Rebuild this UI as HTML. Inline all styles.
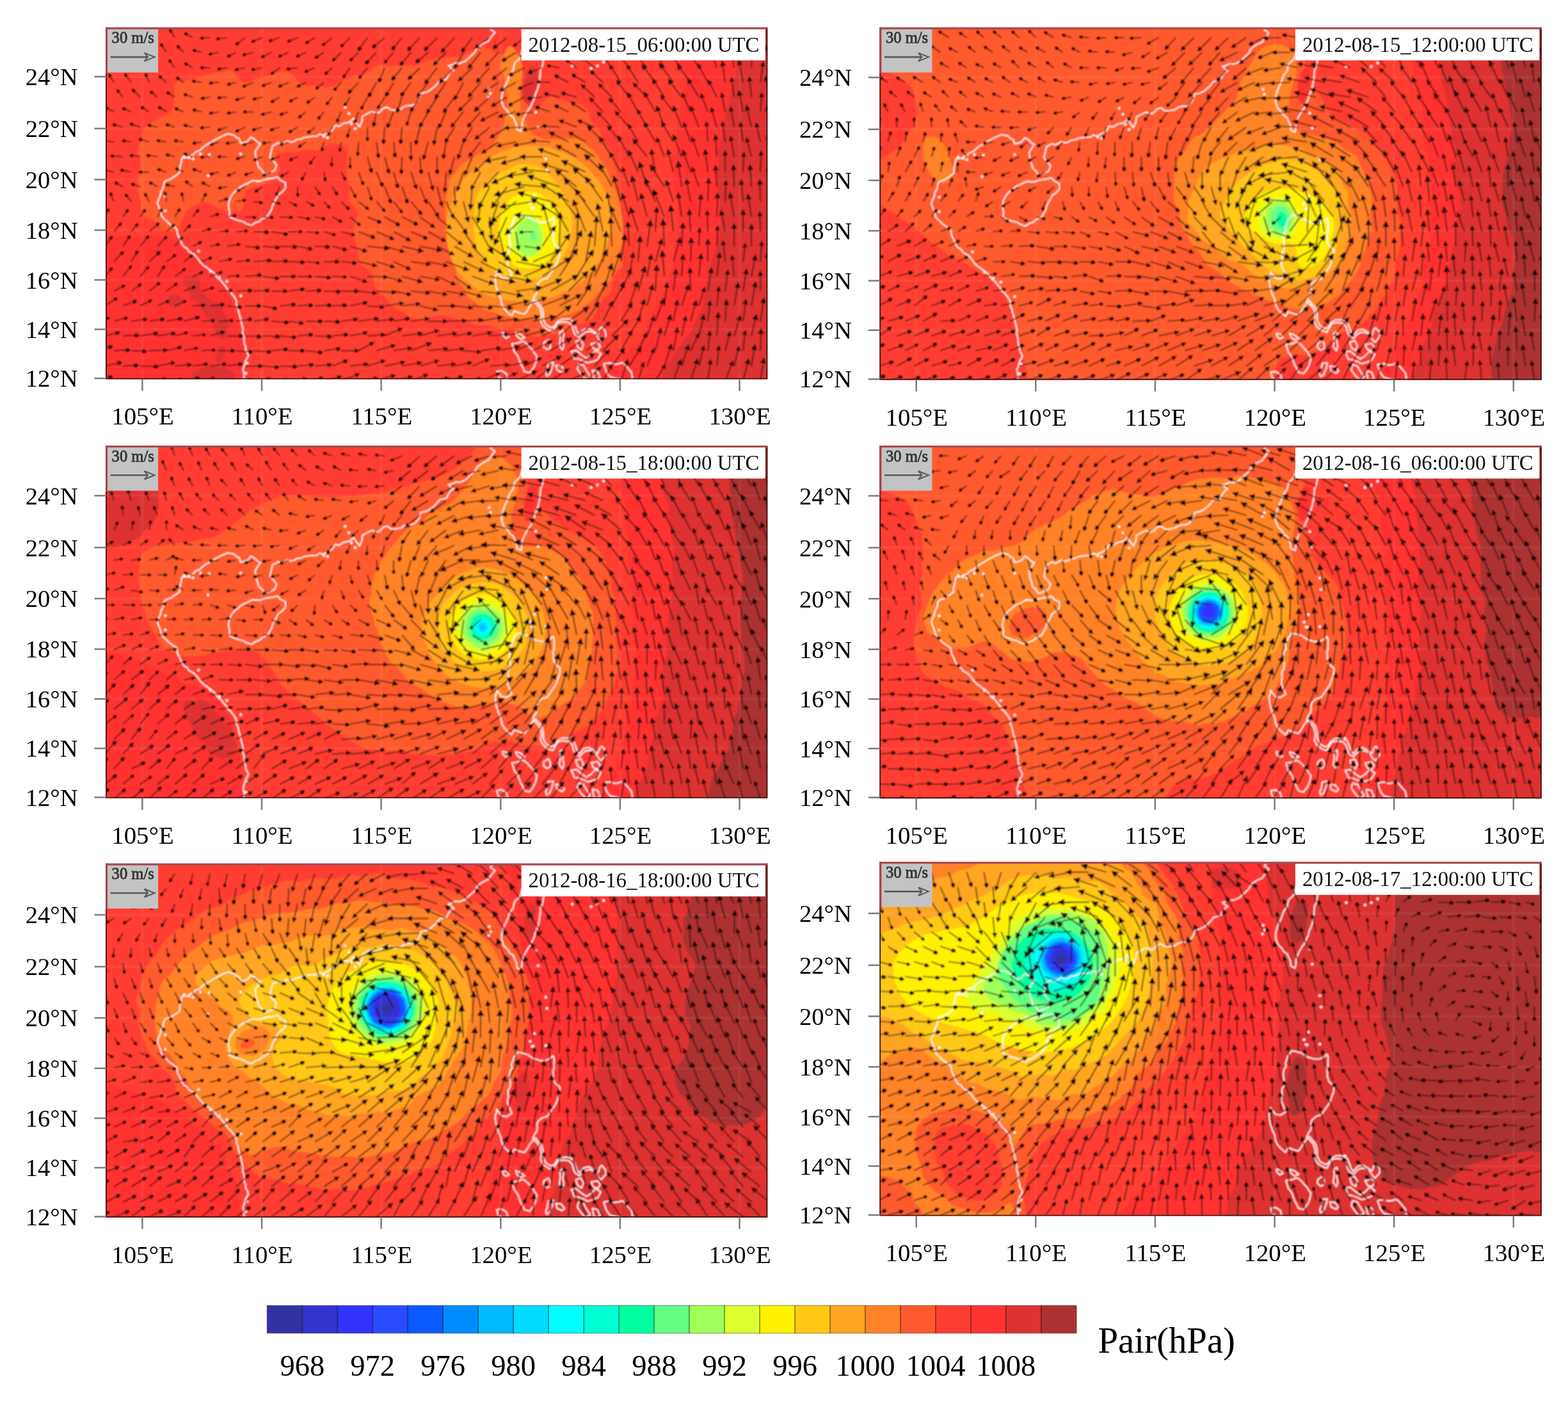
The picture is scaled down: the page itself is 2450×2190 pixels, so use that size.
<!DOCTYPE html>
<html lang="en"><head><meta charset="utf-8"><title>Pair and wind</title>
<style>html,body{margin:0;padding:0;background:#fff}body{width:2450px;height:2190px;overflow:hidden}svg{display:block;font-family:'Liberation Serif', 'DejaVu Serif', serif}</style>
</head><body>
<svg xmlns="http://www.w3.org/2000/svg" width="2450" height="2190" viewBox="0 0 2450 2190">
<rect width="2450" height="2190" fill="#fff"/>
<defs><marker id="a0" viewBox="0 0 5.70 5.99" refX="2.85" refY="2.99" markerWidth="5.70" markerHeight="5.99" markerUnits="userSpaceOnUse" orient="auto" overflow="visible"><path d="M0 0.48Q4.28 0.00 5.70 2.99Q4.28 5.99 0 5.51Q-0.68 2.99 0 0.48z" fill="#0c0200" stroke="none"/></marker><marker id="a1" viewBox="0 0 6.88 7.22" refX="3.44" refY="3.61" markerWidth="6.88" markerHeight="7.22" markerUnits="userSpaceOnUse" orient="auto" overflow="visible"><path d="M0 0.58Q5.16 0.00 6.88 3.61Q5.16 7.22 0 6.64Q-0.82 3.61 0 0.58z" fill="#0c0200" stroke="none"/></marker><marker id="a2" viewBox="0 0 8.05 8.05" refX="4.03" refY="4.03" markerWidth="8.05" markerHeight="8.05" markerUnits="userSpaceOnUse" orient="auto" overflow="visible"><path d="M0 0L8.05 4.03L0 8.05z" fill="#0c0200" stroke="none"/></marker><marker id="a3" viewBox="0 0 9.23 9.23" refX="4.61" refY="4.61" markerWidth="9.23" markerHeight="9.23" markerUnits="userSpaceOnUse" orient="auto" overflow="visible"><path d="M0 0L9.23 4.61L0 9.23z" fill="#0c0200" stroke="none"/></marker><marker id="a4" viewBox="0 0 10.40 10.40" refX="5.20" refY="5.20" markerWidth="10.40" markerHeight="10.40" markerUnits="userSpaceOnUse" orient="auto" overflow="visible"><path d="M0 0L10.40 5.20L0 10.40z" fill="#0c0200" stroke="none"/></marker></defs>
<defs><filter id="bl" x="-2%" y="-2%" width="104%" height="104%"><feGaussianBlur stdDeviation="1.0"/></filter></defs>
<g transform="translate(165.1,42.8)">
<clipPath id="cp0"><rect x="0" y="0" width="1034.2" height="549.6"/></clipPath>
<g clip-path="url(#cp0)"><g filter="url(#bl)">
<rect x="-2" y="-2" width="1038.2" height="553.6" fill="#ff3e32"/><path d="M-26 331l3-1 3 0 4-1 3 0 3-1 3-1 3 0 3 0 4 0 3 0 3-1 4 0 3 0 4 0 3 0 4 0 3 1 4 1 3 1 4 0 3 0 4-1 4 0 3-1 4-1 3 0 3 0 4 0 3 0 4 0 3 1 3 0 4 0 3 1 3 0 3 1 3 1 4 0 3 1 3 1 3 1 3 2 3 2 3 2 3 2 2 2 3 3 3 2 3 2 2 2 3 2 3 2 2 2 3 2 3 2 3 2 2 2 3 2 3 2 2 3 2 3 2 3 2 2 2 3 2 3 2 2 2 3 2 2 2 3 2 3 2 2 3 3 2 3 1 3 2 3 1 3 1 3 1 3 0 4 1 3 0 3 1 4 2 3 1 2 2 3 1 4 1 3 1 3 0 3 1 4 0 3 1 3 1 3 1 4 1 3 1 3 1 4 1 3 0 4 1 3 0 4 1 3 0 4 0 3 0 4 1 4 0 3 0 4 1 3 1 4 1 3 1 4 1 3 0 3 1 4 1 3 0 3 0 4 -1 3 0 3 -1 3 -1 3 -1 3 -1 3 -2 3 -1 3 -2 2 -2 2 -2 2 -3 2 -2 2 -2 2 -2 3 -2 2 -2 2 -2 1 -3 2 -3 2 -2 2 -3 1 -3 2 -2 2 -3 1 -4 1 -3 1 -4 0 -3 1 -3 0 -4 1 -3 1 -4 2 -3 2 -4 1 -3 1 -4 1 -4 0 -4 1 -4 0 -4 0 -4 0 -4 0 -4 0 -4 0 -4 0 -5 0 -4 0 -4 0 -4 0 -5 0 -4-1 -4 0 -4-2 -4-1 -5-1 -4-2 -4-1 -4-1 -4-2 -4-1 -4-2 -4-2 -4-1 -4-2 -4-2 -4-2 -4-2 -3-2 -4-2 -3-3 -3-3 -3-3 -3-3 -3-3 -3-3 -3-3 -3-3 -3-2 -3-3 -3-3 -3-3 -3-3 -3-3 -2-4 -3-3 -2-4 -1-4 -2-4 -1-4 -1-4 -2-4 -2-4 -2-3 -2-4 -3-3 -2-4 -1-4 -1-4 -1-4 -1-4 -1-4 -1-4 -2-4 -1-4 -1-5 -1-4 -1-4 -1-4 0-4 0-4 0-4 0-4 0-4 1-4 0-4 1-4 0-4 0-4 1-4 0-4 0-4 0-4 0-4 0-3 0-4 1-4 1-3 1-4 2-3 1-3 2-4 2-3 2-3 2-2 2-3 2-3 2-2 3-2 2-2 2-2 3-2 2-2 2-2 2-2 3-2 2-2 3-1 3-1 2-2zM903 -25l-2 2 -1 2 -1 3 -1 2 0 3 0 3 0 3 0 3 0 3 -1 3 0 3 -1 4 0 3 0 3 0 4 0 3 1 4 1 3 0 4 0 3 0 4 0 3 0 4 0 3 1 4 0 3 2 4 1 3 1 4 1 3 1 4 1 3 0 4 0 3 0 3 0 4 -1 3 -1 3 -1 3 0 4 -1 3 -1 3 0 3 -1 3 -1 3 -1 3 -1 3 -1 4 0 3 0 3 0 3 0 3 -1 3 0 3 -1 4 -1 3 0 3 -1 3 1 3 0 4 0 3 1 3 0 3 0 4 -1 3 0 3 0 3 -1 3 0 4 -1 3 -1 3 0 3 -1 4 0 3 -1 3 0 3 0 4 0 3 0 3 -1 3 0 4 -1 3 0 3 1 3 0 4 1 3 1 3 1 3 1 3 0 4 1 3 1 3 0 3 1 3 0 4 0 3 0 3 0 3 0 4 0 3 1 3 0 3 0 4 -1 3 0 3 -1 3 -1 3 -2 4 -1 3 0 3 0 3 -1 3 0 4 0 3 0 3 0 3 0 4 0 3 0 3 0 3 0 4 0 3 -1 3 0 3 -2 3 -1 4 -1 2 -2 3 -1 3 -2 3 -1 3 -1 3 -1 3 -1 4 0 3 -1 3 -1 3 -1 3 -2 3 -1 3 -2 2 -2 3 -2 3 -1 3 -1 3 -1 3 -1 3 -2 3 -2 3 -1 2 -2 3 -2 3 -2 3 -1 3 -1 3 -1 3 -1 3 -1 4 -1 3 -1 3 -2 3 -1 3 -2 2 -3 3 -2 2 -3 2 -2 2 -3 2 -3 2 -2 2 -3 2 -3 1 -2 2 -3 2 -3 1 -3 2 -2 2 -2 2 -3 3 -2 2 -2 2 -3 3 -2 2 -3 2 -2 2 -3 3 -1 3 -2 3 -1 3 -1 3 -2 3 -1 3 -1 3 -2 3 -1 3 -1 3 -2 2 -1 3 -1 3 -2 2 -1 3 0 3 -1 2 0 3 0 2 0 3 0 2 0 2 1 3 0 2 0 3 2 2 1 2 2 1 2 2 2 1 2 1 2 1 2 1 2 1 3 1 2 1 2 1 3 1 2 1 2 1 3 2 2 1 3 0 3 1 3 1 3 0 3 1 3 2 3 1 3 2 3 1 3 1 4 0 4 1 3 0 4 0 4-1 4 0 4 0 3-1 4 0 4-1 4-1 5-1 4-1 4 0 4 0 4 0 5 0 4 0 5 0 4 0 5 0 4-1 5-1 4-1 5-1 4-2 5-1 4-1 5-1 4-1 5 0 5-1 5-1 4-1 5-2 4-1 5-2 5-2 4-1 5-1 5-1 4-2 5-1 5-2 4-2 4-3 4-3 4-3 4-2 4-3 4-3 4-2 4-3 4-2 5-2 4-1 4-2 5-2 4-2 4-2 4-2 4-2 4-3 4-2 4-2 4-2 4-3 3-2 3-3 4-3 3-3 3-3 4-3 3-2 4-3 3-3 3-3 3-3 2-4 3-3 2-4 3-3 3-3 3-3 2-3 3-3 3-3 3-3 3-3 3-3 3-3 3-3 3-3 2-4 3-3 2-3 2-4 3-3 3-3 2-3 3-3 2-4 2-3 1-4 2-4 1-4 1-4 1-4 2-4 1-4 1-3 1-4 1-4 1-4 2-4 1-3 2-4 1-3 1-4 2-4 0-4 2-4 1-3 1-4 2-3 2-4 2-4 2-3 1-4 1-4 0-4 1-4 0-3 1-4 0-4 0-4 0-4 0-4 -1-4 0-4 0-4 0-4 0-3 1-4 1-4 0-4 1-4 1-4 0-3 1-4 0-4 -1-4 0-4 -1-4 -1-4 0-3 0-4 0-4 0-4 0-4 0-4 0-3 -1-4 -1-4 -1-4 -1-3 -1-4 0-4 0-4 -1-4 0-4 -1-3 -2-4 -1-3 -2-4 -3-3 -2-3 -2-4 -2-3 -2-3 -1-4 -2-3 -1-4 -1-3 -1-4 -1-4 -1-3 -2-4 -1-3 -1-4 -2-3 -1-4 -1-4 -2-3 -2-4 -2-3 -2-3 -2-3 -3-3 -2-3 -2-3 -2-3 -2-4 -2-3 -2-3 -3-3 -3-2 -3-3 -3-2 -3-3 -2-2 -3-3 -3-3 -2-3 -3-3 -2-3 -3-3 -2-3 -3-3 -2-3 -3-3 -3-2 -3-3 -3-2 -3-3 -3-2 -3-3 -3-3 -2-3 -4-2 -3-3 -4-2 -3-1 -4-2 -4-1 -4-1 -4-2 -3-1 -4-2 -4-1 -4-1 -4-2 -4-1 -4-2 -3-2 -4-2 -4-1 -4-2 -4-1 -4-1 -4-1 -4-2 -4-2 -3-2 -4-2 -4-2 -4-1 -4-1 -4-1 -4-1 -4 0 -4-1 -3 0 -4 0 -4 0 -4 0 -4 1 -3 0 -4 1 -4 0 -3 0 -3 0 -4-1 -3 0 -3 0 -4 0 -3-1 -3 1 -3 0 -3 1 -2 1 -3 1 -2 2 -2 2 -3 1 -2 1 -2 1 -3 1 -2 1 -2 2 -2 2 -1 2 -2 3z" fill="#ff3232"/><path d="M982 -27l-1 2 -1 3 -1 3 -1 2 0 3 0 3 0 3 0 3 0 3 0 4 0 3 1 3 1 4 1 3 1 4 1 4 1 3 0 4 1 4 0 3 0 4 -1 4 0 3 1 4 0 4 1 3 0 4 0 3 0 3 -1 4 -1 3 -1 3 -1 3 -1 3 0 3 -1 4 -1 3 -1 3 -1 3 0 3 -1 3 -1 3 0 3 -1 3 -1 3 -1 3 -1 3 -1 3 -1 4 -1 3 0 3 -1 3 0 3 -1 4 -1 3 -1 3 0 3 -1 3 0 4 0 3 0 3 -1 3 0 4 -1 3 -1 3 -1 3 -1 3 -1 3 0 4 0 3 1 3 0 4 0 3 0 3 -1 3 0 3 -1 4 0 3 -1 3 0 3 0 3 0 4 0 3 0 3 1 3 0 4 1 3 1 3 1 3 0 3 1 4 -1 3 0 3 0 3 0 4 0 3 1 3 0 3 1 4 0 3 0 3 1 4 -1 3 0 3 0 3 -1 4 -1 3 0 3 -1 3 -1 3 0 3 -1 4 -1 3 0 3 -1 3 -2 3 -1 3 -1 3 -1 3 -1 3 -1 3 -1 3 0 4 -1 3 -1 3 -1 3 0 3 -1 3 -1 4 -1 3 0 3 -1 3 0 3 -1 4 0 3 -1 3 -1 3 0 3 -1 3 -1 4 -1 3 0 3 0 3 -1 4 -1 3 0 3 -2 3 -1 3 -2 3 -2 2 -2 3 -1 3 -1 3 -2 3 -1 3 -1 4 -1 2 -2 3 -2 3 -2 2 -2 3 -2 2 -3 3 -1 2 -2 3 -2 2 -2 3 -2 3 -2 2 -1 3 -2 3 -2 3 -2 2 -2 3 -2 3 -2 3 -2 3 -1 3 -1 3 -2 3 -1 4 -1 3 -1 3 -1 3 -1 4 -1 3 0 3 0 3 0 4 0 3 0 3 0 3 0 3 0 2 1 3 1 3 1 2 2 2 2 2 2 1 2 2 2 1 2 2 2 1 2 2 3 1 2 2 2 1 3 1 3 1 2 1 3 1 3 0 4 0 3 0 3-1 3 0 4 0 3 0 4 0 3 1 4 0 4 0 3 0 4 0 4-1 4 0 4-1 4-1 4 0 4-1 4 0 4-1 5 0 4-1 4 0 5-1 4-1 4-1 5-1 4-1 4-2 5-1 4-1 5-2 4-1 4-1 5-2 4-2 4-2 4-2 4-2 4-2 4-3 4-2 4-2 4-2 4-2 3-3 4-2 4-3 3-2 4-3 3-3 3-2 4-3 3-3 4-2 3-3 3-3 3-4 3-3 2-3 3-3 3-3 3-3 4-3 3-2 3-3 3-3 3-3 2-4 2-3 2-4 3-3 2-4 3-3 3-3 3-3 2-3 3-3 2-4 3-3 2-4 2-3 2-4 2-3 2-4 2-3 2-4 2-3 2-4 3-3 2-4 2-3 2-4 2-4 2-3 1-4 2-4 2-4 1-3 2-4 2-4 1-4 1-4 1-4 1-4 1-4 2-4 1-4 2-3 1-4 1-4 1-4 0-4 0-5 0-4 1-4 0-4 0-4 1-4 0-4 1-4 1-4 0-4 1-4 0-4 0-4 1-4 -1-4 0-4 0-4 -1-4 -1-4 0-4 -1-4 1-4 0-4 0-4 0-4 0-4 0-4 0-4 -1-4 -1-4 0-4 -1-4 0-4 -1-4 0-3 0-4 0-4 0-4 -1-4 0-4 -1-4 -1-4 0-4 -1-4 -1-3 -1-4 -1-4 0-4 -1-4 -1-4 -2-3 -1-4 -2-3 -1-4 -2-3 -2-4 -1-3 -2-4 -1-3 -2-4 -2-3 -2-4 -2-3 -2-3 -2-3 -2-4 -2-3 -2-3 -2-3 -2-3 -3-3 -2-3 -3-3 -2-3 -3-2 -3-3 -3-3 -2-3 -2-3 -2-3 -2-3 -3-3 -2-2 -3-3 -3-2 -3-2 -4-2 -2-3 -3-2 -3-3 -3-3 -2-2 -3-3 -3-2 -3-2 -3-3 -4-2 -3-2 -3-2 -3-2 -4-1 -3-2 -4-2 -3-2 -3-3 -4-2 -3-2 -3-2 -4-1 -4-2 -4-2 -3-1 -4-2 -4-1 -4-2 -4-1 -4-1 -4-1 -4-1 -4 0 -4-1 -4-1 -4-1 -3-1 -4-1 -4 0 -3 0 -4 0 -3 1 -3 1 -3 1 -3 2 -3 1 -2 1 -2 1 -3 1 -2 1 -2 2zM123 391l3-2 4-1 4 0 4 1 4 0 3 2 2 3 1 4 0 4 0 4 1 4 1 3 3 3 3 2 3 3 2 2 3 3 3 1 4 1 4 1 4 2 2 3 1 4 1 3 2 4 1 3 2 3 2 3 1 3 1 3 0 4 0 4 -1 4 -1 4 -1 3 0 3 -1 3 -3 2 -4 0 -4-2 -3-3 -3-4 -1-4 -1-3 -1-4 -1-3 -1-3 -3-3 -2-3 -3-2 -3-2 -1-4 -2-3 -2-3 -2-3 -2-3 -1-3 -2-3 -3-2 -3-1 -4-2 -1-4 -1-4 -1-5 -2-3 -2-3 -3-3 -2-4 0-3zM121 427l-1 3 -1 2 -2 2 -2 2 -2 1 -3 1 -2 0 -3-1 -3 0 -2-2 -2-2 -1-2 -1-2 0-3 1-3 1-2 2-1 2-2 3-1 3 0 2 0 3 1 2 1 2 1 2 2 1 3zM186 513l-1 3 -2 2 -1 2 -2 2 -2 2 -3 0 -2-2 -1-2 -1-3 0-2 1-3 0-2 0-3 2-2 1-2 2-3 2-1 3-1 2 0 2 3 1 2 0 3 0 2 -1 3zM201 544l0 3 -1 2 -2 2 -2 2 -2 1 -2 1 -3 1 -2 0 -3 1 -2 1 -2 1 -3 0 -3 0 -2 1 -3 0 -2 0 -3 0 -3-1 -2 0 -3 0 -2 0 -3-1 -3-1 -2 0 -2-1 -3-2 -2-1 -2-2 -1-3 -1-2 -1-3 1-2 1-3 2-1 2-2 2-1 3 0 2-1 3-1 2-1 3 0 2-1 3 0 2-1 3 0 2 0 3 0 3 0 2 0 3 1 3 0 2 0 3 1 2 1 3 1 2 1 2 1 2 2 2 2 1 3zM674 92l-1 3 -2 2 -1 2 0 3 0 2 0 3 0 3 -1 2 -1 3 -2 2 -2 1 -3 1 -2 1 -2-1 -2-2 -1-2 -1-3 0-3 0-2 0-3 -1-2 0-3 0-2 1-3 0-2 0-3 0-3 1-2 1-3 1-2 0-3 0-2 1-3 2-2 1-2 1-2 2-2 2-2 3 0 2 1 0 3 1 2 2 2 1 2 0 3 0 3 0 2 0 3 0 2 1 3 0 3z" fill="#de3232"/><path d="M370 184l4 2 2 3 1 3 0 4 0 4 0 4 0 3 0 4 0 5 0 4 0 4 0 4 1 4 0 4 1 4 1 4 1 3 0 4 0 4 0 3 -1 4 0 3 0 4 1 3 2 3 3 3 3 3 2 3 2 3 1 4 -1 4 -1 4 -1 3 -2 4 -1 3 0 3 -1 4 1 4 0 3 1 4 1 4 0 3 1 4 1 3 1 3 1 3 0 3 1 4 0 4 1 4 1 3 1 4 3 3 3 2 3 2 4 3 2 2 3 3 1 3 1 4 1 4 0 4 1 3 2 4 2 2 2 3 3 2 3 3 2 2 2 3 2 3 3 3 2 3 2 3 3 2 2 2 3 3 4 1 3 2 3 2 3 2 4 1 3 2 3 2 3 1 3 2 3 1 4 0 3 0 4 0 3-1 4-1 3-1 4-1 3-1 4-1 4 0 3 0 4 0 4 1 3 1 3 1 4 1 3 1 4 1 3 0 4 1 3 1 4 1 3 2 4 1 3 1 3 1 4 1 4 0 3 0 4 0 4 0 3 0 4 1 3 1 3 2 4 1 3 1 4 0 3 0 4 0 4-1 4 0 3 1 4 1 3 2 3 2 3 2 4 1 3 1 4 1 3 1 4 1 3 0 4 0 4 0 3-1 4-1 3-1 4 0 3-1 4 0 4 0 3 0 4 0 4-1 3-2 3-2 2-3 3-3 3-2 3-2 3-1 4 0 4-1 4 0 4-1 3-2 3-2 3-3 2-3 2-3 2-3 2-4 1-3 2-3 2-3 2-3 2-3 2-2 3-3 3-2 2-3 2-3 2-3 0-4 1-4 0-4 0-4 2-3 1-3 3-3 2-2 3-3 3-3 1-3 1-4 1-3 -1-4 0-4 0-3 -1-4 1-4 0-3 0-4 0-4 0-3 0-4 -1-4 0-3 -1-4 -1-3 -1-4 0-3 0-4 -1-3 1-4 0-4 0-3 0-4 0-3 0-4 0-3 -1-4 0-3 -1-4 0-3 -1-4 0-4 -1-3 0-4 0-3 0-4 0-3 0-4 0-4 -1-3 -1-4 -1-3 -1-4 -1-3 0-3 -1-4 -1-4 -1-3 -1-3 -2-4 -3-2 -2-3 -3-3 -2-3 -1-3 -2-3 0-4 -1-4 -1-3 -2-3 -2-3 -3-2 -3-3 -3-3 -2-3 -1-3 -1-4 -1-3 -1-3 -2-4 -2-3 -3-2 -2-2 -4-2 -3-2 -3-1 -4-1 -4-1 -3 0 -4-1 -4 0 -3-1 -3-1 -4-1 -3-1 -4-2 -4 0 -3 0 -4 2 -3 3 -2 3 -2 2 -3 3 -3 3 -3 2 -4 1 -4 0 -1-2 -1-1 -2-2 -3-3 -2-2 -3-4 -3-3 -3-3 -2-3 -2-3 -2-4 -1-3 -1-4 1-3 1-4 1-3 2-3 2-3 1-4 0-3 0-4 -1-4 0-5 0-4 0-2 1-2 0-1 -1-3 -3-2 -3-1 -4 0 -5 0 -4 1 -5 0 -4 1 -4-1 -4-1 -4-1 -3-2 -3-3 -3-2 -3-1 -3-1 -4 0 -3 1 -3 2 -3 2 -3 2 -3 1 -4 2 -3 2 -4 1 -4 1 -3 1 -4 0 -3 1 -4 0 -3 1 -4 0 -4 0 -3 1 -4 0 -3 1 -4 0 -3 1 -3 0 -4 1 -3 1 -4 1 -3 1 -4 1 -3 2 -3 1 -3 1 -4 1 -3 0 -4 0 -3 0 -4-1 -3 0 -4 0 -4 0 -3 1 -4 0 -4 1 -3 0 -4-1 -3 0 -4-1 -4 0 -3 1 -3 1 -3 2 -3 3 -3 2 -3 2 -3 2 -3 1 -4 1 -4 1 -3 0 -4 1 -4 2 -3 1 -3 2 -4 1 -3 2 -4 1 -3 2 -3 2 -3 2 -4 1 -3 1 -4 1 -3 0 -4-1 -3-1 -4-1 -3 0 -3 0 -4 0 -4 1 -5 0 -4-1 -3-2 -3-2 -3-3 -3-4 -3-3 -3-3 -3-2 -3-2 -4 0 -4-1 -4 0 -4 1 -3 1 -3 1 -3 1 -3 1 -3 1 -3 1 -4 1 -4 1 -3 1 -4 1 -4 1 -2 1 -3 2 -3 1 -4 1 -4 0 -3-1 -4-3 -2-2 -3-4 -2-3 -3-3 -3-2 -4-1 -3 0 -4 1 -3 1 -3 1 -4 0 -3 1 -4 1 -3 0 -4 1 -4 1 -4 1 -3 1 -4 2 -4 1 -3 1 -4 1 -5 1 -4 0 -3 1 -4 0 -3 0 -3 1 -3 1 -2 2 -1 3 -1 3 0 4 0 4 0 4 0 4 0 4 1 4 -1 4 -1 4 -1 3 -2 3 -3 2 -2 2 -3 2 -3 2 -4 1 -3 2 -3 2 -4 2 -3 1 -4 2 -3 2 -3 2 -3 3 -2 3 -1 4 -1 4 -1 3 -1 4 -1 3 -1 3 -2 3 -1 4 -1 3 0 4 0 3 2 4 1 4 1 3 1 4 0 3 -1 4 -1 4 -1 3 0 4 -1 4 -1 3 0 4 0 3 0 4 0 4 0 3 1 4 1 3 1 4 1 3 1 4 0 3 1 4 0 3 1 4 1 4 2 3 3 2 4 2 3 2 4 1 3 2 2 2 2 3 3 3 2 3 4 3 3 2 4 0 5 0 4-2 3-2 3-3 3-3 2-3 2-3 1-3 2-3 1-3 1-4 2-3 3-3 2-1 3-1 2-2 2-1 3-2 4-2 3-1 5-1 4 0 5 2 4 2 4 2 4 3 5 2 4 2 4 2 5 0 4 0 4 0 3 0 3 0 3-1 3-2 2-2 1-3 1-4 0-4 0-4 1-4 0-3 2-3 2-3 2-2 3-2 4-1 3-1 4-1 3-1 4-1 4-1 4-2 3-1 4-2 3-2 3-3 3-3 2-3 1-3 1-3 0-3 -1-3 -2-4 -1-4 -1-3 -1-3 1-2 1-2 3-2 4-1 4-1 5 0 4 0 4 0 3 0 4 0 3-1 4-1 3-1 3-1 4 0 3 0 4 0 3 1 4 0 4-1 4-2 4-2 3-2 4-2 4-1 4-1 3 1 4 1 3 2z" fill="#ff5a2d"/><path d="M532 305l0-4 -1-4 0-3 0-4 0-3 0-4 0-4 0-3 0-4 0-4 1-3 1-4 1-3 0-4 1-3 1-4 0-4 1-4 2-3 2-3 3-3 2-3 2-3 3-3 2-3 2-3 3-2 3-2 3-2 4-2 3-1 3-2 3-2 3-3 3-2 3-1 3-2 4-1 3-1 4-2 3-2 2-3 2-3 2-4 2-3 2-3 2-3 2-3 2-4 1-3 1-4 1-3 1-4 1-3 1-4 1-4 1-3 0-4 0-4 0-4 1-3 0-4 0-3 -1-4 0-3 -1-4 0-3 -1-3 0-3 -1-4 0-3 0-3 -1-4 -1-3 -2-4 -1-4 -2-4 0-4 1-5 1-4 2-5 2-4 2-4 1-3 2-3 3-1 3 0 3 2 3 3 2 4 2 4 2 3 2 4 1 3 1 4 1 3 0 4 0 4 0 3 0 4 -1 3 0 4 0 3 0 4 -1 3 0 4 -1 4 0 3 0 4 0 3 0 4 0 4 0 3 0 4 0 4 1 4 1 3 1 4 2 3 2 3 1 4 2 3 2 3 2 4 2 3 2 3 4 2 3 2 3 1 4 2 3 1 3 1 4 0 3 0 4 0 3 0 4-1 3 0 4 0 4 0 4 0 3 0 4 0 4 0 4 0 4 1 3 1 4 2 3 2 3 3 2 2 3 2 3 3 3 2 3 3 2 3 3 3 1 3 2 3 2 3 2 3 3 3 2 3 2 3 1 3 1 4 1 4 0 3 1 3 2 4 2 3 1 3 2 3 2 3 1 3 1 4 1 3 1 4 1 3 1 4 1 3 1 3 0 4 1 4 0 3 1 4 0 3 1 4 0 3 0 4 0 4 0 3 0 4 0 3 0 4 0 4 -1 3 -1 4 -1 3 -1 4 -1 3 0 4 0 4 0 3 0 4 -1 4 -1 3 -2 3 -2 3 -3 3 -2 3 -2 4 -1 3 -2 3 -1 3 -2 3 -3 3 -2 3 -3 2 -2 3 -3 3 -2 3 -2 2 -3 3 -2 2 -3 3 -3 2 -3 2 -3 2 -2 2 -3 3 -3 2 -3 2 -3 1 -4 2 -3 1 -3 2 -4 1 -3 1 -3 1 -4 1 -3 0 -4 1 -4 0 -3 0 -4 1 -3 1 -4 1 -3 0 -4 0 -3 0 -4-1 -3 0 -4-1 -4 1 -3 0 -4 0 -3 0 -4 0 -4 0 -3-1 -4-1 -3 0 -4-1 -3 0 -4-1 -4-1 -3-1 -3-1 -4-2 -3-1 -4-1 -4 0 -3-2 -4-1 -3-2 -3-2 -2-3 -3-2 -3-3 -3-2 -3-2 -3-2 -2-3 -2-3 -2-4 -1-3 -2-3 -2-3 -3-3 -2-3 -1-3 -2-3 -1-4 0-4 -1-3 0-4 -2-3 -1-3 -2-4 -1-3 -2-3 -1-3 0-4 -1-3 -1-4 0-3 -1-4 -1-3 -1-4 0-3 0-4 -1-3 0-4 0-4 0-3 -1-4z" fill="#ff8228"/><path d="M788 308l0 3 0 4 0 3 -1 4 -1 4 -1 3 0 4 -1 3 -1 4 -1 3 -2 3 -1 4 -1 3 -2 3 -2 4 -2 3 -1 3 -2 3 -2 3 -3 3 -2 3 -2 3 -3 2 -2 3 -3 2 -2 3 -3 3 -2 2 -3 3 -3 2 -3 2 -3 2 -3 2 -3 2 -3 2 -3 1 -4 1 -3 2 -3 1 -4 2 -3 1 -3 1 -4 2 -3 1 -4 1 -3 0 -4 1 -3 0 -4 1 -3 0 -4 1 -4 0 -3 1 -4 0 -3 0 -4 0 -3 0 -4 0 -4-1 -3 0 -4 0 -3-1 -4 0 -3-1 -4-1 -3-1 -4-1 -3 0 -4-1 -3-1 -4-1 -3-2 -3-1 -4-2 -3-2 -3-2 -3-2 -3-2 -3-2 -3-2 -2-3 -3-2 -3-3 -2-2 -3-3 -2-3 -3-2 -2-3 -2-3 -2-4 -1-3 -2-3 -1-4 -2-3 -1-3 -1-4 -1-3 -1-4 -1-3 -1-4 0-3 -1-4 0-3 0-4 -1-4 0-3 0-4 0-3 0-4 1-4 0-3 1-4 0-3 1-4 1-3 1-4 1-3 1-3 1-4 1-3 2-4 1-3 2-3 2-3 2-3 2-3 2-3 1-3 2-3 2-3 2-3 3-3 2-3 3-2 2-3 3-2 3-3 2-2 3-2 3-3 3-2 3-2 3-2 3-2 3-2 3-1 3-2 4-2 3-1 3-2 4-1 3-1 3-1 4-2 3-1 4-1 3-1 4-1 3 0 4-1 4 0 3 0 4 0 4 0 3 0 4 0 3 1 4 0 4 0 3 1 4 0 3 1 4 1 3 1 4 1 3 2 3 1 3 1 4 2 3 1 3 2 3 1 4 2 3 2 3 2 2 2 3 2 3 2 3 3 3 2 2 2 3 3 2 3 3 2 2 3 2 3 3 2 2 3 2 3 2 3 2 3 2 3 1 4 2 3 1 3 2 4 1 3 1 4 1 3 0 4 1 3 1 4 0 4 1 3 0 4 1 3 -1 4z" fill="#ffa523"/><path d="M729 306l0 3 0 4 -1 3 0 4 -1 4 0 3 -1 4 -1 3 -1 4 -1 3 -2 3 -1 4 -2 3 -2 3 -1 3 -2 3 -2 3 -2 3 -2 3 -3 3 -2 2 -3 3 -3 2 -2 3 -3 2 -3 2 -3 2 -3 2 -4 1 -3 2 -4 0 -4 1 -3 0 -4 0 -4 1 -3 0 -4 0 -4 0 -3-1 -4 0 -4-1 -3-1 -3-1 -4-2 -3-2 -3-1 -3-2 -3-1 -4-2 -3-2 -3-2 -3-2 -2-2 -3-3 -2-2 -2-3 -2-4 -2-3 -1-3 -2-3 -1-4 -2-3 -1-3 -1-4 -1-3 -1-4 0-4 0-3 -1-4 0-4 0-3 0-4 0-3 0-4 0-4 0-3 0-4 0-3 0-4 1-3 0-4 1-4 1-3 1-4 1-3 2-4 1-3 2-3 3-3 2-3 3-2 2-3 3-2 3-3 3-2 2-2 3-2 4-2 3-1 3-2 3-2 4-1 3-2 3-1 3-2 4-1 3-2 4-1 3 0 4 0 4 0 3 0 4 1 3 1 4 0 4 1 3 2 3 1 3 2 3 2 3 3 2 3 3 2 2 3 2 3 3 3 2 2 2 3 2 3 2 3 2 3 2 3 2 3 2 3 2 3 1 4 2 3 1 3 1 4 1 3 1 4 1 3 0 4 1 3 0 4z" fill="#ffc814"/><path d="M708 317l0 4 -1 3 0 4 0 3 0 4 -1 4 -1 3 -1 3 -2 4 -2 3 -2 3 -2 3 -2 3 -3 2 -2 3 -3 3 -3 2 -3 2 -4 1 -3 1 -4 1 -3 1 -4 0 -4 0 -3-1 -4 0 -4-1 -3-1 -4-2 -3-2 -3-3 -2-3 -2-2 -2-3 -3-3 -2-3 -1-3 -2-3 -1-4 -2-3 -1-3 -2-4 0-3 0-4 0-3 0-4 0-4 0-3 1-4 0-3 1-4 0-4 1-3 1-4 2-3 2-3 2-3 2-3 1-4 2-3 3-3 3-2 3-2 4-1 3-2 3-1 4-1 3-1 4-1 3 0 4 0 4 0 3 1 4 1 3 2 3 2 3 3 3 2 2 3 2 2 2 3 3 3 2 3 2 3 2 3 1 4 1 3 1 4 1 4 0 3 1 4 0 3z" fill="#fff200"/><path d="M685 326l0 3 0 3 0 2 -1 3 0 2 -1 3 -1 2 -1 2 -2 2 -2 2 -1 3 -2 1 -2 2 -2 2 -2 1 -2 1 -2 1 -3 1 -2 0 -3 0 -2-1 -3 0 -2-1 -2-1 -2-2 -2-1 -2-2 -3-2 -1-2 -2-2 -1-2 -1-3 -1-2 -1-3 -1-2 0-3 0-3 0-2 0-3 0-3 0-2 0-3 1-2 1-3 1-2 1-3 1-2 2-2 1-2 2-2 2-1 2-2 2-2 2-1 2-1 3-1 2 0 3-1 2 0 3 1 2 1 2 1 3 1 2 2 2 2 2 2 1 2 2 2 2 2 1 2 1 3 1 2 0 3 1 2 0 3 0 3z" fill="#dcff2d"/><path d="M683 328l-1 3 -1 3 0 2 0 3 -1 2 -2 2 0 3 -1 3 -2 2 -2 2 -2 1 -2 2 -3 0 -3 1 -2 0 -3 0 -2-1 -2-2 -2-1 -2-1 -2-2 -2-2 -2-2 -1-2 -1-3 0-2 -1-3 0-3 1-2 -1-3 -1-2 0-3 1-2 1-3 0-3 1-2 1-3 2-1 2-2 2-2 2-2 2-1 2-2 2-1 3 0 3 1 2 0 3 1 2 2 2 2 2 1 1 3 1 2 1 2 1 3 1 2 0 3 2 2 1 3z" fill="#a0ff5a"/><path d="M672 325l1 3 -1 2 -2 2 -2 1 -2-1 -2-2 -1-2 1-3 0-2 0-3 2-2 2-1 2 1 1 2 1 3z" fill="#64ff82"/>
<path d="M57.3 0V549.6M243.9 0V549.6M430.5 0V549.6M617.2 0V549.6M803.8 0V549.6M990.4 0V549.6M0 471.7H1034.2M0 394.5H1034.2M0 316.6H1034.2M0 237.7H1034.2M0 157.9H1034.2M0 76.9H1034.2" stroke="#fff" stroke-opacity="0.09" stroke-width="2" fill="none"/>
<path d="M215.9 551.9L216.4 542.6L214.5 533.2L216.7 528.4L218.5 521.1L223.1 512.8L222.1 509.5L218.6 503.1L218.9 498.9L216.7 493.7L216 482.6L213.9 477.2L214.8 472.9L213.8 467L211.9 460.4L210.8 454.2L209.4 450.1L207.9 444.6L206.5 438L204.1 432.8L204.6 427.5L201 421.1L194.6 412.8L191.4 411L187.6 404.6L183.6 400.1L179.8 395L174.6 391.1L171.5 386.3L167.6 382.1L162.2 378.2L156.3 374L152.5 371.4L147.6 366.3L143.3 360L138.3 354.7L130.1 350L126.7 344.8L122.9 343.5L118.4 337L115.9 330.2L112.6 324.2L111 314.8L105.1 310.6L98.4 306L94.2 301.4L90.3 298.3L86.9 293.1L85.7 286.6L83 280.7L80.8 274.3L82.9 267.9L85.6 262.6L86.3 257L89.9 250.8L90.9 242.8L94.5 239.2L101.1 237L105.2 234.1L109.8 231.5L115.8 226.7L115.7 220.9L117.9 211.5L119 204.3L128 203.2L131.3 200.7L136.8 198.8L140.5 194.5L146.9 192.3L152.5 186.8L158.7 182.8L163.7 180L169.6 176.3L174.2 173.9L180.6 170.5L187.6 167.5L191.1 166.4L200.2 168.1L204.5 172.1L208.9 174.1L211 180.9L215.5 179.8L221.1 178.2L227.2 171.2L231.5 173.8L240.5 181.6L241.9 181.1L238.8 186L233.6 193.9L234.8 203.7L237.2 211.6L239.3 218.9L244.9 223.9L248.2 229.6L256.7 226.8L264.3 223.2L267.1 214.9L261.8 208.4L256.8 203L258.7 193.3L260.9 184.9L264.7 183.1L269.4 180.1L273.7 182.5L278.3 180.7L283.7 177.2L289.3 179.2L295.5 177.5L298.3 175.2L304.9 174.4L310.5 171.9L320.5 170.6L330.3 170L333.7 166.9L340.2 168.3L347.9 164.4L354.6 160.1L359 152.8L363.2 154.5L367.1 153L371.6 149.7L377.6 148.8L382.9 146.8L387.1 142L391.9 148.9L396.5 155.5L400.5 146.7L401.2 138.9L407 135.7L413.4 132.2L416.9 131.3L421.5 133.2L427 133.1L434.3 125.8L440.3 124.7L445.2 128.5L450.7 129.4L456.5 128L460.9 127.6L466.3 123.8L473.3 121.7L477.7 122.3L483.4 120.1L489.3 112.9L491.2 108L492.1 103.2L500.8 101.4L507.3 98L514.7 91.8L519 86.9L521.7 83.1L532.3 81L535.6 74.6L540 68.4L544.2 66.6L539.9 63.6L535.4 59.8L540.6 58.7L546.9 55.4L552.7 56.2L556.3 55L561.8 52.9L568 47.1L576.2 39.6L580.9 31.5L589.2 25.6L597.7 21.7L602.3 15L608.4 7.6L601.3 2.9L606.1 -4.8M648.3 46.3L644.2 51.3L639.4 55.3L637.6 61.5L636.8 66.6L633.1 71.3L630.9 74.6L628.7 81.3L627 85.9L624.8 89.9L622.4 95.4L620.4 101.4L619 107.7L618.7 115.2L620.5 120.6L622.1 125L628.6 131.6L631.4 136.6L636.7 139.9L639.3 146L641.5 150.2L642.3 155L642.5 159.4L649.1 162.4L650.6 154.3L650.9 148.4L652.8 142.8L655 137.7L658.4 132.1L660.8 127.6L664.2 123.9L666.8 117.1L669.9 111L670.9 105.2L673.5 100.1L676.1 92.1L677.5 85.2L678.6 78.7L679.2 71.1L679.4 66L682.1 61.1L683.6 53.2L684.6 47.2L684.5 43.1L682.9 35.9L679.5 30.4L675.1 26.4L670.1 22L663.2 25.2L658.4 28.7L654.8 33.7L650.9 36.3L649.3 41.4ZM211 248.7L217.2 245.4L220.9 244.1L225.6 241.1L230.6 239.3L236.5 240.2L241.5 240.2L249.9 237.2L256.2 236.2L261.7 235.5L268.7 233.7L273 239L280.8 242.6L281 251.1L276.3 256.6L269.4 261.6L266.5 267.5L261.2 277.2L259.6 283.4L257.5 287.3L253.1 294.5L243.3 299.9L239.2 303.5L234.2 304.7L228.1 309.2L219.3 306.4L216.6 304.2L211.8 302.5L207.1 301.6L201.8 299.7L192.9 295.8L193.7 288.1L192.5 282.3L191.9 278L193.4 269.1L197.6 261.1L202.4 255.9L207.1 252.6ZM637.7 299.7L641.1 295.4L643.8 291.4L652.1 293L659.8 295.4L668.3 301.5L673.5 302.7L678.2 304.4L687 304.4L695.2 300.6L699.1 296.7L700.8 301.7L700.6 312.4L700.6 316.2L698.8 322.1L699.7 327.2L699.1 330.8L701.5 337.7L702.7 340.4L709.9 346.2L709.2 356.1L707.1 361.3L705.5 366.5L703.9 370.9L701.3 375.5L695.5 383.6L690.3 391.4L681.9 394L675.4 399.8L674 404.4L674.4 409.5L673.8 414.4L670.1 420.1L667.3 426.1L672.9 431.8L678 437.8L679.7 444L680.9 449.1L679.5 458.9L683.2 466.4L692.3 472.9L698.8 475L701.8 469.1L706.7 461.4L714.9 459.9L723.7 461L729.1 466.6L731.1 474.8L733.6 480.1L740.5 484.5L744.1 480.3L749.2 476.1L757 474.7L765.5 478.7L770.3 486.6L774.3 490.5L781.5 482.1L780.9 474.9L775.2 468.1L772.2 471L770.7 475.7L769.6 479.3L762.2 474.5L755.1 470.3L747.2 471.9L740.3 479.9L736.6 475.8L734.1 467.5L730.8 459.7L723.3 455.3L712.8 455.7L704.8 460.6L701.3 467.3L695.6 469L687.7 464.3L683.8 455.8L683.9 446.9L681.5 437.5L679.5 434.7L675.5 430.6L671.9 425.3L667.8 428.8L663.1 434.8L660.2 439.9L654.6 448.1L646.5 446.1L638.5 442.8L634.3 450.3L628 445.1L622.4 439.4L618.8 432.3L617.2 422.8L613.6 415.9L612.3 411L610.7 406.8L609.2 399.3L608.5 389.9L610.9 385.3L610.9 380.2L612.9 383.6L618.7 390.8L626.5 392L634.6 387L632.5 381.3L627.9 370.9L628 366.2L629.2 361.1L628.7 356.1L629 350.2L631.5 347.2L632.5 341.2L630.9 331L630.9 326.5L632.1 320L635.3 316.4L633.9 310.7L636.2 305.6ZM634.7 494.2L639.9 493.5L646.2 492.4L649.5 490.2L653.7 490.7L659.4 495.4L663.4 500.3L667.9 504.6L670.9 510.4L673.8 513.6L673 519.3L671.4 525.3L669.5 529.9L666.8 534L662.3 539.7L654.4 537.5L652 532L648.5 525.7L646.5 520.6L644.7 514.9L641.5 509.8L638.4 506.3L636.7 500.1ZM684.8 492.3L691.5 487.9L694.7 493.2L695 500.6L688.9 503L683.8 498.2ZM709.4 476.5L714.4 473.8L716 480.1L715.3 483.6L714 488.1L715.5 493.9L715.7 498.4L713.7 503.7L708.6 496.9L710.4 486.4ZM727.1 506L735.2 504.5L742.9 511L751.1 516.8L758.5 512L765.9 504.3L773.8 509.7L769 518.5L761.3 521.8L753.2 524.2L747.1 521L743.1 519.7L738.2 517.5L732.3 517.2L730 510.9ZM734.9 490.3L742.3 487.9L746.7 495.9L743.6 503.7L737.7 499.6L735.9 495.2ZM758.5 494.2L764.3 493.2L768.4 492.3L773 498.1L769.4 503.9L762.4 502.1ZM778.1 525.7L782.9 524.5L787.9 524L793 525.7L797.1 526.3L802.5 525L807.5 523.5L811.9 527.4L815.1 531.2L821.3 538.5L822.7 544.3L823.3 549.8L817.5 550.9L811.7 552.3L804 549.4L798.7 548.5L788.8 546.2L785.1 542.4L782.2 537.7L780.1 531.6ZM611.1 537.4L619.1 536.4L626.5 541.3L628.1 549.6L620.4 550.9L613.1 545.3ZM691.7 523.7L699.7 522.8L698.9 526L698.2 530.4L695.6 536.7L693.7 541.6L689.1 544.6L687.7 539.5L690 534.6L690.7 528.6ZM703.5 527.6L711.4 528.3L717.1 535.4L713.6 539L705.4 535.5ZM738.8 525.7L746.8 527.8L749.3 532.8L752.2 537.6L757.1 545L750.8 550.1L745.8 545.1L742.8 542L736.9 533.5ZM760.5 535.5L768.8 537.3L772.5 546.7L767.7 550.9L763 547.9L761.4 541.4ZM620 476.5L625.8 477.6L630.4 483.2L625.3 485.4L621 481.5ZM640.6 476.5L648.4 479.4L655 484.5L648.2 487L642.6 482.4Z" fill="none" stroke="#fff" stroke-width="1.8" stroke-linejoin="round"/><path d="M599.2 95.4h0.1M601.2 103.3h0.1M598.2 109.2h0.1M671.9 132.8h0.1M675.8 156.3h0.1M687.6 205.5h0.1M689.6 223.1h0.1M669.9 262.4h0.1M668.0 282.1h0.1M728.9 60.1h0.1M758.4 64.0h0.1M768.2 60.1h0.1M778.0 54.2h0.1M663.2 274.2h0.1M666.2 282.0h0.1M687.8 281.1h0.1M727.1 455.9h0.1M122.6 201.5h0.1M130.5 203.5h0.1M136.4 205.5h0.1M148.1 197.6h0.1M161.9 198.6h0.1M211.0 197.6h0.1M159.9 232.0h0.1M340.7 170.1h0.1M346.6 172.1h0.1M374.1 124.9h0.1M380.0 134.7h0.1M383.9 150.4h0.1M389.8 158.3h0.1M93.1 264.1h0.1M93.1 286.7h0.1M145.2 349.5h0.1M163.9 381.0h0.1M177.6 390.8h0.1M189.4 396.7h0.1M211.0 419.3h0.1M220.8 524.4h0.1M218.9 540.1h0.1" fill="none" stroke="#fff" stroke-width="4" stroke-linecap="round"/>
<g stroke="#1a0500" stroke-opacity="0.88" stroke-width="1.65" fill="none"><g marker-end="url(#a0)"><path d="M-1 16l-6 -14"/><path d="M27 16l-7 -13"/><path d="M54 16l-10 -12"/><path d="M81 16l-8 -14"/><path d="M108 16l-7 -11"/><path d="M136 16l-11 -6"/><path d="M163 16l-13 1"/><path d="M190 16l-15 2"/><path d="M218 16l-13 10"/><path d="M245 16l-15 6"/><path d="M272 16l-15 5"/><path d="M300 16l-14 6"/><path d="M327 16l-13 8"/><path d="M354 16l-14 11"/><path d="M382 16l-13 13"/><path d="M654 16l-15 12"/><path d="M682 16l-16 4"/><path d="M709 16l-13 2"/><path d="M736 16l-16 -9"/><path d="M-14 39l-8 -11"/><path d="M13 39l-8 -10"/><path d="M40 39l-6 -11"/><path d="M68 39l-8 -14"/><path d="M95 39l-8 -12"/><path d="M122 39l-9 -9"/><path d="M150 39l-12 -3"/><path d="M177 39l-14 3"/><path d="M204 39l-12 6"/><path d="M231 39l-15 4"/><path d="M259 39l-14 7"/><path d="M286 39l-14 6"/><path d="M313 39l-13 6"/><path d="M341 39l-12 8"/><path d="M368 39l-12 12"/><path d="M395 39l-12 12"/><path d="M450 39l-13 15"/><path d="M668 39l-18 6"/><path d="M695 39l-17 0"/><path d="M723 39l-16 -7"/><path d="M-1 63l-9 -11"/><path d="M27 63l-8 -13"/><path d="M54 63l-8 -13"/><path d="M81 63l-5 -13"/><path d="M108 63l-8 -11"/><path d="M136 63l-11 -6"/><path d="M163 63l-13 0"/><path d="M190 63l-13 2"/><path d="M218 63l-14 3"/><path d="M245 63l-15 3"/><path d="M272 63l-12 9"/><path d="M300 63l-15 2"/><path d="M327 63l-14 6"/><path d="M354 63l-10 9"/><path d="M382 63l-10 14"/><path d="M409 63l-12 15"/><path d="M709 63l-17 -3"/><path d="M736 63l-15 -11"/><path d="M-14 86l-10 -11"/><path d="M13 86l-7 -11"/><path d="M40 86l-9 -12"/><path d="M68 86l-5 -12"/><path d="M95 86l-10 -9"/><path d="M122 86l-10 -7"/><path d="M150 86l-13 -2"/><path d="M177 86l-13 1"/><path d="M204 86l-12 3"/><path d="M231 86l-15 6"/><path d="M259 86l-13 5"/><path d="M286 86l-14 6"/><path d="M313 86l-12 6"/><path d="M341 86l-11 9"/><path d="M368 86l-10 11"/><path d="M695 86l-19 -1"/><path d="M-1 109l-9 -11"/><path d="M27 109l-8 -10"/><path d="M54 109l-11 -11"/><path d="M81 109l-10 -8"/><path d="M108 109l-11 -7"/><path d="M136 109l-12 -4"/><path d="M163 109l-12 2"/><path d="M190 109l-13 1"/><path d="M218 109l-13 4"/><path d="M245 109l-13 3"/><path d="M272 109l-12 7"/><path d="M300 109l-11 6"/><path d="M327 109l-11 8"/><path d="M354 109l-8 10"/><path d="M382 109l-8 12"/><path d="M409 109l-9 17"/><path d="M436 109l-10 16"/><path d="M-14 132l-10 -8"/><path d="M13 132l-12 -6"/><path d="M40 132l-12 -5"/><path d="M68 132l-11 -7"/><path d="M95 132l-11 -7"/><path d="M122 132l-12 -5"/><path d="M150 132l-12 -3"/><path d="M177 132l-13 2"/><path d="M204 132l-12 2"/><path d="M231 132l-14 0"/><path d="M259 132l-14 4"/><path d="M286 132l-12 4"/><path d="M313 132l-10 8"/><path d="M341 132l-8 10"/><path d="M368 132l-6 14"/><path d="M395 132l-5 15"/><path d="M477 132l-6 19"/><path d="M-1 156l-12 -5"/><path d="M27 156l-14 -4"/><path d="M54 156l-14 -5"/><path d="M81 156l-13 -3"/><path d="M108 156l-12 -4"/><path d="M136 156l-12 -3"/><path d="M163 156l-13 1"/><path d="M190 156l-13 4"/><path d="M218 156l-13 6"/><path d="M245 156l-14 4"/><path d="M272 156l-13 4"/><path d="M300 156l-12 7"/><path d="M327 156l-10 8"/><path d="M354 156l-6 11"/><path d="M382 156l-4 14"/><path d="M409 156l0 19"/><path d="M-14 179l-12 -7"/><path d="M13 179l-15 -2"/><path d="M40 179l-12 -2"/><path d="M68 179l-14 -4"/><path d="M95 179l-13 -2"/><path d="M122 179l-13 -2"/><path d="M150 179l-12 2"/><path d="M177 179l-12 4"/><path d="M204 179l-14 2"/><path d="M231 179l-15 4"/><path d="M259 179l-12 2"/><path d="M286 179l-12 4"/><path d="M313 179l-10 7"/><path d="M341 179l-3 12"/><path d="M368 179l-2 13"/><path d="M395 179l-1 19"/><path d="M-1 202l-12 -4"/><path d="M27 202l-17 -1"/><path d="M54 202l-14 -2"/><path d="M81 202l-15 -2"/><path d="M108 202l-12 -3"/><path d="M136 202l-12 -4"/><path d="M163 202l-13 1"/><path d="M190 202l-13 0"/><path d="M218 202l-12 3"/><path d="M245 202l-12 5"/><path d="M272 202l-12 4"/><path d="M300 202l-11 5"/><path d="M327 202l-7 10"/><path d="M354 202l-1 13"/><path d="M382 202l0 16"/><path d="M-14 226l-12 -4"/><path d="M13 226l-14 -3"/><path d="M40 226l-15 -3"/><path d="M68 226l-14 0"/><path d="M95 226l-12 -4"/><path d="M122 226l-11 -5"/><path d="M150 226l-12 -4"/><path d="M177 226l-12 3"/><path d="M204 226l-12 5"/><path d="M231 226l-12 4"/><path d="M259 226l-12 5"/><path d="M286 226l-11 6"/><path d="M313 226l-6 11"/><path d="M341 226l2 12"/><path d="M368 226l6 11"/><path d="M395 226l7 18"/><path d="M-1 249l-12 -5"/><path d="M27 249l-11 -6"/><path d="M54 249l-12 -4"/><path d="M81 249l-11 -6"/><path d="M108 249l-12 -3"/><path d="M136 249l-10 -8"/><path d="M163 249l-11 -6"/><path d="M190 249l-12 2"/><path d="M218 249l-11 6"/><path d="M245 249l-10 7"/><path d="M272 249l-5 12"/><path d="M300 249l0 13"/><path d="M327 249l7 11"/><path d="M354 249l7 11"/><path d="M382 249l8 15"/><path d="M409 249l6 19"/><path d="M-14 272l-4 -12"/><path d="M13 272l-5 -12"/><path d="M40 272l-8 -10"/><path d="M68 272l-6 -11"/><path d="M95 272l-2 -13"/><path d="M122 272l-3 -12"/><path d="M150 272l6 -11"/><path d="M177 272l12 -4"/><path d="M204 272l13 -2"/><path d="M231 272l12 2"/><path d="M259 272l12 3"/><path d="M286 272l11 6"/><path d="M313 272l11 6"/><path d="M341 272l8 9"/><path d="M368 272l11 11"/><path d="M395 272l14 11"/><path d="M423 272l12 14"/><path d="M450 272l12 16"/><path d="M-1 296l5 -11"/><path d="M27 296l7 -10"/><path d="M54 296l7 -10"/><path d="M81 296l6 -11"/><path d="M108 296l7 -11"/><path d="M136 296l8 -10"/><path d="M163 296l12 -4"/><path d="M190 296l12 -2"/><path d="M218 296l15 1"/><path d="M245 296l15 1"/><path d="M272 296l18 1"/><path d="M300 296l17 3"/><path d="M327 296l14 3"/><path d="M354 296l13 7"/><path d="M382 296l14 12"/><path d="M-14 319l9 -9"/><path d="M13 319l10 -12"/><path d="M40 319l9 -11"/><path d="M68 319l14 -12"/><path d="M95 319l11 -10"/><path d="M122 319l9 -9"/><path d="M150 319l12 -4"/><path d="M177 319l13 -1"/><path d="M204 319l16 -1"/><path d="M286 319l19 0"/><path d="M313 319l18 2"/><path d="M341 319l16 5"/><path d="M368 319l19 5"/><path d="M668 319l-19 1"/><path d="M-1 342l10 -14"/><path d="M27 342l10 -15"/><path d="M54 342l12 -15"/><path d="M81 342l13 -14"/><path d="M108 342l11 -13"/><path d="M136 342l12 -6"/><path d="M163 342l13 -3"/><path d="M190 342l18 -3"/><path d="M-14 366l12 -12"/><path d="M13 366l13 -14"/><path d="M40 366l9 -15"/><path d="M95 366l13 -10"/><path d="M122 366l12 -9"/><path d="M150 366l14 -6"/><path d="M177 366l18 -4"/><path d="M204 366l19 -2"/><path d="M313 366l19 2"/><path d="M-1 389l10 -12"/><path d="M27 389l12 -15"/><path d="M54 389l12 -14"/><path d="M81 389l10 -15"/><path d="M108 389l15 -11"/><path d="M136 389l14 -6"/><path d="M163 389l17 -6"/><path d="M190 389l17 -1"/><path d="M300 389l20 0"/><path d="M354 389l20 1"/><path d="M-14 412l13 -11"/><path d="M13 412l15 -8"/><path d="M40 412l14 -10"/><path d="M68 412l15 -12"/><path d="M95 412l15 -11"/><path d="M122 412l16 -6"/><path d="M150 412l17 -5"/><path d="M177 412l19 -1"/><path d="M-1 435l17 -11"/><path d="M54 435l16 -8"/><path d="M81 435l16 -7"/><path d="M108 435l16 -7"/><path d="M136 435l17 -1"/><path d="M-14 459l18 -5"/><path d="M13 459l19 -5"/><path d="M150 459l18 -1"/><path d="M177 459l20 -1"/><path d="M108 482l18 -5"/><path d="M136 482l18 -2"/><path d="M122 505l20 -4"/><path d="M150 505l19 -1"/><path d="M150 552l18 -4"/></g><g marker-end="url(#a1)"><path d="M409 16l-13 18"/><path d="M436 16l-17 14"/><path d="M463 16l-14 17"/><path d="M491 16l-17 18"/><path d="M518 16l-18 18"/><path d="M573 16l-15 20"/><path d="M627 16l-19 15"/><path d="M764 16l-17 -14"/><path d="M423 39l-15 16"/><path d="M477 39l-15 18"/><path d="M504 39l-17 14"/><path d="M641 39l-19 12"/><path d="M750 39l-20 -12"/><path d="M777 39l-15 -17"/><path d="M436 63l-8 20"/><path d="M463 63l-14 17"/><path d="M491 63l-16 16"/><path d="M654 63l-21 11"/><path d="M682 63l-19 7"/><path d="M764 63l-19 -15"/><path d="M395 86l-14 15"/><path d="M423 86l-11 20"/><path d="M450 86l-11 19"/><path d="M477 86l-14 19"/><path d="M668 86l-21 9"/><path d="M723 86l-19 -10"/><path d="M750 86l-19 -11"/><path d="M777 86l-17 -16"/><path d="M463 109l-7 21"/><path d="M491 109l-13 20"/><path d="M654 109l-22 12"/><path d="M682 109l-20 2"/><path d="M709 109l-21 -5"/><path d="M736 109l-21 -6"/><path d="M423 132l-4 20"/><path d="M450 132l-9 22"/><path d="M504 132l-12 21"/><path d="M668 132l-24 4"/><path d="M695 132l-21 -7"/><path d="M723 132l-19 -9"/><path d="M805 132l-16 -19"/><path d="M436 156l-2 23"/><path d="M463 156l-2 23"/><path d="M491 156l-6 24"/><path d="M545 156l-13 21"/><path d="M573 156l-13 21"/><path d="M709 156l-24 -2"/><path d="M423 179l3 22"/><path d="M450 179l2 21"/><path d="M532 179l-4 23"/><path d="M409 202l6 22"/><path d="M436 202l6 23"/><path d="M463 202l-1 24"/><path d="M491 202l2 24"/><path d="M518 202l0 24"/><path d="M423 226l9 20"/><path d="M450 226l6 22"/><path d="M436 249l9 23"/><path d="M463 249l8 23"/><path d="M477 272l15 18"/><path d="M409 296l19 8"/><path d="M436 296l21 12"/><path d="M463 296l22 11"/><path d="M231 319l21 1"/><path d="M259 319l23 4"/><path d="M395 319l23 9"/><path d="M477 319l23 10"/><path d="M218 342l20 2"/><path d="M245 342l24 2"/><path d="M272 342l24 1"/><path d="M300 342l20 4"/><path d="M327 342l20 1"/><path d="M354 342l20 5"/><path d="M382 342l23 7"/><path d="M654 342l23 3"/><path d="M68 366l15 -14"/><path d="M231 366l25 -2"/><path d="M259 366l23 -1"/><path d="M286 366l22 1"/><path d="M341 366l21 0"/><path d="M368 366l21 2"/><path d="M218 389l23 -2"/><path d="M245 389l23 3"/><path d="M272 389l22 0"/><path d="M327 389l22 2"/><path d="M204 412l22 -1"/><path d="M231 412l22 -1"/><path d="M259 412l22 0"/><path d="M286 412l22 -3"/><path d="M313 412l21 -1"/><path d="M341 412l23 1"/><path d="M368 412l24 0"/><path d="M450 412l24 5"/><path d="M27 435l19 -7"/><path d="M163 435l20 -2"/><path d="M190 435l20 2"/><path d="M218 435l22 0"/><path d="M245 435l20 4"/><path d="M272 435l22 -2"/><path d="M300 435l21 -1"/><path d="M327 435l23 -1"/><path d="M354 435l20 -1"/><path d="M382 435l24 -5"/><path d="M409 435l23 2"/><path d="M518 435l25 0"/><path d="M40 459l22 -3"/><path d="M68 459l21 -3"/><path d="M95 459l22 -4"/><path d="M122 459l22 -6"/><path d="M204 459l22 -3"/><path d="M231 459l21 -3"/><path d="M259 459l24 2"/><path d="M286 459l20 3"/><path d="M313 459l23 0"/><path d="M341 459l22 1"/><path d="M368 459l23 -3"/><path d="M450 459l22 -4"/><path d="M-1 482l20 -5"/><path d="M27 482l22 -1"/><path d="M54 482l25 -4"/><path d="M81 482l25 -4"/><path d="M163 482l20 -6"/><path d="M190 482l22 0"/><path d="M218 482l22 1"/><path d="M245 482l24 1"/><path d="M272 482l23 2"/><path d="M300 482l21 -2"/><path d="M327 482l23 1"/><path d="M354 482l22 -2"/><path d="M382 482l24 -5"/><path d="M545 482l24 -4"/><path d="M-14 505l22 -6"/><path d="M13 505l22 -1"/><path d="M40 505l21 1"/><path d="M95 505l21 -5"/><path d="M177 505l22 0"/><path d="M204 505l23 2"/><path d="M231 505l25 2"/><path d="M259 505l23 -2"/><path d="M286 505l22 0"/><path d="M313 505l23 3"/><path d="M341 505l23 -3"/><path d="M532 505l25 -3"/><path d="M-1 529l23 -5"/><path d="M27 529l21 -1"/><path d="M54 529l25 1"/><path d="M81 529l24 -5"/><path d="M108 529l23 -2"/><path d="M136 529l21 -3"/><path d="M163 529l23 -3"/><path d="M190 529l21 -3"/><path d="M218 529l24 0"/><path d="M245 529l23 2"/><path d="M272 529l24 1"/><path d="M300 529l22 -2"/><path d="M327 529l23 -2"/><path d="M354 529l21 -8"/><path d="M382 529l25 -3"/><path d="M545 529l24 -5"/><path d="M-14 552l22 -6"/><path d="M13 552l24 1"/><path d="M40 552l24 0"/><path d="M95 552l23 -2"/><path d="M122 552l22 -4"/><path d="M177 552l20 0"/><path d="M204 552l23 -1"/><path d="M259 552l23 -1"/><path d="M313 552l24 -4"/><path d="M532 552l23 -6"/></g><g marker-end="url(#a2)"><path d="M545 16l-19 21"/><path d="M600 16l-21 15"/><path d="M791 16l-16 -21"/><path d="M818 16l-17 -23"/><path d="M846 16l-17 -22"/><path d="M900 16l-15 -26"/><path d="M927 16l-10 -28"/><path d="M955 16l-9 -28"/><path d="M1009 16l-7 -28"/><path d="M532 39l-18 18"/><path d="M559 39l-13 23"/><path d="M586 39l-18 23"/><path d="M614 39l-19 20"/><path d="M805 39l-20 -19"/><path d="M832 39l-18 -21"/><path d="M941 39l-9 -27"/><path d="M968 39l-5 -28"/><path d="M1023 39l0 -30"/><path d="M518 63l-18 23"/><path d="M573 63l-20 19"/><path d="M600 63l-19 21"/><path d="M627 63l-21 17"/><path d="M791 63l-17 -21"/><path d="M955 63l-9 -25"/><path d="M982 63l-5 -27"/><path d="M504 86l-16 21"/><path d="M532 86l-16 23"/><path d="M559 86l-13 25"/><path d="M586 86l-18 21"/><path d="M614 86l-22 14"/><path d="M641 86l-23 12"/><path d="M805 86l-16 -25"/><path d="M832 86l-16 -25"/><path d="M941 86l-14 -26"/><path d="M1023 86l4 -29"/><path d="M518 109l-15 23"/><path d="M545 109l-16 22"/><path d="M573 109l-20 20"/><path d="M627 109l-22 13"/><path d="M764 109l-19 -18"/><path d="M791 109l-19 -19"/><path d="M818 109l-18 -24"/><path d="M846 109l-20 -20"/><path d="M955 109l-12 -24"/><path d="M982 109l-4 -28"/><path d="M1009 109l-3 -29"/><path d="M532 132l-11 23"/><path d="M559 132l-18 22"/><path d="M586 132l-19 22"/><path d="M614 132l-26 13"/><path d="M641 132l-25 7"/><path d="M750 132l-21 -14"/><path d="M777 132l-19 -20"/><path d="M887 132l-18 -24"/><path d="M914 132l-12 -27"/><path d="M941 132l-10 -26"/><path d="M968 132l-5 -27"/><path d="M1023 132l2 -27"/><path d="M518 156l-5 25"/><path d="M600 156l-21 17"/><path d="M627 156l-24 15"/><path d="M654 156l-28 1"/><path d="M682 156l-28 4"/><path d="M736 156l-25 -10"/><path d="M764 156l-24 -10"/><path d="M791 156l-21 -22"/><path d="M818 156l-20 -23"/><path d="M846 156l-14 -25"/><path d="M955 156l-8 -28"/><path d="M982 156l-5 -29"/><path d="M477 179l0 26"/><path d="M504 179l-7 25"/><path d="M559 179l-8 24"/><path d="M586 179l-17 21"/><path d="M614 179l-24 16"/><path d="M641 179l-27 6"/><path d="M668 179l-28 5"/><path d="M695 179l-27 -2"/><path d="M750 179l-24 -14"/><path d="M805 179l-19 -23"/><path d="M832 179l-14 -25"/><path d="M914 179l-10 -28"/><path d="M941 179l-2 -29"/><path d="M968 179l-4 -29"/><path d="M996 179l-4 -28"/><path d="M1023 179l-6 -27"/><path d="M545 202l-7 25"/><path d="M573 202l-11 26"/><path d="M873 202l-11 -27"/><path d="M927 202l-10 -28"/><path d="M982 202l-5 -29"/><path d="M1009 202l-7 -27"/><path d="M477 226l8 24"/><path d="M504 226l7 26"/><path d="M532 226l-2 29"/><path d="M559 226l-9 27"/><path d="M586 226l-14 25"/><path d="M968 226l0 -30"/><path d="M996 226l1 -28"/><path d="M1023 226l1 -30"/><path d="M491 249l10 24"/><path d="M518 249l7 28"/><path d="M545 249l1 26"/><path d="M818 249l-10 -28"/><path d="M927 249l-10 -28"/><path d="M1037 249l-2 -29"/><path d="M504 272l15 22"/><path d="M532 272l11 24"/><path d="M968 272l1 -30"/><path d="M491 296l21 15"/><path d="M518 296l20 17"/><path d="M423 319l25 11"/><path d="M450 319l24 13"/><path d="M504 319l25 14"/><path d="M532 319l23 19"/><path d="M559 319l18 24"/><path d="M641 319l4 26"/><path d="M941 319l-1 -30"/><path d="M1023 319l-1 -28"/><path d="M436 342l28 8"/><path d="M518 342l24 12"/><path d="M573 342l21 22"/><path d="M927 342l1 -26"/><path d="M955 342l1 -29"/><path d="M395 366l26 6"/><path d="M423 366l26 8"/><path d="M450 366l24 11"/><path d="M477 366l28 4"/><path d="M504 366l28 6"/><path d="M968 366l-3 -30"/><path d="M996 366l3 -26"/><path d="M1023 366l2 -29"/><path d="M382 389l24 8"/><path d="M409 389l29 1"/><path d="M436 389l25 7"/><path d="M491 389l28 5"/><path d="M518 389l26 12"/><path d="M545 389l24 18"/><path d="M982 389l-3 -30"/><path d="M395 412l26 3"/><path d="M423 412l28 2"/><path d="M477 412l27 3"/><path d="M504 412l27 5"/><path d="M532 412l26 5"/><path d="M559 412l26 8"/><path d="M586 412l29 4"/><path d="M968 412l4 -30"/><path d="M1023 412l0 -28"/><path d="M436 435l27 -4"/><path d="M463 435l26 -3"/><path d="M491 435l25 6"/><path d="M545 435l26 3"/><path d="M573 435l29 3"/><path d="M927 435l8 -26"/><path d="M955 435l3 -27"/><path d="M1037 435l4 -28"/><path d="M395 459l29 -4"/><path d="M423 459l25 -3"/><path d="M477 459l26 -4"/><path d="M504 459l27 0"/><path d="M532 459l29 -1"/><path d="M559 459l28 -2"/><path d="M614 459l28 -3"/><path d="M941 459l3 -29"/><path d="M409 482l25 -2"/><path d="M436 482l25 -11"/><path d="M463 482l29 -4"/><path d="M491 482l27 -8"/><path d="M518 482l28 -4"/><path d="M573 482l28 -5"/><path d="M600 482l27 -3"/><path d="M764 482l22 -20"/><path d="M846 482l10 -28"/><path d="M900 482l6 -28"/><path d="M1037 482l2 -30"/><path d="M68 505l26 -1"/><path d="M368 505l25 0"/><path d="M395 505l22 -12"/><path d="M423 505l27 -8"/><path d="M450 505l26 -4"/><path d="M504 505l28 -3"/><path d="M559 505l25 2"/><path d="M586 505l29 -4"/><path d="M641 505l24 -11"/><path d="M832 505l12 -25"/><path d="M914 505l12 -25"/><path d="M941 505l3 -28"/><path d="M968 505l7 -27"/><path d="M996 505l3 -29"/><path d="M409 529l25 -8"/><path d="M436 529l29 -6"/><path d="M463 529l28 -5"/><path d="M491 529l27 -8"/><path d="M518 529l26 -3"/><path d="M573 529l24 -10"/><path d="M600 529l28 -2"/><path d="M654 529l25 -12"/><path d="M846 529l10 -25"/><path d="M927 529l7 -29"/><path d="M955 529l3 -29"/><path d="M982 529l7 -28"/><path d="M68 552l25 -3"/><path d="M231 552l25 -3"/><path d="M286 552l26 -3"/><path d="M341 552l25 -6"/><path d="M368 552l26 -10"/><path d="M395 552l28 -4"/><path d="M423 552l27 -8"/><path d="M450 552l27 -6"/><path d="M477 552l24 -9"/><path d="M504 552l30 -4"/><path d="M559 552l26 -3"/><path d="M586 552l28 -11"/><path d="M614 552l26 -11"/><path d="M723 552l24 -11"/><path d="M750 552l22 -20"/><path d="M777 552l13 -23"/><path d="M832 552l8 -26"/><path d="M859 552l14 -23"/><path d="M941 552l4 -30"/><path d="M968 552l11 -28"/></g><g marker-end="url(#a3)"><path d="M873 16l-17 -28"/><path d="M982 16l-7 -29"/><path d="M1037 16l-9 -31"/><path d="M859 39l-16 -27"/><path d="M887 39l-15 -30"/><path d="M914 39l-20 -24"/><path d="M996 39l-1 -31"/><path d="M545 63l-22 22"/><path d="M818 63l-20 -26"/><path d="M846 63l-21 -24"/><path d="M873 63l-15 -27"/><path d="M900 63l-23 -26"/><path d="M927 63l-18 -27"/><path d="M1009 63l1 -31"/><path d="M1037 63l-4 -32"/><path d="M859 86l-19 -25"/><path d="M887 86l-20 -27"/><path d="M914 86l-19 -25"/><path d="M968 86l-4 -30"/><path d="M996 86l-6 -32"/><path d="M600 109l-22 20"/><path d="M873 109l-17 -26"/><path d="M900 109l-19 -25"/><path d="M927 109l-16 -26"/><path d="M1037 109l-5 -30"/><path d="M832 132l-15 -27"/><path d="M859 132l-16 -28"/><path d="M996 132l-6 -30"/><path d="M873 156l-11 -30"/><path d="M900 156l-12 -30"/><path d="M927 156l-12 -30"/><path d="M1009 156l-7 -31"/><path d="M1037 156l-3 -30"/><path d="M723 179l-27 -14"/><path d="M777 179l-22 -23"/><path d="M859 179l-16 -28"/><path d="M887 179l-17 -29"/><path d="M600 202l-22 22"/><path d="M627 202l-30 7"/><path d="M654 202l-33 10"/><path d="M682 202l-31 0"/><path d="M709 202l-30 -11"/><path d="M736 202l-29 -16"/><path d="M764 202l-28 -18"/><path d="M791 202l-18 -28"/><path d="M818 202l-16 -30"/><path d="M846 202l-20 -25"/><path d="M900 202l-12 -31"/><path d="M955 202l-2 -31"/><path d="M1037 202l-2 -32"/><path d="M614 226l-21 22"/><path d="M805 226l-16 -28"/><path d="M832 226l-14 -31"/><path d="M859 226l-6 -32"/><path d="M887 226l-8 -32"/><path d="M914 226l-11 -31"/><path d="M941 226l-4 -32"/><path d="M573 249l-3 32"/><path d="M955 249l-2 -30"/><path d="M982 249l-1 -31"/><path d="M1009 249l-2 -31"/><path d="M559 272l7 29"/><path d="M586 272l-4 30"/><path d="M887 272l-10 -30"/><path d="M914 272l-6 -32"/><path d="M941 272l1 -33"/><path d="M996 272l-3 -31"/><path d="M1023 272l-1 -31"/><path d="M545 296l18 24"/><path d="M573 296l16 27"/><path d="M600 296l3 33"/><path d="M791 296l-7 -34"/><path d="M818 296l-10 -33"/><path d="M846 296l-9 -33"/><path d="M900 296l-5 -34"/><path d="M927 296l3 -32"/><path d="M955 296l1 -34"/><path d="M982 296l-6 -34"/><path d="M1009 296l-5 -32"/><path d="M1037 296l1 -31"/><path d="M859 319l2 -35"/><path d="M914 319l-2 -31"/><path d="M968 319l-6 -30"/><path d="M996 319l0 -31"/><path d="M409 342l31 3"/><path d="M463 342l30 7"/><path d="M491 342l31 6"/><path d="M545 342l26 15"/><path d="M682 342l19 -29"/><path d="M818 342l-2 -35"/><path d="M900 342l2 -33"/><path d="M982 342l0 -32"/><path d="M1009 342l0 -31"/><path d="M1037 342l0 -32"/><path d="M532 366l32 12"/><path d="M559 366l29 14"/><path d="M586 366l31 16"/><path d="M859 366l9 -32"/><path d="M887 366l10 -34"/><path d="M914 366l1 -34"/><path d="M941 366l0 -32"/><path d="M463 389l29 8"/><path d="M573 389l31 11"/><path d="M818 389l6 -34"/><path d="M846 389l6 -31"/><path d="M900 389l2 -31"/><path d="M927 389l3 -32"/><path d="M955 389l4 -34"/><path d="M1009 389l6 -30"/><path d="M1037 389l-3 -34"/><path d="M805 412l15 -32"/><path d="M887 412l4 -31"/><path d="M914 412l-1 -33"/><path d="M941 412l5 -33"/><path d="M996 412l5 -31"/><path d="M600 435l33 3"/><path d="M627 435l31 -7"/><path d="M654 435l32 -12"/><path d="M709 435l31 -16"/><path d="M846 435l8 -30"/><path d="M873 435l4 -33"/><path d="M900 435l10 -30"/><path d="M982 435l6 -33"/><path d="M1009 435l6 -34"/><path d="M586 459l31 -6"/><path d="M641 459l34 -7"/><path d="M668 459l31 -7"/><path d="M750 459l19 -27"/><path d="M777 459l14 -28"/><path d="M805 459l16 -26"/><path d="M832 459l9 -31"/><path d="M859 459l12 -32"/><path d="M887 459l6 -30"/><path d="M914 459l8 -29"/><path d="M968 459l2 -30"/><path d="M996 459l4 -31"/><path d="M1023 459l5 -33"/><path d="M627 482l32 -9"/><path d="M654 482l30 -8"/><path d="M682 482l30 -14"/><path d="M709 482l25 -22"/><path d="M736 482l27 -19"/><path d="M791 482l23 -23"/><path d="M818 482l16 -28"/><path d="M873 482l9 -30"/><path d="M927 482l7 -30"/><path d="M955 482l2 -33"/><path d="M982 482l9 -29"/><path d="M1009 482l7 -30"/><path d="M477 505l29 -11"/><path d="M614 505l30 -6"/><path d="M668 505l27 -14"/><path d="M723 505l25 -21"/><path d="M750 505l27 -19"/><path d="M777 505l22 -22"/><path d="M805 505l16 -29"/><path d="M859 505l8 -32"/><path d="M887 505l6 -33"/><path d="M1023 505l1 -31"/><path d="M627 529l31 -6"/><path d="M682 529l27 -14"/><path d="M709 529l26 -18"/><path d="M736 529l25 -18"/><path d="M764 529l21 -23"/><path d="M791 529l18 -25"/><path d="M818 529l17 -27"/><path d="M873 529l10 -31"/><path d="M900 529l10 -30"/><path d="M1009 529l5 -30"/><path d="M1037 529l1 -30"/><path d="M641 552l30 -14"/><path d="M668 552l25 -18"/><path d="M695 552l26 -17"/><path d="M805 552l10 -30"/><path d="M887 552l11 -30"/><path d="M914 552l10 -31"/><path d="M996 552l8 -31"/><path d="M1023 552l5 -32"/></g><g marker-end="url(#a4)"><path d="M641 226l-34 16"/><path d="M668 226l-37 6"/><path d="M695 226l-42 -4"/><path d="M723 226l-38 -12"/><path d="M750 226l-34 -16"/><path d="M777 226l-26 -25"/><path d="M600 249l-16 31"/><path d="M627 249l-22 30"/><path d="M654 249l-43 12"/><path d="M682 249l-39 -4"/><path d="M709 249l-46 -16"/><path d="M736 249l-30 -24"/><path d="M764 249l-31 -27"/><path d="M791 249l-18 -33"/><path d="M846 249l-11 -35"/><path d="M873 249l-20 -31"/><path d="M900 249l-5 -36"/><path d="M614 272l-13 37"/><path d="M641 272l-36 30"/><path d="M668 272l-48 8"/><path d="M695 272l-47 -13"/><path d="M723 272l-40 -26"/><path d="M750 272l-31 -33"/><path d="M777 272l-25 -35"/><path d="M805 272l-10 -36"/><path d="M832 272l-9 -36"/><path d="M859 272l-15 -33"/><path d="M627 296l-18 40"/><path d="M654 296l-27 25"/><path d="M682 296l-39 -3"/><path d="M709 296l-41 -27"/><path d="M736 296l-27 -35"/><path d="M764 296l-28 -40"/><path d="M873 296l-16 -39"/><path d="M586 319l17 31"/><path d="M614 319l9 37"/><path d="M695 319l-11 -39"/><path d="M723 319l-24 -43"/><path d="M750 319l-18 -46"/><path d="M777 319l-8 -40"/><path d="M805 319l-15 -36"/><path d="M832 319l-11 -34"/><path d="M887 319l-4 -37"/><path d="M600 342l30 20"/><path d="M627 342l29 21"/><path d="M709 342l1 -49"/><path d="M736 342l2 -49"/><path d="M764 342l3 -43"/><path d="M791 342l-2 -41"/><path d="M846 342l5 -37"/><path d="M873 342l-2 -38"/><path d="M614 366l31 18"/><path d="M641 366l44 8"/><path d="M668 366l40 -17"/><path d="M695 366l28 -40"/><path d="M723 366l19 -45"/><path d="M750 366l8 -44"/><path d="M777 366l5 -44"/><path d="M805 366l6 -39"/><path d="M832 366l3 -36"/><path d="M600 389l36 8"/><path d="M627 389l35 7"/><path d="M654 389l41 -18"/><path d="M682 389l41 -27"/><path d="M709 389l26 -40"/><path d="M736 389l24 -38"/><path d="M764 389l18 -38"/><path d="M791 389l12 -34"/><path d="M873 389l-3 -36"/><path d="M614 412l34 7"/><path d="M641 412l37 -5"/><path d="M668 412l41 -17"/><path d="M695 412l40 -23"/><path d="M723 412l28 -28"/><path d="M750 412l13 -37"/><path d="M777 412l13 -39"/><path d="M832 412l10 -35"/><path d="M859 412l2 -37"/><path d="M682 435l39 -15"/><path d="M736 435l20 -30"/><path d="M764 435l17 -36"/><path d="M791 435l18 -34"/><path d="M818 435l12 -35"/><path d="M695 459l29 -22"/><path d="M723 459l29 -20"/><path d="M695 505l30 -18"/></g></g>
</g>
<rect x="0" y="0" width="82" height="70.5" fill="#c3c3c3"/>
<path d="M7.5 46.3H74" stroke="#5a5a5a" stroke-width="2.6" fill="none"/>
<path d="M60.5 39.8L76.5 46.3L60.5 52.8L66 46.3Z" stroke="#5a5a5a" stroke-width="2" fill="#c3c3c3" stroke-linejoin="miter"/>
<text x="9.5" y="24.6" font-size="24.6" fill="#333" stroke="#333" stroke-width="0.8">30 m/s</text>
<rect x="649.5" y="0" width="381.2" height="51.5" fill="#fff"/>
<text x="660.5" y="37.8" font-size="32.9" fill="#111">2012-08-15_06:00:00 UTC</text>
</g>
<path d="M0.8 0V548.7H1033.3V0" stroke="#3a1414" stroke-width="1.7" fill="none"/>
<path d="M0 1.5H1034.2" stroke="#a8484f" stroke-width="3" fill="none"/>
<path d="M1.5 0V72" stroke="#a8484f" stroke-width="3" fill="none"/>
<text x="57.9" y="620.6" font-size="38.8" text-anchor="middle">105°E</text>
<text x="244.5" y="620.6" font-size="38.8" text-anchor="middle">110°E</text>
<text x="431.1" y="620.6" font-size="38.8" text-anchor="middle">115°E</text>
<text x="617.8" y="620.6" font-size="38.8" text-anchor="middle">120°E</text>
<text x="804.4" y="620.6" font-size="38.8" text-anchor="middle">125°E</text>
<text x="991" y="620.6" font-size="38.8" text-anchor="middle">130°E</text>
<text x="-43.6" y="561.5" font-size="38.6" text-anchor="end">12°N</text>
<text x="-43.6" y="485" font-size="38.6" text-anchor="end">14°N</text>
<text x="-43.6" y="407.8" font-size="38.6" text-anchor="end">16°N</text>
<text x="-43.6" y="329.9" font-size="38.6" text-anchor="end">18°N</text>
<text x="-43.6" y="251" font-size="38.6" text-anchor="end">20°N</text>
<text x="-43.6" y="171.2" font-size="38.6" text-anchor="end">22°N</text>
<text x="-43.6" y="90.2" font-size="38.6" text-anchor="end">24°N</text>
<path d="M57.3 549.1v18.5M243.9 549.1v18.5M430.5 549.1v18.5M617.2 549.1v18.5M803.8 549.1v18.5M990.4 549.1v18.5M1 548.2h-18.6M1 471.7h-18.6M1 394.5h-18.6M1 316.6h-18.6M1 237.7h-18.6M1 157.9h-18.6M1 76.9h-18.6" stroke="#7d7d7d" stroke-width="2.5" fill="none"/>
</g>
<g transform="translate(1374.4,42.8)">
<clipPath id="cp1"><rect x="0" y="0" width="1034.4" height="550.8"/></clipPath>
<g clip-path="url(#cp1)"><g filter="url(#bl)">
<rect x="-2" y="-2" width="1038.4" height="554.8" fill="#ff5a2d"/><path d="M-26 264l2 1 3 2 3 1 2 2 3 1 3 1 3 2 3 1 3 2 3 1 3 2 3 2 3 2 3 2 3 1 3 2 3 2 3 2 2 2 3 2 2 2 3 2 3 1 2 2 3 2 3 1 3 2 2 2 3 3 2 2 2 2 3 2 2 2 3 2 3 2 3 2 2 2 2 2 3 3 2 2 3 2 2 2 3 1 3 2 3 2 2 2 3 2 2 2 3 2 2 2 3 2 3 1 3 1 3 1 3 2 3 1 3 2 3 2 2 1 3 2 3 2 3 1 3 1 3 2 3 2 3 2 3 2 2 2 3 2 3 1 3 2 3 2 2 1 3 2 2 3 3 2 2 2 2 3 2 2 2 3 2 2 1 3 2 3 1 2 2 3 1 4 1 3 1 3 1 3 1 3 2 3 1 3 2 3 1 3 1 3 1 3 1 4 1 3 1 3 1 3 1 3 1 3 1 3 1 4 0 3 1 3 0 3 1 3 0 4 1 3 1 3 1 3 1 4 0 3 1 3 1 4 0 3 1 3 1 4 0 3 1 4 0 3 0 4 1 3 0 3 0 3 0 4 0 3 0 3 0 3 -1 3 0 3 -1 2 0 3 -1 3 0 2 -1 3 -1 2 -1 3 -2 2 -1 2 -2 3 -1 2 -2 2 -1 2 -2 2 -3 2 -2 2 -2 1 -3 2 -2 2 -3 1 -2 2 -3 2 -3 2 -3 1 -3 1 -3 1 -4 1 -3 1 -3 1 -4 2 -3 1 -4 1 -3 1 -4 1 -4 0 -4 0 -4 1 -4 0 -4 1 -4 1 -4 0 -4 0 -4 0 -4-1 -5-1 -4-1 -4 0 -4-1 -5 0 -4-1 -4 0 -4-1 -5-2 -4-1 -4-2 -4-1 -4-2 -5-1 -4-1 -4-2 -4-2 -4-2 -4-2 -4-2 -4-2 -4-2 -4-2 -4-2 -4-2 -4-3 -3-2 -4-3 -3-2 -4-3 -3-3 -4-3 -3-3 -4-3 -3-3 -3-3 -3-4 -3-3 -2-4 -3-3 -3-4 -3-3 -3-4 -3-3 -3-4 -2-4 -3-3 -3-4 -2-4 -2-4 -3-4 -2-5 -3-4 -2-4 -2-4 -2-4 -2-5 -1-5 -1-4 -2-5 -1-4 -2-5 -1-4 -1-5 -1-5 -1-4 -1-5 -1-5 -1-4 0-5 -1-5 0-4 0-5 0-4 0-5 0-5 0-4 0-5 0-4 0-4 0-5 1-4 0-4 1-5 0-4 1-4 0-4 0-4 1-4 0-4 0-4 1-4 1-3 1-4 1-4 0-3 1-4 1-3 1-3 1-3 2-3 1-3 1-3 1-3 1-3 1-3 2-3 1-2 2-3 2-2 2-2 1-2 2-2 2-2 1-2 2-2 2-1 2-2 3-1 2-1 2-1 3 0 2-1 3-1 2-1 3 0 3 0 3 0 3 2zM-25 70l3-2 2-1 3-1 3 0 4 0 3 0 3 0 4 1 3 1 4 1 4 1 3 1 4 2 3 1 3 2 3 2 4 2 3 2 3 2 3 2 3 3 3 2 2 2 3 3 1 3 2 4 1 3 0 3 1 3 1 4 0 3 1 3 1 3 0 4 1 3 -1 4 0 3 -1 4 -2 3 -2 3 -2 4 -1 3 -2 3 -2 3 -2 3 -1 3 -2 3 -2 3 -2 3 -2 2 -2 3 -3 2 -2 3 -2 2 -3 2 -2 2 -3 2 -3 2 -3 2 -3 2 -3 1 -3 2 -3 2 -3 1 -3 2 -3 1 -4 1 -3 2 -3 1 -4 1 -3 0 -4-1 -3-1 -3-2 -2-2 -3-2 -2-3 -3-3 -2-3 -1-3 -2-3 -1-4 -2-4 -1-4 -1-4 -1-4 -1-4 0-5 0-4 0-5 0-4 0-5 0-4 1-5 0-4 1-5 1-4 0-5 1-4 0-5 0-4 1-4 2-4 1-4 2-3 3-3 2-3 3-3 2-2 2-2 3-3 2-1 2-2zM662 41l0 3 1 4 1 3 0 3 1 3 0 4 1 3 1 3 1 3 1 3 2 3 1 3 2 3 1 3 1 3 1 3 2 2 2 3 2 3 2 2 1 3 2 3 2 3 1 2 2 3 1 3 2 3 2 3 1 3 2 3 2 3 2 2 3 3 3 2 2 1 3 2 3 2 3 1 3 2 3 2 3 1 3 2 3 2 3 1 2 2 3 1 3 1 3 2 3 1 3 2 3 2 2 2 3 2 2 3 2 2 2 3 2 2 2 3 2 2 2 2 3 3 2 2 1 3 2 3 1 3 2 3 1 3 2 3 2 3 2 2 2 3 1 3 1 4 1 3 1 3 1 3 2 3 1 3 1 3 1 4 0 3 0 3 0 4 0 3 0 3 0 4 0 3 0 3 0 4 0 3 0 3 0 3 1 3 1 4 1 3 1 3 2 3 0 3 1 3 -1 4 0 3 -1 3 -1 4 0 3 0 3 0 3 0 4 0 3 0 3 -1 3 0 4 -1 3 -1 3 -1 3 -1 3 -1 3 -1 3 0 4 -1 3 0 3 0 4 0 3 -1 3 -1 3 -1 3 -1 3 -1 4 -2 3 -1 3 -1 3 -2 3 -1 2 -2 3 -2 3 -3 2 -1 3 -2 3 -2 3 -1 3 -2 2 -2 3 -2 3 -2 2 -2 3 -3 2 -2 3 -2 2 -2 3 -2 2 -3 2 -2 2 -3 2 -3 2 -3 1 -3 1 -3 2 -3 1 -3 1 -3 1 -4 1 -2 1 -3 2 -3 2 -3 2 -2 2 -3 2 -3 2 -2 1 -3 2 -3 2 -3 2 -2 2 -3 2 -3 2 -2 2 -3 2 -2 2 -3 1 -3 2 -3 1 -4 1 -3 0 -4 0 -3 0 -4-1 -3 0 -3 1 -4 0 -3 1 -3 1 -3 1 -3 1 -3 0 -2 2 -2 1 -2 3 -1 2 -1 3 -1 3 -1 3 -1 3 -1 3 -1 3 0 4 -1 3 1 4 0 4 0 3 0 4 -1 4 0 4 -1 4 -1 3 0 4 0 4 1 3 0 4 0 4 1 3 0 4 1 3 2 3 2 3 2 2 3 3 2 2 2 3 2 2 1 3 1 3 1 3 2 3 1 2 2 3 2 2 3 2 2 2 2 2 3 2 2 2 2 2 2 2 3 2 2 2 2 2 3 2 3 1 3 1 3 1 3 0 3 1 3 1 3 1 3 1 3 1 3 1 4 1 3 1 3 1 3 1 3 1 3 1 4 1 3 1 3 1 4 0 3 0 4 0 4 0 3 1 4 0 3 0 4 1 4 0 4 0 3-1 4 0 4 0 4 0 4 0 4 0 4 1 4 0 4 0 4 1 4 0 4 0 4 0 4 0 4-1 4 0 4-2 5-1 4-1 4-1 4-1 4-1 4-1 4-2 4-1 5-1 4-2 4-1 4-2 4-1 4-2 4-2 4-1 4-2 5-1 4-1 4-1 5-1 4-1 4-1 4-2 4-3 4-2 4-2 4-2 5-1 4-2 4-1 4-2 4-3 4-2 4-3 3-2 4-2 4-2 4-2 4-2 4-3 4-2 4-3 3-2 4-2 4-2 5-2 4-1 4-2 4-2 4-2 4-2 4-2 4-2 4-2 4-2 3-3 4-3 3-3 3-3 2-4 3-4 3-3 3-3 3-2 4-3 3-2 4-2 3-3 3-3 3-3 3-3 2-3 3-3 3-4 3-3 2-3 3-2 3-3 3-3 3-3 3-3 2-3 2-4 2-3 2-4 2-4 2-3 2-3 2-4 2-3 3-3 2-3 2-4 2-3 2-3 2-4 2-3 3-3 2-3 2-3 2-4 2-3 1-4 1-3 2-4 2-3 1-4 2-3 2-3 1-4 1-4 1-3 2-4 1-3 2-4 1-3 2-3 2-4 2-3 1-3 2-4 2-3 2-4 1-3 1-4 1-3 1-4 0-4 0-4 1-3 0-4 1-4 0-3 1-4 1-4 0-3 0-4 0-4 0-3 0-4 0-4 0-3 0-4 0-4 1-3 0-4 1-4 1-3 0-4 0-3 0-4 0-4 -1-3 0-4 -1-4 0-3 0-4 0-3 0-4 -1-4 0-3 -1-4 -1-3 -1-4 -1-3 0-4 0-3 -1-4 -1-3 -1-4 -1-3 -1-4 0-3 -1-4 0-4 0-4 0-3 0-4 0-4 -1-3 -1-4 0-3 -1-4 -1-4 -1-3 -2-3 -2-4 -2-3 -3-2 -2-3 -2-4 -1-3 -2-3 -1-4 -1-4 -1-3 -1-3 -2-4 -2-3 -2-3 -2-3 -2-3 -2-3 -2-3 -2-4 -2-3 -1-3 -2-4 -2-3 -2-3 -3-3 -2-2 -3-3 -3-2 -3-3 -3-3 -2-2 -3-3 -2-3 -3-3 -2-3 -3-3 -3-2 -2-3 -3-3 -2-3 -2-3 -3-3 -3-3 -3-3 -3-2 -3-2 -3-3 -3-2 -3-3 -3-2 -3-3 -3-2 -4-3 -3-2 -4-2 -3-2 -3-3 -3-2 -4-3 -3-3 -3-2 -3-3 -3-3 -4-2 -3-3 -3-3 -4-2 -3-2 -4-2 -4-2 -4-1 -4-2 -4-1 -4-2 -4-2 -4-1 -4-2 -4-2 -4-1 -4-1 -5-2 -4-1 -4-1 -4-1 -4-1 -4-1 -4-2 -4-2 -4-1 -4-2 -4-2 -4-2 -4-1 -4-1 -4 0 -5-1 -4-1 -4-1 -4-1 -4-1 -4-1 -4-1 -4 0 -5-1 -4 0 -4 0 -4-1 -4 0 -4-1 -4-1 -4 0 -4 0 -4-1 -4 0 -4 0 -4-1 -4-1 -3-1 -4-1 -4-1 -4-1 -4-1 -4 0 -3-1 -4 0 -4-1 -4 0 -3 1 -4 0 -4 2 -3 1 -3 2 -4 1 -3 1 -4 0 -3 0 -4 0 -3 0 -4 0 -3 1 -3 1 -3 1 -3 1 -3 1 -3 1 -3 1 -3 1 -3 1 -3 1 -3 0 -3 1 -3 2 -3 1 -2 2 -2 2 -2 2 -2 3 -2 2 -3 1 -2 2 -2 2 -2 1 -2 2 -2 2 -2 2 -2 2 -2 2 -2 2 -2 2 -2 2 -2 2 -1 2 -2 3 -1 2 -1 3 -1 3 -1 2 -1 3 -1 2 -1 3 -1 3 0 3 -1 3 0 3 -1 3 0 3 -1 3 -1 3 -1 3 -1 3 -1 4 0 3 -1 3 -1 4 0 3 0 4 0 3 1 3 1 4 1 3 1 3 1 4z" fill="#ff3e32"/><path d="M831 -25l0 3 -1 2 0 3 -1 2 0 3 -1 3 0 2 -1 3 -1 3 -1 3 -1 3 -1 3 -1 4 0 3 1 3 1 3 1 4 1 3 1 3 1 4 0 3 1 4 1 3 1 3 1 4 1 3 0 4 1 4 0 3 0 4 1 3 1 4 1 4 1 3 1 3 1 4 1 3 0 4 1 3 0 4 1 3 2 3 1 3 1 4 1 3 0 3 0 4 -1 3 0 4 0 3 0 3 0 3 1 4 0 3 1 3 0 3 -1 3 0 4 0 3 0 3 1 3 1 3 1 3 2 3 0 3 1 3 1 4 0 3 0 3 1 3 0 3 1 3 0 4 1 3 -1 3 0 3 0 4 0 3 0 3 1 3 1 4 2 3 2 3 1 3 0 3 0 4 0 3 -1 3 0 4 -1 3 0 3 0 4 -1 3 0 3 0 3 -1 4 0 3 0 3 0 3 0 4 0 3 1 3 0 4 -1 3 0 3 0 3 0 4 1 3 0 3 0 4 0 3 -1 3 -1 3 -1 3 -1 3 -1 4 -1 3 -1 3 -1 3 -1 3 -1 3 -1 3 -1 3 0 4 0 3 0 3 0 4 0 3 0 4 0 3 0 3 -1 3 -1 4 -1 3 -1 3 -1 3 -2 3 -2 3 -2 3 -2 2 -2 3 -1 3 -1 3 -1 3 0 4 -1 3 0 3 -1 3 -1 3 -2 3 -1 3 -1 3 -1 3 -1 3 -2 3 -1 3 -2 3 -2 2 -2 3 -1 3 -2 3 -1 3 -1 3 -1 3 -2 3 -1 3 -2 3 -2 3 -1 3 -1 3 -1 4 -1 3 -1 3 -1 4 -2 3 -2 2 -3 3 -2 3 -1 3 -2 3 -1 4 0 3 -1 3 -1 3 -1 3 -2 3 -1 3 0 3 0 3 0 3 1 2 1 3 1 2 1 3 1 2 1 2 1 2 1 3 1 1 2 2 1 2 2 2 1 2 1 2 1 2 2 2 2 2 2 1 3 1 3 0 3 0 3 0 3 0 2 1 2 2 3 1 2 2 3 2 3 1 3 1 3 1 3 1 3 1 4 1 3 0 4 1 3 0 4 0 4 0 3-1 4 0 4 0 4 0 4 0 4-1 4 0 4-1 4-1 4-1 4 0 4 0 4 0 5 0 4 0 5 0 4 0 4-1 5 0 4-1 5 0 4-1 5-1 4-2 4-2 4-2 4-2 5-3 4-2 4-1 4-2 5-1 4-2 5-2 4-1 4-1 5-1 5-1 4-1 5-1 5-1 4-2 4-2 4-3 3-3 4-2 4-3 4-2 4-2 4-3 3-2 4-3 3-2 4-3 4-2 4-2 3-2 4-2 4-3 3-2 3-3 4-3 3-3 3-3 3-3 3-2 4-3 3-3 2-3 3-3 2-3 3-4 3-3 3-2 3-3 4-2 3-2 3-3 3-3 3-3 2-3 3-4 2-3 3-3 3-3 3-3 2-3 3-3 2-4 1-3 2-4 1-4 1-4 2-3 2-4 2-3 2-4 1-3 2-4 1-4 2-3 2-4 2-3 2-3 2-4 2-3 1-4 0-4 0-4 0-4 0-5 1-3 1-4 1-4 2-3 2-4 1-3 2-4 1-4 1-3 1-4 2-4 1-4 1-3 1-4 0-4 1-4 0-4 0-4 0-3 0-4 1-4 0-4 0-4 0-4 -1-4 0-4 -1-3 0-4 1-4 0-4 1-4 1-4 0-4 1-3 0-4 0-4 0-4 0-4 0-4 0-4 -1-4 -1-3 -2-4 -2-4 -1-3 -2-4 -1-4 -1-3 -1-4 -1-4 -1-3 -1-4 0-4 -1-4 0-4 0-4 0-4 0-4 -1-3 -2-4 -2-3 -2-4 -2-3 -2-3 -1-4 -2-3 -2-4 -1-3 -2-4 -2-3 -2-3 -2-4 -1-3 -2-4 -1-4 -2-3 -2-3 -2-4 -2-3 -3-3 -2-3 -2-3 -2-3 -2-4 -2-3 -3-3 -2-3 -3-2 -3-3 -3-3 -2-3 -2-3 -2-4 -2-3 -2-4 -2-3 -3-3 -2-3 -3-3 -3-2 -3-3 -2-3 -3-4 -2-3 -3-2 -4-3 -3-2 -4-2 -3-2 -4-1 -4-3 -3-2 -3-2 -4-2 -3-2 -4-2 -3-2 -4-2 -3-3 -4-2 -3-3 -3-2 -4-3 -4-1 -4-2 -4 0 -4-1 -5 0 -4-1 -4-1 -4-2 -4-2 -3-2 -4-2 -4-2 -4-2 -4-2 -3-1 -4-2 -4-2 -4-1 -4-2 -4-1 -4 0 -4-1 -5 0 -4-1 -4-1 -4 0 -4-1 -4 0 -4 0 -4 0 -3 0 -4 0 -4 0 -4 0 -4-1 -3-1 -4-1 -4-1 -3 0 -4-1 -3 0 -4 0 -3 0 -4 0 -3 0 -3 1 -4 1 -3 2 -2 1 -3 2 -3 2 -3 1 -2 2 -3 1 -2 1 -3 1 -2 1 -3 1 -2 1 -3 1 -3 0 -3 1 -2 1 -3 2 -1 2 -2 2 -1 3 -1 2 0 3 -1 2 -2 2z" fill="#ff3232"/><path d="M889 -24l-1 2 -1 3 -2 1 -2 2 -2 2 -1 2 -2 3 -1 2 0 3 -1 3 0 2 -1 3 -1 3 -1 3 -1 3 0 3 -1 3 0 3 0 3 1 4 0 3 1 3 1 4 1 3 0 3 1 4 1 3 0 4 0 3 0 4 0 4 0 3 0 4 0 4 0 4 1 3 1 4 1 4 2 3 1 4 1 3 1 4 0 4 1 3 0 4 1 4 0 4 1 3 1 4 0 3 1 4 1 4 1 3 0 4 1 3 0 4 0 3 0 4 0 3 1 3 1 4 1 3 1 3 1 3 1 3 0 4 0 3 -1 3 -1 4 0 3 0 3 0 3 1 3 1 3 1 4 0 3 0 3 -1 3 -1 3 0 3 0 4 1 3 2 3 2 3 1 3 1 3 1 3 0 4 0 3 0 3 0 3 1 4 0 3 0 3 0 4 0 3 -1 3 -1 3 -1 4 -1 3 -1 3 0 3 -1 4 0 3 0 3 1 4 0 3 -1 3 0 3 -1 4 -1 3 -1 3 -1 3 -1 3 -1 3 -1 3 0 4 0 3 0 3 0 4 -1 3 -1 3 -1 3 -1 3 0 3 -1 4 0 3 0 4 0 3 -1 3 -1 3 -2 3 -2 3 -1 3 -2 3 -1 3 -2 3 -1 3 -1 3 -1 3 -1 3 -2 3 -1 2 -2 3 -1 3 -1 3 -1 3 -1 4 0 3 0 3 -1 3 0 3 -1 4 0 3 -1 3 -1 3 -1 3 -2 3 -1 3 -2 3 -2 3 -1 3 -2 3 -1 3 -1 3 0 4 -1 3 -1 3 -1 4 -1 3 -1 4 -2 3 -1 3 -2 3 -2 3 -1 3 -1 4 -1 3 -1 3 -1 3 -1 3 -1 3 -1 3 -1 3 -1 3 -1 3 -1 3 0 2 1 3 1 2 1 3 1 2 1 2 1 2 0 2 0 3 1 2 0 2 1 3 2 1 2 2 3 1 2 1 2 1 2 2 2 1 2 3 3 1 2 1 3 1 3 0 4-1 3-1 3 0 3 0 4 0 3 0 3 1 4 0 3 0 4 0 3 0 4 0 4 0 3 1 4 1 4 1 4 0 5 1 4 0 4 0 4-1 4-1 5-1 4-1 4-1 4 0 5-1 4-1 5 0 5 0 4 0 5-1 4-1 5-2 4-2 4-2 4-2 5-2 4-1 4-2 5-1 4-2 4-2 4-3 4-3 4-2 4-3 4-2 4-1 5-2 4-1 4-2 5-1 4-3 3-2 4-2 4-2 4-3 4-2 4-2 3-2 4-2 4-2 3-3 3-3 3-3 3-3 3-3 3-3 3-3 3-4 3-3 3-3 3-2 3-3 3-3 4-2 3-3 3-2 3-3 3-3 2-4 2-3 2-4 3-3 2-4 2-3 2-4 2-3 3-3 2-3 3-4 2-3 2-3 2-4 2-3 2-4 1-4 2-3 2-4 2-3 2-3 2-4 2-3 2-4 1-4 1-4 1-4 1-4 0-4 2-4 1-3 2-4 2-3 2-4 2-4 1-3 1-4 0-4 0-4 1-4 1-4 1-4 2-4 2-4 1-3 0-4 0-4 -1-5 -1-4 -1-4 -1-4 0-4 0-4 1-4 0-4 0-3 0-4 0-4 0-4 0-4 1-4 1-4 1-4 1-4 0-4 1-4 0-4 -1-4 0-4 -1-4 -1-4 0-3 -1-4 -1-4 0-4 0-4 1-4 0-4 -1-4 0-4 -1-4 -2-4 -2-3 -1-4 -2-4 -1-3 -1-4 -1-4 -1-4 -2-3 -2-4 -2-3 -2-3 -2-4 -2-3 -1-4 -1-4 -1-4 -1-3 -1-4 -1-4 -2-3 -2-4 -1-3 -2-3 -2-4 -1-4 -1-3 -2-4 -2-3 -2-4 -2-3 -3-3 -2-3 -3-3 -2-2 -3-3 -3-3 -2-3 -3-3 -2-3 -2-3 -2-3 -2-3 -2-4 -2-3 -3-3 -2-3 -3-3 -3-2 -3-2 -3-3 -3-2 -3-2 -3-2 -3-3 -3-3 -3-2 -3-3 -3-2 -3-3 -3-2 -3-2 -3-2 -4-2 -3-2 -3-2 -4-2 -3-3 -3-2 -3-2 -4-2 -3-2 -4-1 -4-1 -4-1 -4-1 -4-1 -3-2 -4-2 -3-2 -4-3 -3-2 -4-1 -4-1 -4-1 -4 0 -4 0 -4-1 -3-2 -4-1 -4-2 -4-1 -3-1 -4 0 -4 1 -4 1 -4 1 -4 1 -4 0 -3 0 -4 0 -3 0 -4 0 -3 0 -4 0 -3 1 -3 0 -3 0 -4-1 -3 0 -3-1 -4 0 -3 0 -3 0 -3 1 -3 1 -2 1 -3 2 -2 1 -3 2 -2 1 -3 1 -2 1 -3 1 -3 1 -2 1 -3 2 -1 2z" fill="#de3232"/><path d="M990 -25l-2 1 -2 2 -2 1 -1 2 -2 2 -1 2 -1 2 -1 3 -1 2 -1 2 -1 2 -2 3 -1 2 -1 3 -1 3 0 3 -1 3 0 3 0 3 1 4 0 3 0 3 0 4 1 3 0 4 -1 3 0 4 0 4 1 4 0 3 1 4 0 4 1 4 1 4 1 4 0 3 1 4 1 4 1 4 1 4 1 4 0 4 1 4 1 4 1 3 0 4 1 4 1 4 0 4 1 4 1 3 0 4 1 4 0 4 0 3 0 4 -1 3 -1 4 0 3 -1 4 -1 3 0 4 0 3 0 3 0 4 0 3 0 3 -1 3 -1 4 -1 3 -1 3 -1 3 -1 3 -1 3 -1 3 0 3 -1 3 -1 3 0 3 -1 3 0 4 0 3 0 3 0 3 0 3 0 3 0 4 0 3 -1 3 0 3 0 4 1 3 0 3 1 3 1 4 1 3 1 3 1 3 1 3 0 4 0 3 1 3 1 4 1 3 1 3 2 3 2 3 1 3 1 3 1 3 1 4 0 3 0 3 0 3 0 4 1 3 0 3 1 3 0 3 0 4 -1 3 0 3 -1 3 0 3 -1 3 0 3 0 3 0 4 -1 3 0 3 0 3 0 3 -1 3 0 3 0 4 -1 3 0 3 -1 3 -1 3 -2 4 -1 3 -1 3 -1 3 -2 3 -1 4 -1 3 0 4 -1 3 -1 4 -1 4 -1 3 -1 4 -1 4 -2 3 -1 4 -2 3 -1 4 -1 4 -1 4 -1 3 -1 4 -1 4 0 4 -1 3 -1 4 0 4 -1 3 0 4 0 4 0 3 0 3 0 4 0 3 0 3 0 3 1 3 0 3 1 2 1 3 1 2 1 2 1 2 1 2 2 2 1 2 1 2 1 2 2 2 2 1 2 2 2 1 3 0 3 1 3 0 3 0 3 1 3 0 3 1 3 0 3 1 4 1 3 0 4 0 4 0 4 0 4 0 3 0 4-1 4-1 4-1 4-1 4-1 4-1 4-1 3-1 4-1 4-1 4-1 4-2 4-1 3-2 4-2 3-2 4-2 3-2 3-3 3-2 4-2 3-2 3-2 4-2 2-3 3-2 3-4 2-3 2-3 3-3 2-3 3-3 3-2 3-2 3-3 3-3 2-2 3-3 2-3 2-3 3-3 3-3 3-3 2-3 3-3 2-3 3-3 2-3 2-4 2-3 2-3 2-4 2-3 1-4 2-4 2-3 1-4 2-4 2-3 2-4 2-3 2-4 2-4 2-3 2-4 1-4 2-4 1-4 1-4 1-4 1-4 1-4 1-4 2-4 1-4 2-4 1-4 1-4 1-4 1-4 1-4 1-5 0-4 1-4 0-4 1-4 0-5 0-4 1-4 0-5 0-4 0-4 0-4 0-5 0-4 0-4 0-4 0-5 0-4 0-4 -1-5 0-4 -1-4 0-4 0-5 0-4 1-4 0-4 0-5 0-4 0-4 -1-4 -1-4 -1-5 0-4 -1-4 -1-4 -1-4 0-4 0-4 -1-5 0-4 0-4 -1-4 0-4 -1-4 0-5 -1-4 -1-4 -1-4 -1-4 -2-3 -1-4 -1-4 -2-4 -1-4 -1-4 -1-4 -1-4 -1-3 -2-4 -1-4 -2-4 -2-3 -2-3 -2-4 -2-3 -3-3 -1-4 -2-3 -2-4 -2-3 -2-3 -2-3 -3-3 -3-3 -3-2 -3-3 -3-2 -2-3 -2-3 -2-3 -2-3 -3-3 -2-3 -3-2 -2-3 -3-3 -2-2 -2-3 -3-3 -2-3 -3-2 -2-3 -3-2 -3-3 -3-2 -3-2 -3-2 -3-2 -3-1 -3-2 -3-2 -4-1 -3-2 -3-1 -3-2 -3-2 -4-1 -3-2 -3-2 -3-2 -4-1 -3-2 -4-1 -4-1 -3 0 -4-1 -4 0 -3-1 -4 0 -4-1 -3-1 -4-1 -3 0 -4-1 -3 0 -4 0 -3 0 -4 1 -3 0 -3 1 -3 1 -3 1 -2 1 -3 1 -2 1z" fill="#ac3232"/><path d="M673 92l-2 2 0 3 1 3 -1 2 -2 3 -1 2 -1 2 -1 3 -1 2 -1 3 -2 1 -3 1 -3-1 0-3 -1-3 -1-2 0-2 -1-3 0-3 1-2 0-3 -1-3 0-2 1-3 0-2 1-3 1-2 0-3 0-3 1-2 1-3 1-2 2-2 2-2 2-2 2-1 2 2 2 2 0 3 0 2 0 3 0 2 0 3 2 2 1 3 0 3 0 2z" fill="#ff3232"/><path d="M460 243l0-4 0-4 0-3 1-4 0-3 1-4 1-3 0-4 1-3 1-4 2-3 1-2 3-3 2-2 2-3 3-2 2-3 1-3 2-3 2-4 2-3 3-3 3-2 3-1 4-2 3-2 4-2 3-2 2-2 3-3 2-3 2-3 3-3 3-2 2-2 3-3 3-2 2-3 2-2 2-3 3-3 2-2 2-3 3-2 3-2 2-3 2-3 2-3 1-3 1-4 0-4 1-3 1-4 1-3 1-3 2-4 2-3 1-3 2-3 2-4 1-3 2-3 2-3 2-3 2-3 1-3 2-3 2-3 2-3 2-3 3-2 2-3 3-2 3-2 4-1 3-1 4-1 3 0 4 0 3 0 3 0 4 1 3 1 3 2 3 2 3 2 3 3 2 4 1 3 2 4 1 3 0 4 0 3 1 4 0 3 -1 4 0 4 -1 3 -1 4 -1 3 -2 4 -1 4 -1 3 -1 4 -1 4 -1 4 0 4 -1 4 0 4 -1 4 0 4 -1 4 0 4 -1 3 1 4 1 3 1 4 2 2 2 3 2 2 3 2 2 1 3 2 3 2 3 2 3 1 4 1 4 1 4 1 3 0 4 1 4 1 4 1 4 1 3 1 4 1 4 1 3 2 3 1 4 2 2 2 3 2 3 3 2 2 3 2 3 1 4 2 3 1 3 2 3 2 3 3 1 3 1 4 1 3 2 4 1 3 2 3 1 3 2 4 2 3 2 3 1 4 1 3 1 4 0 4 1 3 1 4 1 4 0 3 1 4 0 3 0 4 -1 4 -1 3 0 4 0 4 0 3 0 4 1 3 1 4 0 3 0 4 0 3 -1 4 -1 3 -1 4 -2 3 -1 4 -1 3 -1 3 -1 4 -1 3 -2 4 -1 3 -1 3 -1 4 -1 3 -1 4 -1 3 -1 4 -2 3 -1 3 -2 3 -2 3 -2 3 -2 3 -2 2 -2 3 -3 3 -2 3 -2 2 -2 3 -2 3 -3 3 -2 3 -3 2 -3 2 -3 2 -3 2 -3 2 -3 2 -4 2 -3 2 -3 1 -4 2 -3 1 -4 1 -3 1 -4 0 -4 1 -3 0 -4 0 -3 0 -4 0 -3 0 -4 0 -4-1 -3-1 -4-1 -3-1 -3-2 -4-2 -3-1 -3-2 -4-1 -3-1 -4 0 -4-1 -3-1 -4-1 -3-2 -3-1 -3-2 -4-1 -3-2 -3-1 -3-2 -3-1 -4-2 -3-1 -3-2 -3-2 -3-1 -3-2 -3-2 -3-2 -3-2 -3-2 -3-2 -2-3 -3-3 -2-2 -3-2 -3-2 -3-2 -3-2 -4-2 -3-2 -3-2 -2-3 -2-3 -1-3 -2-3 -2-4 -2-2 -2-3 -3-3 -2-2 -3-3 -2-3 -2-3 -2-3 -2-3 -1-4 -2-3 -2-3 -2-3 -2-3 -1-3 -1-4 -1-4 0-3 -1-4 0-3 -1-4 -2-3 -1-3 -2-4 -1-3 -2-3 0-4 -1-3 0-4 1-4 0-3 0-4 0-4zM108 200l1 2 1 3 0 2 1 3 1 2 0 3 1 2 0 3 0 2 0 3 0 3 -1 2 0 3 -2 2 -1 2 -2 3 -2 2 -2 1 -2 1 -3 0 -2-1 -3-1 -2-1 -2-1 -2-2 -1-2 -2-2 -2-2 -2-2 -1-2 -2-2 -1-2 -1-3 -1-2 -1-2 -1-3 -1-2 -1-3 -1-2 -1-2 0-3 -1-3 1-2 0-3 0-3 0-2 0-3 0-2 1-3 0-2 1-2 1-3 1-2 2-1 3-1 2 0 3 0 2 1 3 0 3 1 2 2 2 2 2 2 1 2 2 2 2 2 1 2 1 2 1 3 1 2 1 2 1 3z" fill="#ff8228"/><path d="M481 298l1-3 0-4 0-3 0-4 0-3 1-4 0-4 1-3 1-4 2-3 1-3 2-4 1-3 2-3 1-3 2-4 1-3 2-3 1-4 2-3 2-3 2-3 2-3 3-3 3-2 3-2 3-2 4-2 3-1 3-2 4-1 3-2 4-1 3-2 3-1 4-1 3-2 3-1 4-2 3 0 4-1 3 0 4 0 4 0 3 0 4-1 3-1 3-2 4-2 3-1 4-2 3-1 4 0 4 0 3 0 4 0 3 1 4 0 4 1 3 0 4 1 3 0 4 0 4 1 3 0 4 1 3 2 3 1 3 3 3 2 3 2 4 1 3 2 4 1 3 1 4 1 3 1 3 2 3 2 3 3 3 2 3 2 3 3 2 2 3 3 2 3 1 4 1 4 1 3 1 4 1 3 2 3 2 3 2 3 2 3 2 4 0 4 0 3 -1 4 0 4 0 3 1 4 1 3 1 4 1 4 1 3 0 4 0 3 -1 4 -1 4 -1 3 0 4 0 3 -1 4 -1 3 -1 4 -1 3 -1 4 -2 3 0 4 -1 3 0 4 -1 4 -1 3 -2 4 -2 3 -3 2 -3 3 -3 2 -2 2 -3 3 -2 2 -2 3 -3 3 -3 2 -3 2 -3 2 -3 1 -3 2 -4 1 -3 1 -3 1 -4 1 -3 1 -4 1 -3 1 -4 2 -3 1 -4 0 -4 1 -3 0 -4 0 -4 0 -4-1 -3-1 -4-2 -3-1 -4-1 -3-2 -3-2 -3-1 -4-2 -3-1 -3-2 -4-1 -3-2 -3-2 -3-2 -3-2 -3-2 -2-3 -3-3 -2-2 -3-2 -4-2 -3-1 -4-1 -3-1 -4-1 -3-2 -3-2 -3-2 -3-2 -3-2 -2-3 -3-2 -3-3 -3-2 -3-2 -3-2 -3-2 -3-2 -3-2 -3-2 -3-2 -2-3 -2-3 -2-3 -2-3 -2-3 -3-3 -2-2 -3-3 -2-3 -2-3z" fill="#ffa523"/><path d="M533 299l-1-4 0-4 1-4 1-3 1-4 2-3 2-3 2-4 2-3 1-3 2-3 2-3 1-3 2-3 3-3 2-3 2-2 3-3 2-2 3-3 3-2 2-2 3-2 3-2 3-2 3-2 3-2 3-2 3-2 3-1 3-2 4-1 3 0 4-1 3-1 4-2 3-1 4-1 3-1 4-1 4 0 3 0 4 1 4 1 3 0 4 1 4 1 3 1 4 1 3 1 4 2 3 2 3 2 3 2 3 2 3 2 3 3 2 2 2 3 3 3 2 3 3 3 2 2 3 2 3 3 2 3 2 2 2 4 2 3 1 3 1 4 1 3 1 4 1 3 0 4 0 4 0 3 0 4 -1 4 0 3 -1 4 0 3 0 4 0 3 0 4 -1 3 0 4 -1 3 0 4 -1 3 -1 4 0 4 -1 3 -1 4 -1 3 -2 3 -2 3 -2 3 -2 3 -3 3 -2 3 -2 3 -2 3 -2 2 -3 3 -3 2 -3 2 -3 2 -4 2 -3 1 -4 1 -3 2 -4 0 -4 1 -3 0 -4-1 -4-1 -3-1 -4-1 -3-1 -4-2 -3-1 -3-1 -4-2 -3-1 -4-1 -3-2 -3-1 -4-2 -3-2 -3-2 -2-2 -3-3 -3-2 -2-3 -3-3 -2-2 -3-3 -3-2 -3-2 -2-2 -3-3 -2-2 -3-3 -2-3 -2-2 -3-3 -2-3 -2-3 -2-3 -3-2 -2-3 -2-3 -2-3 -2-3 -3-3 -2-3 -1-3z" fill="#ffc814"/><path d="M570 299l1-4 1-4 2-3 2-3 1-4 2-3 2-3 2-3 3-3 2-3 3-2 3-2 3-2 3-1 3-2 3-1 3-1 4-1 3-1 4-1 3 0 4 0 3 0 3 0 4 0 3 0 4 1 3 1 4 0 3 1 4 1 3 1 4 1 3 2 3 1 3 2 4 1 3 2 3 2 3 2 4 2 3 2 2 2 3 3 2 4 2 3 2 3 1 4 2 3 1 4 0 4 1 3 0 4 -1 4 0 4 -1 3 -1 4 -1 4 -1 3 -1 4 -1 3 -1 3 -1 4 -2 3 -2 3 -1 2 -2 3 -2 3 -2 2 -3 3 -2 2 -3 2 -4 2 -3 2 -3 1 -4 1 -3 0 -3 0 -3-2 -2-2 -2-3 -2-4 -1-4 0-3 0-4 0-4 -1-3 -1-3 -2-3 -3-2 -3-2 -4-1 -3 0 -3 1 -4 1 -4 0 -3 0 -4 0 -3-1 -4-2 -3-1 -3-2 -4-2 -3-2 -3-1 -3-3 -3-2 -3-2 -3-2 -2-3 -3-2 -3-4 -2-3 -1-4z" fill="#fff200"/><path d="M655 298l0 3 0 3 -1 2 -1 3 -1 2 -1 3 -1 2 -2 2 -1 2 -2 2 -2 2 -2 2 -2 1 -2 1 -2 1 -3 1 -2 1 -3 1 -2 0 -3 0 -3-1 -2-1 -2 0 -3-1 -2 0 -3-1 -2-2 -2-1 -2-2 -2-2 -2-2 -1-2 -1-2 -1-3 -1-2 -1-3 0-3 0-2 0-3 -1-2 0-3 0-2 1-3 2-2 1-2 0-3 1-2 2-2 2-2 2-2 1-2 2-2 2-2 2-1 3-1 3 0 2-1 3 0 2 0 3 1 2 0 3 0 3 0 2 1 3 1 2 2 2 2 2 1 2 1 1 3 1 2 1 3 1 2 2 2 1 2 1 2 1 3 0 3z" fill="#dcff2d"/><path d="M647 298l0 3 0 3 -1 2 -1 3 -1 2 -1 2 -1 3 -1 2 -2 2 -2 1 -3 2 -2 1 -2 1 -3 0 -3 0 -2 0 -3 0 -2-1 -2-2 -2-1 -2-2 -2-2 -1-2 -2-2 -2-2 -2-2 0-3 0-2 0-3 1-3 0-2 1-3 0-2 0-3 0-3 2-2 1-2 2-2 2-1 2-2 2-1 2-1 3-1 2-2 3-1 3 0 2 1 2 2 3 1 2 1 2 3 1 2 2 1 2 2 1 3 0 2 0 3 1 2 1 3z" fill="#a0ff5a"/><path d="M642 299l1 3 -1 2 -1 3 -1 2 -1 3 -1 2 -2 2 -2 2 -2 1 -3 1 -3 0 -2-1 -3 0 -2-2 -2-1 -2-2 -1-2 -1-3 -1-2 -1-3 0-2 0-3 0-2 0-3 1-2 1-3 1-2 2-2 1-2 2-2 3-1 2-1 3 0 2 0 3 1 2 1 2 2 2 2 1 2 1 2 1 3 1 2 0 3z" fill="#64ff82"/><path d="M637 300l0 3 -1 2 -1 3 -1 2 -3 2 -2 0 -3 0 -2-1 -1-2 -2-3 0-2 -1-3 0-2 1-3 0-2 1-2 2-2 3-2 2 0 3 1 2 2 1 2 1 2 0 3z" fill="#00ffa0"/>
<path d="M57.3 0V550.8M243.9 0V550.8M430.5 0V550.8M617.2 0V550.8M803.8 0V550.8M990.4 0V550.8M0 472.9H1034.4M0 395.7H1034.4M0 317.8H1034.4M0 238.9H1034.4M0 159.1H1034.4M0 78.1H1034.4" stroke="#fff" stroke-opacity="0.09" stroke-width="2" fill="none"/>
<path d="M215.9 553.1L216.4 543.8L214.5 534.4L216.7 529.6L218.5 522.3L223.1 514L222.1 510.7L218.6 504.3L218.9 500.1L216.7 494.9L216 483.8L213.9 478.4L214.8 474.1L213.8 468.2L211.9 461.6L210.8 455.4L209.4 451.3L207.9 445.8L206.5 439.2L204.1 434L204.6 428.7L201 422.3L194.6 414L191.4 412.2L187.6 405.8L183.6 401.3L179.8 396.2L174.6 392.3L171.5 387.5L167.6 383.3L162.2 379.4L156.3 375.2L152.5 372.6L147.6 367.5L143.3 361.2L138.3 355.9L130.1 351.2L126.7 346L122.9 344.7L118.4 338.2L115.9 331.4L112.6 325.4L111 316L105.1 311.8L98.4 307.2L94.2 302.6L90.3 299.5L86.9 294.3L85.7 287.8L83 281.9L80.8 275.5L82.9 269.1L85.6 263.8L86.3 258.2L89.9 252L90.9 244L94.5 240.4L101.1 238.2L105.2 235.3L109.8 232.7L115.8 227.9L115.7 222.1L117.9 212.7L119 205.5L128 204.4L131.3 201.9L136.8 200L140.5 195.7L146.9 193.5L152.5 188L158.7 184L163.7 181.2L169.6 177.5L174.2 175.1L180.6 171.7L187.6 168.7L191.1 167.6L200.2 169.3L204.5 173.3L208.9 175.3L211 182.1L215.5 181L221.1 179.4L227.2 172.4L231.5 175L240.5 182.8L241.9 182.3L238.8 187.2L233.6 195.1L234.8 204.9L237.2 212.8L239.3 220.1L244.9 225.1L248.2 230.8L256.7 228L264.3 224.4L267.1 216.1L261.8 209.6L256.8 204.2L258.7 194.5L260.9 186.1L264.7 184.3L269.4 181.3L273.7 183.7L278.3 181.9L283.7 178.4L289.3 180.4L295.5 178.7L298.3 176.4L304.9 175.6L310.5 173.1L320.5 171.8L330.3 171.2L333.7 168.1L340.2 169.5L347.9 165.6L354.6 161.3L359 154L363.2 155.7L367.1 154.2L371.6 150.9L377.6 150L382.9 148L387.1 143.2L391.9 150.1L396.5 156.7L400.5 147.9L401.2 140.1L407 136.9L413.4 133.4L416.9 132.5L421.5 134.4L427 134.3L434.3 127L440.3 125.9L445.2 129.7L450.7 130.6L456.5 129.2L460.9 128.8L466.3 125L473.3 122.9L477.7 123.5L483.4 121.3L489.3 114.1L491.2 109.2L492.1 104.4L500.8 102.6L507.3 99.2L514.7 93L519 88.1L521.7 84.3L532.3 82.2L535.6 75.8L540 69.6L544.2 67.8L539.9 64.8L535.4 61L540.6 59.9L546.9 56.6L552.7 57.4L556.3 56.2L561.8 54.1L568 48.3L576.2 40.8L580.9 32.7L589.2 26.8L597.7 22.9L602.3 16.2L608.4 8.8L601.3 4.1L606.1 -3.6M648.3 47.5L644.2 52.5L639.4 56.5L637.6 62.7L636.8 67.8L633.1 72.5L630.9 75.8L628.7 82.5L627 87.1L624.8 91.1L622.4 96.6L620.4 102.6L619 108.9L618.7 116.4L620.5 121.8L622.1 126.2L628.6 132.8L631.4 137.8L636.7 141.1L639.3 147.2L641.5 151.4L642.3 156.2L642.5 160.6L649.1 163.6L650.6 155.5L650.9 149.6L652.8 144L655 138.9L658.4 133.3L660.8 128.8L664.2 125.1L666.8 118.3L669.9 112.2L670.9 106.4L673.5 101.3L676.1 93.3L677.5 86.4L678.6 79.9L679.2 72.3L679.4 67.2L682.1 62.3L683.6 54.4L684.6 48.4L684.5 44.3L682.9 37.1L679.5 31.6L675.1 27.6L670.1 23.2L663.2 26.4L658.4 29.9L654.8 34.9L650.9 37.5L649.3 42.6ZM211 249.9L217.2 246.6L220.9 245.3L225.6 242.3L230.6 240.5L236.5 241.4L241.5 241.4L249.9 238.4L256.2 237.4L261.7 236.7L268.7 234.9L273 240.2L280.8 243.8L281 252.3L276.3 257.8L269.4 262.8L266.5 268.7L261.2 278.4L259.6 284.6L257.5 288.5L253.1 295.7L243.3 301.1L239.2 304.7L234.2 305.9L228.1 310.4L219.3 307.6L216.6 305.4L211.8 303.7L207.1 302.8L201.8 300.9L192.9 297L193.7 289.3L192.5 283.5L191.9 279.2L193.4 270.3L197.6 262.3L202.4 257.1L207.1 253.8ZM637.7 300.9L641.1 296.6L643.8 292.6L652.1 294.2L659.8 296.6L668.3 302.7L673.5 303.9L678.2 305.6L687 305.6L695.2 301.8L699.1 297.9L700.8 302.9L700.6 313.6L700.6 317.4L698.8 323.3L699.7 328.4L699.1 332L701.5 338.9L702.7 341.6L709.9 347.4L709.2 357.3L707.1 362.5L705.5 367.7L703.9 372.1L701.3 376.7L695.5 384.8L690.3 392.6L681.9 395.2L675.4 401L674 405.6L674.4 410.7L673.8 415.6L670.1 421.3L667.3 427.3L672.9 433L678 439L679.7 445.2L680.9 450.3L679.5 460.1L683.2 467.6L692.3 474.1L698.8 476.2L701.8 470.3L706.7 462.6L714.9 461.1L723.7 462.2L729.1 467.8L731.1 476L733.6 481.3L740.5 485.7L744.1 481.5L749.2 477.3L757 475.9L765.5 479.9L770.3 487.8L774.3 491.7L781.5 483.3L780.9 476.1L775.2 469.3L772.2 472.2L770.7 476.9L769.6 480.5L762.2 475.7L755.1 471.5L747.2 473.1L740.3 481.1L736.6 477L734.1 468.7L730.8 460.9L723.3 456.5L712.8 456.9L704.8 461.8L701.3 468.5L695.6 470.2L687.7 465.5L683.8 457L683.9 448.1L681.5 438.7L679.5 435.9L675.5 431.8L671.9 426.5L667.8 430L663.1 436L660.2 441.1L654.6 449.3L646.5 447.3L638.5 444L634.3 451.5L628 446.3L622.4 440.6L618.8 433.5L617.2 424L613.6 417.1L612.3 412.2L610.7 408L609.2 400.5L608.5 391.1L610.9 386.5L610.9 381.4L612.9 384.8L618.7 392L626.5 393.2L634.6 388.2L632.5 382.5L627.9 372.1L628 367.4L629.2 362.3L628.7 357.3L629 351.4L631.5 348.4L632.5 342.4L630.9 332.2L630.9 327.7L632.1 321.2L635.3 317.6L633.9 311.9L636.2 306.8ZM634.7 495.4L639.9 494.7L646.2 493.6L649.5 491.4L653.7 491.9L659.4 496.6L663.4 501.5L667.9 505.8L670.9 511.6L673.8 514.8L673 520.5L671.4 526.5L669.5 531.1L666.8 535.2L662.3 540.9L654.4 538.7L652 533.2L648.5 526.9L646.5 521.8L644.7 516.1L641.5 511L638.4 507.5L636.7 501.3ZM684.8 493.5L691.5 489.1L694.7 494.4L695 501.8L688.9 504.2L683.8 499.4ZM709.4 477.7L714.4 475L716 481.3L715.3 484.8L714 489.3L715.5 495.1L715.7 499.6L713.7 504.9L708.6 498.1L710.4 487.6ZM727.1 507.2L735.2 505.7L742.9 512.2L751.1 518L758.5 513.2L765.9 505.5L773.8 510.9L769 519.7L761.3 523L753.2 525.4L747.1 522.2L743.1 520.9L738.2 518.7L732.3 518.4L730 512.1ZM734.9 491.5L742.3 489.1L746.7 497.1L743.6 504.9L737.7 500.8L735.9 496.4ZM758.5 495.4L764.3 494.4L768.4 493.5L773 499.3L769.4 505.1L762.4 503.3ZM778.1 526.9L782.9 525.7L787.9 525.2L793 526.9L797.1 527.5L802.5 526.2L807.5 524.7L811.9 528.6L815.1 532.4L821.3 539.7L822.7 545.5L823.3 551L817.5 552.1L811.7 553.5L804 550.6L798.7 549.7L788.8 547.4L785.1 543.6L782.2 538.9L780.1 532.8ZM611.1 538.6L619.1 537.6L626.5 542.5L628.1 550.8L620.4 552.1L613.1 546.5ZM691.7 524.9L699.7 524L698.9 527.2L698.2 531.6L695.6 537.9L693.7 542.8L689.1 545.8L687.7 540.7L690 535.8L690.7 529.8ZM703.5 528.8L711.4 529.5L717.1 536.6L713.6 540.2L705.4 536.7ZM738.8 526.9L746.8 529L749.3 534L752.2 538.8L757.1 546.2L750.8 551.3L745.8 546.3L742.8 543.2L736.9 534.7ZM760.5 536.7L768.8 538.5L772.5 547.9L767.7 552.1L763 549.1L761.4 542.6ZM620 477.7L625.8 478.8L630.4 484.4L625.3 486.6L621 482.7ZM640.6 477.7L648.4 480.6L655 485.7L648.2 488.2L642.6 483.6Z" fill="none" stroke="#fff" stroke-width="1.8" stroke-linejoin="round"/><path d="M599.2 96.6h0.1M601.2 104.5h0.1M598.2 110.4h0.1M671.9 134.0h0.1M675.8 157.5h0.1M687.6 206.7h0.1M689.6 224.3h0.1M669.9 263.6h0.1M668.0 283.3h0.1M728.9 61.3h0.1M758.4 65.2h0.1M768.2 61.3h0.1M778.0 55.4h0.1M663.2 275.4h0.1M666.2 283.2h0.1M687.8 282.3h0.1M727.1 457.1h0.1M122.6 202.7h0.1M130.5 204.7h0.1M136.4 206.7h0.1M148.1 198.8h0.1M161.9 199.8h0.1M211.0 198.8h0.1M159.9 233.2h0.1M340.7 171.3h0.1M346.6 173.3h0.1M374.1 126.1h0.1M380.0 135.9h0.1M383.9 151.6h0.1M389.8 159.5h0.1M93.1 265.3h0.1M93.1 287.9h0.1M145.2 350.7h0.1M163.9 382.2h0.1M177.6 392.0h0.1M189.4 397.9h0.1M211.0 420.5h0.1M220.8 525.6h0.1M218.9 541.3h0.1" fill="none" stroke="#fff" stroke-width="4" stroke-linecap="round"/>
<g stroke="#1a0500" stroke-opacity="0.88" stroke-width="1.65" fill="none"><g marker-end="url(#a0)"><path d="M-1 16l-13 -8"/><path d="M27 16l-13 -6"/><path d="M54 16l-14 -8"/><path d="M81 16l-12 -8"/><path d="M108 16l-14 -9"/><path d="M136 16l-10 -7"/><path d="M163 16l-10 -9"/><path d="M190 16l-11 -9"/><path d="M218 16l-10 -9"/><path d="M245 16l-11 -10"/><path d="M272 16l-13 -8"/><path d="M300 16l-13 -4"/><path d="M327 16l-13 -1"/><path d="M354 16l-13 1"/><path d="M382 16l-13 0"/><path d="M409 16l-16 1"/><path d="M436 16l-16 9"/><path d="M-14 39l-12 -9"/><path d="M13 39l-16 -7"/><path d="M40 39l-12 -8"/><path d="M68 39l-17 -8"/><path d="M95 39l-13 -9"/><path d="M122 39l-12 -6"/><path d="M150 39l-10 -8"/><path d="M177 39l-12 -8"/><path d="M204 39l-11 -9"/><path d="M231 39l-11 -7"/><path d="M259 39l-13 -7"/><path d="M286 39l-10 -7"/><path d="M313 39l-11 -6"/><path d="M341 39l-13 -2"/><path d="M368 39l-13 -1"/><path d="M395 39l-14 4"/><path d="M423 39l-12 7"/><path d="M450 39l-16 9"/><path d="M-1 63l-12 -9"/><path d="M27 63l-13 -7"/><path d="M54 63l-15 -6"/><path d="M81 63l-14 -7"/><path d="M108 63l-12 -7"/><path d="M136 63l-11 -7"/><path d="M163 63l-11 -5"/><path d="M190 63l-11 -6"/><path d="M218 63l-10 -10"/><path d="M245 63l-12 -7"/><path d="M272 63l-10 -8"/><path d="M300 63l-11 -6"/><path d="M327 63l-13 0"/><path d="M354 63l-13 0"/><path d="M382 63l-12 4"/><path d="M409 63l-14 1"/><path d="M436 63l-16 6"/><path d="M-14 86l-9 -10"/><path d="M13 86l-11 -7"/><path d="M40 86l-12 -7"/><path d="M68 86l-14 -8"/><path d="M95 86l-11 -8"/><path d="M122 86l-12 -5"/><path d="M150 86l-11 -7"/><path d="M177 86l-11 -6"/><path d="M204 86l-11 -8"/><path d="M231 86l-11 -6"/><path d="M259 86l-10 -7"/><path d="M286 86l-12 -4"/><path d="M313 86l-13 -1"/><path d="M341 86l-12 3"/><path d="M368 86l-12 2"/><path d="M395 86l-13 3"/><path d="M423 86l-13 3"/><path d="M450 86l-13 10"/><path d="M-1 109l-9 -9"/><path d="M27 109l-10 -8"/><path d="M54 109l-10 -8"/><path d="M81 109l-11 -7"/><path d="M108 109l-9 -9"/><path d="M136 109l-10 -8"/><path d="M163 109l-11 -6"/><path d="M190 109l-12 -5"/><path d="M218 109l-11 -6"/><path d="M245 109l-12 -5"/><path d="M272 109l-12 -3"/><path d="M300 109l-13 2"/><path d="M327 109l-12 5"/><path d="M354 109l-11 7"/><path d="M382 109l-11 6"/><path d="M409 109l-11 9"/><path d="M436 109l-12 9"/><path d="M463 109l-13 13"/><path d="M-14 132l-2 -12"/><path d="M13 132l-5 -11"/><path d="M40 132l-6 -11"/><path d="M68 132l-4 -12"/><path d="M95 132l-8 -10"/><path d="M122 132l-10 -8"/><path d="M150 132l-12 -4"/><path d="M177 132l-12 -5"/><path d="M204 132l-13 -1"/><path d="M231 132l-13 0"/><path d="M259 132l-13 1"/><path d="M286 132l-12 2"/><path d="M313 132l-10 8"/><path d="M341 132l-8 10"/><path d="M368 132l-6 11"/><path d="M395 132l-6 12"/><path d="M423 132l-8 12"/><path d="M450 132l-11 15"/><path d="M477 132l-10 17"/><path d="M-1 156l1 -13"/><path d="M27 156l0 -13"/><path d="M54 156l0 -13"/><path d="M81 156l0 -13"/><path d="M108 156l-2 -12"/><path d="M136 156l-9 -9"/><path d="M163 156l-12 -2"/><path d="M190 156l-13 0"/><path d="M218 156l-13 1"/><path d="M245 156l-12 4"/><path d="M272 156l-9 9"/><path d="M300 156l-7 11"/><path d="M327 156l-5 13"/><path d="M354 156l-4 16"/><path d="M382 156l-6 16"/><path d="M409 156l-5 18"/><path d="M436 156l-4 17"/><path d="M-14 179l4 -12"/><path d="M13 179l4 -14"/><path d="M40 179l2 -14"/><path d="M68 179l3 -13"/><path d="M95 179l2 -12"/><path d="M122 179l-4 -12"/><path d="M150 179l-13 0"/><path d="M177 179l-13 2"/><path d="M204 179l-12 4"/><path d="M231 179l-10 8"/><path d="M259 179l-11 6"/><path d="M286 179l-8 10"/><path d="M313 179l-2 13"/><path d="M341 179l-1 18"/><path d="M368 179l-1 20"/><path d="M-1 202l2 -14"/><path d="M27 202l5 -14"/><path d="M54 202l7 -14"/><path d="M81 202l4 -13"/><path d="M108 202l1 -13"/><path d="M136 202l-7 -10"/><path d="M163 202l-12 2"/><path d="M190 202l-11 6"/><path d="M218 202l-13 6"/><path d="M245 202l-11 6"/><path d="M272 202l-10 7"/><path d="M300 202l-5 11"/><path d="M327 202l-1 14"/><path d="M354 202l-2 16"/><path d="M-14 226l5 -17"/><path d="M13 226l2 -14"/><path d="M40 226l9 -16"/><path d="M68 226l4 -13"/><path d="M95 226l3 -14"/><path d="M122 226l0 -13"/><path d="M150 226l-13 0"/><path d="M177 226l-12 4"/><path d="M204 226l-12 5"/><path d="M231 226l-13 6"/><path d="M259 226l-11 6"/><path d="M286 226l-7 10"/><path d="M313 226l-3 12"/><path d="M341 226l-2 14"/><path d="M368 226l1 19"/><path d="M395 226l2 20"/><path d="M-1 249l5 -17"/><path d="M27 249l4 -15"/><path d="M54 249l6 -14"/><path d="M81 249l4 -12"/><path d="M108 249l5 -11"/><path d="M136 249l-2 -13"/><path d="M163 249l-12 4"/><path d="M190 249l-11 7"/><path d="M218 249l-11 6"/><path d="M245 249l-11 6"/><path d="M272 249l-9 9"/><path d="M300 249l1 13"/><path d="M327 249l0 13"/><path d="M354 249l2 15"/><path d="M382 249l5 17"/><path d="M-14 272l6 -11"/><path d="M13 272l8 -13"/><path d="M40 272l7 -13"/><path d="M68 272l7 -11"/><path d="M95 272l8 -10"/><path d="M122 272l8 -10"/><path d="M150 272l4 -12"/><path d="M177 272l-10 7"/><path d="M204 272l-11 7"/><path d="M231 272l-9 9"/><path d="M259 272l-4 12"/><path d="M286 272l3 12"/><path d="M313 272l6 11"/><path d="M341 272l6 11"/><path d="M368 272l5 13"/><path d="M395 272l10 12"/><path d="M423 272l12 15"/><path d="M-1 296l9 -11"/><path d="M27 296l8 -10"/><path d="M54 296l9 -9"/><path d="M81 296l7 -10"/><path d="M108 296l9 -9"/><path d="M136 296l10 -7"/><path d="M163 296l13 -1"/><path d="M190 296l10 7"/><path d="M218 296l11 6"/><path d="M245 296l12 3"/><path d="M272 296l12 3"/><path d="M300 296l10 7"/><path d="M327 296l11 6"/><path d="M354 296l12 9"/><path d="M382 296l16 11"/><path d="M627 296l-12 10"/><path d="M-14 319l14 -9"/><path d="M13 319l14 -10"/><path d="M40 319l12 -12"/><path d="M68 319l12 -10"/><path d="M95 319l14 -5"/><path d="M122 319l11 -7"/><path d="M150 319l12 -4"/><path d="M177 319l13 -1"/><path d="M204 319l14 -2"/><path d="M231 319l17 2"/><path d="M259 319l19 2"/><path d="M286 319l17 2"/><path d="M313 319l14 7"/><path d="M341 319l15 4"/><path d="M368 319l18 10"/><path d="M-1 342l16 -10"/><path d="M54 342l17 -10"/><path d="M81 342l17 -7"/><path d="M108 342l15 -8"/><path d="M136 342l13 -3"/><path d="M163 342l13 0"/><path d="M190 342l16 -1"/><path d="M272 342l19 0"/><path d="M300 342l20 3"/><path d="M327 342l19 4"/><path d="M-14 366l18 -8"/><path d="M122 366l14 -7"/><path d="M150 366l15 -5"/><path d="M177 366l17 0"/><path d="M-1 389l18 -7"/><path d="M108 389l18 -8"/><path d="M136 389l16 -4"/><path d="M163 389l18 -4"/><path d="M190 389l19 -3"/><path d="M272 389l19 2"/><path d="M13 412l16 -8"/><path d="M40 412l18 -7"/><path d="M95 412l18 -5"/><path d="M122 412l16 -8"/><path d="M150 412l18 -5"/><path d="M177 412l18 -3"/><path d="M341 412l19 3"/><path d="M108 435l17 -9"/><path d="M163 435l18 -3"/><path d="M190 435l19 -5"/><path d="M218 435l19 -5"/><path d="M272 435l17 -6"/><path d="M327 435l20 -3"/><path d="M-14 459l19 -5"/><path d="M122 459l18 -8"/><path d="M150 459l18 -7"/><path d="M136 482l18 -8"/><path d="M40 505l18 -9"/><path d="M122 505l18 -6"/><path d="M108 529l18 -5"/></g><g marker-end="url(#a1)"><path d="M463 16l-15 16"/><path d="M600 16l-20 10"/><path d="M627 16l-24 1"/><path d="M654 16l-22 -4"/><path d="M682 16l-23 -7"/><path d="M736 16l-22 -12"/><path d="M791 16l-19 -16"/><path d="M532 39l-16 18"/><path d="M614 39l-20 8"/><path d="M641 39l-24 0"/><path d="M668 39l-24 -4"/><path d="M463 63l-18 15"/><path d="M545 63l-16 19"/><path d="M627 63l-24 4"/><path d="M477 86l-14 19"/><path d="M532 132l-16 19"/><path d="M463 156l-9 18"/><path d="M491 156l-11 20"/><path d="M518 156l-11 20"/><path d="M395 179l-1 21"/><path d="M423 179l-3 21"/><path d="M450 179l-3 24"/><path d="M477 179l-7 19"/><path d="M504 179l-7 24"/><path d="M532 179l-15 19"/><path d="M382 202l0 20"/><path d="M409 202l0 20"/><path d="M436 202l0 20"/><path d="M463 202l0 21"/><path d="M491 202l-2 23"/><path d="M518 202l-6 23"/><path d="M423 226l7 20"/><path d="M450 226l3 20"/><path d="M477 226l6 22"/><path d="M504 226l0 24"/><path d="M409 249l4 20"/><path d="M436 249l9 18"/><path d="M463 249l14 18"/><path d="M450 272l16 14"/><path d="M477 272l16 19"/><path d="M409 296l18 13"/><path d="M436 296l21 12"/><path d="M463 296l18 16"/><path d="M395 319l23 6"/><path d="M450 319l20 11"/><path d="M27 342l19 -8"/><path d="M218 342l21 -1"/><path d="M245 342l25 4"/><path d="M354 342l20 6"/><path d="M382 342l21 10"/><path d="M13 366l18 -10"/><path d="M40 366l21 -8"/><path d="M68 366l18 -9"/><path d="M95 366l19 -8"/><path d="M204 366l20 3"/><path d="M231 366l25 2"/><path d="M259 366l23 1"/><path d="M286 366l21 2"/><path d="M313 366l21 1"/><path d="M341 366l21 4"/><path d="M368 366l23 0"/><path d="M27 389l22 -6"/><path d="M54 389l22 -8"/><path d="M81 389l21 -6"/><path d="M218 389l22 -1"/><path d="M245 389l23 2"/><path d="M300 389l22 -2"/><path d="M327 389l20 7"/><path d="M354 389l21 -1"/><path d="M382 389l24 1"/><path d="M-14 412l20 -7"/><path d="M68 412l20 -9"/><path d="M204 412l20 -5"/><path d="M231 412l22 -4"/><path d="M259 412l21 -2"/><path d="M286 412l20 -3"/><path d="M313 412l20 4"/><path d="M368 412l24 -1"/><path d="M395 412l23 4"/><path d="M504 412l25 -1"/><path d="M532 412l25 4"/><path d="M-1 435l18 -10"/><path d="M27 435l19 -8"/><path d="M54 435l18 -14"/><path d="M81 435l19 -7"/><path d="M136 435l20 -9"/><path d="M245 435l20 -10"/><path d="M300 435l23 -4"/><path d="M354 435l21 1"/><path d="M436 435l24 -3"/><path d="M13 459l21 -6"/><path d="M40 459l20 -8"/><path d="M68 459l19 -11"/><path d="M95 459l20 -1"/><path d="M177 459l19 -7"/><path d="M204 459l20 -10"/><path d="M231 459l21 -5"/><path d="M259 459l20 -9"/><path d="M286 459l21 -8"/><path d="M313 459l22 -4"/><path d="M341 459l22 -4"/><path d="M368 459l20 -4"/><path d="M423 459l21 -8"/><path d="M450 459l24 -2"/><path d="M-1 482l17 -12"/><path d="M27 482l20 -7"/><path d="M54 482l21 -9"/><path d="M81 482l20 -7"/><path d="M108 482l23 -7"/><path d="M163 482l23 -7"/><path d="M190 482l19 -7"/><path d="M218 482l22 -8"/><path d="M245 482l19 -12"/><path d="M272 482l22 -7"/><path d="M300 482l23 -5"/><path d="M327 482l20 -1"/><path d="M382 482l20 -10"/><path d="M409 482l23 -9"/><path d="M-14 505l19 -9"/><path d="M13 505l21 -8"/><path d="M68 505l19 -10"/><path d="M95 505l21 -7"/><path d="M150 505l23 -5"/><path d="M177 505l21 -9"/><path d="M204 505l19 -8"/><path d="M231 505l22 -10"/><path d="M259 505l18 -9"/><path d="M286 505l22 -8"/><path d="M313 505l21 -11"/><path d="M341 505l18 -9"/><path d="M-1 529l20 -6"/><path d="M27 529l20 -11"/><path d="M54 529l20 -10"/><path d="M81 529l22 -7"/><path d="M136 529l20 -11"/><path d="M163 529l20 -9"/><path d="M190 529l19 -10"/><path d="M218 529l24 -6"/><path d="M272 529l21 -6"/><path d="M300 529l23 -8"/><path d="M327 529l22 -10"/><path d="M354 529l20 -6"/><path d="M382 529l23 -10"/><path d="M-14 552l20 -7"/><path d="M13 552l20 -6"/><path d="M40 552l21 -5"/><path d="M68 552l19 -7"/><path d="M95 552l20 -5"/><path d="M122 552l20 -5"/><path d="M150 552l20 -6"/><path d="M177 552l19 -9"/><path d="M231 552l21 -8"/><path d="M259 552l22 -8"/><path d="M286 552l21 -6"/><path d="M313 552l21 -8"/><path d="M368 552l21 -11"/><path d="M395 552l23 -10"/><path d="M450 552l23 -9"/></g><g marker-end="url(#a2)"><path d="M491 16l-18 18"/><path d="M518 16l-19 19"/><path d="M545 16l-19 18"/><path d="M573 16l-21 14"/><path d="M709 16l-26 -8"/><path d="M764 16l-21 -15"/><path d="M818 16l-13 -21"/><path d="M846 16l-14 -22"/><path d="M927 16l-7 -29"/><path d="M955 16l-11 -26"/><path d="M982 16l1 -30"/><path d="M1037 16l-9 -28"/><path d="M477 39l-19 19"/><path d="M504 39l-19 18"/><path d="M559 39l-25 12"/><path d="M586 39l-22 16"/><path d="M695 39l-28 -8"/><path d="M723 39l-27 -7"/><path d="M750 39l-25 -13"/><path d="M777 39l-23 -17"/><path d="M805 39l-16 -23"/><path d="M832 39l-15 -24"/><path d="M859 39l-15 -24"/><path d="M914 39l-18 -23"/><path d="M491 63l-19 23"/><path d="M518 63l-20 22"/><path d="M573 63l-19 17"/><path d="M600 63l-25 10"/><path d="M654 63l-26 -6"/><path d="M682 63l-26 -6"/><path d="M736 63l-25 -11"/><path d="M764 63l-21 -18"/><path d="M791 63l-18 -23"/><path d="M818 63l-13 -26"/><path d="M846 63l-14 -26"/><path d="M873 63l-13 -26"/><path d="M982 63l-6 -28"/><path d="M1009 63l-6 -27"/><path d="M1037 63l-3 -30"/><path d="M504 86l-20 21"/><path d="M559 86l-24 14"/><path d="M586 86l-24 11"/><path d="M614 86l-25 4"/><path d="M641 86l-28 1"/><path d="M668 86l-29 -6"/><path d="M695 86l-28 -7"/><path d="M723 86l-30 -5"/><path d="M750 86l-28 -10"/><path d="M805 86l-22 -20"/><path d="M832 86l-17 -24"/><path d="M887 86l-11 -27"/><path d="M914 86l-16 -25"/><path d="M941 86l-15 -25"/><path d="M1023 86l-4 -28"/><path d="M491 109l-14 21"/><path d="M518 109l-17 20"/><path d="M545 109l-19 20"/><path d="M573 109l-23 13"/><path d="M600 109l-28 6"/><path d="M627 109l-28 2"/><path d="M791 109l-19 -22"/><path d="M818 109l-18 -23"/><path d="M873 109l-16 -24"/><path d="M955 109l-16 -23"/><path d="M982 109l-12 -26"/><path d="M1009 109l-8 -27"/><path d="M1037 109l-7 -29"/><path d="M504 132l-16 23"/><path d="M559 132l-21 16"/><path d="M586 132l-27 13"/><path d="M614 132l-26 3"/><path d="M805 132l-18 -21"/><path d="M832 132l-14 -25"/><path d="M859 132l-17 -24"/><path d="M968 132l-10 -26"/><path d="M545 156l-17 21"/><path d="M600 156l-24 9"/><path d="M627 156l-27 10"/><path d="M818 156l-19 -22"/><path d="M846 156l-15 -24"/><path d="M873 156l-16 -23"/><path d="M982 156l-12 -27"/><path d="M1009 156l-5 -28"/><path d="M559 179l-20 20"/><path d="M586 179l-24 18"/><path d="M777 179l-19 -21"/><path d="M887 179l-9 -28"/><path d="M914 179l-8 -26"/><path d="M941 179l-12 -27"/><path d="M968 179l-6 -28"/><path d="M996 179l-4 -28"/><path d="M545 202l-11 26"/><path d="M573 202l-15 25"/><path d="M846 202l-12 -25"/><path d="M927 202l-13 -25"/><path d="M955 202l-10 -28"/><path d="M982 202l-4 -27"/><path d="M532 226l0 28"/><path d="M859 226l-12 -25"/><path d="M887 226l-6 -26"/><path d="M968 226l-9 -26"/><path d="M996 226l-6 -29"/><path d="M1023 226l-4 -29"/><path d="M491 249l15 22"/><path d="M518 249l7 25"/><path d="M545 249l0 30"/><path d="M927 249l-6 -29"/><path d="M955 249l-3 -30"/><path d="M1037 249l-8 -29"/><path d="M504 272l13 23"/><path d="M941 272l-7 -28"/><path d="M968 272l-8 -28"/><path d="M491 296l18 19"/><path d="M518 296l21 21"/><path d="M600 296l9 28"/><path d="M927 296l-3 -30"/><path d="M955 296l-4 -27"/><path d="M1009 296l-6 -29"/><path d="M423 319l25 10"/><path d="M477 319l22 13"/><path d="M504 319l18 23"/><path d="M532 319l22 18"/><path d="M614 319l26 9"/><path d="M914 319l-10 -27"/><path d="M941 319l-6 -29"/><path d="M968 319l-6 -29"/><path d="M996 319l-2 -29"/><path d="M1023 319l-10 -25"/><path d="M409 342l25 6"/><path d="M436 342l24 9"/><path d="M463 342l25 9"/><path d="M491 342l25 9"/><path d="M927 342l-1 -29"/><path d="M982 342l-5 -29"/><path d="M1009 342l-7 -29"/><path d="M1037 342l-4 -29"/><path d="M395 366l26 6"/><path d="M450 366l25 11"/><path d="M477 366l26 9"/><path d="M532 366l25 16"/><path d="M859 366l-3 -28"/><path d="M887 366l-3 -29"/><path d="M914 366l2 -29"/><path d="M941 366l-5 -28"/><path d="M968 366l-7 -27"/><path d="M996 366l-2 -29"/><path d="M409 389l26 5"/><path d="M436 389l27 8"/><path d="M463 389l27 10"/><path d="M491 389l29 3"/><path d="M518 389l28 4"/><path d="M545 389l29 6"/><path d="M955 389l-3 -30"/><path d="M982 389l-6 -27"/><path d="M1037 389l-4 -29"/><path d="M423 412l25 1"/><path d="M477 412l27 -1"/><path d="M805 412l4 -28"/><path d="M941 412l-3 -28"/><path d="M996 412l-5 -27"/><path d="M382 435l26 -4"/><path d="M409 435l28 4"/><path d="M463 435l26 -9"/><path d="M491 435l27 -2"/><path d="M518 435l28 -1"/><path d="M545 435l27 -4"/><path d="M573 435l25 -12"/><path d="M764 435l5 -25"/><path d="M873 435l9 -27"/><path d="M900 435l2 -27"/><path d="M1037 435l0 -27"/><path d="M395 459l26 -1"/><path d="M477 459l26 -5"/><path d="M504 459l25 -4"/><path d="M532 459l26 -7"/><path d="M586 459l28 -11"/><path d="M614 459l21 -18"/><path d="M723 459l11 -26"/><path d="M777 459l7 -28"/><path d="M805 459l6 -28"/><path d="M887 459l0 -29"/><path d="M914 459l-3 -27"/><path d="M941 459l1 -28"/><path d="M968 459l2 -30"/><path d="M354 482l25 -5"/><path d="M436 482l29 -6"/><path d="M463 482l26 -10"/><path d="M491 482l25 -8"/><path d="M518 482l26 -8"/><path d="M545 482l25 -15"/><path d="M600 482l22 -18"/><path d="M682 482l19 -24"/><path d="M736 482l12 -23"/><path d="M818 482l0 -30"/><path d="M927 482l2 -29"/><path d="M1009 482l-5 -30"/><path d="M368 505l25 -6"/><path d="M395 505l25 -9"/><path d="M423 505l26 -11"/><path d="M450 505l26 -11"/><path d="M477 505l26 -8"/><path d="M504 505l26 -9"/><path d="M532 505l25 -12"/><path d="M559 505l23 -16"/><path d="M614 505l26 -15"/><path d="M750 505l17 -25"/><path d="M805 505l4 -29"/><path d="M832 505l6 -28"/><path d="M941 505l-5 -27"/><path d="M968 505l1 -29"/><path d="M1023 505l-5 -27"/><path d="M245 529l25 -9"/><path d="M409 529l25 -13"/><path d="M436 529l25 -14"/><path d="M463 529l24 -15"/><path d="M491 529l27 -9"/><path d="M518 529l24 -13"/><path d="M545 529l21 -14"/><path d="M573 529l22 -17"/><path d="M600 529l24 -16"/><path d="M627 529l23 -15"/><path d="M709 529l18 -24"/><path d="M736 529l14 -25"/><path d="M764 529l9 -27"/><path d="M791 529l7 -26"/><path d="M818 529l2 -30"/><path d="M900 529l-4 -30"/><path d="M955 529l-2 -29"/><path d="M982 529l0 -28"/><path d="M204 552l23 -11"/><path d="M341 552l24 -9"/><path d="M423 552l24 -10"/><path d="M477 552l24 -17"/><path d="M504 552l26 -7"/><path d="M559 552l22 -19"/><path d="M586 552l21 -20"/><path d="M614 552l19 -18"/><path d="M668 552l21 -17"/><path d="M695 552l18 -20"/><path d="M723 552l13 -26"/><path d="M750 552l15 -23"/><path d="M777 552l7 -25"/><path d="M805 552l4 -28"/><path d="M832 552l3 -27"/><path d="M914 552l4 -28"/><path d="M941 552l-3 -29"/><path d="M968 552l-2 -26"/><path d="M996 552l-2 -27"/><path d="M1023 552l-4 -28"/></g><g marker-end="url(#a3)"><path d="M873 16l-17 -26"/><path d="M900 16l-15 -27"/><path d="M1009 16l-11 -33"/><path d="M887 39l-15 -28"/><path d="M941 39l-15 -29"/><path d="M968 39l-14 -27"/><path d="M996 39l-4 -33"/><path d="M1023 39l-7 -30"/><path d="M709 63l-32 -5"/><path d="M900 63l-12 -28"/><path d="M927 63l-12 -29"/><path d="M955 63l-7 -30"/><path d="M532 86l-19 24"/><path d="M777 86l-22 -21"/><path d="M859 86l-13 -30"/><path d="M968 86l-14 -31"/><path d="M996 86l-8 -30"/><path d="M654 109l-33 2"/><path d="M682 109l-31 -7"/><path d="M709 109l-33 -12"/><path d="M736 109l-31 -5"/><path d="M764 109l-31 -10"/><path d="M846 109l-12 -28"/><path d="M900 109l-9 -29"/><path d="M927 109l-13 -28"/><path d="M641 132l-33 4"/><path d="M695 132l-30 -11"/><path d="M723 132l-32 -8"/><path d="M750 132l-30 -14"/><path d="M777 132l-28 -20"/><path d="M887 132l-19 -26"/><path d="M914 132l-14 -30"/><path d="M941 132l-16 -28"/><path d="M996 132l-13 -28"/><path d="M1023 132l-9 -29"/><path d="M573 156l-26 18"/><path d="M654 156l-34 -2"/><path d="M682 156l-33 -9"/><path d="M709 156l-31 -16"/><path d="M736 156l-30 -16"/><path d="M764 156l-30 -18"/><path d="M791 156l-21 -23"/><path d="M900 156l-15 -28"/><path d="M927 156l-11 -28"/><path d="M955 156l-7 -31"/><path d="M1037 156l-3 -31"/><path d="M614 179l-32 13"/><path d="M641 179l-32 5"/><path d="M723 179l-32 -10"/><path d="M805 179l-19 -25"/><path d="M832 179l-17 -25"/><path d="M859 179l-15 -27"/><path d="M1023 179l-6 -31"/><path d="M600 202l-28 20"/><path d="M682 202l-33 -13"/><path d="M764 202l-22 -23"/><path d="M791 202l-22 -24"/><path d="M818 202l-17 -26"/><path d="M873 202l-11 -29"/><path d="M900 202l-10 -31"/><path d="M1009 202l-10 -29"/><path d="M1037 202l-11 -28"/><path d="M559 226l-11 32"/><path d="M777 226l-19 -27"/><path d="M805 226l-16 -30"/><path d="M832 226l-15 -30"/><path d="M914 226l-9 -32"/><path d="M941 226l-11 -32"/><path d="M573 249l-15 30"/><path d="M791 249l-19 -29"/><path d="M818 249l-12 -32"/><path d="M846 249l-3 -31"/><path d="M873 249l-11 -29"/><path d="M900 249l-4 -32"/><path d="M982 249l0 -32"/><path d="M1009 249l-9 -30"/><path d="M532 272l8 31"/><path d="M559 272l9 32"/><path d="M614 272l-25 21"/><path d="M805 272l-4 -35"/><path d="M832 272l-7 -33"/><path d="M887 272l-6 -30"/><path d="M914 272l-8 -29"/><path d="M996 272l-9 -31"/><path d="M1023 272l-5 -31"/><path d="M545 296l12 32"/><path d="M764 296l-9 -31"/><path d="M791 296l-4 -31"/><path d="M818 296l-9 -31"/><path d="M846 296l-2 -32"/><path d="M873 296l-6 -32"/><path d="M900 296l-7 -32"/><path d="M982 296l-7 -31"/><path d="M1037 296l-10 -30"/><path d="M641 319l19 -27"/><path d="M805 319l-1 -33"/><path d="M832 319l-7 -34"/><path d="M859 319l-3 -31"/><path d="M518 342l29 13"/><path d="M545 342l26 19"/><path d="M818 342l-3 -32"/><path d="M873 342l-2 -31"/><path d="M900 342l0 -35"/><path d="M955 342l-1 -31"/><path d="M423 366l30 9"/><path d="M504 366l30 6"/><path d="M586 366l35 2"/><path d="M777 366l3 -34"/><path d="M805 366l-1 -34"/><path d="M832 366l5 -34"/><path d="M1023 366l-8 -30"/><path d="M573 389l34 3"/><path d="M627 389l32 -9"/><path d="M736 389l14 -32"/><path d="M791 389l4 -33"/><path d="M818 389l3 -30"/><path d="M846 389l3 -34"/><path d="M873 389l4 -33"/><path d="M900 389l-4 -31"/><path d="M927 389l-1 -30"/><path d="M1009 389l-2 -32"/><path d="M450 412l31 6"/><path d="M559 412l30 -1"/><path d="M641 412l31 -15"/><path d="M723 412l10 -31"/><path d="M750 412l13 -29"/><path d="M777 412l9 -33"/><path d="M832 412l8 -31"/><path d="M859 412l4 -34"/><path d="M914 412l-2 -32"/><path d="M968 412l4 -31"/><path d="M1023 412l1 -30"/><path d="M600 435l31 -8"/><path d="M627 435l27 -23"/><path d="M654 435l25 -23"/><path d="M682 435l24 -24"/><path d="M709 435l23 -26"/><path d="M736 435l19 -27"/><path d="M791 435l1 -31"/><path d="M818 435l5 -30"/><path d="M846 435l8 -32"/><path d="M927 435l1 -31"/><path d="M955 435l1 -30"/><path d="M982 435l-6 -31"/><path d="M1009 435l-5 -32"/><path d="M559 459l31 -11"/><path d="M641 459l27 -20"/><path d="M668 459l24 -24"/><path d="M695 459l23 -21"/><path d="M750 459l15 -28"/><path d="M832 459l5 -32"/><path d="M859 459l10 -32"/><path d="M996 459l-5 -34"/><path d="M1023 459l2 -32"/><path d="M573 482l26 -15"/><path d="M627 482l23 -22"/><path d="M654 482l23 -23"/><path d="M709 482l22 -26"/><path d="M764 482l9 -31"/><path d="M791 482l4 -31"/><path d="M846 482l3 -31"/><path d="M873 482l4 -30"/><path d="M900 482l-2 -33"/><path d="M955 482l4 -30"/><path d="M982 482l3 -34"/><path d="M1037 482l-2 -32"/><path d="M586 505l25 -18"/><path d="M641 505l24 -22"/><path d="M668 505l24 -20"/><path d="M695 505l23 -23"/><path d="M723 505l16 -27"/><path d="M777 505l8 -30"/><path d="M859 505l-1 -31"/><path d="M887 505l-1 -33"/><path d="M914 505l-5 -30"/><path d="M996 505l-2 -34"/><path d="M654 529l25 -18"/><path d="M682 529l20 -25"/><path d="M846 529l-1 -30"/><path d="M873 529l2 -30"/><path d="M927 529l1 -32"/><path d="M1009 529l-4 -30"/><path d="M1037 529l0 -32"/><path d="M532 552l29 -13"/><path d="M641 552l18 -25"/><path d="M859 552l3 -30"/><path d="M887 552l-2 -33"/></g><g marker-end="url(#a4)"><path d="M668 132l-36 -5"/><path d="M668 179l-36 -6"/><path d="M695 179l-34 -12"/><path d="M750 179l-33 -18"/><path d="M627 202l-37 12"/><path d="M654 202l-40 4"/><path d="M709 202l-33 -20"/><path d="M736 202l-30 -19"/><path d="M586 226l-20 31"/><path d="M614 226l-38 18"/><path d="M641 226l-45 5"/><path d="M668 226l-36 -12"/><path d="M695 226l-38 -19"/><path d="M723 226l-32 -20"/><path d="M750 226l-28 -23"/><path d="M600 249l-27 34"/><path d="M627 249l-44 22"/><path d="M654 249l-48 -11"/><path d="M682 249l-42 -24"/><path d="M709 249l-30 -36"/><path d="M736 249l-28 -27"/><path d="M764 249l-21 -31"/><path d="M586 272l-11 36"/><path d="M641 272l-37 -3"/><path d="M668 272l-37 -32"/><path d="M695 272l-29 -35"/><path d="M723 272l-24 -42"/><path d="M750 272l-17 -35"/><path d="M777 272l-15 -39"/><path d="M859 272l-3 -36"/><path d="M573 296l10 42"/><path d="M654 296l-18 -32"/><path d="M682 296l-19 -45"/><path d="M709 296l-29 -38"/><path d="M736 296l-21 -37"/><path d="M559 319l22 29"/><path d="M586 319l29 31"/><path d="M668 319l3 -49"/><path d="M695 319l-9 -48"/><path d="M723 319l-6 -43"/><path d="M750 319l-8 -42"/><path d="M777 319l-5 -39"/><path d="M887 319l-5 -35"/><path d="M573 342l31 18"/><path d="M600 342l38 17"/><path d="M627 342l49 -3"/><path d="M654 342l29 -39"/><path d="M682 342l6 -47"/><path d="M709 342l16 -44"/><path d="M736 342l-4 -41"/><path d="M764 342l0 -38"/><path d="M791 342l0 -35"/><path d="M846 342l4 -36"/><path d="M559 366l35 5"/><path d="M614 366l36 -4"/><path d="M641 366l42 -22"/><path d="M668 366l26 -39"/><path d="M695 366l18 -36"/><path d="M723 366l15 -34"/><path d="M750 366l8 -41"/><path d="M600 389l36 -1"/><path d="M654 389l26 -27"/><path d="M682 389l25 -32"/><path d="M709 389l16 -34"/><path d="M764 389l11 -34"/><path d="M586 412l36 -5"/><path d="M614 412l31 -19"/><path d="M668 412l26 -27"/><path d="M695 412l21 -32"/><path d="M887 412l-1 -35"/></g></g>
</g>
<rect x="0" y="0" width="82" height="70.5" fill="#c3c3c3"/>
<path d="M7.5 46.3H74" stroke="#5a5a5a" stroke-width="2.6" fill="none"/>
<path d="M60.5 39.8L76.5 46.3L60.5 52.8L66 46.3Z" stroke="#5a5a5a" stroke-width="2" fill="#c3c3c3" stroke-linejoin="miter"/>
<text x="9.5" y="24.6" font-size="24.6" fill="#333" stroke="#333" stroke-width="0.8">30 m/s</text>
<rect x="649.5" y="0" width="381.4" height="51.5" fill="#fff"/>
<text x="660.5" y="37.8" font-size="32.9" fill="#111">2012-08-15_12:00:00 UTC</text>
</g>
<path d="M0.8 0V549.9H1033.5V0" stroke="#3a1414" stroke-width="1.7" fill="none"/>
<path d="M0 1.5H1034.4" stroke="#a8484f" stroke-width="3" fill="none"/>
<path d="M1.5 0V72" stroke="#a8484f" stroke-width="3" fill="none"/>
<text x="57.9" y="621.8" font-size="38.8" text-anchor="middle">105°E</text>
<text x="244.5" y="621.8" font-size="38.8" text-anchor="middle">110°E</text>
<text x="431.1" y="621.8" font-size="38.8" text-anchor="middle">115°E</text>
<text x="617.8" y="621.8" font-size="38.8" text-anchor="middle">120°E</text>
<text x="804.4" y="621.8" font-size="38.8" text-anchor="middle">125°E</text>
<text x="991" y="621.8" font-size="38.8" text-anchor="middle">130°E</text>
<text x="-43.6" y="562.7" font-size="38.6" text-anchor="end">12°N</text>
<text x="-43.6" y="486.2" font-size="38.6" text-anchor="end">14°N</text>
<text x="-43.6" y="409" font-size="38.6" text-anchor="end">16°N</text>
<text x="-43.6" y="331.1" font-size="38.6" text-anchor="end">18°N</text>
<text x="-43.6" y="252.2" font-size="38.6" text-anchor="end">20°N</text>
<text x="-43.6" y="172.4" font-size="38.6" text-anchor="end">22°N</text>
<text x="-43.6" y="91.4" font-size="38.6" text-anchor="end">24°N</text>
<path d="M57.3 550.3v18.5M243.9 550.3v18.5M430.5 550.3v18.5M617.2 550.3v18.5M803.8 550.3v18.5M990.4 550.3v18.5M1 549.4h-18.6M1 472.9h-18.6M1 395.7h-18.6M1 317.8h-18.6M1 238.9h-18.6M1 159.1h-18.6M1 78.1h-18.6" stroke="#7d7d7d" stroke-width="2.5" fill="none"/>
</g>
<g transform="translate(165.1,696)">
<clipPath id="cp2"><rect x="0" y="0" width="1034.2" height="550.9"/></clipPath>
<g clip-path="url(#cp2)"><g filter="url(#bl)">
<rect x="-2" y="-2" width="1038.2" height="554.9" fill="#ff3e32"/><path d="M-25 327l2-1 3-1 3-1 3-1 4 0 3 0 3 0 3 1 4 0 3 0 4 0 3 0 4 0 3 1 4 2 3 2 3 2 3 2 3 1 4 0 4 0 3 0 4 0 3 2 3 2 3 2 3 2 3 1 3 1 3 1 4 0 3 1 3 2 3 2 2 2 3 2 3 2 3 1 4 0 3 0 3 1 3 1 3 2 2 3 3 3 3 2 2 2 4 1 3 0 4 1 3 0 4 1 3 1 3 2 3 1 3 1 4 1 3 1 3 1 3 2 3 2 2 3 2 3 2 3 2 2 2 3 3 2 2 3 2 2 2 3 1 3 2 3 1 3 2 3 2 3 2 3 1 3 1 4 -1 4 0 3 -1 4 0 3 0 4 1 3 2 3 2 3 2 3 2 3 1 3 1 3 1 3 0 4 1 3 1 3 0 3 -1 4 0 3 -1 4 0 3 0 4 1 3 2 3 1 4 1 3 1 3 0 4 -1 4 0 3 0 4 0 3 1 4 1 3 1 3 1 3 0 4 0 3 -1 3 0 3 -1 3 0 3 1 3 0 3 -1 3 -1 3 -2 2 -2 2 -3 2 -2 2 -1 3 -2 2 -1 3 -2 2 -2 2 -3 2 -2 2 -3 1 -3 2 -2 2 -3 2 -3 3 -2 1 -4 2 -3 0 -4 0 -4 0 -4 0 -3 0 -4 2 -3 2 -4 2 -3 1 -4 0 -4 0 -4-1 -4-1 -4 0 -4 0 -5 1 -4 1 -4 0 -4 0 -4-1 -4-2 -4-2 -5-1 -4 0 -4 0 -5 0 -4 0 -4-1 -4-2 -4-2 -4-3 -4-3 -3-2 -5-1 -4-1 -4 0 -5-1 -4-1 -4-2 -4-2 -4-2 -4-1 -4-2 -4-2 -5-1 -3-3 -4-3 -3-3 -2-4 -3-3 -3-3 -3-4 -3-2 -3-4 -3-3 -3-3 -2-4 -3-4 -2-3 -3-4 -3-3 -3-3 -2-4 -1-5 -1-4 0-5 0-5 -1-4 -1-4 -1-4 -3-4 -2-4 -3-3 -2-4 -2-4 -2-4 -1-4 -1-5 -1-4 -1-4 0-5 0-4 0-4 1-4 1-5 0-4 -1-4 0-4 -1-4 -1-4 0-4 1-4 1-4 2-4 1-3 1-4 1-4 0-4 0-3 0-4 1-3 1-4 2-3 1-3 2-3 1-3 0-4 1-3 1-3 2-3 2-3 3-2 2-1 3-2 2-2 2-2 1-3 2-2 2-2 3-2 2-1 3-1 3-1 2-2 3-1z" fill="#ff3232"/><path d="M-25 48l2-3 3-3 2-3 4-2 3-2 3-2 4-2 3-1 4-1 4-2 4 0 4-1 4 0 4 0 4 1 4 1 4 1 4 1 3 1 4 1 3 2 4 2 2 3 3 2 2 3 3 2 2 3 3 2 2 2 3 2 2 3 2 2 1 4 1 3 1 3 1 3 1 4 0 3 1 3 0 4 0 3 0 4 0 3 -1 4 -1 3 -1 3 -1 3 -1 3 -2 4 -1 2 -2 3 -3 3 -3 2 -2 2 -3 2 -2 3 -2 3 -2 3 -3 3 -3 2 -3 2 -4 1 -3 1 -4 1 -3 2 -4 2 -3 2 -4 1 -3 1 -4 1 -4 0 -3 0 -4 1 -4 0 -3 0 -4 0 -3-1 -4-1 -3-1 -3-2 -2-2 -3-2 -2-2 -3-3 -2-2 -2-3 -2-2 -2-3 -2-3 -1-4 -1-3 -1-4 0-4 -1-4 0-3 -1-4 0-4 1-4 0-4 1-3 1-4 0-4 0-4 1-4 1-4 1-3 3-3 2-3 2-3 2-3 2-3 2-3zM122 401l3-3 3 0 4 0 4 1 4 0 4-1 4-2 4 0 4 2 3 2 2 3 3 2 2 3 2 3 2 4 2 2 3 3 2 2 2 3 1 3 2 3 3 2 4 2 4 1 3 3 1 3 1 5 0 4 1 4 2 4 2 4 2 4 1 3 1 4 -1 4 -2 3 -3 2 -2 1 -3 1 -3 2 -3 1 -4 1 -3 1 -4 0 -3-2 -3-2 -4-1 -3-1 -4-2 -3-3 -1-4 0-4 0-4 -2-3 -4-2 -3-1 -3-2 -3-3 -1-3 -2-3 -1-3 -2-4 -2-3 -2-4 -3-3 -2-3 -3-4 -2-4 0-4 0-4 0-3 0-3 -1-3z" fill="#de3232"/><path d="M800 -26l-1 3 0 3 -1 2 -1 3 -1 3 -1 2 -2 3 -1 3 -1 3 0 3 0 4 1 3 2 3 1 3 1 3 0 4 1 3 0 3 0 4 1 3 0 4 1 3 1 3 1 4 1 3 0 4 0 3 1 4 0 4 1 3 2 4 1 3 2 3 1 4 1 3 0 4 1 3 0 4 1 3 0 4 0 3 0 4 0 3 -1 4 0 3 -1 3 0 4 1 3 1 3 1 3 2 3 1 4 1 3 0 3 0 3 -1 4 0 3 -1 3 0 3 0 3 0 4 0 3 1 3 0 3 0 3 0 4 1 3 1 3 1 3 1 3 1 3 1 3 0 4 0 3 0 3 0 3 0 4 0 3 1 3 0 3 0 4 0 3 -1 3 -1 4 -1 3 0 3 0 3 1 4 1 3 1 3 1 3 1 4 0 3 -1 3 0 4 -1 3 -1 3 -1 4 0 3 0 3 0 3 1 4 1 3 1 3 2 4 1 3 1 3 1 4 0 3 -1 3 -1 3 -1 4 -1 3 -1 3 0 4 0 3 0 3 0 3 0 4 0 3 0 3 -1 4 0 3 -1 3 0 3 -1 3 0 4 0 3 0 3 0 3 0 4 0 3 -1 3 -2 3 -2 3 -1 3 -2 3 -1 3 -1 3 0 3 1 3 0 4 0 3 0 3 -1 3 -1 3 -1 3 -1 4 -1 3 -1 3 0 3 -1 4 -1 3 -1 3 -2 3 -1 3 -1 3 -1 4 -1 3 -1 4 0 3 -1 4 0 4 -1 3 -2 3 -1 4 -1 3 -1 3 -1 3 -2 4 -2 3 -1 3 -2 3 -2 3 -2 3 0 3 -1 3 1 4 1 3 0 3 1 3 0 3 -1 3 0 2 -1 3 0 3 0 3 0 2 1 3 0 2 1 3 1 2 1 3 2 2 1 2 2 1 3 2 2 1 2 1 2 1 2 2 2 1 2 2 2 2 2 1 2 1 3 1 2 1 3 1 2 2 3 1 2 2 3 2 3 2 3 1 3 0 3 0 4 0 3-1 4 0 3 0 4 1 3 1 4 1 3 2 4 1 4 0 4 1 3-1 4 0 4-1 4-2 4-1 4-2 4-1 4-2 4 0 4-1 4 0 4 1 5 0 4 0 4 0 4 0 5-1 4-2 4-1 4-1 5-1 4-1 4-1 5-1 4-1 4-1 5-2 4-1 4-2 4-2 4-2 4-1 5-2 4-1 5-1 4 0 5-1 4-1 4-2 4-2 4-3 3-3 4-3 4-2 3-3 4-2 4-2 4-2 4-2 3-2 3-3 4-3 3-2 4-3 3-2 4-2 4-2 3-3 3-3 3-3 2-3 3-3 3-3 3-3 3-3 3-3 3-2 3-3 3-3 3-2 3-3 3-2 4-2 3-3 4-2 2-3 3-3 2-4 1-4 2-4 1-3 2-4 3-3 2-3 3-3 3-3 2-3 3-3 2-3 2-4 2-3 2-3 2-4 2-3 1-4 2-4 1-4 0-3 1-4 1-4 1-4 2-4 1-3 2-4 1-3 2-4 1-3 1-4 1-4 1-3 2-4 2-3 2-4 2-3 1-4 1-4 1-4 0-4 -1-4 0-4 0-4 1-3 1-4 1-4 2-3 2-4 1-4 1-4 0-4 0-4 0-3 -1-4 -1-4 -1-4 -2-4 0-4 -1-4 0-4 0-3 1-4 1-4 1-4 0-4 0-4 0-4 0-3 -1-4 -1-4 0-4 -1-4 0-3 0-4 -1-4 0-4 -1-4 -1-4 -1-3 -1-4 -1-4 -2-3 0-4 -1-4 0-4 0-4 0-4 0-4 -1-4 -1-3 -2-4 -2-3 -3-3 -2-4 -2-3 -1-4 -2-3 -1-4 -2-4 -1-3 -2-3 -2-4 -2-3 -2-3 -2-4 -1-3 -2-4 -2-3 -2-4 -2-3 -3-3 -2-3 -3-2 -3-3 -2-4 -2-3 -2-3 -2-3 -3-3 -2-4 -2-3 -2-3 -1-4 -2-4 -2-3 -2-4 -3-3 -3-2 -3-3 -4-2 -3-2 -4-2 -3-3 -3-2 -2-4 -3-3 -2-3 -3-3 -3-3 -3-2 -3-3 -4-2 -3-3 -3-2 -4-2 -3-2 -4-2 -4-1 -4-2 -4-1 -4-2 -4-2 -3-2 -4-2 -3-2 -4-2 -4-2 -4-2 -4-1 -4-2 -3-2 -4-2 -4-3 -3-2 -4-3 -4-2 -4-1 -4-1 -5 0 -4 0 -5-1 -4-1 -4-1 -4-2 -3-2 -4-2 -4-2 -4-2 -4-1 -4 0 -4-1 -5 1 -4 0 -4 1 -4 0 -4 1 -4 0 -4 0 -4 0 -4-1 -4-1 -3-2 -4-1 -4 0 -3-1 -4 0 -4 1 -3 0 -4 1 -3 0 -4 0 -3 0 -4 1 -3 0 -3 0 -3 1 -4 1 -3 1 -2 1 -3 1 -3 1 -3 1 -3 0 -3 1 -3 0 -3 0 -3 1 -3 1 -2 2 -2 2 -2 3 -1 2 -2 2 -1 2 -2 2 -2 2 -2 2 -2 2 -1 2 -1 2 -1 3 -1 2 -1 2z" fill="#ff3232"/><path d="M876 -23l-2 2 -1 2 -2 1 -2 3 -2 2 0 3 -1 2 -1 3 -1 3 -2 3 -1 3 -1 3 -1 4 1 3 1 3 1 4 2 3 0 3 0 4 0 3 0 4 0 3 0 4 2 3 1 4 2 3 1 4 1 3 0 4 0 4 0 3 1 4 1 3 2 4 2 3 1 3 1 4 1 3 0 4 0 3 0 4 0 3 0 4 0 3 1 3 1 4 0 3 1 3 1 3 0 3 0 4 0 3 1 3 0 3 1 3 1 3 1 3 1 4 0 3 -1 3 -1 3 -2 3 -1 4 -1 3 0 3 1 3 0 3 1 4 0 3 0 3 0 3 0 4 1 3 0 3 1 3 0 4 0 3 0 3 -1 4 -1 3 0 3 -1 3 0 4 0 3 0 3 0 3 -1 4 -1 3 -2 3 -1 3 0 3 -1 4 0 3 1 3 0 3 -1 4 0 3 -1 3 0 3 -1 4 -1 3 0 3 0 3 0 4 0 3 1 3 0 3 0 4 0 3 -1 3 -1 3 -1 3 -1 4 -1 3 0 3 0 3 0 4 1 3 0 3 -1 3 0 4 -1 3 -1 3 0 3 1 4 1 3 1 4 1 3 -1 3 -1 3 -2 4 -1 3 -1 3 -1 3 -1 3 -1 3 -1 3 -1 3 -2 3 -2 3 -1 3 0 4 0 3 1 3 0 3 0 4 0 3 -1 3 -2 3 -1 3 -1 3 0 3 0 3 0 4 0 3 -1 3 -1 3 -1 3 -1 3 -2 3 0 4 -1 3 0 4 0 3 -1 4 -1 3 -2 3 -1 3 -3 3 -2 3 -2 3 -1 3 -2 4 -1 3 -1 3 -1 3 -1 4 -1 3 -1 3 -1 3 -2 3 0 3 0 3 0 3 0 3 0 2 0 3 -1 2 -1 3 -1 3 -1 2 0 3 1 2 1 3 1 2 2 1 2 2 2 2 2 1 1 2 3 1 2 1 2 0 3 1 2 1 2 1 3 1 2 2 2 1 3 1 3 1 3 0 3 0 3 1 3 1 3 1 3 2 4 1 3 1 4 0 3 0 4 0 4-1 4 0 3 0 4 0 4 0 4 0 5 0 4 0 4-1 4 0 4-2 4-1 4-1 5-1 4-1 4-1 5 0 4 0 5 0 5-1 4-1 4-2 5-2 4-2 4-2 5-1 4-1 5-1 4-1 4-2 4-3 4-3 4-3 4-2 4-2 4-2 5-1 5 0 4-2 5-1 4-2 4-2 4-2 4-1 5-1 4-1 4-2 4-2 4-3 3-3 3-4 3-3 3-3 4-2 4-2 3-2 4-3 3-3 3-3 2-3 3-4 3-3 3-3 3-2 3-3 3-3 3-3 2-3 3-4 2-3 2-4 2-3 3-3 3-3 3-3 3-3 3-2 2-3 3-4 2-3 2-3 2-4 2-3 2-4 2-3 3-3 2-4 2-3 1-4 1-4 2-4 1-3 1-4 2-4 3-3 2-3 3-3 3-3 2-4 1-3 1-4 1-4 0-4 1-4 1-4 1-4 1-4 0-4 0-4 0-4 1-4 0-4 1-3 2-4 1-4 1-4 0-3 0-4 1-4 0-4 1-4 1-4 1-4 1-3 1-4 1-4 0-4 0-4 -1-4 0-4 0-4 0-4 0-4 1-4 0-4 0-3 0-4 -1-4 0-4 -1-4 -1-4 -1-4 -1-3 -1-4 0-4 0-4 1-4 0-4 0-4 -1-4 -2-4 -2-3 -1-4 -1-4 -1-3 -1-4 0-4 -1-4 -2-3 -2-4 -3-3 -2-3 -2-4 -1-3 -1-4 0-4 -1-4 0-4 -2-4 -1-3 -1-4 -1-4 -1-4 -1-4 0-4 -2-4 -2-3 -3-3 -3-3 -2-3 -3-3 -2-3 -2-4 -1-3 -2-4 -2-3 -3-3 -3-3 -3-2 -3-3 -2-3 -2-3 -2-3 -2-4 -3-3 -3-2 -3-3 -3-2 -4-2 -3-3 -2-2 -3-3 -2-3 -2-4 -3-3 -2-3 -3-3 -3-2 -3-3 -4-2 -3-2 -3-2 -3-3 -3-2 -3-3 -4-2 -3-2 -4-2 -4-2 -4-1 -3-2 -4-2 -3-2 -3-3 -3-4 -3-3 -3-2 -4-2 -4-2 -4-1 -4-1 -4-1 -4-1 -4-1 -4-1 -5-1 -4 0 -4-1 -4 0 -4-1 -4-1 -4-2 -4-1 -4-1 -3-1 -4-1 -4 0 -4 0 -4-1 -4-1 -4-1 -3-2 -4-1 -4-1 -3 0 -4 0 -4 1 -3 0 -4 0 -3 0 -4 0 -3 0 -4 0 -3 0 -3 1 -3 0 -3 1 -3 2 -3 1 -3 2 -2 1 -3 1 -2 1 -3 1 -3 0 -3 1 -3 1 -2 1 -2 2 -1 3 -1 2 -2 2 -2 2 -1 2 -2 2z" fill="#de3232"/><path d="M990 -26l-2 1 -3 2 -2 1 -1 2 -2 2 -1 2 -2 2 -1 2 -2 2 -1 3 -1 2 -1 3 -1 3 0 2 0 3 0 4 0 3 0 3 0 3 0 3 0 3 0 4 1 3 1 3 1 4 0 3 1 4 0 3 0 4 0 4 0 4 1 4 0 3 0 4 1 4 0 4 0 4 0 4 0 4 0 4 0 4 1 4 1 4 1 4 1 4 1 4 1 4 0 4 1 3 1 4 0 4 1 4 0 3 1 4 0 4 1 3 1 4 0 3 1 4 0 3 1 3 0 4 0 3 1 3 1 4 1 3 1 3 1 3 0 3 1 4 0 3 0 3 -1 3 0 3 0 3 0 3 -1 4 0 3 0 3 -1 3 0 3 0 3 0 3 0 3 0 3 0 4 0 3 -1 3 -1 3 0 3 0 3 0 4 0 3 0 3 1 3 0 3 1 4 0 3 0 3 0 3 0 4 1 3 0 3 1 3 0 4 1 3 0 3 1 4 0 3 0 3 1 3 0 4 0 3 0 3 0 4 0 3 0 3 -1 4 -1 3 0 3 -1 3 -1 4 -1 3 0 3 -1 3 0 4 0 3 0 3 -1 4 -1 3 -1 3 0 3 -1 3 0 4 -1 3 0 3 -1 3 -2 3 -1 3 -1 3 -1 3 0 4 0 3 -1 3 0 3 -1 4 0 3 -1 3 -1 3 -1 3 -1 3 -1 3 0 3 -1 3 -1 3 -1 3 -1 3 -2 3 -2 3 -1 2 -2 3 -1 3 -2 3 -1 3 -2 3 -2 3 -2 3 -2 3 -2 3 -1 4 -1 3 -1 4 -1 4 -1 3 -1 4 0 3 -1 4 0 3 -1 4 0 3 -1 3 0 3 0 3 0 3 1 3 1 3 1 2 1 3 1 2 2 2 1 2 2 1 3 1 2 1 3 1 2 0 3 0 3 1 2 0 3 1 3 1 3 0 3 1 3 0 4 1 3 0 4 0 4 0 4 0 4 0 3-1 4-1 4 0 5-1 4 0 4-1 4 0 5-1 4-1 4-1 4-1 4-2 4-2 4-2 4-2 4-2 4-2 4-1 4-2 4-2 3-2 4-3 3-2 4-3 3-3 3-2 3-3 4-2 3-3 3-3 3-2 3-3 3-3 3-2 3-3 4-2 3-3 3-2 4-3 3-2 3-3 3-3 3-3 2-3 2-3 3-3 3-4 2-3 3-3 2-3 3-3 2-4 2-3 2-4 2-3 3-3 2-4 3-3 2-4 1-3 2-4 1-4 1-4 2-4 1-4 2-4 1-4 2-3 1-4 1-4 1-4 1-5 1-4 1-3 2-4 1-4 2-4 1-4 2-4 1-4 1-4 2-4 1-3 2-4 1-4 2-4 1-4 1-4 1-5 1-4 0-4 0-4 0-4 1-5 0-4 0-4 1-4 0-4 0-5 1-4 0-4 0-4 0-5 0-4 0-4 -1-4 0-4 0-5 0-4 0-4 -1-4 -1-4 -1-4 -1-4 -2-4 -1-4 0-4 -1-5 0-4 0-4 0-4 -1-4 0-4 0-4 -1-4 0-4 -1-4 -1-4 0-4 -1-4 -1-4 -1-4 -1-4 -1-4 0-4 -1-4 0-4 -1-4 -2-4 -1-4 -2-3 -2-4 -2-3 -1-4 -2-4 -1-3 -2-4 -2-3 -1-4 -2-3 -3-3 -2-4 -2-3 -3-3 -2-3 -2-3 -2-3 -2-3 -2-3 -3-3 -2-3 -2-3 -2-3 -3-3 -1-3 -2-3 -2-4 -2-3 -2-3 -2-3 -3-3 -3-2 -2-2 -3-3 -3-2 -2-3 -3-2 -3-3 -2-2 -3-2 -3-2 -3-2 -3-3 -3-2 -3-2 -3-2 -3-3 -3-1 -3-1 -4-2 -3-1 -4-1 -3-1 -3-1 -4-2 -3-1 -4-1 -3-1 -4 0 -4-1 -3 0 -4-1 -3-1 -4-1 -3-1 -4-1 -3-1 -4-1 -3 0 -4-1 -3-1 -4-1 -3-1 -3 0 -4-1 -3 0 -3 0 -3 1 -3 1 -3 1 -3 1 -3 1 -2 2z" fill="#ac3232"/><path d="M62 165l2-1 3-2 3-1 2-1 3-2 4-1 3 0 4-1 3 0 4-1 4 0 4-1 4-1 4 0 4-1 4 0 4-1 4 0 4 0 3 0 4-1 4-1 4-1 3-1 4-1 4 0 3-1 4-1 3 0 4-1 3-1 3-2 4-2 3-2 2-2 3-2 3-2 3-2 3-2 2-2 3-2 3-3 2-2 3-2 3-3 2-2 3-2 3-2 3-2 3-2 3-2 3-2 4-2 3-2 3-2 3-2 3-1 4-1 3-2 3-1 4-1 3-1 3-1 4-2 3 0 4-1 4 0 3-1 4 0 4 0 3 0 4 0 3 0 4 0 4 0 3 0 4 1 4 0 3 1 4 0 3 0 4 1 3 0 4 0 4 0 3 0 4 0 3 0 4-1 4 0 3-1 4 0 3 0 4 0 3 0 4 0 3 0 4 0 4-1 3 0 4-1 3 0 3-1 4-1 3 0 4 0 3 0 4-1 3 0 4-1 3-1 4-1 3-2 3-1 4-1 3-1 4 0 3-1 4 0 3-1 4-1 3-2 3-1 4-1 3-1 4-1 4-1 3 0 4-1 3-1 4-1 3-1 4-1 3-2 4-1 3-2 4-1 3-1 3-2 4-2 3-2 3-2 2-2 3-2 3-2 3-2 3-3 3-2 2-2 2-3 3-3 1-3 2-3 2-3 3-3 2-3 2-2 3-3 2-3 2-2 2-3 2-3 3-3 2-3 3-2 3-2 4-3 3-2 4-1 4-2 4-1 5-1 4-1 4 0 4-1 4 1 4 0 4 1 4 2 3 1 3 2 2 2 2 2 2 3 1 2 1 3 0 3 0 3 0 4 0 3 0 4 -1 3 0 4 -1 4 -1 4 -1 4 -2 4 -1 4 -1 4 -1 4 0 4 -1 4 0 4 -1 4 0 4 0 4 0 4 1 4 0 3 1 4 2 4 1 3 2 3 2 4 2 3 2 3 3 2 2 3 3 3 3 2 2 2 3 3 3 2 2 3 3 2 3 3 2 2 3 2 4 1 3 2 3 2 3 2 3 2 3 2 3 2 3 2 3 2 4 1 3 2 3 2 4 1 3 2 3 1 3 2 3 3 3 2 2 3 3 2 2 3 3 2 2 3 2 3 2 3 2 3 1 3 2 4 0 4 1 3 1 4 1 3 2 3 1 4 1 3 1 4 0 4 1 3 0 4 1 4 1 3 1 4 1 3 0 4 1 3 0 4 0 3 0 4 0 4 0 3 1 4 0 3 1 4 0 3 0 4 0 3 -1 4 0 3 0 4 0 4 0 3 0 4 1 3 0 4 1 3 0 4 1 4 0 3 0 4 0 3 0 4 0 4 0 3 0 4 0 4 -1 3 -1 4 -1 3 -1 4 -1 3 -1 4 -1 3 -1 4 -1 3 -2 4 -1 3 -2 3 -2 3 -1 4 -2 3 -1 3 -2 4 -2 3 -1 3 -2 3 -3 3 -2 3 -3 2 -2 3 -3 2 -2 3 -3 2 -3 2 -3 2 -3 2 -3 2 -3 1 -3 1 -4 2 -3 1 -3 2 -3 2 -4 1 -3 2 -3 1 -3 2 -4 1 -3 2 -3 1 -3 2 -4 1 -3 1 -4 1 -3 1 -4 0 -3 0 -4 0 -3 0 -4 1 -4-1 -3 0 -4 0 -4-1 -3-1 -4-1 -3-1 -4-2 -3-1 -4 0 -3-1 -4 0 -3 1 -3 0 -3 0 -4 1 -3 0 -3 0 -3 1 -3 1 -4 2 -3 1 -3 2 -3 2 -4 2 -3 1 -4 1 -3 1 -4 1 -4 1 -3 1 -4 1 -3 1 -3 0 -4 1 -3 0 -4 0 -4 0 -3 0 -4 0 -3 1 -4 0 -3 0 -4 0 -4 0 -3-1 -4 0 -3-1 -4 0 -3 0 -4-1 -3 0 -4 0 -4 0 -3-1 -4-1 -3 0 -4-1 -3-1 -4 0 -3 0 -4 0 -4 0 -3 0 -4 0 -3 0 -4 0 -4-1 -3 0 -4-1 -3 0 -4-1 -4 0 -3-1 -4-1 -3-2 -3-1 -4-2 -3-2 -3-2 -3-1 -3-2 -3-2 -3-2 -3-2 -3-2 -3-3 -3-2 -3-2 -3-2 -3-2 -3-2 -3-2 -3-2 -2-2 -3-3 -3-2 -2-3 -3-2 -3-2 -3-2 -3-2 -2-3 -3-2 -3-2 -3-3 -2-2 -3-3 -3-2 -3-2 -2-2 -3-2 -3-3 -2-2 -3-2 -3-2 -2-3 -3-2 -2-2 -3-3 -2-3 -2-3 -2-3 -2-3 -1-3 -2-3 -2-4 -2-3 -2-3 -2-3 -2-3 -2-3 -2-3 -2-2 -2-3 -2-3 -3-2 -3-2 -3-1 -3-1 -4-1 -3-1 -4 0 -3-1 -4 0 -3-1 -4 0 -3 0 -4 0 -3 1 -3 1 -4 1 -3 1 -4 1 -3 0 -4 1 -4 0 -3 1 -4 0 -3 1 -4 1 -3 1 -4 1 -3 0 -4 0 -3 1 -4 0 -3 0 -4 0 -3 0 -4 0 -4 0 -3-1 -4-1 -3-2 -3-1 -3-2 -4-2 -3-1 -3-2 -2-2 -3-2 -2-2 -2-3 -2-3 -2-3 -1-2 -1-3 -2-3 -2-3 -1-3 -2-3 -2-4 -1-3 -2-4 -1-3 -1-4 -2-4 -1-4 -1-4 -1-4 -2-4 -1-4 -1-4 0-4 -1-4 0-5 -1-4 0-4 -1-4 0-4 0-4 0-4 0-4 0-4 0-3 1-4 0-3 0-3 1-3 1-3 1-3 1-3 2-2z" fill="#ff5a2d"/><path d="M673 92l0 3 -2 2 -2 2 1 3 0 3 0 2 -1 3 -2 2 -2 1 -2 3 -1 2 -3 0 -2 0 -3-2 1-3 1-3 -2-3 -2-2 0-3 1-2 1-3 0-3 -1-2 0-3 2-2 0-3 0-3 1-2 2-2 0-3 0-3 1-2 2-2 2-2 2-2 2-1 3 1 1 3 1 2 1 3 1 2 0 3 -1 3 -1 2 1 3 0 3 0 2z" fill="#ff3232"/><path d="M412 248l0-4 1-3 0-4 1-3 1-4 0-4 1-3 0-4 0-3 1-4 1-4 1-3 1-4 2-3 2-3 1-3 2-4 2-3 1-3 2-3 2-3 2-3 2-3 2-3 2-3 2-3 3-3 2-2 2-3 3-2 2-3 2-3 2-3 3-3 2-2 3-3 2-2 3-2 4-2 3-2 3-1 3-2 4-1 3-2 2-3 3-2 3-3 2-2 3-2 3-2 3-2 3-2 4-1 3-2 3-2 3-2 3-1 4-2 3-2 3-2 3-3 2-2 3-3 2-2 3-3 2-3 2-2 3-3 2-3 2-2 2-3 2-3 2-4 1-3 2-4 2-3 2-3 2-3 2-3 3-3 3-3 3-2 3-3 3-2 3-1 4-1 4-1 4 1 4 1 4 1 3 2 3 3 3 2 3 3 2 2 2 3 2 3 2 3 1 3 1 3 1 3 1 4 0 4 0 4 1 4 -1 4 0 5 -1 4 -1 4 -1 5 -2 4 -2 4 -1 4 -1 5 -1 4 0 4 0 5 0 4 -1 4 0 3 0 4 0 4 0 3 1 3 2 3 2 3 2 2 2 1 3 2 2 1 3 1 3 1 3 1 4 0 3 0 4 0 4 0 4-1 4 0 4 1 4 1 4 1 3 1 4 2 3 2 3 1 3 2 3 2 3 2 3 3 2 2 3 3 2 2 2 3 2 3 2 3 2 3 2 3 2 3 2 3 2 3 2 3 2 3 2 3 2 3 1 4 1 3 1 4 1 3 1 4 0 3 1 4 2 3 1 3 2 4 1 3 2 4 0 3 1 4 0 3 0 4 0 4 0 3 0 4 0 4 0 3 -1 4 0 3 0 4 -1 3 0 4 0 3 0 4 0 3 -1 4 0 3 -1 4 -1 3 -1 4 0 3 0 4 -1 4 0 3 -1 4 -1 4 -1 3 -2 3 -2 3 -1 3 -2 3 -2 3 -2 3 -2 3 -3 3 -2 3 -3 2 -3 3 -3 2 -3 2 -3 2 -3 2 -3 2 -4 3 -3 2 -3 2 -3 3 -2 2 -3 2 -4 2 -3 1 -3 1 -3 1 -4 1 -3 0 -4-1 -3-1 -3-2 -4-2 -3-2 -2-3 -3-3 -4-2 -3-1 -4-2 -3-1 -4-1 -4-1 -3-1 -4-1 -3-1 -4 0 -4 0 -3 0 -4 1 -3 1 -4 1 -3 1 -4 1 -4 0 -3 0 -4 1 -3 0 -4 1 -3 1 -4 1 -3 1 -4 0 -4 0 -3-1 -4-1 -4-1 -3-1 -3-1 -4-1 -3-2 -4-1 -3-2 -3-1 -3-2 -4-2 -3-2 -3-2 -3-2 -3-2 -3-2 -3-2 -3-2 -3-2 -3-1 -3-2 -3-2 -3-2 -3-2 -3-2 -3-3 -2-3 -2-2 -2-3 -2-3 -3-3 -2-2 -3-3 -3-2 -3-2 -2-3 -3-3 -2-3 -2-3 -1-3 -2-4 -1-3 -1-4 -2-3 -1-3 -1-4 -1-3 -1-3 -2-4 -1-3 -1-3 -1-4 -2-3 -1-3 -1-4 0-3 -1-3 -1-4 -1-3 -1-4 -1-3 -1-4z" fill="#ff8228"/><path d="M688 285l0 4 -1 4 0 3 -1 4 0 3 -1 4 -1 3 -1 4 -1 3 -2 3 -1 3 -2 3 -2 4 -2 3 -1 3 -2 3 -2 3 -2 3 -3 3 -3 2 -3 2 -3 2 -3 3 -2 2 -3 2 -3 2 -4 2 -3 1 -3 2 -4 1 -3 1 -3 2 -4 1 -3 2 -4 1 -3 0 -4 1 -3 0 -4 0 -4 1 -3 0 -4 0 -4 0 -3 0 -4-1 -3-1 -4-1 -3-1 -4-1 -3-1 -4-1 -3-1 -3-2 -3-2 -4-1 -3-2 -3-2 -3-2 -3-2 -2-3 -3-3 -2-2 -2-3 -2-3 -2-3 -3-3 -2-3 -2-3 -2-3 -2-3 -1-3 -2-3 -1-4 -1-3 -2-3 -1-4 -2-3 -1-4 0-3 -1-4 0-4 0-3 0-4 0-4 0-3 1-4 1-4 1-3 2-3 2-4 1-3 2-3 2-3 2-3 3-3 2-2 2-3 2-3 2-3 2-3 3-3 2-2 3-3 3-2 3-2 3-2 2-2 3-3 3-2 3-2 3-2 4-1 3-2 3-1 4-1 3-1 4-2 3-1 4-1 3-1 4 0 4 0 3 1 4 0 4 1 3 0 4 1 3 1 3 1 4 1 3 2 3 1 4 2 3 1 3 2 3 2 3 2 3 2 3 2 2 3 3 2 3 2 3 2 3 3 2 2 3 3 2 3 2 3 2 3 2 3 2 3 2 3 2 3 1 4 2 3 1 3 1 4 0 4 1 3 1 4 1 3 1 4z" fill="#ffa523"/><path d="M660 283l0 4 -1 3 0 4 0 4 -1 3 0 4 -1 3 -2 4 -1 3 -2 3 -2 3 -3 3 -2 3 -3 2 -2 3 -3 2 -2 3 -3 2 -3 2 -3 2 -3 2 -3 2 -3 1 -4 1 -3 1 -4 1 -3 0 -4 0 -4 1 -3 0 -4 0 -4 0 -3-1 -4 0 -4-1 -3-1 -4-1 -3-1 -3-2 -4-1 -3-2 -3-2 -3-2 -3-2 -3-2 -3-3 -2-2 -3-3 -2-3 -2-3 -2-3 -1-3 -2-3 -1-4 -1-3 -1-4 0-4 -1-3 0-4 0-4 0-3 0-4 0-3 1-4 0-4 1-3 1-4 1-3 1-4 2-3 1-3 3-3 2-3 3-2 2-3 3-2 2-3 3-2 3-2 3-3 3-2 3-1 3-2 4-1 3-1 4-1 3-1 4 0 3-1 4 0 4 0 3 0 4 0 3 0 4 0 4 1 3 1 3 1 4 2 3 2 2 3 3 2 3 2 3 2 3 2 3 3 3 2 2 3 2 3 2 3 3 3 1 3 2 3 2 3 2 4 1 3 1 4 1 3 0 4 0 4z" fill="#ffc814"/><path d="M641 283l0 4 0 4 0 3 -1 4 -1 3 -2 4 -2 3 -3 3 -2 2 -2 3 -2 3 -3 2 -2 2 -3 3 -3 2 -3 2 -3 2 -4 1 -4 0 -3 1 -4 0 -3 0 -4 0 -4 0 -3-1 -4-1 -3-1 -4-1 -3-1 -4-1 -3-3 -2-2 -3-3 -2-2 -3-3 -2-3 -2-3 -1-3 -2-4 -1-3 -1-3 -1-4 -1-3 0-4 0-4 0-3 0-4 1-4 1-3 2-3 2-4 2-3 2-3 2-3 2-2 2-3 3-2 3-2 3-2 3-2 3-2 3-1 4-1 3 0 4-1 4 0 3-1 4 0 4 0 3 1 4 2 3 1 4 1 3 2 3 1 3 3 3 2 2 3 3 2 2 3 2 3 2 3 1 3 2 4 1 3 1 3 1 4 0 4z" fill="#fff200"/><path d="M631 283l1 3 -1 3 0 2 -2 3 -1 2 -1 3 -1 2 -2 2 -1 2 -2 2 -1 2 -1 2 -2 2 -2 2 -2 2 -2 1 -2 1 -2 1 -3 1 -2 1 -3 1 -2 0 -3 1 -2 0 -3 0 -3 0 -2 0 -3 0 -2-1 -3-1 -2-1 -2-2 -3-1 -2-1 -2-1 -3-1 -2-2 -1-2 -1-3 -1-2 -2-2 -1-2 -2-2 -1-3 -1-2 -1-3 0-2 0-3 0-2 0-3 0-3 0-2 1-3 1-2 1-3 1-2 1-2 1-2 1-2 2-3 1-2 2-2 1-2 2-2 3-1 2-1 2-1 3-1 2-1 3-1 2-1 3-1 2 0 3 0 3 1 2 1 3 0 2 0 3 0 2 1 3 1 2 1 2 2 2 1 2 2 2 2 1 2 2 1 2 2 2 2 2 2 1 2 1 3 0 2 0 3 1 3 1 2 1 3z" fill="#dcff2d"/><path d="M622 283l-1 3 0 2 0 3 -1 2 -1 3 -1 2 -1 2 -1 3 -1 2 -2 2 -3 1 -2 1 -2 2 -2 1 -3 1 -2 1 -2 1 -3 1 -2 1 -3 0 -3 0 -2-1 -3-1 -2-1 -3-1 -2-2 -1-2 -2-1 -3-1 -2-1 -2-2 -2-2 -1-3 -1-2 -1-2 -1-3 -1-2 0-3 0-2 0-3 1-2 0-3 1-2 1-3 0-2 1-3 1-2 1-3 2-2 2-2 2-1 3-1 3 0 2-1 2-2 2-2 3 0 2 0 3 0 3-1 2 0 3 1 2 2 2 1 2 1 3 1 2 1 2 1 2 2 2 2 2 2 1 2 2 2 1 2 1 3 1 2 0 3 0 3z" fill="#a0ff5a"/><path d="M617 283l-1 3 -1 2 -1 3 0 2 -1 3 -2 2 -1 2 -2 2 -2 2 -2 1 -2 1 -2 1 -3 2 -2 0 -3-1 -2 0 -3 1 -3 1 -3 0 -2-1 -2-2 -2-2 -2-1 -2-2 -2-2 -2-2 -1-2 -1-3 0-2 -1-3 -1-2 0-3 1-2 1-3 0-2 0-3 1-2 2-2 2-2 1-2 2-2 1-3 3-1 2-1 3 0 2-1 3 0 3 1 2 0 3 0 2 0 3 1 2 1 2 1 2 2 1 2 2 2 2 2 2 2 1 2 1 3 1 2 1 3z" fill="#64ff82"/><path d="M610 283l0 3 -1 2 -1 3 -1 2 -1 2 -2 2 -2 2 -2 1 -2 2 -3 1 -2 0 -3 1 -2-1 -3 0 -2-1 -3-1 -2-1 -2-2 -2-1 -1-2 -1-3 -1-2 -1-3 -1-2 0-3 1-2 0-3 1-2 2-3 1-2 2-2 2-1 2-2 3-1 2-1 3 0 2 0 3 0 2 1 2 1 3 1 2 1 2 2 1 2 2 2 1 3 0 2 1 3z" fill="#00ffa0"/><path d="M605 283l0 3 0 2 -1 3 -2 2 -1 2 -3 1 -2 2 -2 1 -3 0 -2 0 -3 0 -2-1 -3-1 -2-1 -2-2 -1-2 -1-3 -1-2 0-2 0-3 0-3 1-2 1-2 2-2 1-2 3-2 2-1 2 0 3-1 3 0 2 1 3 1 2 1 2 2 1 2 2 2 1 2 0 3z" fill="#00ffd2"/><path d="M601 283l0 3 -1 2 -1 2 -2 3 -2 1 -3 1 -2 0 -3 0 -3-1 -2-1 -2-2 -1-3 -1-2 0-3 0-2 1-3 1-2 2-2 2-1 3-1 2-1 3 1 3 0 2 2 2 2 1 2 1 3z" fill="#00ffff"/><path d="M597 283l0 3 -2 2 -1 2 -3 1 -3 0 -2-1 -2-2 -1-2 -2-3 1-2 2-3 2-1 2-1 3 0 2 1 2 1 2 3z" fill="#00dcff"/><path d="M593 283l0 2 -2 2 -1 1 -3-1 -1-2 0-2 0-2 1-1 2-1 2 1 2 1z" fill="#00b9ff"/>
<path d="M57.3 0V550.9M243.9 0V550.9M430.5 0V550.9M617.2 0V550.9M803.8 0V550.9M990.4 0V550.9M0 473H1034.2M0 395.8H1034.2M0 317.9H1034.2M0 239H1034.2M0 159.2H1034.2M0 78.2H1034.2" stroke="#fff" stroke-opacity="0.09" stroke-width="2" fill="none"/>
<path d="M215.9 553.2L216.4 543.9L214.5 534.5L216.7 529.7L218.5 522.4L223.1 514.1L222.1 510.8L218.6 504.4L218.9 500.2L216.7 495L216 483.9L213.9 478.5L214.8 474.2L213.8 468.3L211.9 461.7L210.8 455.5L209.4 451.4L207.9 445.9L206.5 439.3L204.1 434.1L204.6 428.8L201 422.4L194.6 414.1L191.4 412.3L187.6 405.9L183.6 401.4L179.8 396.3L174.6 392.4L171.5 387.6L167.6 383.4L162.2 379.5L156.3 375.3L152.5 372.7L147.6 367.6L143.3 361.3L138.3 356L130.1 351.3L126.7 346.1L122.9 344.8L118.4 338.3L115.9 331.5L112.6 325.5L111 316.1L105.1 311.9L98.4 307.3L94.2 302.7L90.3 299.6L86.9 294.4L85.7 287.9L83 282L80.8 275.6L82.9 269.2L85.6 263.9L86.3 258.3L89.9 252.1L90.9 244.1L94.5 240.5L101.1 238.3L105.2 235.4L109.8 232.8L115.8 228L115.7 222.2L117.9 212.8L119 205.6L128 204.5L131.3 202L136.8 200.1L140.5 195.8L146.9 193.6L152.5 188.1L158.7 184.1L163.7 181.3L169.6 177.6L174.2 175.2L180.6 171.8L187.6 168.8L191.1 167.7L200.2 169.4L204.5 173.4L208.9 175.4L211 182.2L215.5 181.1L221.1 179.5L227.2 172.5L231.5 175.1L240.5 182.9L241.9 182.4L238.8 187.3L233.6 195.2L234.8 205L237.2 212.9L239.3 220.2L244.9 225.2L248.2 230.9L256.7 228.1L264.3 224.5L267.1 216.2L261.8 209.7L256.8 204.3L258.7 194.6L260.9 186.2L264.7 184.4L269.4 181.4L273.7 183.8L278.3 182L283.7 178.5L289.3 180.5L295.5 178.8L298.3 176.5L304.9 175.7L310.5 173.2L320.5 171.9L330.3 171.3L333.7 168.2L340.2 169.6L347.9 165.7L354.6 161.4L359 154.1L363.2 155.8L367.1 154.3L371.6 151L377.6 150.1L382.9 148.1L387.1 143.3L391.9 150.2L396.5 156.8L400.5 148L401.2 140.2L407 137L413.4 133.5L416.9 132.6L421.5 134.5L427 134.4L434.3 127.1L440.3 126L445.2 129.8L450.7 130.7L456.5 129.3L460.9 128.9L466.3 125.1L473.3 123L477.7 123.6L483.4 121.4L489.3 114.2L491.2 109.3L492.1 104.5L500.8 102.7L507.3 99.3L514.7 93.1L519 88.2L521.7 84.4L532.3 82.3L535.6 75.9L540 69.7L544.2 67.9L539.9 64.9L535.4 61.1L540.6 60L546.9 56.7L552.7 57.5L556.3 56.3L561.8 54.2L568 48.4L576.2 40.9L580.9 32.8L589.2 26.9L597.7 23L602.3 16.3L608.4 8.9L601.3 4.2L606.1 -3.5M648.3 47.6L644.2 52.6L639.4 56.6L637.6 62.8L636.8 67.9L633.1 72.6L630.9 75.9L628.7 82.6L627 87.2L624.8 91.2L622.4 96.7L620.4 102.7L619 109L618.7 116.5L620.5 121.9L622.1 126.3L628.6 132.9L631.4 137.9L636.7 141.2L639.3 147.3L641.5 151.5L642.3 156.3L642.5 160.7L649.1 163.7L650.6 155.6L650.9 149.7L652.8 144.1L655 139L658.4 133.4L660.8 128.9L664.2 125.2L666.8 118.4L669.9 112.3L670.9 106.5L673.5 101.4L676.1 93.4L677.5 86.5L678.6 80L679.2 72.4L679.4 67.3L682.1 62.4L683.6 54.5L684.6 48.5L684.5 44.4L682.9 37.2L679.5 31.7L675.1 27.7L670.1 23.3L663.2 26.5L658.4 30L654.8 35L650.9 37.6L649.3 42.7ZM211 250L217.2 246.7L220.9 245.4L225.6 242.4L230.6 240.6L236.5 241.5L241.5 241.5L249.9 238.5L256.2 237.5L261.7 236.8L268.7 235L273 240.3L280.8 243.9L281 252.4L276.3 257.9L269.4 262.9L266.5 268.8L261.2 278.5L259.6 284.7L257.5 288.6L253.1 295.8L243.3 301.2L239.2 304.8L234.2 306L228.1 310.5L219.3 307.7L216.6 305.5L211.8 303.8L207.1 302.9L201.8 301L192.9 297.1L193.7 289.4L192.5 283.6L191.9 279.3L193.4 270.4L197.6 262.4L202.4 257.2L207.1 253.9ZM637.7 301L641.1 296.7L643.8 292.7L652.1 294.3L659.8 296.7L668.3 302.8L673.5 304L678.2 305.7L687 305.7L695.2 301.9L699.1 298L700.8 303L700.6 313.7L700.6 317.5L698.8 323.4L699.7 328.5L699.1 332.1L701.5 339L702.7 341.7L709.9 347.5L709.2 357.4L707.1 362.6L705.5 367.8L703.9 372.2L701.3 376.8L695.5 384.9L690.3 392.7L681.9 395.3L675.4 401.1L674 405.7L674.4 410.8L673.8 415.7L670.1 421.4L667.3 427.4L672.9 433.1L678 439.1L679.7 445.3L680.9 450.4L679.5 460.2L683.2 467.7L692.3 474.2L698.8 476.3L701.8 470.4L706.7 462.7L714.9 461.2L723.7 462.3L729.1 467.9L731.1 476.1L733.6 481.4L740.5 485.8L744.1 481.6L749.2 477.4L757 476L765.5 480L770.3 487.9L774.3 491.8L781.5 483.4L780.9 476.2L775.2 469.4L772.2 472.3L770.7 477L769.6 480.6L762.2 475.8L755.1 471.6L747.2 473.2L740.3 481.2L736.6 477.1L734.1 468.8L730.8 461L723.3 456.6L712.8 457L704.8 461.9L701.3 468.6L695.6 470.3L687.7 465.6L683.8 457.1L683.9 448.2L681.5 438.8L679.5 436L675.5 431.9L671.9 426.6L667.8 430.1L663.1 436.1L660.2 441.2L654.6 449.4L646.5 447.4L638.5 444.1L634.3 451.6L628 446.4L622.4 440.7L618.8 433.6L617.2 424.1L613.6 417.2L612.3 412.3L610.7 408.1L609.2 400.6L608.5 391.2L610.9 386.6L610.9 381.5L612.9 384.9L618.7 392.1L626.5 393.3L634.6 388.3L632.5 382.6L627.9 372.2L628 367.5L629.2 362.4L628.7 357.4L629 351.5L631.5 348.5L632.5 342.5L630.9 332.3L630.9 327.8L632.1 321.3L635.3 317.7L633.9 312L636.2 306.9ZM634.7 495.5L639.9 494.8L646.2 493.7L649.5 491.5L653.7 492L659.4 496.7L663.4 501.6L667.9 505.9L670.9 511.7L673.8 514.9L673 520.6L671.4 526.6L669.5 531.2L666.8 535.3L662.3 541L654.4 538.8L652 533.3L648.5 527L646.5 521.9L644.7 516.2L641.5 511.1L638.4 507.6L636.7 501.4ZM684.8 493.6L691.5 489.2L694.7 494.5L695 501.9L688.9 504.3L683.8 499.5ZM709.4 477.8L714.4 475.1L716 481.4L715.3 484.9L714 489.4L715.5 495.2L715.7 499.7L713.7 505L708.6 498.2L710.4 487.7ZM727.1 507.3L735.2 505.8L742.9 512.3L751.1 518.1L758.5 513.3L765.9 505.6L773.8 511L769 519.8L761.3 523.1L753.2 525.5L747.1 522.3L743.1 521L738.2 518.8L732.3 518.5L730 512.2ZM734.9 491.6L742.3 489.2L746.7 497.2L743.6 505L737.7 500.9L735.9 496.5ZM758.5 495.5L764.3 494.5L768.4 493.6L773 499.4L769.4 505.2L762.4 503.4ZM778.1 527L782.9 525.8L787.9 525.3L793 527L797.1 527.6L802.5 526.3L807.5 524.8L811.9 528.7L815.1 532.5L821.3 539.8L822.7 545.6L823.3 551.1L817.5 552.2L811.7 553.6L804 550.7L798.7 549.8L788.8 547.5L785.1 543.7L782.2 539L780.1 532.9ZM611.1 538.7L619.1 537.7L626.5 542.6L628.1 550.9L620.4 552.2L613.1 546.6ZM691.7 525L699.7 524.1L698.9 527.3L698.2 531.7L695.6 538L693.7 542.9L689.1 545.9L687.7 540.8L690 535.9L690.7 529.9ZM703.5 528.9L711.4 529.6L717.1 536.7L713.6 540.3L705.4 536.8ZM738.8 527L746.8 529.1L749.3 534.1L752.2 538.9L757.1 546.3L750.8 551.4L745.8 546.4L742.8 543.3L736.9 534.8ZM760.5 536.8L768.8 538.6L772.5 548L767.7 552.2L763 549.2L761.4 542.7ZM620 477.8L625.8 478.9L630.4 484.5L625.3 486.7L621 482.8ZM640.6 477.8L648.4 480.7L655 485.8L648.2 488.3L642.6 483.7Z" fill="none" stroke="#fff" stroke-width="1.8" stroke-linejoin="round"/><path d="M599.2 96.7h0.1M601.2 104.6h0.1M598.2 110.5h0.1M671.9 134.1h0.1M675.8 157.6h0.1M687.6 206.8h0.1M689.6 224.4h0.1M669.9 263.7h0.1M668.0 283.4h0.1M728.9 61.4h0.1M758.4 65.3h0.1M768.2 61.4h0.1M778.0 55.5h0.1M663.2 275.5h0.1M666.2 283.3h0.1M687.8 282.4h0.1M727.1 457.2h0.1M122.6 202.8h0.1M130.5 204.8h0.1M136.4 206.8h0.1M148.1 198.9h0.1M161.9 199.9h0.1M211.0 198.9h0.1M159.9 233.3h0.1M340.7 171.4h0.1M346.6 173.4h0.1M374.1 126.2h0.1M380.0 136.0h0.1M383.9 151.7h0.1M389.8 159.6h0.1M93.1 265.4h0.1M93.1 288.0h0.1M145.2 350.8h0.1M163.9 382.3h0.1M177.6 392.1h0.1M189.4 398.0h0.1M211.0 420.6h0.1M220.8 525.7h0.1M218.9 541.4h0.1" fill="none" stroke="#fff" stroke-width="4" stroke-linecap="round"/>
<g stroke="#1a0500" stroke-opacity="0.88" stroke-width="1.65" fill="none"><g marker-end="url(#a0)"><path d="M-1 16l-5 -13"/><path d="M27 16l-5 -14"/><path d="M54 16l-5 -15"/><path d="M81 16l-7 -14"/><path d="M108 16l-5 -14"/><path d="M136 16l-5 -13"/><path d="M163 16l-6 -11"/><path d="M190 16l-8 -10"/><path d="M218 16l-6 -12"/><path d="M245 16l-6 -11"/><path d="M272 16l-9 -11"/><path d="M300 16l-9 -9"/><path d="M327 16l-9 -8"/><path d="M354 16l-12 -4"/><path d="M382 16l-12 -3"/><path d="M409 16l-12 -3"/><path d="M436 16l-13 -1"/><path d="M463 16l-16 7"/><path d="M627 16l-20 2"/><path d="M-14 39l-6 -12"/><path d="M13 39l-4 -13"/><path d="M40 39l-6 -17"/><path d="M68 39l-4 -15"/><path d="M95 39l-6 -14"/><path d="M122 39l-6 -11"/><path d="M150 39l-5 -12"/><path d="M177 39l-7 -11"/><path d="M204 39l-7 -11"/><path d="M231 39l-10 -9"/><path d="M259 39l-8 -13"/><path d="M286 39l-8 -10"/><path d="M313 39l-10 -8"/><path d="M341 39l-11 -6"/><path d="M368 39l-11 -6"/><path d="M395 39l-13 -1"/><path d="M423 39l-12 -2"/><path d="M450 39l-13 3"/><path d="M-1 63l-4 -14"/><path d="M27 63l-7 -11"/><path d="M54 63l-3 -14"/><path d="M81 63l-4 -14"/><path d="M108 63l-5 -12"/><path d="M136 63l-6 -11"/><path d="M163 63l-5 -12"/><path d="M190 63l-9 -9"/><path d="M218 63l-7 -10"/><path d="M245 63l-6 -11"/><path d="M272 63l-7 -10"/><path d="M300 63l-8 -9"/><path d="M327 63l-11 -6"/><path d="M354 63l-12 -4"/><path d="M382 63l-13 -1"/><path d="M409 63l-13 1"/><path d="M436 63l-13 1"/><path d="M-14 86l-2 -12"/><path d="M13 86l-4 -12"/><path d="M40 86l-5 -15"/><path d="M68 86l-5 -12"/><path d="M95 86l-3 -12"/><path d="M122 86l-6 -11"/><path d="M150 86l-8 -10"/><path d="M177 86l-9 -9"/><path d="M204 86l-9 -9"/><path d="M231 86l-8 -10"/><path d="M259 86l-8 -10"/><path d="M286 86l-8 -10"/><path d="M313 86l-11 -7"/><path d="M341 86l-13 -2"/><path d="M368 86l-13 -2"/><path d="M395 86l-12 2"/><path d="M423 86l-12 4"/><path d="M450 86l-13 11"/><path d="M-1 109l0 -13"/><path d="M27 109l-1 -13"/><path d="M54 109l-3 -12"/><path d="M81 109l-5 -12"/><path d="M108 109l-4 -12"/><path d="M136 109l-9 -9"/><path d="M163 109l-9 -9"/><path d="M190 109l-9 -9"/><path d="M218 109l-9 -9"/><path d="M245 109l-10 -7"/><path d="M272 109l-10 -8"/><path d="M300 109l-12 -3"/><path d="M327 109l-12 2"/><path d="M354 109l-12 5"/><path d="M382 109l-11 6"/><path d="M409 109l-10 8"/><path d="M436 109l-7 13"/><path d="M463 109l-13 15"/><path d="M-14 132l7 -11"/><path d="M13 132l5 -11"/><path d="M40 132l3 -12"/><path d="M68 132l2 -13"/><path d="M95 132l0 -13"/><path d="M122 132l-11 -7"/><path d="M150 132l-12 -5"/><path d="M177 132l-12 -3"/><path d="M204 132l-12 -3"/><path d="M231 132l-11 -6"/><path d="M259 132l-12 -3"/><path d="M286 132l-13 1"/><path d="M313 132l-12 5"/><path d="M341 132l-10 7"/><path d="M368 132l-8 10"/><path d="M395 132l-9 9"/><path d="M423 132l-5 11"/><path d="M450 132l-11 14"/><path d="M-1 156l11 -5"/><path d="M27 156l11 -5"/><path d="M54 156l10 -7"/><path d="M81 156l9 -8"/><path d="M108 156l-8 -9"/><path d="M136 156l-12 -4"/><path d="M163 156l-13 -1"/><path d="M190 156l-13 0"/><path d="M218 156l-13 1"/><path d="M245 156l-13 1"/><path d="M272 156l-13 2"/><path d="M300 156l-12 5"/><path d="M327 156l-10 7"/><path d="M354 156l-7 11"/><path d="M382 156l-5 11"/><path d="M409 156l-1 13"/><path d="M436 156l-5 16"/><path d="M-14 179l12 -4"/><path d="M13 179l12 -2"/><path d="M40 179l13 -1"/><path d="M68 179l12 -3"/><path d="M95 179l11 -6"/><path d="M122 179l-12 -3"/><path d="M150 179l-13 0"/><path d="M177 179l-13 1"/><path d="M204 179l-12 2"/><path d="M231 179l-12 4"/><path d="M259 179l-12 2"/><path d="M286 179l-12 5"/><path d="M313 179l-11 6"/><path d="M341 179l-9 9"/><path d="M368 179l-2 13"/><path d="M395 179l0 13"/><path d="M423 179l2 14"/><path d="M450 179l0 19"/><path d="M-1 202l14 -3"/><path d="M27 202l14 -1"/><path d="M54 202l15 0"/><path d="M81 202l13 0"/><path d="M108 202l2 -12"/><path d="M136 202l-12 -3"/><path d="M163 202l-13 2"/><path d="M190 202l-12 -2"/><path d="M218 202l-12 3"/><path d="M245 202l-12 3"/><path d="M272 202l-12 3"/><path d="M300 202l-11 6"/><path d="M327 202l-9 8"/><path d="M354 202l-4 12"/><path d="M382 202l3 12"/><path d="M409 202l4 14"/><path d="M-14 226l17 -2"/><path d="M13 226l14 -5"/><path d="M40 226l16 3"/><path d="M68 226l14 1"/><path d="M95 226l13 -1"/><path d="M122 226l-11 -6"/><path d="M150 226l-13 0"/><path d="M177 226l-13 -1"/><path d="M204 226l-13 1"/><path d="M231 226l-12 4"/><path d="M259 226l-12 5"/><path d="M286 226l-11 6"/><path d="M313 226l-11 7"/><path d="M341 226l-3 12"/><path d="M368 226l4 12"/><path d="M395 226l7 11"/><path d="M423 226l8 13"/><path d="M-1 249l13 0"/><path d="M27 249l17 0"/><path d="M54 249l16 0"/><path d="M81 249l12 -2"/><path d="M108 249l12 -2"/><path d="M136 249l13 -1"/><path d="M163 249l12 4"/><path d="M190 249l12 4"/><path d="M218 249l12 3"/><path d="M245 249l4 12"/><path d="M272 249l-10 8"/><path d="M300 249l-9 9"/><path d="M327 249l-1 13"/><path d="M354 249l7 11"/><path d="M382 249l9 9"/><path d="M409 249l12 10"/><path d="M-14 272l15 -2"/><path d="M13 272l14 -3"/><path d="M40 272l15 -3"/><path d="M68 272l13 0"/><path d="M95 272l13 -1"/><path d="M122 272l13 -1"/><path d="M150 272l13 -1"/><path d="M177 272l15 -2"/><path d="M204 272l13 2"/><path d="M231 272l13 0"/><path d="M259 272l12 5"/><path d="M286 272l11 7"/><path d="M313 272l10 8"/><path d="M341 272l11 7"/><path d="M368 272l11 7"/><path d="M395 272l15 8"/><path d="M586 272l-15 13"/><path d="M-1 296l15 -3"/><path d="M27 296l14 -2"/><path d="M54 296l12 -4"/><path d="M81 296l13 -1"/><path d="M108 296l13 -2"/><path d="M136 296l15 0"/><path d="M163 296l17 1"/><path d="M190 296l14 1"/><path d="M218 296l17 1"/><path d="M245 296l15 1"/><path d="M272 296l15 1"/><path d="M300 296l12 3"/><path d="M327 296l12 3"/><path d="M354 296l14 4"/><path d="M382 296l19 1"/><path d="M-14 319l14 -9"/><path d="M13 319l16 -7"/><path d="M40 319l15 -7"/><path d="M68 319l13 -5"/><path d="M95 319l14 -1"/><path d="M122 319l16 -3"/><path d="M150 319l19 2"/><path d="M177 319l19 -2"/><path d="M313 319l18 3"/><path d="M341 319l19 1"/><path d="M-1 342l11 -12"/><path d="M27 342l12 -10"/><path d="M54 342l14 -10"/><path d="M81 342l14 -7"/><path d="M108 342l16 -4"/><path d="M136 342l18 0"/><path d="M163 342l18 0"/><path d="M190 342l20 1"/><path d="M-14 366l15 -11"/><path d="M13 366l15 -13"/><path d="M68 366l13 -12"/><path d="M95 366l14 -12"/><path d="M122 366l15 -3"/><path d="M150 366l16 -6"/><path d="M177 366l20 0"/><path d="M108 389l14 -11"/><path d="M136 389l17 -6"/><path d="M163 389l19 -1"/><path d="M122 412l15 -10"/><path d="M150 412l19 -4"/><path d="M177 412l19 -3"/><path d="M-1 435l16 -12"/><path d="M27 435l15 -13"/><path d="M54 435l12 -15"/><path d="M68 459l11 -13"/><path d="M95 459l15 -12"/><path d="M108 482l18 -9"/><path d="M95 505l12 -15"/><path d="M27 529l15 -13"/><path d="M54 529l16 -11"/><path d="M81 529l16 -12"/><path d="M95 552l15 -12"/></g><g marker-end="url(#a1)"><path d="M491 16l-17 16"/><path d="M518 16l-18 15"/><path d="M600 16l-21 7"/><path d="M477 39l-17 14"/><path d="M532 39l-21 13"/><path d="M641 39l-24 -4"/><path d="M463 63l-16 12"/><path d="M491 63l-17 18"/><path d="M627 63l-24 4"/><path d="M477 86l-15 19"/><path d="M477 132l-13 19"/><path d="M463 156l-4 22"/><path d="M491 156l-9 21"/><path d="M477 179l-6 23"/><path d="M436 202l4 20"/><path d="M463 202l2 22"/><path d="M450 226l9 20"/><path d="M436 249l13 17"/><path d="M463 249l15 18"/><path d="M423 272l20 9"/><path d="M450 272l18 13"/><path d="M409 296l22 6"/><path d="M436 296l22 8"/><path d="M204 319l20 -1"/><path d="M231 319l22 0"/><path d="M259 319l24 2"/><path d="M286 319l22 0"/><path d="M368 319l20 3"/><path d="M423 319l23 3"/><path d="M300 342l25 2"/><path d="M327 342l23 6"/><path d="M354 342l22 3"/><path d="M40 366l17 -13"/><path d="M204 366l22 0"/><path d="M313 366l23 3"/><path d="M-1 389l14 -15"/><path d="M27 389l15 -14"/><path d="M54 389l13 -17"/><path d="M81 389l16 -13"/><path d="M190 389l22 -5"/><path d="M272 389l24 0"/><path d="M300 389l24 4"/><path d="M436 389l25 1"/><path d="M-14 412l16 -14"/><path d="M13 412l19 -16"/><path d="M40 412l16 -14"/><path d="M68 412l15 -14"/><path d="M95 412l15 -13"/><path d="M204 412l22 -1"/><path d="M259 412l22 -6"/><path d="M286 412l25 -4"/><path d="M313 412l25 -3"/><path d="M81 435l16 -14"/><path d="M108 435l16 -12"/><path d="M136 435l18 -11"/><path d="M163 435l20 -8"/><path d="M190 435l23 -4"/><path d="M218 435l19 -8"/><path d="M245 435l24 -6"/><path d="M272 435l21 -3"/><path d="M327 435l24 -4"/><path d="M354 435l24 1"/><path d="M-14 459l13 -16"/><path d="M13 459l15 -15"/><path d="M40 459l13 -16"/><path d="M122 459l17 -11"/><path d="M150 459l20 -10"/><path d="M177 459l22 -8"/><path d="M204 459l21 -11"/><path d="M231 459l20 -11"/><path d="M259 459l19 -9"/><path d="M313 459l21 -9"/><path d="M-1 482l15 -18"/><path d="M27 482l14 -15"/><path d="M54 482l18 -12"/><path d="M81 482l17 -13"/><path d="M136 482l18 -11"/><path d="M163 482l18 -10"/><path d="M190 482l22 -6"/><path d="M218 482l20 -14"/><path d="M245 482l22 -10"/><path d="M272 482l23 -9"/><path d="M300 482l21 -9"/><path d="M409 482l24 -7"/><path d="M-14 505l15 -15"/><path d="M13 505l14 -16"/><path d="M40 505l19 -9"/><path d="M68 505l16 -13"/><path d="M122 505l17 -13"/><path d="M150 505l15 -15"/><path d="M177 505l19 -12"/><path d="M204 505l17 -14"/><path d="M259 505l21 -12"/><path d="M313 505l18 -13"/><path d="M341 505l19 -13"/><path d="M-1 529l16 -13"/><path d="M108 529l17 -14"/><path d="M136 529l16 -14"/><path d="M163 529l20 -8"/><path d="M190 529l21 -12"/><path d="M218 529l18 -14"/><path d="M245 529l20 -14"/><path d="M272 529l20 -10"/><path d="M300 529l19 -11"/><path d="M327 529l22 -10"/><path d="M354 529l20 -10"/><path d="M791 529l-2 -24"/><path d="M846 529l-6 -24"/><path d="M-14 552l17 -14"/><path d="M13 552l16 -14"/><path d="M40 552l17 -14"/><path d="M68 552l17 -17"/><path d="M122 552l17 -14"/><path d="M150 552l17 -14"/><path d="M177 552l18 -11"/><path d="M231 552l19 -11"/><path d="M259 552l20 -13"/><path d="M286 552l22 -11"/><path d="M341 552l22 -9"/><path d="M777 552l2 -23"/></g><g marker-end="url(#a2)"><path d="M545 16l-21 15"/><path d="M573 16l-23 11"/><path d="M654 16l-26 -6"/><path d="M682 16l-28 -4"/><path d="M709 16l-25 -7"/><path d="M736 16l-24 -12"/><path d="M764 16l-22 -17"/><path d="M791 16l-18 -20"/><path d="M818 16l-17 -20"/><path d="M873 16l-11 -26"/><path d="M900 16l-16 -25"/><path d="M927 16l-10 -24"/><path d="M955 16l-15 -25"/><path d="M504 39l-22 17"/><path d="M559 39l-21 13"/><path d="M586 39l-26 6"/><path d="M614 39l-25 6"/><path d="M668 39l-27 -7"/><path d="M695 39l-27 -10"/><path d="M750 39l-27 -13"/><path d="M777 39l-21 -16"/><path d="M805 39l-15 -24"/><path d="M832 39l-15 -24"/><path d="M859 39l-15 -24"/><path d="M887 39l-14 -27"/><path d="M941 39l-7 -26"/><path d="M996 39l-9 -24"/><path d="M518 63l-25 15"/><path d="M545 63l-22 12"/><path d="M573 63l-26 6"/><path d="M600 63l-26 8"/><path d="M736 63l-26 -12"/><path d="M764 63l-25 -11"/><path d="M791 63l-20 -21"/><path d="M818 63l-15 -22"/><path d="M846 63l-13 -26"/><path d="M873 63l-11 -25"/><path d="M900 63l-11 -25"/><path d="M927 63l-14 -25"/><path d="M955 63l-14 -24"/><path d="M982 63l-9 -26"/><path d="M504 86l-23 14"/><path d="M532 86l-23 17"/><path d="M559 86l-24 14"/><path d="M586 86l-29 4"/><path d="M614 86l-27 1"/><path d="M641 86l-30 -5"/><path d="M723 86l-29 -8"/><path d="M777 86l-26 -12"/><path d="M805 86l-20 -20"/><path d="M832 86l-16 -24"/><path d="M887 86l-18 -23"/><path d="M941 86l-13 -27"/><path d="M996 86l-14 -25"/><path d="M1023 86l-10 -27"/><path d="M491 109l-21 17"/><path d="M518 109l-25 13"/><path d="M545 109l-25 13"/><path d="M791 109l-25 -14"/><path d="M927 109l-10 -27"/><path d="M1037 109l-7 -28"/><path d="M504 132l-16 21"/><path d="M532 132l-23 17"/><path d="M559 132l-27 11"/><path d="M614 132l-28 6"/><path d="M832 132l-19 -21"/><path d="M914 132l-12 -24"/><path d="M941 132l-15 -26"/><path d="M996 132l-8 -28"/><path d="M518 156l-19 22"/><path d="M573 156l-27 14"/><path d="M791 156l-24 -18"/><path d="M818 156l-17 -21"/><path d="M873 156l-15 -25"/><path d="M900 156l-15 -23"/><path d="M927 156l-8 -24"/><path d="M504 179l-10 23"/><path d="M532 179l-17 23"/><path d="M777 179l-23 -18"/><path d="M859 179l-10 -28"/><path d="M887 179l-11 -26"/><path d="M914 179l-13 -27"/><path d="M968 179l-8 -25"/><path d="M996 179l-8 -27"/><path d="M491 202l-6 28"/><path d="M518 202l-12 27"/><path d="M736 202l-17 -24"/><path d="M764 202l-19 -24"/><path d="M818 202l-13 -27"/><path d="M900 202l-8 -27"/><path d="M1037 202l-7 -27"/><path d="M477 226l7 25"/><path d="M887 226l-11 -27"/><path d="M941 226l-8 -25"/><path d="M968 226l-11 -28"/><path d="M996 226l-13 -23"/><path d="M491 249l9 28"/><path d="M955 249l-15 -24"/><path d="M982 249l-5 -29"/><path d="M1009 249l-12 -27"/><path d="M1037 249l-13 -27"/><path d="M968 272l-8 -28"/><path d="M996 272l-6 -28"/><path d="M463 296l18 21"/><path d="M573 296l22 14"/><path d="M600 296l14 -23"/><path d="M846 296l-8 -26"/><path d="M900 296l-5 -28"/><path d="M927 296l-6 -26"/><path d="M955 296l-10 -26"/><path d="M982 296l-9 -29"/><path d="M1037 296l-10 -24"/><path d="M395 319l26 1"/><path d="M450 319l25 7"/><path d="M859 319l-4 -28"/><path d="M941 319l-2 -29"/><path d="M968 319l-7 -26"/><path d="M996 319l-11 -26"/><path d="M218 342l25 3"/><path d="M245 342l30 0"/><path d="M272 342l29 3"/><path d="M382 342l26 -1"/><path d="M409 342l29 0"/><path d="M436 342l28 1"/><path d="M463 342l27 8"/><path d="M791 342l-1 -29"/><path d="M900 342l-13 -27"/><path d="M927 342l-7 -27"/><path d="M982 342l-5 -28"/><path d="M1009 342l-9 -26"/><path d="M1037 342l-12 -25"/><path d="M231 366l25 2"/><path d="M259 366l29 1"/><path d="M286 366l29 -2"/><path d="M341 366l27 4"/><path d="M368 366l27 0"/><path d="M450 366l29 4"/><path d="M805 366l-5 -28"/><path d="M859 366l1 -29"/><path d="M887 366l-6 -28"/><path d="M941 366l-7 -28"/><path d="M996 366l-8 -24"/><path d="M218 389l25 0"/><path d="M245 389l28 3"/><path d="M327 389l27 -3"/><path d="M354 389l27 -1"/><path d="M382 389l29 5"/><path d="M409 389l28 2"/><path d="M463 389l30 3"/><path d="M927 389l-8 -27"/><path d="M1009 389l-5 -27"/><path d="M1037 389l-5 -28"/><path d="M231 412l25 -2"/><path d="M341 412l26 2"/><path d="M368 412l28 0"/><path d="M477 412l29 -6"/><path d="M504 412l29 -2"/><path d="M914 412l-7 -26"/><path d="M996 412l-3 -28"/><path d="M1023 412l-3 -27"/><path d="M300 435l25 -3"/><path d="M382 435l29 -5"/><path d="M436 435l29 -4"/><path d="M463 435l28 -1"/><path d="M736 435l11 -26"/><path d="M791 435l6 -28"/><path d="M818 435l-5 -29"/><path d="M873 435l0 -29"/><path d="M927 435l-5 -29"/><path d="M1009 435l-9 -27"/><path d="M286 459l23 -10"/><path d="M341 459l24 -12"/><path d="M368 459l28 -2"/><path d="M395 459l26 -5"/><path d="M423 459l26 -7"/><path d="M450 459l27 -9"/><path d="M477 459l29 -8"/><path d="M504 459l26 -12"/><path d="M559 459l26 -15"/><path d="M750 459l9 -28"/><path d="M777 459l3 -27"/><path d="M805 459l-1 -28"/><path d="M914 459l1 -28"/><path d="M941 459l-12 -27"/><path d="M968 459l-5 -28"/><path d="M1023 459l-8 -28"/><path d="M327 482l25 -6"/><path d="M354 482l26 -2"/><path d="M382 482l27 -3"/><path d="M436 482l27 -5"/><path d="M463 482l25 -9"/><path d="M491 482l28 -11"/><path d="M545 482l27 -11"/><path d="M573 482l22 -19"/><path d="M654 482l18 -24"/><path d="M846 482l-4 -28"/><path d="M873 482l-8 -29"/><path d="M955 482l-2 -29"/><path d="M982 482l-5 -27"/><path d="M1037 482l-5 -29"/><path d="M231 505l16 -21"/><path d="M286 505l25 -10"/><path d="M368 505l26 -7"/><path d="M395 505l23 -11"/><path d="M423 505l27 -9"/><path d="M450 505l23 -14"/><path d="M477 505l28 -11"/><path d="M504 505l24 -15"/><path d="M532 505l26 -10"/><path d="M559 505l26 -14"/><path d="M723 505l12 -25"/><path d="M750 505l10 -26"/><path d="M777 505l4 -27"/><path d="M805 505l4 -28"/><path d="M832 505l-4 -29"/><path d="M914 505l-4 -28"/><path d="M941 505l-6 -28"/><path d="M968 505l-3 -26"/><path d="M1023 505l-4 -27"/><path d="M382 529l24 -13"/><path d="M409 529l23 -13"/><path d="M436 529l24 -9"/><path d="M463 529l19 -17"/><path d="M518 529l26 -9"/><path d="M545 529l27 -11"/><path d="M573 529l21 -16"/><path d="M600 529l19 -21"/><path d="M627 529l21 -20"/><path d="M654 529l19 -22"/><path d="M709 529l14 -26"/><path d="M764 529l10 -27"/><path d="M818 529l-3 -27"/><path d="M873 529l-5 -30"/><path d="M900 529l-5 -29"/><path d="M927 529l-7 -29"/><path d="M1009 529l-8 -28"/><path d="M1037 529l-2 -29"/><path d="M204 552l23 -10"/><path d="M313 552l21 -14"/><path d="M368 552l24 -8"/><path d="M395 552l24 -13"/><path d="M423 552l24 -16"/><path d="M450 552l22 -16"/><path d="M477 552l22 -13"/><path d="M504 552l24 -16"/><path d="M532 552l26 -14"/><path d="M559 552l24 -11"/><path d="M586 552l20 -21"/><path d="M723 552l20 -21"/><path d="M750 552l11 -25"/><path d="M805 552l6 -29"/><path d="M832 552l-3 -27"/><path d="M859 552l-5 -28"/><path d="M887 552l-3 -27"/><path d="M941 552l-7 -28"/><path d="M996 552l-7 -26"/><path d="M1023 552l-8 -25"/></g><g marker-end="url(#a3)"><path d="M846 16l-14 -28"/><path d="M982 16l-11 -28"/><path d="M1009 16l-15 -27"/><path d="M1037 16l-10 -29"/><path d="M723 39l-28 -13"/><path d="M914 39l-15 -27"/><path d="M968 39l-11 -29"/><path d="M1023 39l-9 -29"/><path d="M654 63l-31 -1"/><path d="M682 63l-31 -6"/><path d="M709 63l-31 -9"/><path d="M1009 63l-16 -28"/><path d="M1037 63l-15 -29"/><path d="M668 86l-31 -4"/><path d="M695 86l-33 -10"/><path d="M750 86l-32 -9"/><path d="M859 86l-13 -27"/><path d="M914 86l-17 -26"/><path d="M968 86l-15 -27"/><path d="M573 109l-29 9"/><path d="M600 109l-31 4"/><path d="M627 109l-30 1"/><path d="M654 109l-32 -2"/><path d="M709 109l-33 -9"/><path d="M736 109l-33 -12"/><path d="M764 109l-28 -15"/><path d="M818 109l-19 -25"/><path d="M846 109l-15 -29"/><path d="M873 109l-16 -26"/><path d="M900 109l-15 -28"/><path d="M955 109l-13 -28"/><path d="M982 109l-10 -29"/><path d="M1009 109l-14 -29"/><path d="M586 132l-31 6"/><path d="M695 132l-30 -16"/><path d="M723 132l-31 -12"/><path d="M777 132l-30 -12"/><path d="M859 132l-18 -25"/><path d="M887 132l-15 -26"/><path d="M968 132l-12 -30"/><path d="M1023 132l-15 -27"/><path d="M545 156l-30 13"/><path d="M600 156l-32 5"/><path d="M654 156l-32 -13"/><path d="M736 156l-28 -18"/><path d="M764 156l-25 -19"/><path d="M846 156l-16 -27"/><path d="M955 156l-13 -30"/><path d="M982 156l-10 -30"/><path d="M1009 156l-13 -32"/><path d="M1037 156l-12 -33"/><path d="M586 179l-33 0"/><path d="M805 179l-19 -25"/><path d="M832 179l-15 -27"/><path d="M941 179l-10 -30"/><path d="M1023 179l-8 -32"/><path d="M545 202l-23 25"/><path d="M709 202l-28 -19"/><path d="M791 202l-19 -25"/><path d="M846 202l-18 -24"/><path d="M873 202l-10 -29"/><path d="M927 202l-11 -30"/><path d="M955 202l-10 -29"/><path d="M982 202l-10 -31"/><path d="M1009 202l-14 -28"/><path d="M504 226l0 33"/><path d="M532 226l-16 31"/><path d="M777 226l-19 -29"/><path d="M805 226l-16 -28"/><path d="M832 226l-9 -30"/><path d="M859 226l-13 -28"/><path d="M914 226l-14 -29"/><path d="M1023 226l-8 -31"/><path d="M518 249l0 31"/><path d="M764 249l-17 -29"/><path d="M818 249l-15 -27"/><path d="M846 249l-12 -32"/><path d="M873 249l-10 -30"/><path d="M900 249l-17 -28"/><path d="M927 249l-5 -31"/><path d="M477 272l21 22"/><path d="M504 272l16 26"/><path d="M559 272l-4 34"/><path d="M723 272l-17 -29"/><path d="M750 272l-15 -30"/><path d="M805 272l-14 -31"/><path d="M832 272l-7 -33"/><path d="M859 272l-5 -30"/><path d="M887 272l-10 -30"/><path d="M914 272l-14 -27"/><path d="M941 272l-8 -31"/><path d="M1023 272l-10 -30"/><path d="M491 296l26 19"/><path d="M764 296l-10 -33"/><path d="M791 296l-7 -33"/><path d="M818 296l-12 -30"/><path d="M873 296l-9 -30"/><path d="M1009 296l-9 -29"/><path d="M477 319l27 14"/><path d="M504 319l27 18"/><path d="M750 319l1 -30"/><path d="M805 319l-7 -32"/><path d="M832 319l-6 -32"/><path d="M887 319l-10 -31"/><path d="M914 319l-8 -29"/><path d="M1023 319l-13 -29"/><path d="M491 342l32 9"/><path d="M764 342l4 -34"/><path d="M846 342l0 -30"/><path d="M873 342l-8 -30"/><path d="M955 342l-4 -32"/><path d="M395 366l30 5"/><path d="M423 366l30 6"/><path d="M477 366l30 7"/><path d="M504 366l32 5"/><path d="M532 366l33 -1"/><path d="M777 366l-3 -34"/><path d="M832 366l-4 -31"/><path d="M914 366l-8 -30"/><path d="M968 366l-7 -30"/><path d="M1023 366l-4 -32"/><path d="M491 389l31 7"/><path d="M518 389l31 -3"/><path d="M545 389l34 0"/><path d="M682 389l20 -29"/><path d="M709 389l10 -33"/><path d="M764 389l2 -32"/><path d="M791 389l0 -33"/><path d="M818 389l-7 -34"/><path d="M846 389l-2 -33"/><path d="M873 389l-4 -30"/><path d="M900 389l-7 -31"/><path d="M955 389l-5 -31"/><path d="M982 389l-9 -29"/><path d="M395 412l29 -7"/><path d="M423 412l32 -1"/><path d="M450 412l31 1"/><path d="M532 412l32 -4"/><path d="M559 412l33 -9"/><path d="M614 412l26 -19"/><path d="M668 412l18 -29"/><path d="M695 412l19 -28"/><path d="M723 412l12 -32"/><path d="M750 412l14 -30"/><path d="M777 412l2 -30"/><path d="M805 412l1 -30"/><path d="M832 412l-2 -30"/><path d="M859 412l-7 -32"/><path d="M887 412l-9 -31"/><path d="M941 412l-4 -31"/><path d="M968 412l-2 -32"/><path d="M409 435l31 3"/><path d="M491 435l30 -8"/><path d="M518 435l31 -7"/><path d="M545 435l30 -6"/><path d="M573 435l26 -15"/><path d="M600 435l26 -19"/><path d="M654 435l19 -26"/><path d="M682 435l20 -27"/><path d="M709 435l16 -31"/><path d="M764 435l6 -32"/><path d="M846 435l-3 -33"/><path d="M900 435l-9 -29"/><path d="M955 435l-9 -32"/><path d="M982 435l-9 -32"/><path d="M1037 435l-4 -31"/><path d="M532 459l28 -13"/><path d="M586 459l25 -18"/><path d="M614 459l28 -21"/><path d="M641 459l24 -22"/><path d="M695 459l18 -29"/><path d="M723 459l16 -31"/><path d="M832 459l2 -31"/><path d="M859 459l-5 -30"/><path d="M887 459l-6 -30"/><path d="M996 459l-3 -30"/><path d="M518 482l30 -8"/><path d="M600 482l24 -21"/><path d="M627 482l23 -23"/><path d="M682 482l20 -22"/><path d="M709 482l22 -25"/><path d="M736 482l16 -28"/><path d="M764 482l5 -31"/><path d="M791 482l5 -31"/><path d="M818 482l-2 -30"/><path d="M900 482l-10 -29"/><path d="M927 482l-6 -31"/><path d="M1009 482l-10 -29"/><path d="M586 505l24 -21"/><path d="M614 505l19 -24"/><path d="M641 505l18 -30"/><path d="M668 505l20 -26"/><path d="M695 505l20 -26"/><path d="M859 505l-6 -33"/><path d="M887 505l-11 -28"/><path d="M996 505l-6 -33"/><path d="M491 529l26 -16"/><path d="M682 529l22 -28"/><path d="M736 529l14 -29"/><path d="M955 529l-6 -30"/><path d="M982 529l-13 -28"/><path d="M614 552l21 -22"/><path d="M641 552l21 -24"/><path d="M668 552l22 -22"/><path d="M695 552l19 -24"/><path d="M914 552l-5 -30"/><path d="M968 552l-9 -29"/></g><g marker-end="url(#a4)"><path d="M682 109l-35 -7"/><path d="M641 132l-37 -7"/><path d="M668 132l-36 -7"/><path d="M750 132l-29 -20"/><path d="M805 132l-27 -23"/><path d="M627 156l-37 -1"/><path d="M682 156l-40 -5"/><path d="M709 156l-34 -15"/><path d="M559 179l-33 15"/><path d="M614 179l-41 4"/><path d="M641 179l-36 -11"/><path d="M668 179l-36 -16"/><path d="M695 179l-36 -10"/><path d="M723 179l-31 -23"/><path d="M750 179l-27 -24"/><path d="M573 202l-38 20"/><path d="M600 202l-46 6"/><path d="M627 202l-41 -5"/><path d="M654 202l-39 -20"/><path d="M682 202l-38 -18"/><path d="M559 226l-26 36"/><path d="M586 226l-39 19"/><path d="M614 226l-49 -5"/><path d="M641 226l-44 -20"/><path d="M668 226l-31 -26"/><path d="M695 226l-27 -25"/><path d="M723 226l-29 -20"/><path d="M750 226l-23 -29"/><path d="M545 249l-4 41"/><path d="M573 249l-27 32"/><path d="M600 249l-42 4"/><path d="M627 249l-41 -27"/><path d="M654 249l-29 -39"/><path d="M682 249l-25 -32"/><path d="M709 249l-18 -33"/><path d="M736 249l-23 -27"/><path d="M791 249l-10 -36"/><path d="M532 272l7 40"/><path d="M614 272l-30 -32"/><path d="M641 272l-27 -40"/><path d="M668 272l-18 -45"/><path d="M695 272l-14 -41"/><path d="M777 272l-13 -33"/><path d="M518 296l19 30"/><path d="M545 296l25 32"/><path d="M627 296l-5 -49"/><path d="M654 296l-9 -45"/><path d="M682 296l-9 -42"/><path d="M709 296l-15 -40"/><path d="M736 296l-7 -36"/><path d="M532 319l37 22"/><path d="M559 319l44 12"/><path d="M586 319l44 -10"/><path d="M614 319l27 -41"/><path d="M641 319l18 -45"/><path d="M668 319l0 -44"/><path d="M695 319l-4 -38"/><path d="M723 319l-3 -37"/><path d="M777 319l-5 -38"/><path d="M518 342l34 9"/><path d="M545 342l35 8"/><path d="M573 342l45 -6"/><path d="M600 342l36 -24"/><path d="M627 342l22 -39"/><path d="M654 342l12 -47"/><path d="M682 342l9 -39"/><path d="M709 342l12 -38"/><path d="M736 342l6 -37"/><path d="M818 342l-6 -36"/><path d="M559 366l38 -1"/><path d="M586 366l37 -13"/><path d="M614 366l30 -32"/><path d="M641 366l26 -30"/><path d="M668 366l16 -36"/><path d="M695 366l12 -37"/><path d="M723 366l6 -37"/><path d="M750 366l7 -35"/><path d="M573 389l33 -12"/><path d="M600 389l33 -25"/><path d="M627 389l28 -31"/><path d="M654 389l19 -33"/><path d="M736 389l-1 -36"/><path d="M586 412l33 -15"/><path d="M641 412l29 -26"/><path d="M627 435l30 -22"/><path d="M668 459l19 -30"/></g></g>
</g>
<rect x="0" y="0" width="82" height="70.5" fill="#c3c3c3"/>
<path d="M7.5 46.3H74" stroke="#5a5a5a" stroke-width="2.6" fill="none"/>
<path d="M60.5 39.8L76.5 46.3L60.5 52.8L66 46.3Z" stroke="#5a5a5a" stroke-width="2" fill="#c3c3c3" stroke-linejoin="miter"/>
<text x="9.5" y="24.6" font-size="24.6" fill="#333" stroke="#333" stroke-width="0.8">30 m/s</text>
<rect x="649.5" y="0" width="381.2" height="51.5" fill="#fff"/>
<text x="660.5" y="37.8" font-size="32.9" fill="#111">2012-08-15_18:00:00 UTC</text>
</g>
<path d="M0.8 0V550H1033.3V0" stroke="#3a1414" stroke-width="1.7" fill="none"/>
<path d="M0 1.5H1034.2" stroke="#a8484f" stroke-width="3" fill="none"/>
<path d="M1.5 0V72" stroke="#a8484f" stroke-width="3" fill="none"/>
<text x="57.9" y="621.9" font-size="38.8" text-anchor="middle">105°E</text>
<text x="244.5" y="621.9" font-size="38.8" text-anchor="middle">110°E</text>
<text x="431.1" y="621.9" font-size="38.8" text-anchor="middle">115°E</text>
<text x="617.8" y="621.9" font-size="38.8" text-anchor="middle">120°E</text>
<text x="804.4" y="621.9" font-size="38.8" text-anchor="middle">125°E</text>
<text x="991" y="621.9" font-size="38.8" text-anchor="middle">130°E</text>
<text x="-43.6" y="562.8" font-size="38.6" text-anchor="end">12°N</text>
<text x="-43.6" y="486.3" font-size="38.6" text-anchor="end">14°N</text>
<text x="-43.6" y="409.1" font-size="38.6" text-anchor="end">16°N</text>
<text x="-43.6" y="331.2" font-size="38.6" text-anchor="end">18°N</text>
<text x="-43.6" y="252.3" font-size="38.6" text-anchor="end">20°N</text>
<text x="-43.6" y="172.5" font-size="38.6" text-anchor="end">22°N</text>
<text x="-43.6" y="91.5" font-size="38.6" text-anchor="end">24°N</text>
<path d="M57.3 550.4v18.5M243.9 550.4v18.5M430.5 550.4v18.5M617.2 550.4v18.5M803.8 550.4v18.5M990.4 550.4v18.5M1 549.5h-18.6M1 473h-18.6M1 395.8h-18.6M1 317.9h-18.6M1 239h-18.6M1 159.2h-18.6M1 78.2h-18.6" stroke="#7d7d7d" stroke-width="2.5" fill="none"/>
</g>
<g transform="translate(1374.4,696)">
<clipPath id="cp3"><rect x="0" y="0" width="1034.4" height="551.2"/></clipPath>
<g clip-path="url(#cp3)"><g filter="url(#bl)">
<rect x="-2" y="-2" width="1038.4" height="555.2" fill="#ff5a2d"/><path d="M-26 72l3 0 4 0 3-1 3 0 4-1 3 0 4 0 3 1 3 0 3 1 4 1 3 1 3 1 3 1 3 1 3 1 3 1 3 2 3 1 3 2 3 2 2 2 2 3 2 3 2 3 1 3 2 3 1 3 2 3 1 3 2 3 1 4 1 3 1 3 1 3 1 3 1 4 1 3 0 3 1 3 0 4 0 3 1 3 0 3 1 4 0 3 0 3 0 3 0 4 -1 3 0 3 -1 3 0 4 0 3 1 3 0 4 0 3 -1 3 0 3 -1 3 -1 4 -1 3 0 3 -1 3 1 3 1 4 1 3 0 4 1 3 0 3 0 4 0 3 -1 3 -1 3 -2 3 -1 3 -1 4 -1 3 0 3 -1 3 -1 4 0 3 -1 4 -1 3 -1 4 0 3 0 4 0 3 0 4 0 3 0 4 1 3 1 4 0 3 1 3 1 4 1 3 1 3 1 3 1 3 1 4 1 3 2 2 1 3 3 3 2 2 3 2 2 2 3 1 3 2 2 2 3 2 3 1 3 2 3 1 3 2 3 1 3 1 3 1 4 1 3 1 3 1 3 1 4 2 3 1 3 2 2 2 3 2 3 2 3 1 3 2 3 1 3 1 3 2 3 1 2 2 3 2 2 2 2 3 2 2 3 3 2 2 2 2 2 3 3 2 2 2 3 2 2 3 2 3 2 2 1 3 2 4 1 3 1 3 1 3 1 3 2 3 1 3 1 3 1 3 2 3 1 3 1 3 2 3 1 3 1 3 1 3 1 3 1 4 1 3 1 3 1 3 2 3 1 3 1 3 1 4 1 3 0 4 1 3 0 3 1 4 1 3 2 3 1 3 1 4 0 3 1 3 0 4 -1 3 0 3 0 3 0 3 0 3 1 3 1 3 0 3 1 3 0 3 -1 3 -1 3 -2 2 -2 2 -2 2 -2 2 -3 2 -2 1 -2 2 -3 1 -2 2 -3 1 -2 1 -3 1 -3 1 -3 1 -2 1 -3 1 -3 1 -3 1 -3 1 -3 1 -3 1 -3 0 -3 1 -4 1 -3 0 -4 1 -3 0 -4 0 -3 0 -4 0 -4 0 -4 0 -3 0 -4 1 -4 0 -4 0 -4 0 -4 1 -4-1 -5 0 -4 0 -4-1 -4-1 -4 0 -5-1 -4-1 -4 0 -5-1 -4-1 -4 0 -5-1 -4-2 -4-1 -4-2 -4-2 -4-2 -4-2 -4-2 -4-2 -5-2 -4-2 -4-1 -4-2 -4-2 -4-2 -4-3 -4-2 -3-3 -4-2 -4-3 -4-2 -3-2 -4-3 -4-2 -4-2 -4-2 -4-2 -4-3 -3-3 -3-3 -3-3 -3-3 -3-4 -3-3 -3-3 -2-3 -3-4 -3-3 -3-3 -3-4 -2-3 -3-3 -3-4 -2-3 -3-4 -2-3 -2-4 -3-4 -2-4 -2-3 -3-4 -2-3 -2-4 -2-4 -2-4 -2-4 -2-4 -1-4 -2-4 -2-4 -2-3 -2-4 -2-4 -2-4 -1-4 -2-4 -1-4 -1-5 -1-4 -1-4 -1-4 -3-4 -2-4 -2-3 -3-4 -2-4 -2-4 -1-5 -1-4 0-4 0-5 0-4 0-4 0-5 0-4 0-4 -1-5 0-4 0-4 1-5 0-4 0-4 1-4 0-4 0-5 0-4 -1-4 0-4 0-4 0-4 0-4 0-5 1-4 0-4 0-4 1-4 0-4 1-4 1-4 0-4 1-4 0-3 0-4 1-4 0-4 0-4 1-4 1-4 0-4 1-3 1-4 1-4 1-4 1-3 1-4 1-3 1-4 1-4 1-3 1-4 2-3 2-3 2-3 2-3 2-3 2-3 2-3 2-3 2-3 2-3 1-3 2-3 2-2 2-3 3-2 2-3 3-2 2-2 2-3 2-2 2-3 2-3 2-2 2-3 2-2 3-3 2-2 3-2 3-1 3-2 3-1 2-1 3-2 3-1 3-1 3-2 3-1 3-1 3-1 3-1 3-1 3-1 3-1 4-1 3 0zM660 -26l0 3 1 3 0 3 1 3 -1 3 0 3 -1 4 -1 3 0 3 0 3 1 3 0 4 1 3 0 3 -1 4 -1 3 0 4 0 3 0 3 1 4 1 3 1 3 1 4 1 3 0 3 0 3 0 4 -1 3 0 3 1 4 0 3 0 3 1 3 1 4 0 3 0 3 0 3 0 3 0 3 -1 4 0 3 -1 3 0 3 0 4 0 3 1 3 0 3 0 3 0 4 0 3 0 4 0 3 1 3 1 3 2 3 1 3 2 3 1 3 1 4 0 3 1 3 2 3 1 3 2 3 2 2 3 3 2 2 2 3 2 2 2 2 3 3 2 2 2 3 3 2 2 2 2 3 2 2 2 3 2 3 2 2 1 3 1 3 1 3 1 3 1 3 1 4 1 3 1 3 0 3 1 3 1 3 0 3 1 3 0 4 1 3 1 3 1 3 1 4 0 3 0 3 0 4 -1 3 0 4 0 3 0 3 0 4 0 3 0 3 -1 4 -1 3 -2 3 -1 3 -1 3 -1 4 -1 3 0 3 -1 3 0 3 -1 3 0 3 -1 3 0 4 -1 3 0 3 -1 3 -1 3 -1 3 0 3 -1 3 0 4 -1 3 -1 3 -2 3 -2 3 -3 2 -2 2 -3 3 -2 2 -1 3 -2 3 -2 2 -3 3 -2 2 -3 1 -3 2 -3 2 -2 2 -3 2 -1 3 -2 3 -2 2 -2 3 -3 2 -3 2 -3 1 -3 1 -3 2 -2 2 -3 1 -3 2 -2 2 -3 2 -3 2 -3 1 -3 2 -3 1 -3 1 -3 1 -3 1 -3 1 -3 1 -3 1 -3 2 -3 1 -3 2 -3 1 -3 1 -3 1 -3 1 -3 2 -3 1 -2 2 -3 3 -2 2 -3 2 -2 2 -3 1 -3 2 -3 1 -3 1 -3 2 -3 2 -2 2 -3 2 -2 2 -3 2 -3 2 -2 1 -3 2 -3 2 -3 2 -3 1 -2 1 -4 2 -3 1 -3 1 -3 1 -3 1 -3 1 -4 0 -3 1 -4 0 -3 0 -3 0 -4 1 -3 0 -3 1 -3 1 -3 1 -3 1 -3 2 -2 1 -3 2 -2 3 -2 2 -2 3 -1 2 -2 3 -2 2 -2 3 -2 3 -1 3 -2 3 -1 3 -1 3 -1 3 -2 3 -2 3 -2 3 -1 2 -2 3 -1 3 -1 3 -1 3 -1 3 0 3 0 3 0 3 0 3 0 3 0 3 1 2 0 3 1 3 1 2 1 3 1 2 1 2 2 2 1 3 1 2 1 2 0 3 0 2 1 2 0 3 2 2 1 2 2 2 1 2 1 2 1 2 1 3 1 2 1 3 2 1 2 2 3 1 2 1 3 1 2 1 2 2 2 2 1 2 3 2 2 1 2 1 3 1 2 1 3 1 3 1 3 1 2 1 3 1 2 2 3 1 2 2 3 2 3 2 3 1 2 1 4 1 3 1 3 1 3 1 3 2 3 1 3 2 3 1 4 0 3 1 4 0 4 0 3 0 4 1 3 1 4 1 3 1 4 0 4 1 4 0 3 0 4 0 4-1 4 0 4 0 4 0 4 0 4 0 4 0 4-1 4 0 4 0 4 0 4 0 5 0 4-1 4 0 4 1 5 0 4 0 4 0 4 0 5 0 4 0 5-1 4 0 4 0 5-1 4 0 5-1 4-1 4-1 5-1 4-2 5-1 4 0 5-1 4 0 5-1 4 0 5-1 4-1 5-1 5-1 4 0 5 0 5 0 5 0 5 0 4-1 5-1 5-1 4-1 5-1 4-2 5-1 5-1 4-2 5-1 4-2 5-2 4-1 5-2 4-3 4-2 5-2 4-3 4-2 5-1 4-1 5-1 5-1 5-1 4-2 4-2 5-2 4-2 5-2 4-1 5-1 5-1 4-1 5-2 4-2 4-3 4-3 4-3 4-2 4-2 4-2 4-2 5-2 4-2 4-2 4-3 4-2 3-3 4-3 4-2 4-3 3-3 4-2 4-2 5-2 4-2 4-1 4-3 4-2 3-2 4-3 3-3 4-2 4-2 4-2 4-2 4-3 3-2 3-3 3-4 3-3 3-3 3-3 4-2 3-3 3-2 4-3 3-3 3-3 2-3 3-4 2-3 3-3 2-4 3-3 2-3 3-4 2-3 3-3 2-3 2-4 3-3 2-3 2-3 2-4 3-3 2-3 3-3 3-3 2-3 3-3 2-3 2-4 2-3 2-3 2-4 2-3 2-3 1-4 2-3 1-4 1-4 1-4 2-3 1-4 2-3 2-3 1-4 2-3 1-4 2-3 1-4 1-3 2-4 2-3 2-3 3-3 2-3 1-4 2-3 1-4 1-4 1-3 1-4 0-3 1-4 1-4 0-3 1-4 0-4 0-4 1-3 0-4 -1-4 0-3 -1-4 0-4 0-3 1-4 1-4 1-3 1-4 0-3 0-4 0-4 0-3 0-4 0-3 1-4 1-4 1-3 0-4 0-4 -1-3 -1-4 -2-3 -1-4 0-3 -1-4 0-3 0-4 0-4 -1-3 0-4 -1-3 -1-4 -2-3 -1-3 -1-4 -1-3 -1-4 0-3 -1-4 0-3 0-4 -1-4 -1-3 -1-4 -1-3 -1-3 -1-4 -1-4 0-3 -1-4 -1-3 -1-4 -2-3 -2-3 -2-3 -2-3 -2-4 -1-3 -1-4 -1-3 -2-4 -1-3 -2-3 -2-3 -3-3 -2-3 -2-3 -3-3 -2-3 -2-3 -3-3 -2-2 -2-3 -3-3 -2-3 -3-3 -2-3 -3-3 -2-2 -3-3 -2-3 -2-3 -2-3 -2-4 -3-3 -2-3 -3-3 -3-2 -2-3 -3-3 -3-2 -3-3 -3-3 -3-2 -3-2 -4-2 -3-2 -4-2 -3-3 -3-2 -3-3 -3-2 -3-3 -4-2 -3-2 -4-3 -3-2 -3-3 -3-2 -3-3 -3-4 -3-3 -4-2 -3-3 -4-2 -4-2 -3-2 -4-2 -4-2 -4-2 -4-1 -4-2 -4-2 -4-1 -4-2 -5-1 -4-1 -4-1 -5-1 -4-1 -4-1 -4-1 -4-1 -4-2 -4-3 -4-2 -4-1 -4-2 -4-1 -5-1 -4-1 -4-1 -4-2 -4-2 -4-2 -4-2 -4-1 -4-1 -5 0 -4 0 -4 0 -5 0 -4-1 -4-1 -4-1 -4-1 -4-1 -4 0 -4-1 -4 0 -5 0 -4 0 -4 0 -4 0 -4 0 -4-1 -4 0 -3-1 -4-1 -4-1 -4-1 -4 0 -4 0 -3 0 -4 0 -4 0 -4-1 -3 0 -4-1 -4 0 -3 1 -4 0 -3 1 -4 1 -3 1 -4 1 -3 0 -3 0 -4 0 -3 0 -3 1 -3 1 -3 1 -3 2 -3 1 -3 1 -3 2 -3 1 -2 2 -3 1 -3 1 -2 2 -2 1 -3 2 -2 1 -3 2 -2 2 -2 1 -2 2 -2 1 -3 1 -2 2 -3 1 -2 2 -2 1 -1 2 -2 2 -2 2 -1 3 -2 2 -1 2 -1 2 -1 3 -1 2 -1 3 0 3 -1 2 0 3 -1 2 -1 3 -1 2 -1 3z" fill="#ff3e32"/><path d="M770 -25l-1 2 -1 3 0 3 -1 2 -1 3 -1 3 -1 3 -1 3 0 3 0 3 0 3 0 3 0 3 0 4 0 3 -1 3 0 4 0 3 1 3 1 4 1 3 1 4 1 3 1 3 0 4 0 4 1 3 1 3 2 4 2 3 1 3 2 4 1 3 1 4 1 3 1 3 1 4 0 3 1 4 0 3 0 4 0 3 0 4 0 3 0 3 0 4 0 3 0 3 0 4 -1 3 0 3 0 4 1 3 1 3 1 3 2 3 0 3 1 3 0 4 0 3 0 3 -1 3 0 4 0 3 0 3 0 3 0 3 0 4 0 3 1 3 0 3 0 3 1 4 -1 3 0 3 0 3 -1 4 1 3 0 3 1 3 1 3 1 4 1 3 0 3 0 3 0 4 0 3 1 3 1 3 0 4 1 3 0 3 0 3 -1 4 0 3 -1 3 0 4 0 3 0 3 0 4 0 3 0 3 0 3 0 4 1 3 0 3 1 4 0 3 0 3 0 3 0 4 0 3 1 3 0 4 0 3 0 3 -1 4 -1 3 -1 3 -1 3 -1 3 0 4 0 3 0 3 1 3 0 4 0 3 0 3 0 4 0 3 -1 3 0 3 -1 3 -1 3 -1 4 -1 3 -1 3 -1 3 0 3 -1 3 0 3 -1 3 -1 3 -1 3 -2 3 -1 3 0 4 0 3 0 3 0 3 -1 4 0 3 -1 3 -1 3 -1 3 0 4 0 3 0 3 0 4 0 3 0 4 0 3 -1 4 -1 3 0 3 -1 4 0 3 -1 4 -1 3 -2 3 -1 3 -2 3 -1 4 -1 3 -1 3 -1 3 -1 4 -1 3 -1 3 -1 3 0 3 0 3 1 3 1 3 1 3 1 3 0 2 0 3 0 3 1 2 0 3 1 2 1 3 1 2 1 2 1 3 1 2 2 2 1 2 2 1 2 2 2 2 2 2 1 2 2 2 3 2 2 1 3 1 3 0 3 1 3 1 2 1 3 1 3 1 3 1 3 0 3 0 3 1 4 0 3 0 3 1 3 1 4 1 3 1 4 1 3 0 4 0 3 1 4 0 4 0 4 0 4 0 4 0 3-1 4-1 4-1 4 0 4-1 4 0 4-1 4-1 5-1 4-1 4 0 4-1 4 0 5 0 4 0 5 0 4-1 4-1 5-2 4-1 4-2 4-2 4-1 4-2 5-1 4-2 4-1 5-1 4-2 4 0 5-1 4-1 5-2 4-1 4-2 4-2 4-2 5-1 4-2 5-1 4-1 4-2 4-3 3-2 4-3 4-3 3-2 4-2 4-2 4-2 4-3 3-3 3-3 3-3 3-3 3-3 3-3 3-3 3-3 3-3 3-3 3-3 3-2 3-3 3-2 4-2 3-3 4-2 3-3 3-3 3-2 3-3 3-2 3-3 3-3 3-3 2-3 2-4 2-3 2-4 1-4 3-3 2-3 3-3 2-3 3-3 2-3 2-3 2-4 3-3 2-3 2-4 2-3 1-3 2-4 2-4 2-3 2-3 2-4 2-3 2-3 1-4 1-4 1-4 1-3 0-4 1-4 2-4 1-3 1-4 1-4 1-3 0-4 1-4 0-4 1-4 2-3 1-4 1-3 2-4 1-4 0-3 1-4 1-4 1-4 1-3 0-4 0-4 0-4 0-4 0-4 -1-4 0-3 1-4 0-4 0-4 -1-3 0-4 0-4 0-4 0-4 1-3 1-4 1-4 0-4 0-4 -1-4 -1-3 -1-4 -1-4 -1-4 -1-3 0-4 -1-4 -1-3 -1-4 0-4 0-4 0-4 0-4 -1-3 0-4 -1-4 -2-3 -1-4 -1-4 0-4 -1-4 0-4 -1-3 -1-4 -2-3 -2-4 -2-3 -2-4 -1-3 -2-4 -1-3 -1-4 -2-3 -3-3 -2-3 -3-3 -3-3 -2-3 -2-4 -2-3 -2-3 -3-3 -2-3 -2-3 -2-3 -2-4 -2-3 -1-4 -2-3 -2-4 -2-3 -2-3 -2-4 -2-3 -2-4 -2-3 -2-3 -3-3 -3-3 -3-2 -4-2 -3-2 -3-3 -3-3 -3-3 -2-3 -3-3 -3-3 -3-2 -3-3 -2-3 -3-3 -3-2 -4-3 -3-2 -3-3 -4-2 -3-2 -3-3 -4-3 -3-2 -3-3 -3-2 -4-2 -4-2 -4-1 -4-2 -4-1 -4-2 -4-2 -4-2 -3-2 -4-1 -5-2 -4-1 -4-1 -4-1 -4-2 -3-2 -4-2 -4-2 -4-2 -4-2 -4-1 -4-1 -4-2 -4-1 -4-2 -4-1 -5-1 -4 0 -4 0 -4-1 -4 0 -5-1 -4-1 -4-1 -4 0 -4-1 -4 0 -4 0 -4-1 -4-1 -3-2 -4-1 -4-1 -4-1 -4 0 -4 0 -4 1 -3 1 -4 0 -4 0 -4 0 -3 1 -4 0 -3 0 -4 0 -3 0 -4 0 -3 0 -4-1 -3 1 -3 0 -4 1 -3 1 -3 0 -3 1 -3 0 -3 0 -4 1 -3 1 -2 1 -3 2 -2 2 -2 1 -3 2 -2 1 -3 1 -2 2 -3 2 -1 2 -2 2 -1 3 -1 2 -1 2 -2 3 -1 2 -1 2 -1 2 -1 2 -1 3 -1 2 -1 2 -2 2z" fill="#ff3232"/><path d="M831 -25l-1 2 -1 3 -1 3 -1 3 0 3 -1 3 0 3 0 3 0 3 0 3 0 4 0 3 1 4 0 3 1 3 0 4 1 3 0 4 0 3 0 4 0 4 0 3 0 4 1 3 1 3 0 4 1 3 1 3 1 4 0 3 1 3 1 3 1 4 0 3 1 3 0 3 0 4 0 3 -1 3 0 3 0 4 1 3 1 3 0 3 1 3 0 4 1 3 0 3 0 3 0 3 1 3 0 4 1 3 0 3 0 3 0 3 0 4 0 3 0 3 0 3 0 4 0 3 1 3 0 3 0 4 0 3 0 3 -1 3 0 4 -1 3 -1 3 0 4 -1 3 1 3 0 3 1 4 1 3 1 3 1 3 0 4 1 3 0 3 0 4 -1 3 0 3 0 3 0 4 0 3 0 3 0 3 0 4 -1 3 0 3 -1 3 0 4 0 3 0 3 0 3 0 4 0 3 0 3 0 3 0 4 0 3 1 3 0 4 0 3 1 3 0 3 0 4 0 3 0 3 1 4 0 3 0 3 -1 4 0 3 -1 3 -2 3 -1 3 -1 3 -1 4 -1 3 -1 3 0 3 0 4 0 3 -1 3 0 3 -1 4 -1 3 -1 3 -1 3 -1 3 -1 3 -1 4 0 3 -1 3 -1 3 -1 3 0 3 -1 4 -1 3 -1 3 0 3 -1 3 -1 3 -2 3 -1 3 -1 3 -1 3 -1 3 -1 3 -1 3 0 4 -1 3 -1 3 0 3 -1 3 0 4 -1 3 0 3 -1 3 -1 4 -1 3 -1 3 -2 3 -1 3 -1 4 0 3 0 4 0 3 -1 4 0 3 0 3 0 4 -1 3 0 3 0 3 0 4 1 3 0 3 1 3 0 3 0 2 0 3 1 3 0 3 1 2 1 3 1 2 1 2 2 2 1 3 1 2 1 2 1 3 2 2 1 3 2 2 2 2 2 2 2 2 3 1 3 1 3 0 3 1 3 0 3 1 3 1 3 1 3 1 3 1 3 0 3 1 3 1 3 0 4 1 3 0 4 1 3 1 4 0 3 1 4 0 4 0 3 0 4-1 4 0 4 0 4-1 4 0 4-1 4-1 4-1 4-1 4-2 4-1 4-1 4-1 4-2 4-1 4-1 4-2 4-1 4-1 4-1 4 0 5-1 4 0 5-1 4-1 4-1 4-2 4-2 4-2 4-1 5-2 4-2 4-1 4-2 4-1 4-2 4-1 4-2 4-2 4-2 4-3 4-2 4-2 3-2 4-2 3-3 4-2 4-3 3-2 4-2 4-2 3-2 4-3 3-2 3-3 3-3 3-3 3-3 3-3 3-3 3-3 2-3 3-3 2-3 3-3 3-3 2-3 3-3 3-3 3-2 3-3 3-3 2-4 2-3 2-4 2-3 2-3 3-4 2-3 2-3 2-3 2-4 2-3 2-4 2-3 2-4 2-3 2-3 2-3 2-4 2-3 2-4 1-3 2-4 2-3 1-4 2-3 2-4 2-3 2-3 2-4 3-3 2-4 1-3 1-4 1-4 1-4 0-4 0-3 1-4 0-4 1-4 1-4 1-4 1-3 1-4 1-4 0-4 1-3 0-4 1-4 1-4 1-4 1-3 0-4 1-4 0-4 1-4 0-4 0-4 0-3 0-4 0-4 0-4 -1-4 0-4 -1-4 -1-3 -1-4 0-4 -1-4 -1-4 -1-3 0-4 -1-4 -1-3 -1-4 0-4 0-4 0-4 1-4 0-4 0-3 -1-4 -1-4 -1-4 -1-3 -1-4 -1-4 -1-3 -1-4 -1-4 0-4 -1-3 -1-4 -1-4 -2-3 -1-4 -1-4 -2-3 -1-4 -2-3 -1-4 -2-3 -2-4 -2-3 -1-4 -2-3 -1-4 -2-4 -1-3 -2-4 -2-3 -2-3 -2-3 -3-3 -2-3 -3-3 -2-3 -3-3 -3-3 -2-3 -3-3 -3-3 -2-3 -2-3 -3-3 -2-4 -2-3 -3-3 -3-2 -3-3 -3-3 -3-2 -3-2 -3-3 -3-3 -3-3 -3-2 -3-3 -3-2 -4-2 -3-3 -3-2 -4-2 -3-3 -3-3 -3-2 -3-3 -4-2 -3-2 -4-2 -3-3 -4-2 -4-2 -3-2 -4-3 -3-2 -4-3 -3-3 -4-2 -3-3 -4-2 -4-1 -5-2 -4-1 -4 0 -5-1 -4-1 -4-1 -4-1 -5-2 -4-1 -4-2 -4-1 -4-1 -4-2 -4-1 -4-1 -4-1 -4-1 -4-1 -4-1 -4-1 -4-1 -4-1 -4 0 -4-1 -4 0 -4 0 -4-1 -4 0 -4 1 -3 0 -4 1 -4 0 -3 1 -4 1 -3 1 -4 0 -3 1 -3 1 -3 1 -3 1 -3 1 -3 0 -3 1 -3 0 -3 0 -3 0 -3 0 -3 1 -2 1 -3 1 -2 2 -2 2 -2 2 -2 1 -2 2 -2 1 -2 2 -2 2 -2 2 -1 2 -2 2 -1 2 -1 3 -1 2z" fill="#de3232"/><path d="M918 -25l-2 2 -2 2 -1 2 -1 3 0 3 -1 3 -1 3 0 3 -1 3 0 4 0 3 0 3 0 4 2 3 1 4 2 3 1 4 1 3 1 4 1 3 1 4 0 4 1 3 1 4 0 4 1 3 1 4 1 3 1 4 0 4 0 4 -1 3 0 4 0 3 1 4 1 3 1 4 1 3 0 3 1 4 0 3 0 3 0 4 0 3 1 3 0 3 1 3 1 4 1 3 1 3 1 3 1 3 1 3 1 3 0 4 1 3 0 3 1 3 0 3 0 4 0 3 0 3 -1 4 0 3 0 3 0 4 0 3 0 3 0 4 0 3 1 3 0 3 1 4 0 3 0 3 0 4 1 3 0 3 1 4 1 3 1 3 1 4 0 3 0 3 -1 4 0 3 0 3 1 4 1 3 1 3 1 3 0 4 1 3 -1 3 0 4 -1 3 -1 3 0 3 -1 4 0 3 0 3 0 3 0 4 0 3 0 3 1 4 0 3 0 3 1 3 0 4 1 3 1 3 2 4 1 3 1 3 1 4 0 3 1 4 0 3 0 4 1 3 1 4 1 3 0 4 1 3 1 3 0 4 0 3 1 3 1 4 1 3 2 2 2 3 3 2 2 2 3 2 3 1 3 2 3 2 4 1 3 0 4 0 4 0 3-1 4 0 4-1 3 0 4 0 3 1 3 0 4 0 3 0 3 0 4 0 3 0 3 0 3 0 4 0 3 0 3 0 4 1 3 0 3-1 3-1 3-1 3-2 3-1 3-1 3-2 3-1 3-1 3-1 3-2 2-1 3-3 2-2 2-2 3-3 2-3 2-2 2-3 2-2 2-3 2-3 2-2 2-3 2-2 3-3 2-3 2-2 3-3 2-2 3-3 2-3 2-3 2-3 2-3 1-4 2-3 1-4 2-3 1-4 2-3 1-4 1-4 1-3 1-4 1-4 0-4 1-4 1-4 1-4 2-4 1-3 1-4 1-4 1-4 0-5 0-4 0-4 0-4 1-4 1-4 1-4 2-4 1-4 1-5 1-4 1-4 0-4 0-5 1-4 0-4 0-5 0-4 0-4 0-5 -1-4 -1-4 -1-4 -1-5 -1-4 -1-4 -1-4 -1-4 -1-5 0-4 -1-4 -1-4 -1-4 -1-5 -1-4 -1-4 -1-4 -1-4 0-4 0-5 -1-4 -1-4 -1-4 -1-4 -2-4 -1-4 -2-4 -1-4 -1-4 -2-4 -1-4 -2-4 -3-3 -2-4 -3-3 -3-3 -3-3 -3-3 -3-3 -2-3 -2-3 -3-4 -2-3 -2-3 -3-3 -3-3 -3-3 -2-3 -3-3 -2-3 -3-3 -2-4 -3-3 -3-3 -3-3 -3-2 -4-2 -3-2 -4-2 -3-2 -4-3 -3-2 -4-2 -4-3 -3-1 -4-2 -5-1 -4-1 -4-1 -4-1 -4 0 -4-1 -4-1 -4 0 -4-1 -4-1 -4 0 -4-1 -4-1 -4 0 -4-1 -4-1 -3-1 -4 0 -4-1 -4 0 -3 0 -4 0 -3 0 -4 1 -3 1 -3 1 -3 1 -3 1 -3 1 -3 1 -3 1 -2 2 -2 2 -2 2 -2 2 -1 2 -2 2 -2 2 -2 2z" fill="#ac3232"/><path d="M672 92l-1 2 0 3 -1 2 1 3 0 3 -1 2 -2 3 -2 2 -1 2 -2 2 -1 2 -3 1 -2-2 -1-2 -1-2 -1-3 0-2 0-3 -1-2 0-3 0-3 0-2 0-3 0-3 0-2 1-3 2-2 1-3 0-2 1-3 1-2 1-3 1-2 1-2 2-2 2 0 3 1 2 1 2 3 0 3 0 2 0 3 0 3 0 2 0 3 -1 2 0 3z" fill="#ff3232"/><path d="M73 283l-2-2 -1-3 0-3 -1-4 0-3 1-4 1-4 1-4 2-3 1-4 2-4 1-4 2-4 1-3 2-4 2-3 2-3 3-3 2-3 2-3 2-3 2-2 3-3 2-3 2-2 3-2 3-2 3-2 2-2 3-3 2-3 2-2 3-3 3-2 3-2 3-2 3-1 4-2 3-1 3-2 4-1 3-2 3-1 4-2 3 0 4-1 4 0 3 0 4 0 3-1 4-1 3-1 4-1 3-1 3-1 4 0 3-1 3-1 4-1 3-2 3-2 3-2 3-3 2-2 3-3 3-2 2-3 3-2 3-2 3-2 3-2 4-2 3-1 3-2 4-1 3-1 3-2 4-1 3-2 3-1 3-2 3-2 3-2 3-2 3-3 3-2 3-2 2-2 4-2 3-2 3-1 3-2 3-2 3-1 3-2 3-3 3-2 3-2 3-2 4-1 3-2 4-1 3-1 4-1 3-1 4-1 4 0 4 0 3 0 4 1 3 2 4 1 3 1 4 1 3 1 4 0 4 0 3 1 4 0 3 1 4 1 3 1 4 0 4 0 4 0 3-1 4-1 3-2 4-1 3-2 3-1 4-2 3-1 3-2 3-1 4-1 3-2 3-1 4-1 3-2 3-1 3-2 4-1 3-1 4-1 4-1 3 0 4 0 3-1 4 0 4-1 3 0 4 0 3 0 4 0 4 1 3 0 4-1 3 0 3-1 4-1 4 0 3-1 4 1 3 0 4 1 3 0 4 1 3 0 4 0 4 0 4 0 4 0 3 1 4 2 3 1 4 2 3 1 4 1 3 2 4 2 3 2 2 2 3 3 2 3 1 3 2 3 1 4 2 3 1 3 1 3 2 4 1 3 1 4 1 4 1 4 0 3 0 4 0 4 -1 4 0 3 -1 4 -1 3 0 4 -1 3 -1 4 0 3 -1 4 0 4 0 3 0 4 1 3 0 4 1 3 1 4 0 4 1 3 0 4 0 3 1 4 0 4 0 3 1 4 1 3 2 4 1 3 1 4 0 3 1 4 0 3 0 4 0 4 1 3 0 4 1 4 0 3 -1 4 0 3 -2 4 -1 3 -1 4 -1 3 0 4 -1 4 0 3 0 4 -1 3 -1 4 -1 3 -2 4 -1 3 -1 3 -1 4 -1 3 0 4 -1 3 0 4 -1 3 0 4 -1 4 -1 3 -1 4 -1 3 -2 3 -1 4 -2 3 -2 3 -1 3 -2 4 -2 3 -1 3 -2 3 -3 3 -2 3 -3 2 -3 3 -2 2 -3 3 -3 2 -3 2 -2 2 -4 2 -3 2 -3 2 -3 1 -3 2 -3 2 -2 2 -3 3 -3 2 -3 2 -3 2 -4 1 -3 1 -4 1 -3 1 -3 1 -4 2 -3 2 -3 1 -4 1 -3 1 -4 1 -4 0 -3 0 -4 0 -4 0 -3 1 -4 0 -3 1 -4 0 -4-1 -3 0 -4-1 -3-1 -4-1 -4-1 -3 0 -4 0 -3-1 -4 0 -4 0 -3-1 -4 0 -3-1 -4-1 -3-2 -3-1 -4-2 -3-2 -3-2 -3-2 -3-2 -3-2 -3-2 -3-2 -3-2 -3-2 -3-2 -3-1 -4-2 -3-1 -3-2 -4-1 -3-2 -3-2 -3-2 -3-2 -3-2 -2-2 -3-2 -3-2 -3-1 -4-2 -3-2 -2-2 -3-3 -2-3 -3-2 -2-3 -3-3 -2-2 -3-3 -2-2 -3-3 -2-2 -2-3 -2-3 -2-3 -3-3 -3-2 -4-1 -3-2 -4-1 -3-1 -4-1 -3-1 -4-1 -3-1 -4-1 -4 1 -4 0 -3 2 -3 1 -4 2 -3 2 -3 1 -4 2 -3 1 -3 1 -4 1 -3 1 -4 1 -4 0 -3-1 -4 0 -4 0 -4-1 -3-1 -4-1 -4-1 -3-2 -3-2 -3-3 -3-2 -3-3 -3-2 -3-2 -3-3 -3-2 -3-2 -3-2 -4-1 -3-1 -4 0 -4 1 -4 1 -3 2 -3 2 -4 1 -3 1 -4 1 -3 1 -4 0 -3 0 -3 0 -4 0 -4 0 -3-1 -4-1 -3-2 -3-2 -3-3 -4-2 -3-2 -4-2 -3-2 -3-1 -4-3 -2-2 -3-3 -1-3z" fill="#ff8228"/><path d="M259 263l1 3 1 2 1 3 0 2 -1 3 -1 2 -2 2 -2 2 -1 2 -2 2 -1 2 -2 2 -2 2 -2 2 -3 0 -2 1 -3 0 -2 2 -2 2 -3 1 -2 0 -3 0 -3 0 -2 0 -3 0 -2-2 -3-1 -2-1 -3-1 -2-1 -1-3 -1-2 -1-3 -1-2 0-2 1-3 1-2 1-2 0-3 1-2 2-3 1-2 3-1 2-2 2-1 2-1 2-2 2-2 2-1 3-1 3 0 2 0 3-1 2-1 3 0 3 0 2 1 3 0 2 1 3 2 2 1 2 2 1 2z" fill="#ff5a2d"/><path d="M640 260l0 4 -1 3 0 4 -1 3 0 4 -1 4 -1 3 -1 4 -1 3 -1 4 -2 3 -2 3 -2 3 -2 3 -1 3 -2 3 -2 3 -2 3 -3 3 -2 3 -3 2 -2 3 -3 2 -2 3 -3 2 -3 3 -3 2 -3 2 -3 2 -3 1 -3 2 -3 2 -3 1 -4 2 -3 2 -3 1 -3 2 -4 1 -3 1 -3 2 -4 1 -3 1 -3 1 -4 2 -3 1 -4 1 -3 1 -4 0 -3 1 -4 1 -4 0 -3 0 -4 0 -4 1 -3 0 -4-1 -3 0 -4-1 -4 0 -3-1 -4-1 -3 0 -4-1 -3-1 -4-1 -3-2 -3-1 -4-2 -3-1 -3-2 -3-1 -4-1 -3-2 -4-1 -3-2 -3-2 -3-2 -2-3 -3-2 -3-2 -3-3 -2-2 -3-3 -2-3 -2-3 -2-3 -2-3 -2-3 -2-3 -3-2 -2-3 -2-3 -3-3 -2-3 -2-3 -1-3 -2-3 -2-3 -2-3 -1-3 -2-4 -1-3 -1-4 -1-3 0-4 -1-3 0-4 0-4 0-3 1-4 0-3 1-4 1-3 1-4 1-3 1-4 2-3 1-3 2-4 2-2 3-3 2-3 2-3 3-3 2-2 2-3 2-3 3-3 2-2 3-3 3-2 2-3 3-2 3-3 2-2 3-3 3-2 3-2 3-1 4-2 3-1 3-2 3-2 4-1 3-2 3-1 4-1 3-1 4-1 3-1 4-1 3-1 4 0 3-1 4 0 3-1 4 0 4 0 3 0 4 1 3 0 4 0 3 1 4 0 4 1 3 0 4 1 3 0 4 1 3 1 4 1 3 1 4 0 3 1 4 1 3 1 4 2 3 1 3 1 4 2 3 1 3 2 3 2 3 2 4 2 3 2 2 2 3 2 3 2 3 3 3 2 2 3 3 2 2 3 3 3 2 3 2 2 2 3 2 3 2 3 3 3 2 3 2 3 1 3 1 4 1 3 1 4 1 3 0 4 1 4 0 3 0 4 0 3z" fill="#ffa523"/><path d="M598 260l0 4 -1 3 0 4 -1 4 -1 3 -1 4 -1 3 -1 4 -1 3 -1 3 -2 4 -1 3 -2 3 -2 3 -2 3 -2 3 -3 3 -2 2 -3 3 -2 2 -3 2 -3 2 -3 2 -3 2 -3 2 -3 1 -3 2 -4 1 -3 1 -4 1 -3 1 -4 1 -3 1 -4 0 -3 1 -4 0 -4-1 -3 0 -4-1 -3 0 -4-1 -3-1 -4-1 -3-1 -4-1 -3-1 -4-2 -3-1 -3-2 -3-2 -3-2 -3-3 -3-2 -2-3 -3-3 -2-3 -2-2 -2-3 -2-3 -2-3 -2-3 -2-4 -1-3 -2-3 -1-3 -1-4 -1-3 -1-4 -1-3 0-4 -1-3 0-4 0-3 -1-4 0-4 1-3 0-4 0-3 1-4 1-3 2-4 1-3 2-3 2-3 2-3 3-3 2-3 2-2 3-3 2-3 2-2 3-3 2-3 3-2 3-2 3-3 3-2 3-1 3-2 4-1 3-1 4-1 3-1 4 0 4-1 3 0 4 0 3 0 4 0 4 0 3 1 4 1 3 0 4 1 3 2 4 1 3 1 3 1 4 1 3 2 3 1 4 2 3 1 3 2 3 2 3 2 3 2 3 2 3 3 2 3 2 2 2 4 2 3 2 3 1 3 1 4 1 3 1 4 1 3 0 4 1 4 0 3 0 4 -1 3z" fill="#ffc814"/><path d="M576 260l0 4 0 3 0 4 -1 3 -1 4 -1 3 -1 3 -2 3 -2 4 -2 3 -2 2 -2 3 -3 2 -3 3 -3 2 -3 2 -3 2 -3 1 -4 2 -3 1 -3 1 -4 1 -4 1 -3 0 -4 0 -4 1 -3 0 -4 0 -4-1 -3 0 -4-2 -3-1 -4-1 -3-2 -3-1 -4-2 -3-2 -3-2 -2-2 -3-3 -3-2 -2-3 -2-3 -2-3 -2-3 -2-3 -1-3 -1-4 -1-3 0-4 0-3 0-4 0-3 0-4 1-3 1-4 1-3 1-3 2-4 1-3 2-3 2-3 2-3 3-3 2-2 3-3 3-2 2-3 3-2 3-2 4-1 3-2 4-1 3-1 4-1 3 0 4-1 4 0 3 0 4 1 3 0 4 1 4 1 3 1 3 1 4 2 3 2 3 1 3 3 3 2 3 2 2 3 3 3 2 3 2 3 1 3 2 3 2 3 1 4 1 3 1 4 1 3 0 4z" fill="#fff200"/><path d="M561 260l0 4 -1 4 0 3 -2 4 -1 3 -1 4 -2 3 -2 3 -2 3 -3 2 -3 2 -3 2 -2 3 -3 2 -4 1 -3 1 -3 1 -4 1 -4 1 -3 0 -4-1 -3 0 -4-1 -3-1 -4-1 -3-1 -4-2 -3-2 -3-2 -3-3 -2-3 -2-3 -2-3 -2-3 -1-4 -2-3 -1-3 -1-4 0-4 0-3 1-4 0-3 1-4 0-3 1-4 1-3 2-3 3-3 2-3 3-2 3-3 2-2 3-2 3-2 4-2 3-2 4 0 3-1 4 0 3 0 4 0 4 0 3 0 4 1 3 2 3 2 3 2 3 2 3 2 3 2 3 2 3 3 1 3 2 4 1 3 1 4 1 3 1 4 1 3z" fill="#dcff2d"/><path d="M555 260l0 3 0 2 0 3 -1 2 0 3 0 2 -1 3 -2 2 -2 2 -2 2 -2 1 -2 2 -2 2 -1 2 -2 2 -2 2 -2 1 -2 2 -3 1 -2 0 -3 1 -2 1 -3 0 -2 0 -3 0 -3-1 -2-1 -3 0 -2 0 -3-1 -2 0 -3-1 -2-1 -2-2 -2-1 -2-2 -2-2 -2-1 -2-2 -1-2 -1-3 -1-2 -1-2 -1-3 -1-2 -1-3 0-2 -1-3 0-2 -1-3 0-3 1-2 0-3 1-2 1-3 1-2 1-3 2-2 1-2 2-2 2-2 1-2 2-2 1-2 2-1 3-2 2-1 3 0 2-1 3 0 2-1 2-1 3-1 2 0 3 0 3 0 2 1 3 0 2 1 3 1 2 1 2 1 2 2 2 1 3 2 2 1 2 2 1 2 2 2 2 2 2 2 1 2 1 3 0 2 0 3 0 3 1 2 0 3z" fill="#a0ff5a"/><path d="M551 260l0 3 -1 2 0 3 -1 2 -1 3 -1 2 -2 2 -1 3 -1 2 -2 2 -2 2 -2 1 -2 2 -2 1 -3 1 -2 2 -2 1 -2 1 -3 0 -2 0 -3 0 -3 0 -2 0 -3 0 -3 0 -2 0 -3-1 -2-2 -2-1 -3-2 -2-1 -2-2 -2-2 -1-2 -1-3 -1-2 -1-2 -1-3 -1-2 -1-2 -1-3 0-2 0-3 0-2 0-3 1-3 0-2 1-3 1-2 2-2 1-2 1-2 2-3 1-2 2-2 2-1 3-1 2-1 3-2 2-1 2-1 3 0 3-1 2 1 3 0 2 0 3 1 3 0 2 0 3 1 2 1 2 2 2 2 2 1 2 2 2 1 3 2 1 2 1 2 0 3 1 3 0 2 1 3 1 2 1 2z" fill="#64ff82"/><path d="M546 260l0 3 -1 2 0 3 -1 2 -1 3 -1 2 -1 3 -2 2 -1 2 -3 2 -2 1 -2 1 -2 2 -3 1 -2 1 -2 1 -3 1 -3 0 -2 0 -3 0 -2-1 -2 0 -3-1 -2-1 -2-1 -3-1 -2-2 -2-1 -1-2 -2-2 -2-2 -1-3 -1-2 -1-2 -1-3 -1-2 0-3 0-3 1-2 0-3 0-3 1-2 1-3 1-2 1-2 2-3 2-2 1-1 3-2 2-1 2-2 2-1 3-1 2-1 3 0 3 0 2-1 3 1 2 0 3 0 2 1 2 1 2 2 2 1 3 1 2 1 2 2 1 3 1 2 1 2 2 3 1 2 1 2 1 3 0 2z" fill="#00ffa0"/><path d="M543 260l0 3 0 2 -1 3 -1 2 -2 2 -1 3 -1 2 -1 3 -2 1 -2 1 -3 1 -2 1 -2 2 -2 1 -3 2 -2 0 -3 0 -3-1 -2-1 -3 0 -2-1 -2 0 -3-1 -2-2 -2-2 -2-1 -1-2 -2-2 -1-2 -1-3 -1-2 -1-2 -1-3 0-3 0-2 0-3 0-3 1-2 1-3 1-2 2-2 1-2 2-2 2-2 2-1 3-1 2-1 2-1 3-1 2 0 2 0 3 0 2 0 3 0 3 0 2 0 3 2 2 1 2 1 2 2 1 2 2 2 1 2 2 3 1 2 1 2 1 3 0 2z" fill="#00ffd2"/><path d="M540 260l0 3 -1 2 -1 3 -1 2 -1 2 -1 2 -2 2 -1 2 -2 2 -2 1 -3 1 -2 2 -2 1 -3 0 -2 0 -3 0 -3 0 -2 0 -3-1 -2-1 -2-2 -2-2 -2-1 -2-2 -2-2 -1-2 -1-3 -1-2 -1-3 0-2 0-3 0-3 1-2 1-3 1-2 2-2 1-3 1-2 2-1 2-1 3-1 2-1 2-2 2 0 3-1 2 0 3 0 3 0 2 1 3 1 2 1 2 1 3 2 1 2 2 2 2 2 1 2 1 3 0 3 0 3z" fill="#00ffff"/><path d="M537 260l0 3 0 2 -1 3 -1 2 -2 3 -1 2 -2 1 -2 2 -2 1 -2 2 -2 1 -3 1 -2 0 -3 0 -3-1 -2-1 -2 0 -3-1 -3 0 -2-2 -1-2 -2-2 -1-3 -1-2 -1-2 -1-3 0-3 -1-2 1-3 0-3 2-2 1-2 2-3 1-2 2-1 2-2 2-1 2-1 3-1 2-1 2 0 3 1 2 0 3 1 2 0 3 1 2 2 2 1 2 2 1 3 1 2 1 2 1 3 1 2z" fill="#00dcff"/><path d="M535 260l0 3 0 2 -2 3 -1 2 -1 2 -2 3 -2 1 -2 1 -2 2 -3 1 -2 0 -3 0 -3 0 -2 0 -3-1 -2-1 -2-1 -2-2 -2-2 -2-2 -1-2 -1-2 0-3 -1-3 0-2 0-3 1-2 1-3 1-2 2-2 2-2 2-2 2-1 2-1 3-1 2 0 3-1 3 1 2 1 3 1 2 1 2 1 2 2 2 2 1 2 1 2 1 3 0 3z" fill="#00b9ff"/><path d="M533 260l-1 3 0 2 -1 3 -2 2 -1 2 -2 2 -2 1 -2 2 -3 1 -2 0 -3 0 -2 0 -3-1 -2 0 -3-2 -1-1 -2-2 -2-2 -1-2 -1-3 0-2 0-3 0-3 0-2 1-3 1-2 2-2 2-1 2-2 2-2 3 0 2-1 3 0 2 0 3 1 2 0 3 2 1 2 2 1 2 2 1 3 1 2 0 3z" fill="#008cff"/><path d="M530 260l0 3 -1 2 -1 3 -1 2 -2 2 -2 1 -2 1 -2 1 -3 1 -3 0 -2-1 -3 0 -2-2 -2-2 -2-1 -2-2 0-3 -1-2 0-3 0-2 0-3 1-2 2-3 2-1 2-2 2-1 3-1 2-1 3 0 2 1 3 1 2 1 2 1 2 2 1 2 1 3 1 2z" fill="#0a5aff"/><path d="M528 260l0 3 -1 2 -2 3 -1 2 -2 1 -3 1 -2 1 -3 0 -2 0 -3-1 -2-1 -2-1 -2-2 -1-3 -1-2 0-3 0-3 1-2 1-2 2-2 2-2 2-1 3-1 2 0 3 0 2 1 3 1 2 1 2 2 1 3 1 2z" fill="#284bff"/><path d="M524 260l0 3 -1 2 -2 2 -2 2 -3 0 -2 1 -3-1 -2-1 -2-2 -1-2 -2-3 1-2 1-3 1-2 2-2 2-1 3-1 2 1 3 0 2 2 1 2 2 2z" fill="#3232fa"/>
<path d="M57.3 0V551.2M243.9 0V551.2M430.5 0V551.2M617.2 0V551.2M803.8 0V551.2M990.4 0V551.2M0 473.3H1034.4M0 396.1H1034.4M0 318.2H1034.4M0 239.3H1034.4M0 159.5H1034.4M0 78.5H1034.4" stroke="#fff" stroke-opacity="0.09" stroke-width="2" fill="none"/>
<path d="M215.9 553.5L216.4 544.2L214.5 534.8L216.7 530L218.5 522.7L223.1 514.4L222.1 511.1L218.6 504.7L218.9 500.5L216.7 495.3L216 484.2L213.9 478.8L214.8 474.5L213.8 468.6L211.9 462L210.8 455.8L209.4 451.7L207.9 446.2L206.5 439.6L204.1 434.4L204.6 429.1L201 422.7L194.6 414.4L191.4 412.6L187.6 406.2L183.6 401.7L179.8 396.6L174.6 392.7L171.5 387.9L167.6 383.7L162.2 379.8L156.3 375.6L152.5 373L147.6 367.9L143.3 361.6L138.3 356.3L130.1 351.6L126.7 346.4L122.9 345.1L118.4 338.6L115.9 331.8L112.6 325.8L111 316.4L105.1 312.2L98.4 307.6L94.2 303L90.3 299.9L86.9 294.7L85.7 288.2L83 282.3L80.8 275.9L82.9 269.5L85.6 264.2L86.3 258.6L89.9 252.4L90.9 244.4L94.5 240.8L101.1 238.6L105.2 235.7L109.8 233.1L115.8 228.3L115.7 222.5L117.9 213.1L119 205.9L128 204.8L131.3 202.3L136.8 200.4L140.5 196.1L146.9 193.9L152.5 188.4L158.7 184.4L163.7 181.6L169.6 177.9L174.2 175.5L180.6 172.1L187.6 169.1L191.1 168L200.2 169.7L204.5 173.7L208.9 175.7L211 182.5L215.5 181.4L221.1 179.8L227.2 172.8L231.5 175.4L240.5 183.2L241.9 182.7L238.8 187.6L233.6 195.5L234.8 205.3L237.2 213.2L239.3 220.5L244.9 225.5L248.2 231.2L256.7 228.4L264.3 224.8L267.1 216.5L261.8 210L256.8 204.6L258.7 194.9L260.9 186.5L264.7 184.7L269.4 181.7L273.7 184.1L278.3 182.3L283.7 178.8L289.3 180.8L295.5 179.1L298.3 176.8L304.9 176L310.5 173.5L320.5 172.2L330.3 171.6L333.7 168.5L340.2 169.9L347.9 166L354.6 161.7L359 154.4L363.2 156.1L367.1 154.6L371.6 151.3L377.6 150.4L382.9 148.4L387.1 143.6L391.9 150.5L396.5 157.1L400.5 148.3L401.2 140.5L407 137.3L413.4 133.8L416.9 132.9L421.5 134.8L427 134.7L434.3 127.4L440.3 126.3L445.2 130.1L450.7 131L456.5 129.6L460.9 129.2L466.3 125.4L473.3 123.3L477.7 123.9L483.4 121.7L489.3 114.5L491.2 109.6L492.1 104.8L500.8 103L507.3 99.6L514.7 93.4L519 88.5L521.7 84.7L532.3 82.6L535.6 76.2L540 70L544.2 68.2L539.9 65.2L535.4 61.4L540.6 60.3L546.9 57L552.7 57.8L556.3 56.6L561.8 54.5L568 48.7L576.2 41.2L580.9 33.1L589.2 27.2L597.7 23.3L602.3 16.6L608.4 9.2L601.3 4.5L606.1 -3.2M648.3 47.9L644.2 52.9L639.4 56.9L637.6 63.1L636.8 68.2L633.1 72.9L630.9 76.2L628.7 82.9L627 87.5L624.8 91.5L622.4 97L620.4 103L619 109.3L618.7 116.8L620.5 122.2L622.1 126.6L628.6 133.2L631.4 138.2L636.7 141.5L639.3 147.6L641.5 151.8L642.3 156.6L642.5 161L649.1 164L650.6 155.9L650.9 150L652.8 144.4L655 139.3L658.4 133.7L660.8 129.2L664.2 125.5L666.8 118.7L669.9 112.6L670.9 106.8L673.5 101.7L676.1 93.7L677.5 86.8L678.6 80.3L679.2 72.7L679.4 67.6L682.1 62.7L683.6 54.8L684.6 48.8L684.5 44.7L682.9 37.5L679.5 32L675.1 28L670.1 23.6L663.2 26.8L658.4 30.3L654.8 35.3L650.9 37.9L649.3 43.0ZM211 250.3L217.2 247L220.9 245.7L225.6 242.7L230.6 240.9L236.5 241.8L241.5 241.8L249.9 238.8L256.2 237.8L261.7 237.1L268.7 235.3L273 240.6L280.8 244.2L281 252.7L276.3 258.2L269.4 263.2L266.5 269.1L261.2 278.8L259.6 285L257.5 288.9L253.1 296.1L243.3 301.5L239.2 305.1L234.2 306.3L228.1 310.8L219.3 308L216.6 305.8L211.8 304.1L207.1 303.2L201.8 301.3L192.9 297.4L193.7 289.7L192.5 283.9L191.9 279.6L193.4 270.7L197.6 262.7L202.4 257.5L207.1 254.2ZM637.7 301.3L641.1 297L643.8 293L652.1 294.6L659.8 297L668.3 303.1L673.5 304.3L678.2 306L687 306L695.2 302.2L699.1 298.3L700.8 303.3L700.6 314L700.6 317.8L698.8 323.7L699.7 328.8L699.1 332.4L701.5 339.3L702.7 342L709.9 347.8L709.2 357.7L707.1 362.9L705.5 368.1L703.9 372.5L701.3 377.1L695.5 385.2L690.3 393L681.9 395.6L675.4 401.4L674 406L674.4 411.1L673.8 416L670.1 421.7L667.3 427.7L672.9 433.4L678 439.4L679.7 445.6L680.9 450.7L679.5 460.5L683.2 468L692.3 474.5L698.8 476.6L701.8 470.7L706.7 463L714.9 461.5L723.7 462.6L729.1 468.2L731.1 476.4L733.6 481.7L740.5 486.1L744.1 481.9L749.2 477.7L757 476.3L765.5 480.3L770.3 488.2L774.3 492.1L781.5 483.7L780.9 476.5L775.2 469.7L772.2 472.6L770.7 477.3L769.6 480.9L762.2 476.1L755.1 471.9L747.2 473.5L740.3 481.5L736.6 477.4L734.1 469.1L730.8 461.3L723.3 456.9L712.8 457.3L704.8 462.2L701.3 468.9L695.6 470.6L687.7 465.9L683.8 457.4L683.9 448.5L681.5 439.1L679.5 436.3L675.5 432.2L671.9 426.9L667.8 430.4L663.1 436.4L660.2 441.5L654.6 449.7L646.5 447.7L638.5 444.4L634.3 451.9L628 446.7L622.4 441L618.8 433.9L617.2 424.4L613.6 417.5L612.3 412.6L610.7 408.4L609.2 400.9L608.5 391.5L610.9 386.9L610.9 381.8L612.9 385.2L618.7 392.4L626.5 393.6L634.6 388.6L632.5 382.9L627.9 372.5L628 367.8L629.2 362.7L628.7 357.7L629 351.8L631.5 348.8L632.5 342.8L630.9 332.6L630.9 328.1L632.1 321.6L635.3 318L633.9 312.3L636.2 307.2ZM634.7 495.8L639.9 495.1L646.2 494L649.5 491.8L653.7 492.3L659.4 497L663.4 501.9L667.9 506.2L670.9 512L673.8 515.2L673 520.9L671.4 526.9L669.5 531.5L666.8 535.6L662.3 541.3L654.4 539.1L652 533.6L648.5 527.3L646.5 522.2L644.7 516.5L641.5 511.4L638.4 507.9L636.7 501.7ZM684.8 493.9L691.5 489.5L694.7 494.8L695 502.2L688.9 504.6L683.8 499.8ZM709.4 478.1L714.4 475.4L716 481.7L715.3 485.2L714 489.7L715.5 495.5L715.7 500L713.7 505.3L708.6 498.5L710.4 488.0ZM727.1 507.6L735.2 506.1L742.9 512.6L751.1 518.4L758.5 513.6L765.9 505.9L773.8 511.3L769 520.1L761.3 523.4L753.2 525.8L747.1 522.6L743.1 521.3L738.2 519.1L732.3 518.8L730 512.5ZM734.9 491.9L742.3 489.5L746.7 497.5L743.6 505.3L737.7 501.2L735.9 496.8ZM758.5 495.8L764.3 494.8L768.4 493.9L773 499.7L769.4 505.5L762.4 503.7ZM778.1 527.3L782.9 526.1L787.9 525.6L793 527.3L797.1 527.9L802.5 526.6L807.5 525.1L811.9 529L815.1 532.8L821.3 540.1L822.7 545.9L823.3 551.4L817.5 552.5L811.7 553.9L804 551L798.7 550.1L788.8 547.8L785.1 544L782.2 539.3L780.1 533.2ZM611.1 539L619.1 538L626.5 542.9L628.1 551.2L620.4 552.5L613.1 546.9ZM691.7 525.3L699.7 524.4L698.9 527.6L698.2 532L695.6 538.3L693.7 543.2L689.1 546.2L687.7 541.1L690 536.2L690.7 530.2ZM703.5 529.2L711.4 529.9L717.1 537L713.6 540.6L705.4 537.1ZM738.8 527.3L746.8 529.4L749.3 534.4L752.2 539.2L757.1 546.6L750.8 551.7L745.8 546.7L742.8 543.6L736.9 535.1ZM760.5 537.1L768.8 538.9L772.5 548.3L767.7 552.5L763 549.5L761.4 543.0ZM620 478.1L625.8 479.2L630.4 484.8L625.3 487L621 483.1ZM640.6 478.1L648.4 481L655 486.1L648.2 488.6L642.6 484.0Z" fill="none" stroke="#fff" stroke-width="1.8" stroke-linejoin="round"/><path d="M599.2 97.0h0.1M601.2 104.9h0.1M598.2 110.8h0.1M671.9 134.4h0.1M675.8 157.9h0.1M687.6 207.1h0.1M689.6 224.7h0.1M669.9 264.0h0.1M668.0 283.7h0.1M728.9 61.7h0.1M758.4 65.6h0.1M768.2 61.7h0.1M778.0 55.8h0.1M663.2 275.8h0.1M666.2 283.6h0.1M687.8 282.7h0.1M727.1 457.5h0.1M122.6 203.1h0.1M130.5 205.1h0.1M136.4 207.1h0.1M148.1 199.2h0.1M161.9 200.2h0.1M211.0 199.2h0.1M159.9 233.6h0.1M340.7 171.7h0.1M346.6 173.7h0.1M374.1 126.5h0.1M380.0 136.3h0.1M383.9 152.0h0.1M389.8 159.9h0.1M93.1 265.7h0.1M93.1 288.3h0.1M145.2 351.1h0.1M163.9 382.6h0.1M177.6 392.4h0.1M189.4 398.3h0.1M211.0 420.9h0.1M220.8 526.0h0.1M218.9 541.7h0.1" fill="none" stroke="#fff" stroke-width="4" stroke-linecap="round"/>
<g stroke="#1a0500" stroke-opacity="0.88" stroke-width="1.65" fill="none"><g marker-end="url(#a0)"><path d="M-1 16l-16 0"/><path d="M27 16l-14 -3"/><path d="M54 16l-18 2"/><path d="M81 16l-15 0"/><path d="M108 16l-13 0"/><path d="M136 16l-12 5"/><path d="M163 16l-11 8"/><path d="M190 16l-9 10"/><path d="M218 16l-9 13"/><path d="M245 16l-10 16"/><path d="M272 16l-9 16"/><path d="M300 16l-13 13"/><path d="M382 16l-18 9"/><path d="M-14 39l-15 0"/><path d="M13 39l-13 1"/><path d="M40 39l-14 1"/><path d="M68 39l-16 1"/><path d="M95 39l-14 2"/><path d="M122 39l-13 3"/><path d="M150 39l-10 8"/><path d="M177 39l-9 10"/><path d="M204 39l-15 10"/><path d="M231 39l-11 14"/><path d="M259 39l-12 12"/><path d="M286 39l-12 15"/><path d="M-1 63l-14 1"/><path d="M27 63l-16 -2"/><path d="M54 63l-15 1"/><path d="M81 63l-14 0"/><path d="M108 63l-12 3"/><path d="M136 63l-10 7"/><path d="M163 63l-8 11"/><path d="M190 63l-7 12"/><path d="M218 63l-8 14"/><path d="M245 63l-10 15"/><path d="M272 63l-8 17"/><path d="M300 63l-11 15"/><path d="M-14 86l-12 -3"/><path d="M13 86l-14 -1"/><path d="M40 86l-13 -2"/><path d="M68 86l-13 -1"/><path d="M95 86l-12 2"/><path d="M122 86l-10 8"/><path d="M150 86l-10 8"/><path d="M177 86l-10 11"/><path d="M204 86l-8 13"/><path d="M231 86l-8 15"/><path d="M259 86l-9 14"/><path d="M286 86l-7 14"/><path d="M313 86l-11 14"/><path d="M-1 109l-12 -5"/><path d="M27 109l-12 -3"/><path d="M54 109l-12 -3"/><path d="M81 109l-12 3"/><path d="M108 109l-12 4"/><path d="M136 109l-8 10"/><path d="M163 109l-5 12"/><path d="M190 109l-7 11"/><path d="M218 109l-8 13"/><path d="M245 109l-10 15"/><path d="M272 109l-7 17"/><path d="M300 109l-2 19"/><path d="M-14 132l-7 -11"/><path d="M13 132l-10 -8"/><path d="M40 132l-10 -8"/><path d="M68 132l-12 -4"/><path d="M95 132l-13 -1"/><path d="M122 132l-6 11"/><path d="M150 132l-2 12"/><path d="M177 132l-2 12"/><path d="M204 132l0 13"/><path d="M231 132l-4 14"/><path d="M259 132l-4 15"/><path d="M286 132l-3 15"/><path d="M313 132l-7 19"/><path d="M-1 156l-5 -12"/><path d="M27 156l-4 -12"/><path d="M54 156l-5 -11"/><path d="M81 156l-9 -9"/><path d="M108 156l-6 11"/><path d="M136 156l0 13"/><path d="M163 156l0 14"/><path d="M190 156l3 17"/><path d="M218 156l1 14"/><path d="M245 156l1 14"/><path d="M300 156l-1 19"/><path d="M327 156l3 18"/><path d="M354 156l-1 18"/><path d="M-14 179l-4 -12"/><path d="M13 179l-6 -13"/><path d="M40 179l-4 -14"/><path d="M68 179l-6 -11"/><path d="M95 179l-10 -8"/><path d="M122 179l2 12"/><path d="M150 179l3 17"/><path d="M177 179l7 18"/><path d="M204 179l5 16"/><path d="M231 179l6 16"/><path d="M259 179l3 18"/><path d="M286 179l2 17"/><path d="M-1 202l-4 -12"/><path d="M27 202l-4 -13"/><path d="M54 202l-4 -12"/><path d="M81 202l-5 -12"/><path d="M108 202l2 12"/><path d="M136 202l7 15"/><path d="M190 202l7 18"/><path d="M272 202l7 16"/><path d="M300 202l10 16"/><path d="M-14 226l-3 -12"/><path d="M13 226l-4 -12"/><path d="M40 226l-3 -12"/><path d="M68 226l-3 -12"/><path d="M95 226l8 10"/><path d="M122 226l5 12"/><path d="M150 226l5 15"/><path d="M204 226l5 19"/><path d="M259 226l5 19"/><path d="M-1 249l-5 -12"/><path d="M27 249l-5 -12"/><path d="M54 249l-2 -12"/><path d="M81 249l5 -12"/><path d="M108 249l6 11"/><path d="M136 249l6 17"/><path d="M163 249l9 16"/><path d="M-14 272l1 -13"/><path d="M13 272l1 -13"/><path d="M40 272l2 -13"/><path d="M68 272l10 -7"/><path d="M95 272l10 7"/><path d="M122 272l6 11"/><path d="M150 272l7 16"/><path d="M177 272l11 16"/><path d="M-1 296l9 -9"/><path d="M27 296l10 -8"/><path d="M54 296l12 -4"/><path d="M81 296l12 5"/><path d="M108 296l8 10"/><path d="M136 296l9 11"/><path d="M163 296l9 15"/><path d="M190 296l12 12"/><path d="M218 296l12 15"/><path d="M-14 319l12 -2"/><path d="M13 319l12 -3"/><path d="M40 319l12 -2"/><path d="M68 319l13 2"/><path d="M95 319l12 5"/><path d="M122 319l13 7"/><path d="M150 319l13 9"/><path d="M-1 342l17 0"/><path d="M27 342l17 0"/><path d="M54 342l18 -1"/><path d="M81 342l15 3"/><path d="M108 342l16 2"/><path d="M136 342l14 7"/><path d="M163 342l17 9"/><path d="M190 342l16 10"/><path d="M218 342l13 14"/><path d="M-14 366l18 -1"/><path d="M13 366l19 -1"/><path d="M40 366l20 -2"/><path d="M95 366l18 2"/><path d="M122 366l17 3"/><path d="M150 366l18 1"/><path d="M177 366l17 5"/><path d="M204 366l17 5"/><path d="M81 389l19 4"/><path d="M108 389l19 2"/><path d="M136 389l17 0"/><path d="M163 389l20 -1"/><path d="M190 389l17 -1"/><path d="M40 412l19 -1"/><path d="M177 412l20 -3"/><path d="M95 459l19 -3"/></g><g marker-end="url(#a1)"><path d="M327 16l-13 16"/><path d="M354 16l-17 15"/><path d="M409 16l-19 14"/><path d="M436 16l-21 13"/><path d="M463 16l-22 7"/><path d="M491 16l-21 6"/><path d="M518 16l-24 2"/><path d="M313 39l-11 19"/><path d="M341 39l-16 15"/><path d="M395 39l-20 14"/><path d="M450 39l-23 6"/><path d="M477 39l-20 11"/><path d="M750 39l-18 -18"/><path d="M327 63l-13 17"/><path d="M354 63l-15 19"/><path d="M382 63l-17 14"/><path d="M409 63l-18 17"/><path d="M463 63l-21 12"/><path d="M764 63l-18 -17"/><path d="M341 86l-13 18"/><path d="M368 86l-15 18"/><path d="M327 109l-7 21"/><path d="M354 109l-15 20"/><path d="M382 109l-18 17"/><path d="M341 132l-10 20"/><path d="M395 132l-11 21"/><path d="M272 156l2 20"/><path d="M382 156l-7 22"/><path d="M313 179l2 21"/><path d="M341 179l3 23"/><path d="M368 179l-5 23"/><path d="M163 202l7 20"/><path d="M218 202l7 20"/><path d="M245 202l8 19"/><path d="M327 202l8 20"/><path d="M354 202l5 21"/><path d="M177 226l6 19"/><path d="M231 226l13 16"/><path d="M286 226l9 20"/><path d="M313 226l10 18"/><path d="M341 226l19 16"/><path d="M368 226l12 21"/><path d="M190 249l9 20"/><path d="M218 249l10 19"/><path d="M245 249l13 18"/><path d="M272 249l11 18"/><path d="M300 249l16 17"/><path d="M327 249l14 19"/><path d="M518 249l-23 -4"/><path d="M204 272l13 17"/><path d="M231 272l13 18"/><path d="M259 272l13 20"/><path d="M286 272l15 17"/><path d="M341 272l19 13"/><path d="M504 272l24 7"/><path d="M245 296l14 18"/><path d="M272 296l16 19"/><path d="M300 296l18 15"/><path d="M327 296l17 12"/><path d="M354 296l20 11"/><path d="M177 319l13 15"/><path d="M204 319l15 16"/><path d="M231 319l15 19"/><path d="M259 319l17 14"/><path d="M286 319l17 16"/><path d="M313 319l18 15"/><path d="M341 319l21 9"/><path d="M368 319l21 8"/><path d="M245 342l14 17"/><path d="M272 342l15 18"/><path d="M300 342l20 13"/><path d="M327 342l23 10"/><path d="M354 342l23 9"/><path d="M382 342l24 4"/><path d="M68 366l21 3"/><path d="M231 366l20 7"/><path d="M259 366l20 9"/><path d="M286 366l20 9"/><path d="M313 366l21 9"/><path d="M341 366l22 4"/><path d="M368 366l23 6"/><path d="M-1 389l22 -1"/><path d="M27 389l22 1"/><path d="M54 389l23 2"/><path d="M218 389l21 3"/><path d="M245 389l22 -3"/><path d="M272 389l20 3"/><path d="M300 389l23 5"/><path d="M327 389l21 6"/><path d="M354 389l23 -2"/><path d="M-14 412l21 1"/><path d="M13 412l24 -1"/><path d="M68 412l21 -4"/><path d="M95 412l22 1"/><path d="M122 412l20 1"/><path d="M150 412l22 -2"/><path d="M204 412l20 -9"/><path d="M259 412l21 -2"/><path d="M286 412l22 1"/><path d="M341 412l19 -7"/><path d="M368 412l23 -4"/><path d="M-1 435l21 -3"/><path d="M27 435l21 3"/><path d="M54 435l22 0"/><path d="M81 435l21 -1"/><path d="M108 435l21 0"/><path d="M136 435l21 -4"/><path d="M163 435l20 -4"/><path d="M190 435l22 -7"/><path d="M245 435l24 -8"/><path d="M272 435l22 -1"/><path d="M300 435l23 -4"/><path d="M327 435l22 -3"/><path d="M-14 459l23 2"/><path d="M13 459l23 -1"/><path d="M40 459l21 -1"/><path d="M68 459l21 3"/><path d="M122 459l20 -5"/><path d="M150 459l20 -6"/><path d="M177 459l22 -5"/><path d="M204 459l23 -4"/><path d="M231 459l23 -8"/><path d="M259 459l24 -2"/><path d="M286 459l24 -4"/><path d="M313 459l24 -4"/><path d="M-1 482l23 -2"/><path d="M27 482l23 -2"/><path d="M54 482l24 -2"/><path d="M81 482l24 3"/><path d="M108 482l21 -2"/><path d="M136 482l24 -4"/><path d="M163 482l20 -7"/><path d="M190 482l21 -6"/><path d="M218 482l21 -8"/><path d="M272 482l22 -9"/><path d="M300 482l24 -5"/><path d="M-14 505l22 -4"/><path d="M13 505l22 0"/><path d="M40 505l22 1"/><path d="M68 505l23 3"/><path d="M95 505l23 1"/><path d="M122 505l22 -4"/><path d="M150 505l21 -3"/><path d="M177 505l21 -11"/><path d="M204 505l23 -8"/><path d="M286 505l21 -14"/><path d="M313 505l23 -10"/><path d="M-1 529l23 0"/><path d="M27 529l22 3"/><path d="M54 529l24 -1"/><path d="M81 529l23 0"/><path d="M108 529l22 -1"/><path d="M136 529l21 -4"/><path d="M163 529l23 -6"/><path d="M190 529l24 -7"/><path d="M218 529l20 -9"/><path d="M245 529l20 -7"/><path d="M272 529l24 -6"/><path d="M300 529l22 -10"/><path d="M463 529l22 -12"/><path d="M-14 552l21 0"/><path d="M13 552l23 -2"/><path d="M40 552l24 0"/><path d="M68 552l23 1"/><path d="M95 552l22 -3"/><path d="M122 552l22 -1"/><path d="M150 552l22 -3"/><path d="M177 552l22 -10"/><path d="M204 552l23 -8"/><path d="M231 552l21 -9"/><path d="M286 552l22 -5"/><path d="M313 552l22 -11"/><path d="M423 552l19 -14"/></g><g marker-end="url(#a2)"><path d="M545 16l-25 -5"/><path d="M573 16l-27 -6"/><path d="M627 16l-28 -8"/><path d="M682 16l-25 -13"/><path d="M709 16l-22 -18"/><path d="M736 16l-21 -19"/><path d="M764 16l-18 -21"/><path d="M791 16l-21 -22"/><path d="M927 16l-15 -25"/><path d="M955 16l-19 -23"/><path d="M982 16l-15 -24"/><path d="M1037 16l-13 -24"/><path d="M368 39l-18 19"/><path d="M423 39l-19 17"/><path d="M504 39l-26 5"/><path d="M532 39l-30 0"/><path d="M723 39l-25 -17"/><path d="M777 39l-18 -19"/><path d="M805 39l-12 -27"/><path d="M832 39l-20 -22"/><path d="M859 39l-15 -26"/><path d="M887 39l-15 -23"/><path d="M914 39l-15 -24"/><path d="M1023 39l-10 -27"/><path d="M436 63l-21 14"/><path d="M491 63l-25 2"/><path d="M518 63l-27 1"/><path d="M573 63l-26 -11"/><path d="M791 63l-16 -23"/><path d="M846 63l-15 -26"/><path d="M955 63l-13 -26"/><path d="M982 63l-11 -25"/><path d="M1009 63l-12 -26"/><path d="M1037 63l-12 -24"/><path d="M395 86l-20 19"/><path d="M423 86l-26 13"/><path d="M450 86l-23 11"/><path d="M477 86l-26 5"/><path d="M532 86l-29 -6"/><path d="M723 86l-23 -16"/><path d="M750 86l-22 -19"/><path d="M777 86l-15 -26"/><path d="M887 86l-14 -26"/><path d="M968 86l-11 -27"/><path d="M1023 86l-15 -26"/><path d="M409 109l-20 16"/><path d="M436 109l-23 17"/><path d="M736 109l-23 -18"/><path d="M791 109l-17 -22"/><path d="M818 109l-15 -26"/><path d="M846 109l-16 -24"/><path d="M927 109l-16 -25"/><path d="M368 132l-6 24"/><path d="M423 132l-15 21"/><path d="M450 132l-19 19"/><path d="M750 132l-20 -22"/><path d="M777 132l-18 -20"/><path d="M832 132l-9 -27"/><path d="M859 132l-14 -24"/><path d="M887 132l-12 -25"/><path d="M941 132l-13 -25"/><path d="M968 132l-9 -28"/><path d="M996 132l-16 -20"/><path d="M1023 132l-14 -25"/><path d="M409 156l-12 25"/><path d="M436 156l-19 23"/><path d="M818 156l-11 -27"/><path d="M927 156l-12 -24"/><path d="M955 156l-15 -23"/><path d="M1009 156l-16 -24"/><path d="M1037 156l-11 -26"/><path d="M395 179l-3 26"/><path d="M423 179l-8 28"/><path d="M859 179l-11 -25"/><path d="M914 179l-13 -26"/><path d="M941 179l-12 -26"/><path d="M968 179l-11 -27"/><path d="M996 179l-10 -27"/><path d="M382 202l6 29"/><path d="M409 202l0 28"/><path d="M846 202l-12 -27"/><path d="M873 202l-11 -27"/><path d="M955 202l-12 -26"/><path d="M1009 202l-11 -25"/><path d="M395 226l7 27"/><path d="M914 226l-8 -26"/><path d="M941 226l-14 -25"/><path d="M968 226l-17 -25"/><path d="M354 249l15 22"/><path d="M382 249l11 25"/><path d="M1009 249l-16 -25"/><path d="M313 272l18 20"/><path d="M368 272l21 17"/><path d="M968 272l-14 -26"/><path d="M382 296l23 16"/><path d="M846 296l-11 -27"/><path d="M900 296l1 -27"/><path d="M1037 296l-13 -26"/><path d="M395 319l24 13"/><path d="M887 319l-6 -29"/><path d="M968 319l-9 -28"/><path d="M1023 319l-11 -27"/><path d="M409 342l29 7"/><path d="M900 342l-5 -29"/><path d="M927 342l-7 -27"/><path d="M982 342l-9 -28"/><path d="M1009 342l-9 -29"/><path d="M1037 342l-13 -23"/><path d="M395 366l27 1"/><path d="M423 366l28 5"/><path d="M777 366l1 -29"/><path d="M859 366l-8 -27"/><path d="M914 366l-4 -29"/><path d="M941 366l-4 -30"/><path d="M968 366l-11 -27"/><path d="M382 389l27 0"/><path d="M409 389l27 -4"/><path d="M682 389l3 -30"/><path d="M982 389l-8 -26"/><path d="M1009 389l-14 -23"/><path d="M1037 389l-12 -25"/><path d="M231 412l25 -4"/><path d="M313 412l25 -4"/><path d="M395 412l29 -6"/><path d="M423 412l27 -5"/><path d="M450 412l29 -8"/><path d="M477 412l26 -11"/><path d="M586 412l15 -26"/><path d="M695 412l8 -29"/><path d="M859 412l-9 -26"/><path d="M968 412l-8 -26"/><path d="M1023 412l-4 -30"/><path d="M218 435l25 -5"/><path d="M354 435l25 -4"/><path d="M382 435l28 -6"/><path d="M409 435l27 -4"/><path d="M436 435l25 -12"/><path d="M463 435l23 -13"/><path d="M518 435l22 -21"/><path d="M627 435l13 -24"/><path d="M818 435l-4 -29"/><path d="M846 435l-8 -27"/><path d="M873 435l-5 -28"/><path d="M341 459l25 -8"/><path d="M368 459l26 -10"/><path d="M395 459l24 -14"/><path d="M423 459l28 -10"/><path d="M450 459l27 -12"/><path d="M477 459l25 -15"/><path d="M504 459l22 -18"/><path d="M532 459l20 -20"/><path d="M586 459l18 -24"/><path d="M641 459l10 -28"/><path d="M695 459l13 -25"/><path d="M805 459l-1 -29"/><path d="M914 459l-9 -29"/><path d="M968 459l-9 -28"/><path d="M245 482l26 -8"/><path d="M327 482l25 -10"/><path d="M354 482l24 -12"/><path d="M382 482l27 -9"/><path d="M409 482l27 -13"/><path d="M436 482l24 -15"/><path d="M463 482l23 -15"/><path d="M491 482l21 -20"/><path d="M846 482l-8 -28"/><path d="M900 482l-9 -27"/><path d="M1009 482l-12 -27"/><path d="M231 505l27 -6"/><path d="M259 505l24 -9"/><path d="M341 505l25 -8"/><path d="M368 505l20 -17"/><path d="M395 505l26 -13"/><path d="M423 505l23 -16"/><path d="M450 505l26 -12"/><path d="M532 505l20 -20"/><path d="M641 505l12 -27"/><path d="M723 505l5 -29"/><path d="M777 505l2 -29"/><path d="M805 505l-2 -29"/><path d="M887 505l-3 -29"/><path d="M941 505l-9 -27"/><path d="M968 505l-5 -30"/><path d="M327 529l25 -11"/><path d="M354 529l21 -14"/><path d="M382 529l23 -14"/><path d="M409 529l23 -17"/><path d="M436 529l23 -17"/><path d="M491 529l19 -23"/><path d="M518 529l16 -23"/><path d="M545 529l22 -19"/><path d="M791 529l2 -28"/><path d="M818 529l-5 -26"/><path d="M846 529l-6 -27"/><path d="M873 529l-1 -29"/><path d="M1037 529l-6 -29"/><path d="M259 552l26 -7"/><path d="M341 552l26 -14"/><path d="M368 552l22 -13"/><path d="M395 552l23 -13"/><path d="M450 552l24 -13"/><path d="M477 552l17 -20"/><path d="M504 552l18 -24"/><path d="M586 552l17 -24"/><path d="M695 552l7 -27"/><path d="M723 552l7 -29"/><path d="M805 552l1 -28"/><path d="M832 552l0 -27"/><path d="M859 552l-3 -30"/><path d="M887 552l-3 -28"/><path d="M914 552l-7 -29"/><path d="M941 552l-7 -29"/><path d="M968 552l-8 -28"/><path d="M1023 552l-8 -28"/></g><g marker-end="url(#a3)"><path d="M600 16l-30 -12"/><path d="M654 16l-30 -10"/><path d="M818 16l-19 -24"/><path d="M846 16l-19 -28"/><path d="M873 16l-18 -25"/><path d="M900 16l-17 -27"/><path d="M1009 16l-16 -27"/><path d="M559 39l-31 -1"/><path d="M586 39l-32 -1"/><path d="M614 39l-32 -8"/><path d="M668 39l-25 -19"/><path d="M695 39l-27 -18"/><path d="M941 39l-13 -28"/><path d="M968 39l-17 -26"/><path d="M996 39l-12 -28"/><path d="M545 63l-32 -3"/><path d="M600 63l-30 -12"/><path d="M654 63l-32 -12"/><path d="M682 63l-32 -13"/><path d="M709 63l-27 -18"/><path d="M736 63l-27 -14"/><path d="M818 63l-13 -28"/><path d="M873 63l-12 -28"/><path d="M900 63l-17 -26"/><path d="M927 63l-19 -24"/><path d="M504 86l-31 4"/><path d="M559 86l-33 -6"/><path d="M586 86l-31 -11"/><path d="M614 86l-33 -7"/><path d="M805 86l-16 -26"/><path d="M832 86l-20 -26"/><path d="M859 86l-20 -27"/><path d="M914 86l-16 -27"/><path d="M941 86l-11 -28"/><path d="M996 86l-16 -27"/><path d="M463 109l-28 14"/><path d="M491 109l-28 11"/><path d="M518 109l-34 5"/><path d="M545 109l-31 1"/><path d="M573 109l-33 -10"/><path d="M627 109l-30 -16"/><path d="M654 109l-29 -13"/><path d="M682 109l-30 -18"/><path d="M709 109l-24 -21"/><path d="M764 109l-17 -25"/><path d="M873 109l-17 -25"/><path d="M900 109l-19 -24"/><path d="M955 109l-13 -27"/><path d="M982 109l-12 -29"/><path d="M1009 109l-14 -29"/><path d="M1037 109l-9 -29"/><path d="M504 132l-32 3"/><path d="M559 132l-33 -10"/><path d="M695 132l-24 -22"/><path d="M723 132l-25 -17"/><path d="M805 132l-11 -32"/><path d="M914 132l-16 -31"/><path d="M573 156l-32 -14"/><path d="M654 156l-29 -17"/><path d="M709 156l-21 -26"/><path d="M736 156l-18 -28"/><path d="M764 156l-15 -29"/><path d="M791 156l-16 -29"/><path d="M846 156l-16 -27"/><path d="M873 156l-16 -28"/><path d="M900 156l-11 -30"/><path d="M982 156l-15 -27"/><path d="M450 179l-20 27"/><path d="M723 179l-14 -30"/><path d="M750 179l-12 -32"/><path d="M777 179l-15 -27"/><path d="M805 179l-9 -31"/><path d="M832 179l-15 -30"/><path d="M887 179l-5 -32"/><path d="M1023 179l-13 -27"/><path d="M436 202l-11 30"/><path d="M463 202l-13 30"/><path d="M654 202l-18 -29"/><path d="M682 202l-14 -32"/><path d="M736 202l-6 -34"/><path d="M764 202l-15 -31"/><path d="M791 202l-11 -31"/><path d="M818 202l-13 -29"/><path d="M900 202l-13 -30"/><path d="M927 202l-12 -28"/><path d="M982 202l-9 -31"/><path d="M1037 202l-16 -28"/><path d="M423 226l11 32"/><path d="M668 226l-11 -32"/><path d="M750 226l-10 -33"/><path d="M777 226l-8 -30"/><path d="M805 226l-13 -31"/><path d="M832 226l-9 -30"/><path d="M859 226l-14 -31"/><path d="M887 226l-10 -31"/><path d="M996 226l-15 -28"/><path d="M1023 226l-17 -28"/><path d="M409 249l13 28"/><path d="M491 249l-2 31"/><path d="M764 249l-7 -30"/><path d="M791 249l-9 -32"/><path d="M818 249l-4 -32"/><path d="M846 249l-9 -31"/><path d="M873 249l-9 -30"/><path d="M900 249l-3 -32"/><path d="M927 249l-13 -28"/><path d="M955 249l-12 -28"/><path d="M982 249l-15 -29"/><path d="M1037 249l-10 -31"/><path d="M395 272l18 25"/><path d="M423 272l22 27"/><path d="M695 272l-7 -33"/><path d="M777 272l-4 -32"/><path d="M805 272l-5 -33"/><path d="M832 272l-5 -34"/><path d="M859 272l-11 -29"/><path d="M887 272l-7 -31"/><path d="M914 272l-8 -30"/><path d="M941 272l-14 -28"/><path d="M996 272l-8 -29"/><path d="M1023 272l-17 -27"/><path d="M409 296l23 21"/><path d="M736 296l-4 -32"/><path d="M764 296l-8 -31"/><path d="M791 296l-1 -32"/><path d="M818 296l-9 -30"/><path d="M873 296l-8 -32"/><path d="M927 296l-7 -32"/><path d="M955 296l-12 -29"/><path d="M982 296l-17 -27"/><path d="M1009 296l-12 -31"/><path d="M423 319l28 16"/><path d="M668 319l5 -34"/><path d="M723 319l-1 -34"/><path d="M750 319l-2 -33"/><path d="M777 319l-5 -31"/><path d="M805 319l-5 -32"/><path d="M832 319l-6 -31"/><path d="M859 319l-5 -31"/><path d="M914 319l-14 -29"/><path d="M941 319l-13 -30"/><path d="M996 319l-9 -29"/><path d="M436 342l32 0"/><path d="M463 342l33 -1"/><path d="M654 342l0 -32"/><path d="M709 342l4 -35"/><path d="M736 342l-1 -31"/><path d="M764 342l-7 -32"/><path d="M791 342l4 -32"/><path d="M818 342l-5 -31"/><path d="M846 342l-9 -31"/><path d="M873 342l-4 -30"/><path d="M955 342l-8 -29"/><path d="M450 366l35 -2"/><path d="M695 366l9 -32"/><path d="M750 366l2 -34"/><path d="M805 366l5 -31"/><path d="M832 366l-7 -32"/><path d="M887 366l-8 -33"/><path d="M996 366l-12 -30"/><path d="M1023 366l-10 -32"/><path d="M436 389l30 -3"/><path d="M463 389l29 -13"/><path d="M518 389l24 -23"/><path d="M654 389l6 -30"/><path d="M709 389l4 -31"/><path d="M736 389l2 -33"/><path d="M764 389l6 -31"/><path d="M791 389l2 -31"/><path d="M818 389l-6 -32"/><path d="M846 389l-2 -31"/><path d="M873 389l-9 -31"/><path d="M900 389l-7 -31"/><path d="M927 389l-7 -31"/><path d="M955 389l-6 -32"/><path d="M614 412l12 -33"/><path d="M668 412l13 -32"/><path d="M723 412l8 -30"/><path d="M750 412l11 -32"/><path d="M777 412l5 -30"/><path d="M805 412l-5 -30"/><path d="M832 412l-8 -30"/><path d="M887 412l0 -31"/><path d="M914 412l-5 -31"/><path d="M941 412l-13 -28"/><path d="M996 412l-7 -32"/><path d="M491 435l30 -15"/><path d="M545 435l24 -24"/><path d="M573 435l20 -26"/><path d="M600 435l21 -25"/><path d="M654 435l11 -31"/><path d="M682 435l5 -34"/><path d="M709 435l10 -31"/><path d="M736 435l4 -33"/><path d="M764 435l6 -34"/><path d="M791 435l0 -31"/><path d="M900 435l-8 -29"/><path d="M927 435l-10 -29"/><path d="M955 435l-13 -29"/><path d="M982 435l-8 -30"/><path d="M1009 435l-7 -30"/><path d="M1037 435l-7 -33"/><path d="M559 459l17 -27"/><path d="M614 459l14 -29"/><path d="M668 459l6 -35"/><path d="M723 459l13 -31"/><path d="M750 459l6 -34"/><path d="M777 459l1 -35"/><path d="M832 459l-3 -33"/><path d="M859 459l-6 -30"/><path d="M887 459l-8 -30"/><path d="M941 459l-8 -29"/><path d="M996 459l-5 -32"/><path d="M1023 459l-11 -30"/><path d="M518 482l22 -21"/><path d="M545 482l19 -24"/><path d="M573 482l16 -30"/><path d="M600 482l18 -27"/><path d="M627 482l13 -29"/><path d="M654 482l10 -31"/><path d="M682 482l10 -33"/><path d="M709 482l11 -30"/><path d="M736 482l7 -32"/><path d="M764 482l5 -34"/><path d="M791 482l-4 -31"/><path d="M818 482l-4 -30"/><path d="M873 482l-5 -31"/><path d="M927 482l-1 -31"/><path d="M955 482l-13 -27"/><path d="M982 482l-7 -31"/><path d="M1037 482l-12 -31"/><path d="M477 505l27 -15"/><path d="M504 505l19 -24"/><path d="M559 505l19 -26"/><path d="M586 505l18 -29"/><path d="M614 505l14 -27"/><path d="M668 505l7 -30"/><path d="M695 505l9 -30"/><path d="M750 505l0 -32"/><path d="M832 505l-3 -31"/><path d="M859 505l-8 -29"/><path d="M914 505l-5 -30"/><path d="M996 505l-12 -33"/><path d="M1023 505l-7 -31"/><path d="M573 529l19 -27"/><path d="M600 529l14 -29"/><path d="M627 529l16 -27"/><path d="M654 529l14 -28"/><path d="M682 529l6 -31"/><path d="M709 529l6 -33"/><path d="M736 529l4 -33"/><path d="M764 529l3 -31"/><path d="M900 529l-6 -31"/><path d="M927 529l-3 -30"/><path d="M955 529l-9 -30"/><path d="M982 529l-8 -30"/><path d="M1009 529l-8 -32"/><path d="M532 552l17 -28"/><path d="M559 552l14 -32"/><path d="M614 552l18 -24"/><path d="M641 552l8 -29"/><path d="M668 552l11 -28"/><path d="M750 552l3 -30"/><path d="M777 552l1 -31"/><path d="M996 552l-6 -30"/></g><g marker-end="url(#a4)"><path d="M641 39l-31 -18"/><path d="M627 63l-34 -11"/><path d="M641 86l-35 -12"/><path d="M668 86l-35 -7"/><path d="M695 86l-34 -13"/><path d="M600 109l-32 -18"/><path d="M477 132l-27 22"/><path d="M532 132l-35 6"/><path d="M586 132l-36 -14"/><path d="M614 132l-36 -16"/><path d="M641 132l-28 -24"/><path d="M668 132l-31 -21"/><path d="M463 156l-29 23"/><path d="M491 156l-33 14"/><path d="M518 156l-37 3"/><path d="M545 156l-38 -15"/><path d="M600 156l-34 -15"/><path d="M627 156l-33 -18"/><path d="M682 156l-26 -25"/><path d="M477 179l-23 31"/><path d="M504 179l-37 16"/><path d="M532 179l-42 2"/><path d="M559 179l-46 -15"/><path d="M586 179l-32 -20"/><path d="M614 179l-34 -17"/><path d="M641 179l-25 -31"/><path d="M668 179l-19 -31"/><path d="M695 179l-23 -27"/><path d="M491 202l-34 28"/><path d="M518 202l-46 18"/><path d="M545 202l-47 -11"/><path d="M573 202l-41 -26"/><path d="M600 202l-40 -27"/><path d="M627 202l-28 -32"/><path d="M709 202l-16 -34"/><path d="M450 226l-4 35"/><path d="M477 226l-18 38"/><path d="M504 226l-39 26"/><path d="M532 226l-48 -5"/><path d="M559 226l-38 -31"/><path d="M586 226l-32 -36"/><path d="M614 226l-34 -32"/><path d="M641 226l-20 -44"/><path d="M695 226l-7 -37"/><path d="M723 226l-9 -36"/><path d="M436 249l16 32"/><path d="M463 249l13 44"/><path d="M545 249l-29 -38"/><path d="M573 249l-28 -40"/><path d="M600 249l-21 -44"/><path d="M627 249l-17 -36"/><path d="M654 249l-1 -36"/><path d="M682 249l-10 -35"/><path d="M709 249l-12 -38"/><path d="M736 249l-5 -35"/><path d="M450 272l17 33"/><path d="M477 272l25 27"/><path d="M532 272l6 -36"/><path d="M559 272l-6 -48"/><path d="M586 272l-5 -48"/><path d="M614 272l-8 -48"/><path d="M641 272l1 -37"/><path d="M668 272l-8 -38"/><path d="M723 272l-5 -38"/><path d="M750 272l-3 -35"/><path d="M436 296l28 22"/><path d="M463 296l35 25"/><path d="M491 296l46 16"/><path d="M518 296l39 -25"/><path d="M545 296l19 -45"/><path d="M573 296l14 -47"/><path d="M600 296l10 -47"/><path d="M627 296l1 -48"/><path d="M654 296l1 -38"/><path d="M682 296l-3 -39"/><path d="M709 296l0 -37"/><path d="M450 319l34 16"/><path d="M477 319l39 2"/><path d="M504 319l48 -9"/><path d="M532 319l38 -30"/><path d="M559 319l27 -37"/><path d="M586 319l10 -45"/><path d="M614 319l14 -39"/><path d="M641 319l7 -43"/><path d="M695 319l1 -37"/><path d="M491 342l42 -5"/><path d="M518 342l40 -18"/><path d="M545 342l36 -28"/><path d="M573 342l25 -34"/><path d="M600 342l14 -37"/><path d="M627 342l6 -39"/><path d="M682 342l4 -35"/><path d="M477 366l35 -8"/><path d="M504 366l36 -12"/><path d="M532 366l32 -22"/><path d="M559 366l27 -29"/><path d="M586 366l23 -36"/><path d="M614 366l15 -34"/><path d="M641 366l9 -35"/><path d="M668 366l8 -38"/><path d="M723 366l3 -36"/><path d="M491 389l33 -13"/><path d="M545 389l31 -19"/><path d="M573 389l21 -30"/><path d="M600 389l13 -37"/><path d="M627 389l18 -36"/><path d="M504 412l25 -26"/><path d="M532 412l29 -24"/><path d="M559 412l21 -29"/><path d="M641 412l13 -35"/></g></g>
</g>
<rect x="0" y="0" width="82" height="70.5" fill="#c3c3c3"/>
<path d="M7.5 46.3H74" stroke="#5a5a5a" stroke-width="2.6" fill="none"/>
<path d="M60.5 39.8L76.5 46.3L60.5 52.8L66 46.3Z" stroke="#5a5a5a" stroke-width="2" fill="#c3c3c3" stroke-linejoin="miter"/>
<text x="9.5" y="24.6" font-size="24.6" fill="#333" stroke="#333" stroke-width="0.8">30 m/s</text>
<rect x="649.5" y="0" width="381.4" height="51.5" fill="#fff"/>
<text x="660.5" y="37.8" font-size="32.9" fill="#111">2012-08-16_06:00:00 UTC</text>
</g>
<path d="M0.8 0V550.3H1033.5V0" stroke="#3a1414" stroke-width="1.7" fill="none"/>
<path d="M0 1.5H1034.4" stroke="#a8484f" stroke-width="3" fill="none"/>
<path d="M1.5 0V72" stroke="#a8484f" stroke-width="3" fill="none"/>
<text x="57.9" y="622.2" font-size="38.8" text-anchor="middle">105°E</text>
<text x="244.5" y="622.2" font-size="38.8" text-anchor="middle">110°E</text>
<text x="431.1" y="622.2" font-size="38.8" text-anchor="middle">115°E</text>
<text x="617.8" y="622.2" font-size="38.8" text-anchor="middle">120°E</text>
<text x="804.4" y="622.2" font-size="38.8" text-anchor="middle">125°E</text>
<text x="991" y="622.2" font-size="38.8" text-anchor="middle">130°E</text>
<text x="-43.6" y="563.1" font-size="38.6" text-anchor="end">12°N</text>
<text x="-43.6" y="486.6" font-size="38.6" text-anchor="end">14°N</text>
<text x="-43.6" y="409.4" font-size="38.6" text-anchor="end">16°N</text>
<text x="-43.6" y="331.5" font-size="38.6" text-anchor="end">18°N</text>
<text x="-43.6" y="252.6" font-size="38.6" text-anchor="end">20°N</text>
<text x="-43.6" y="172.8" font-size="38.6" text-anchor="end">22°N</text>
<text x="-43.6" y="91.8" font-size="38.6" text-anchor="end">24°N</text>
<path d="M57.3 550.7v18.5M243.9 550.7v18.5M430.5 550.7v18.5M617.2 550.7v18.5M803.8 550.7v18.5M990.4 550.7v18.5M1 549.8h-18.6M1 473.3h-18.6M1 396.1h-18.6M1 318.2h-18.6M1 239.3h-18.6M1 159.5h-18.6M1 78.5h-18.6" stroke="#7d7d7d" stroke-width="2.5" fill="none"/>
</g>
<g transform="translate(165.1,1348.7)">
<clipPath id="cp4"><rect x="0" y="0" width="1034.2" height="553.1"/></clipPath>
<g clip-path="url(#cp4)"><g filter="url(#bl)">
<rect x="-2" y="-2" width="1038.2" height="557.1" fill="#ff3e32"/><path d="M628 -26l0 3 -1 3 -1 3 -1 3 -1 3 -1 3 0 4 0 3 1 3 1 3 1 3 1 4 1 3 2 3 1 3 1 3 0 4 1 3 0 4 0 3 0 4 0 3 0 3 1 4 2 3 1 3 1 4 2 3 0 3 1 4 0 3 1 3 0 4 1 3 0 3 1 4 1 3 0 3 1 4 0 3 1 3 0 3 1 4 1 3 0 3 0 3 0 4 0 3 0 3 1 3 0 3 0 4 1 3 0 3 0 3 1 3 0 4 -1 3 0 3 -1 3 0 3 -1 3 -1 4 -1 3 -1 3 0 3 -1 3 0 4 0 3 0 3 -1 3 0 4 -1 3 -1 3 -1 3 -1 3 0 4 -1 3 -1 3 0 3 -1 3 -1 4 -1 3 -1 3 -1 3 -1 3 0 4 0 3 0 3 0 3 -1 4 0 3 -1 3 0 3 0 4 0 3 0 3 1 4 1 3 0 3 1 3 0 4 -1 3 0 3 -1 3 0 4 -1 3 0 3 0 3 1 4 0 3 -1 3 0 4 0 3 0 3 0 4 1 3 0 3 0 4 -1 3 -1 3 -1 3 -2 3 -2 3 -1 3 -1 3 -1 4 0 3 -1 3 0 3 -2 3 -1 3 -1 3 -2 3 -1 4 0 3 0 3 0 3 0 4 0 3 1 3 0 4 0 3 0 3 0 3 -1 4 -1 3 -1 3 -1 3 -2 3 -1 3 0 3 0 4 0 3 0 3 -1 4 0 3 -1 3 -1 4 -1 3 -1 3 -1 3 -1 4 -1 3 -1 3 0 4 -1 3 -1 3 -1 4 0 3 -1 3 -1 4 0 3 -1 3 -1 3 -1 3 0 4 -1 3 0 3 -1 3 1 3 0 3 0 3 0 3 0 3 0 3 0 3 0 3 0 2 0 3 0 3 0 3 1 2 0 3 1 2 1 3 2 2 1 2 1 3 2 2 1 2 1 2 1 2 2 3 1 2 2 2 1 2 2 2 2 2 2 2 1 2 2 2 2 2 2 2 2 2 2 1 3 2 2 1 3 1 2 2 2 1 3 2 2 1 3 2 3 1 3 0 3 0 3 1 4 0 3 1 3 1 2 1 3 2 3 1 3 1 4 1 3 0 3 0 4 1 3 0 3 1 4 0 3 1 4 0 4-1 3 0 4 0 4 0 3 1 4 1 3 1 4 2 4 1 4 1 4 0 3 0 4 0 4 0 4 1 4 1 4 0 5 1 4 0 4 0 4 0 4-1 4-1 4-1 4-2 4-1 4-1 5-2 4-1 4 0 4-1 4 0 5 0 4 0 5 0 4-1 4-1 4-2 4-1 5-2 4-1 4-2 4 0 5-1 4-1 4-1 5-1 4-1 4-1 5-2 4-1 4-1 4-1 5-2 4-1 4-2 4-1 5-2 4-1 4-2 4-1 5-1 4-2 4-2 4-2 4-2 4-2 4-2 4-2 4-2 4-2 4-2 4-1 4-2 4-1 4-2 4-2 4-2 4-2 4-2 3-3 4-2 3-3 4-2 3-3 4-2 4-2 3-2 4-3 3-2 4-3 3-2 3-3 4-2 3-2 4-3 3-2 3-2 4-3 3-3 3-3 2-3 3-3 3-2 3-3 3-3 3-3 3-2 2-3 3-4 2-3 2-4 2-3 2-4 2-3 3-3 2-3 3-2 3-3 2-3 2-4 2-3 2-3 2-4 2-3 2-3 2-4 2-3 1-4 1-3 2-4 1-3 2-4 2-3 3-2 3-3 3-3 2-3 2-3 2-4 1-3 2-4 2-3 2-3 2-3 2-4 2-3 2-3 1-4 1-4 0-4 1-3 0-4 0-4 0-4 0-4 1-4 0-3 1-4 1-3 2-4 1-3 1-4 1-4 1-3 0-4 0-4 -1-3 0-4 1-4 0-4 1-3 0-4 1-4 0-3 1-4 0-4 0-3 0-4 0-4 0-3 0-4 0-4 0-3 0-4 -1-4 0-3 0-4 0-4 0-3 0-4 0-4 -1-3 -1-4 0-4 -1-3 -1-4 -1-3 -1-4 0-4 -1-3 0-4 0-4 0-4 -1-3 0-4 -1-4 -1-3 -2-4 -1-3 -2-3 -1-4 -1-3 -2-4 -1-3 -1-4 -1-4 -1-3 -2-4 -1-3 -1-3 -2-4 -1-3 -1-4 -2-4 -1-3 -1-4 -2-3 -2-3 -2-4 -2-3 -2-3 -2-3 -2-4 -1-3 -2-3 -2-4 -3-3 -3-2 -2-3 -3-3 -3-2 -3-3 -2-3 -2-4 -2-3 -2-3 -2-3 -3-3 -3-3 -3-3 -2-2 -3-3 -3-3 -3-3 -2-2 -4-3 -3-2 -3-2 -4-2 -3-3 -2-3 -3-3 -2-4 -2-4 -2-3 -3-3 -3-3 -4-2 -3-3 -3-2 -3-3 -3-3 -3-3 -3-3 -3-3 -4-3 -3-2 -4-1 -4-2 -5-1 -4-2 -4-1 -4-1 -4-2 -4-1 -4-2 -4-2 -3-3 -4-2 -4-3 -3-2 -4-2 -5-1 -4-1 -4-1 -4-1 -5-2 -4-1 -4-2 -4-2 -4-2 -4-1 -4-2 -4-1 -4-2 -4-1 -4-1 -5-2 -4-1 -4-1 -4-1 -4-1 -5-1 -4-1 -4-2 -4-1 -4-1 -4-1 -5-1 -4-1 -4-1 -4 0 -5 0 -4-1 -4 0 -4-1 -4 0 -4-1 -4-1 -4-1 -4-1 -4-1 -4-1 -4 0 -5-1 -4 0 -4 0 -4 1 -4 0 -3 0 -4 0 -4 0 -4 0 -4-1 -4 0 -4 0 -3 1 -4 0 -4 0 -3 0 -4 0 -4 0 -3 0 -4 0 -4 0 -3 1 -3 1 -4 1 -3 0 -3 1 -4 1 -3 0 -3 1 -4 1 -3 1 -3 1 -2 2 -3 2 -3 2 -2 1 -3 2 -3 0 -3 1 -3 1 -2 1 -3 1 -2 2 -3 2 -2 1 -2 2 -2 2 -2 1 -2 2 -2 2 -2 2 -1 3 -2 2 -1 2 -2 2 -2 1 -3 1 -2 2 -3 1 -2 2 -2 2 -1 2 -1 2 -2 3 -1 2 -2 2 -2 3 -1 2 -2 2 -1 3 -1 3 0 3z" fill="#ff3232"/><path d="M788 -25l1 2 0 3 0 3 0 3 0 3 0 3 1 3 1 3 0 3 1 4 0 3 0 3 -1 4 0 3 -1 4 0 3 0 4 0 3 0 4 0 3 0 4 1 3 0 4 1 3 1 3 1 4 1 3 1 3 1 3 1 4 0 3 1 3 0 4 0 3 1 3 0 3 0 4 0 3 0 3 -1 3 0 4 -1 3 0 3 0 3 1 3 0 4 1 3 0 3 0 3 -1 3 0 4 0 3 0 3 0 3 1 4 0 3 1 3 0 3 0 4 -1 3 0 3 -1 3 -1 4 -1 3 -1 3 -1 3 0 3 -1 3 -1 4 -1 3 -1 3 0 3 0 4 0 3 0 3 0 3 -1 4 0 3 -1 3 -1 3 0 4 -1 3 -1 3 0 3 -1 3 -1 3 -2 3 -1 3 -1 3 -1 4 -1 3 -1 3 -1 3 -1 3 -1 3 -2 3 -1 3 -1 3 -1 3 0 4 0 3 0 3 0 4 0 3 -1 3 0 4 -1 3 0 3 -1 3 -1 4 -1 3 -1 3 -2 3 -2 2 -1 3 -2 3 -1 3 -2 3 -1 3 -2 3 -2 2 -2 3 -2 2 -2 3 -1 3 -1 3 -1 4 0 3 -1 3 -1 4 -1 3 -1 3 -2 3 -1 3 -1 3 0 3 -1 3 -1 3 -1 3 -1 3 -2 3 -2 3 -2 3 -2 2 -1 3 -2 3 -1 3 -1 4 -1 3 -1 3 -1 3 -1 3 -1 3 0 4 0 3 0 3 0 4 0 3 0 3 -1 3 0 3 -1 4 0 3 -1 3 -1 3 0 3 -1 4 -2 3 -1 3 -1 3 -1 3 -1 4 0 3 0 3 0 4 0 3 -1 4 0 3 -1 3 -1 4 0 3 0 3 1 3 0 4 1 3 1 3 0 3 0 3 0 3 0 3 0 3 0 2 1 3 0 3 0 3 1 2 1 3 0 3 1 2 2 3 2 2 2 2 2 1 2 2 2 2 2 2 1 2 2 1 2 2 3 2 2 1 2 2 2 1 2 2 3 2 2 2 2 1 3 2 2 1 3 1 3 2 3 1 2 1 3 2 3 1 3 1 3 1 4 0 3 0 3 0 4 0 3 0 4 0 3 0 4 0 3 0 4 0 3 0 4 1 4 0 3 1 4 1 4 0 4 1 3 0 4 1 4 0 4 0 4 0 4 1 4 0 4 0 5 0 4-1 4-1 4-2 4-2 4-1 4-1 4-1 4-1 4-1 4-2 4-1 4-2 4-1 4-2 5-1 4 0 4-1 5 0 4 0 5-1 4 0 5-1 4-1 4-1 5-2 4-1 4-1 4-2 4-2 4-2 4-3 4-2 4-2 4-3 4-2 4-1 4-2 4-2 4-2 4-2 4-2 4-2 4-2 4-1 4-2 4-2 4-2 4-2 3-3 4-3 3-2 3-3 4-2 3-3 4-2 4-2 3-3 3-3 3-3 3-3 2-4 3-3 3-2 3-3 4-3 3-2 3-2 4-3 3-3 3-2 3-3 3-2 4-3 3-3 2-3 3-3 2-3 2-4 2-4 2-3 2-3 3-4 2-3 2-3 2-3 3-4 2-3 2-3 2-4 2-3 3-3 2-3 3-3 2-4 2-3 1-4 2-3 2-3 2-4 3-3 2-3 1-4 2-4 1-3 1-4 0-4 1-4 1-4 1-4 1-3 0-4 1-4 2-3 1-4 1-4 2-3 1-4 2-3 2-4 1-3 1-4 2-3 1-4 1-4 1-3 2-4 1-4 1-3 1-4 -1-4 0-4 -1-4 0-4 -1-4 0-4 0-3 1-4 -1-4 0-4 -1-3 0-4 -1-4 0-4 0-3 1-4 1-4 1-4 1-3 0-4 0-4 0-4 0-4 0-3 0-4 0-4 0-4 -1-4 -1-3 -2-4 -1-3 -1-4 -2-3 -1-4 -1-4 -1-3 0-4 -1-3 -2-4 -1-4 -1-3 0-4 -1-4 0-4 -1-3 -1-4 -1-4 -1-3 -2-3 -2-4 -2-3 -2-3 -1-4 -1-3 -2-4 -1-3 -2-4 -3-3 -2-3 -3-3 -2-3 -2-3 -2-3 -2-3 -1-4 -2-3 -2-4 -1-3 -2-3 -2-4 -2-3 -2-4 -2-3 -2-3 -3-3 -2-3 -3-3 -3-2 -4-3 -2-2 -3-3 -3-3 -3-2 -3-3 -3-3 -3-2 -3-3 -3-3 -2-2 -3-3 -3-3 -3-3 -3-3 -3-2 -3-3 -4-2 -3-3 -3-3 -3-2 -3-3 -4-2 -3-3 -4-2 -4-1 -4-2 -4-1 -4-1 -4-2 -5-1 -4-2 -4-2 -4-1 -3-2 -4-2 -4-2 -4-2 -4-3 -4-2 -3-2 -4-2 -4-2 -4-2 -4-2 -4-2 -4-2 -4-2 -4-2 -4-1 -5-1 -4 0 -5 0 -4 0 -4 0 -5-1 -4 0 -4-1 -4 0 -4-1 -5 0 -4 0 -4 1 -4-1 -4 0 -4-1 -3-1 -4-2 -4-1 -4-1 -4-1 -3 0 -4 0 -4-1 -4 0 -3 0 -4 0 -3 0 -4 1 -3 1 -3 1 -4 1 -3 2 -3 1 -3 1 -3 0 -3 1 -3 1 -2 1 -3 1 -3 1 -3 1 -2 1 -3 1 -3 0 -3 1 -2 1 -2 2 -2 2 -2 2 -1 2 -2 2 -2 2 -1 2 -2 2 -2 2 -1 2 -1 3 0 3 0 2 -1 3 0 3z" fill="#de3232"/><path d="M920 -25l-1 3 0 2 -1 3 -1 3 -1 3 -1 3 -1 3 0 3 -1 4 0 3 0 4 0 3 0 4 1 3 0 4 1 4 1 3 1 4 1 4 0 3 0 4 -1 4 -1 3 -1 4 -1 4 -1 3 -1 4 -1 3 -1 3 -2 4 -2 3 -2 3 -1 3 0 4 0 4 0 3 0 3 0 4 0 3 0 3 -1 3 0 3 0 3 1 3 0 3 2 3 1 4 1 3 2 3 2 3 2 3 2 3 2 3 2 3 1 3 1 3 0 3 -1 3 0 2 -1 3 -1 2 -1 3 0 4 -1 3 -2 3 -1 4 -2 3 -1 3 -2 4 -1 3 0 3 0 3 -1 3 0 3 -1 3 0 3 0 4 -1 3 1 4 0 3 1 4 2 3 1 3 2 4 1 3 1 3 0 4 0 3 0 4 -1 3 0 4 0 3 -1 3 0 3 0 3 -1 4 -1 3 -1 3 -1 3 -1 3 -2 3 -2 3 -2 3 -2 3 -3 3 -2 3 -2 3 -1 3 -1 4 0 3 0 4 1 3 0 4 1 3 1 4 1 3 2 3 2 3 2 3 3 3 3 2 2 3 2 3 1 3 2 3 2 3 2 2 3 3 3 1 2 2 3 2 3 2 2 2 3 2 3 2 3 2 3 2 3 1 3 1 4 2 3 1 4 1 3 1 4 0 4 0 3-1 4 0 3 0 4 0 3 0 3 0 3 0 3-1 3-1 3-1 3-1 3-2 3-1 3-2 3-2 3-2 2-2 2-3 2-4 1-3 2-3 3-3 2-2 3-2 3-2 3-2 3-2 3-1 3-2 3-1 3-2 3-1 3-2 3-2 3-2 2-3 3-2 3-2 2-2 4-2 3-2 3-2 2-2 3-3 2-3 1-3 2-4 2-3 1-3 2-4 2-3 2-3 2-3 1-4 2-3 2-3 2-4 2-3 2-3 3-3 2-3 2-3 2-4 2-3 1-4 1-4 1-4 1-4 1-3 1-4 2-4 2-3 2-4 2-3 1-4 1-4 1-4 1-4 0-4 1-4 0-4 0-5 1-4 1-4 0-4 1-4 1-4 2-4 1-4 1-4 1-4 0-4 -1-4 0-4 -1-4 0-4 -1-4 0-4 0-4 -1-5 -1-3 -2-4 -2-4 -1-4 -2-4 0-4 0-4 0-4 -1-3 0-4 -1-4 -2-4 -1-4 -1-3 -1-4 -1-4 -1-4 0-4 -1-4 -1-3 -2-4 -1-4 -2-3 -2-4 -2-3 -2-3 -3-3 -2-3 -3-3 -3-3 -3-2 -3-3 -2-3 -3-3 -2-3 -3-3 -3-3 -3-3 -3-2 -3-3 -2-3 -3-3 -3-3 -4-2 -3-2 -4-2 -5-1 -4-1 -4-1 -4-1 -4-2 -4-2 -3-2 -4-2 -4-2 -4-2 -4-1 -4-2 -4-1 -4-2 -5-1 -4-1 -4 0 -4-1 -4 0 -4 0 -4-1 -4-1 -4-1 -4-1 -4 0 -4 0 -4 1 -3 1 -4 2 -3 1 -3 1 -3 2 -3 1 -2 1 -3 2 -2 2 -2 1 -2 2 -2 2 -3 1 -2 1 -2 2 -2 1 -2 2z" fill="#ac3232"/><path d="M672 92l0 3 -1 2 -1 2 0 3 0 3 0 3 -1 2 -2 2 -1 2 -2 3 -2 1 -3 1 -2-2 -2-2 0-2 0-3 -1-2 0-3 0-2 0-3 -1-3 0-2 1-3 0-2 0-3 1-3 0-2 1-3 1-2 1-3 0-2 1-3 2-2 1-2 2-2 3-1 3 2 1 2 1 3 1 2 0 3 1 2 -1 3 -1 3 0 2 0 3 0 2zM662 357l0 3 0 2 -1 3 0 3 0 2 -1 3 -1 2 -1 2 -1 3 -1 2 -2 2 -3 2 -2 0 -2 1 -1-1 -2-2 0-2 -1-3 -1-2 -1-2 -1-3 0-2 -1-3 0-3 -1-2 0-3 1-2 0-3 1-3 0-2 0-3 1-2 0-3 1-2 2-3 1-2 1-2 2-2 1-2 2-1 2-1 2 0 2 2 1 1 2 3 1 2 0 3 1 2 0 3 0 2 1 3 0 3 0 2 -1 3z" fill="#de3232"/><path d="M-27 343l4 0 3 0 3 1 3 1 4 0 3 0 3 0 3-1 4 0 3 1 3 1 4 1 3 2 3 1 4 1 3 0 4 0 3 1 4 0 3 2 3 1 3 3 3 2 3 2 3 2 3 1 3 0 4 0 4 0 3 1 4 0 3 2 3 1 2 2 3 2 3 2 3 2 3 1 3 2 3 1 2 2 3 2 3 1 3 2 3 2 2 2 3 1 3 2 3 2 3 2 2 3 2 2 2 3 3 2 2 3 3 2 3 1 3 2 2 2 3 2 2 2 2 3 3 2 2 3 2 2 2 2 3 3 3 2 2 2 3 2 3 3 2 2 1 3 1 4 1 3 1 3 0 4 1 3 1 3 2 3 1 3 2 3 2 3 2 2 2 3 1 3 2 3 0 4 1 3 0 3 1 4 0 3 0 4 1 3 1 4 1 3 1 4 0 3 1 3 1 4 0 3 1 4 1 3 1 3 0 3 1 4 0 3 0 3 0 3 -1 3 0 3 -1 2 -1 3 0 3 -1 2 0 3 -1 3 0 3 -2 2 -1 3 -2 2 -2 2 -2 3 -2 2 -2 3 -2 2 -2 2 -3 2 -3 1 -4 0 -3 1 -4 0 -3 1 -3 1 -3 1 -4 2 -3 1 -4 1 -3 0 -4 0 -4 0 -4 0 -4 1 -4 1 -4 1 -4 1 -4 0 -4 0 -4 0 -4-1 -4-2 -4-1 -4-1 -5 0 -4 0 -4 1 -5 1 -5 0 -4 0 -5 0 -4-1 -4-2 -4-1 -5-2 -4-1 -4-2 -4-1 -5-2 -4-2 -4-1 -4-3 -4-2 -3-2 -4-2 -4-2 -4-3 -4-2 -3-3 -3-3 -3-4 -3-3 -3-3 -2-4 -3-3 -4-3 -3-2 -3-3 -3-3 -3-4 -2-3 -2-4 -2-4 -3-3 -2-4 -3-3 -2-4 -3-3 -3-4 -3-4 -2-3 -1-5 -1-4 -1-4 0-5 0-4 -1-4 0-5 -1-4 -1-4 -2-4 -2-4 -1-4 -1-4 -1-4 -1-5 0-4 0-4 1-4 0-4 1-4 1-4 1-4 0-4 1-4 1-3 0-4 1-4 1-3 1-3 1-4 2-3 1-3 1-4 1-3 1-3 1-3 2-3 2-2 2-2 2-3 2-2 2-2 2-3 1-2 2-3 2-2 2-2 2-2 3-1 3-2 2-1 3-2z" fill="#ff3232"/><path d="M54 241l0-3 -1-4 -2-4 -1-3 -1-4 -1-4 0-3 0-4 1-4 1-3 2-4 1-3 1-4 1-3 1-4 0-3 1-4 1-3 0-4 1-3 2-4 1-3 2-3 2-3 2-3 2-3 3-3 2-2 3-3 2-3 2-3 2-3 2-3 1-3 2-3 2-3 3-3 2-2 3-3 3-2 3-3 2-2 3-2 3-3 3-2 3-2 3-2 3-1 3-2 3-2 3-2 3-2 3-2 3-3 3-2 3-2 3-2 3-2 3-2 3-1 4-1 4-1 4-1 3 0 4-1 3-2 3-2 3-2 3-3 3-2 3-2 3-1 3-1 4-1 3-1 3-2 4-1 3-2 3-2 3-1 4-1 3-1 4 0 3-1 4-1 3-1 4-2 3-1 4-1 3-1 4-1 3-1 4-1 3-1 4-1 3 0 4 0 4 0 4 1 3 0 4 0 3 0 4-1 3-1 4-1 3-1 4 0 4-1 3 0 4 1 4 0 3 0 4 0 3 0 4 0 4 0 3 0 4 0 3-1 4-1 3-1 4-1 4-1 3 0 4 0 3 1 4 0 4 1 3 0 4-1 3-1 4-1 4-1 3 0 4-1 4 1 3 0 4 2 3 1 4 1 3 1 4 1 3 1 4 0 4 0 3 0 4 0 3 1 4 0 4 0 3 1 4 1 3 1 4 1 3 2 3 1 4 2 3 1 3 1 4 1 4 0 3 0 4 0 4 1 3 1 4 1 3 1 3 2 4 1 3 1 4 1 3 2 3 1 3 2 4 2 3 2 3 2 3 2 3 2 3 1 3 2 4 2 3 1 3 2 3 2 3 2 3 2 3 3 2 3 2 4 1 3 2 4 1 3 2 3 3 3 2 2 3 3 3 2 2 3 2 3 1 3 2 4 1 3 2 3 2 3 2 3 2 3 2 3 1 3 2 4 1 3 1 4 1 3 1 4 2 3 2 3 1 4 2 3 1 3 1 4 1 3 1 4 1 3 1 4 0 4 0 4 -1 3 0 4 -1 4 0 3 1 4 0 3 1 4 0 4 0 3 0 4 0 3 -1 4 -1 3 -1 4 -1 3 -1 4 -1 3 -1 4 -1 3 0 4 -1 3 0 4 0 4 0 3 0 4 -1 4 -1 3 -2 3 -2 4 -1 3 -2 3 0 4 -1 3 0 4 -1 4 0 4 -1 3 -1 4 -2 3 -2 3 -3 3 -2 3 -3 3 -2 2 -2 3 -2 4 -1 3 -2 3 -2 3 -1 3 -2 4 -2 3 -2 2 -2 3 -3 3 -2 2 -3 3 -3 2 -3 2 -3 3 -2 2 -3 3 -2 3 -2 3 -2 3 -2 3 -2 3 -2 3 -3 2 -3 3 -2 2 -3 2 -3 3 -2 2 -3 3 -3 2 -3 2 -3 2 -3 2 -3 2 -3 2 -3 3 -2 2 -3 2 -3 3 -2 2 -3 3 -3 2 -3 2 -3 2 -4 1 -3 1 -4 1 -4 0 -4 1 -3 0 -4 2 -3 1 -3 2 -3 3 -3 1 -3 2 -4 1 -3 0 -4 1 -4 1 -3 1 -3 2 -3 1 -4 1 -3 2 -4 0 -3 1 -4 1 -3 0 -4 1 -3 1 -4 1 -3 2 -4 1 -3 1 -4 0 -3 1 -4 1 -3 1 -4 0 -4 1 -3-1 -4 0 -4-1 -4 0 -3-1 -4 0 -3 1 -4 0 -4 1 -3 0 -4 0 -3 0 -4-1 -3-1 -4 0 -3-1 -4-1 -3-1 -4-1 -3-1 -4-1 -3-1 -4 0 -4 0 -3 0 -4 0 -4 0 -3-1 -4-1 -3-2 -3-1 -3-2 -4-1 -4 0 -3 0 -4 0 -4-1 -4 0 -3-1 -4-1 -3-2 -3-3 -3-2 -3-3 -2-2 -3-3 -3-2 -2-2 -3-3 -2-2 -3-3 -2-2 -2-3 -2-3 -2-3 -2-4 -2-3 -1-3 -1-4 -2-3 -2-4 -2-3 -2-3 -3-2 -2-3 -4-2 -3-2 -3-2 -3-2 -2-2 -3-3 -3-2 -3-2 -3-3 -3-2 -3-2 -2-2 -3-2 -3-3 -3-2 -2-3 -3-2 -2-3 -3-2 -3-2 -2-3 -3-2 -3-3 -2-2 -3-3 -2-3 -1-3 -2-4 -1-4 0-3 -1-4 -2-4 -1-3 -3-3 -2-3 -3-2 -3-2 -3-3 -2-2 -3-3 -2-3 -2-3 -2-3 -2-3 -3-2 -3-3 -2-2 -2-3 -1-3 -2-4 -1-3 -1-3 -2-4 -1-3 -2-3 -1-4 -1-3 -1-4 -1-3 -1-4 -1-4 -1-3z" fill="#ff5a2d"/><path d="M78 241l0-3 0-4 0-4 0-3 0-4 1-4 1-3 1-4 1-3 0-3 1-4 1-3 0-4 1-3 2-4 2-3 2-3 2-2 3-3 3-2 2-3 3-2 2-3 2-3 3-3 2-3 2-2 2-3 2-3 3-3 3-2 2-3 3-2 3-2 3-2 3-2 3-3 3-2 3-2 3-2 2-2 3-2 3-2 3-3 3-2 3-1 4-2 3-1 4-1 3-1 4-1 3-2 3-1 4-2 3-1 3-2 3-2 3-1 4-2 3-1 4-1 3-1 4-1 3-1 3-1 4-1 3-1 4-1 3-1 4-1 3-1 4-1 3-1 4-1 3-1 4-1 3 0 4 0 4 0 3 0 4-1 3 0 4 0 3-1 4-1 4 0 3-1 4-1 3 0 4-1 3 0 4 0 4 0 3-1 4 0 3-1 4-1 3-1 4-2 3-1 4-1 3-1 4 0 4 0 3 0 4 0 3-1 4 0 3-2 4-1 4 0 3 0 4 0 4 0 3 1 4 1 3 0 4 1 4 0 3 0 4 1 3 0 4 1 4 0 3 0 4 1 3 0 4 0 4 0 3 0 4 0 3 1 4 0 3 1 4 1 3 1 4 1 3 1 4 1 4 0 3 0 4 1 3 1 4 1 3 1 3 2 4 2 3 2 3 2 3 1 3 2 3 1 4 2 3 1 3 1 4 1 3 1 4 2 3 1 3 2 3 2 3 2 3 2 3 2 3 3 3 2 2 2 3 3 3 2 3 3 3 2 2 3 3 3 2 2 2 4 2 3 1 3 1 4 2 3 1 4 2 3 1 3 2 3 1 4 2 3 2 3 1 4 1 3 1 4 1 3 1 4 0 3 1 4 0 4 1 3 0 4 1 3 0 4 1 3 1 4 0 4 1 3 0 4 0 3 0 4 -1 4 -1 3 0 4 -1 3 -1 4 0 3 -1 4 0 3 -1 4 0 3 -1 4 0 3 -1 4 -1 3 -2 4 -1 3 -2 3 -1 4 -1 3 0 4 -1 4 0 3 0 4 -1 4 -2 3 -1 3 -2 4 -2 3 -2 3 -2 3 -1 3 -1 4 -1 3 -2 4 -2 3 -2 3 -3 2 -3 3 -3 2 -3 3 -2 2 -3 2 -3 3 -2 2 -3 3 -3 2 -3 2 -3 2 -2 3 -3 2 -3 3 -2 2 -3 3 -3 2 -3 2 -3 2 -3 2 -3 2 -3 1 -4 2 -3 2 -3 1 -3 2 -3 3 -3 2 -3 2 -3 1 -4 1 -3 1 -4 1 -3 1 -4 0 -3 1 -4 1 -3 1 -4 2 -3 1 -3 2 -3 1 -4 2 -3 1 -3 2 -4 1 -3 1 -4 1 -3 1 -4 0 -3 1 -4 1 -3 1 -4 0 -3 1 -4 1 -4 1 -3 1 -4 0 -3 1 -4 0 -4 0 -3-1 -4 0 -4-1 -3 0 -4-1 -3 0 -4 0 -4 0 -3 1 -4 0 -4 0 -3-1 -4 0 -3 0 -4-1 -4 0 -3-1 -4-1 -3 0 -4-1 -3-1 -4 0 -3-1 -4 0 -4 0 -3-1 -4 0 -3-1 -4-1 -3-1 -4-1 -3-1 -4-1 -3-1 -4 0 -4 0 -4 1 -4 1 -4 1 -3 2 -4 2 -4 1 -4 2 -3 1 -4 1 -3 0 -2 0 -3 0 -2-1 -3-1 -2-2 -3-2 -3-3 -2-4 -2-4 -1-3 -1-4 -2-4 -1-3 -3-3 -2-3 -3-2 -3-3 -2-2 -2-3 -2-2 -2-3 -2-3 -2-3 -2-3 -3-2 -2-3 -3-2 -3-2 -3-3 -2-2 -3-3 -3-2 -3-2 -3-2 -2-3 -3-2 -3-2 -2-3 -2-3 -2-3 -1-3 -2-4 -1-3 -2-3 -2-3 -2-3 -2-3 -2-3 -2-3 -3-3 -2-3 -1-3 -2-4 -2-3 -2-3 -2-3 -2-3 -2-3 -3-2 -2-3 -3-2 -2-3 -2-2 -3-3 -1-3 -2-3 -1-4 -1-3 -1-4 -1-3 -1-4 0-4 -1-3 0-4 -1-4z" fill="#ff8228"/><path d="M149 168l2-3 3-3 3-2 3-2 2-2 3-3 3-2 4-1 3-1 4-1 3-1 4-1 3-1 4-1 4 0 3-1 4-1 4 0 3-1 4-1 3-1 4-1 3-2 3-1 3-2 4-2 3-1 3-1 4-1 3 0 4 0 4-1 3 0 4 0 3-1 4-1 3 0 4-1 3 0 4-1 4 0 3-2 3-1 4-2 3-2 3-1 4-1 3-1 4 0 4 0 3 0 4 0 4 0 3 0 4-1 4 1 3 0 4-1 3 0 4-2 3-2 3-2 3-2 4-2 3-1 4-1 4 1 3 0 4 0 4-1 3 0 4-1 3 0 4 0 4 1 3 2 4 1 3 0 4 0 4 0 3 0 4-1 3 1 4 0 3 0 4 1 3-1 4 0 4-1 4-1 3 0 4 1 3 1 4 2 3 1 4 1 3 1 4 0 4 0 3 2 3 1 4 3 2 2 4 2 3 2 3 1 3 2 4 2 3 2 2 3 3 2 2 3 3 3 2 2 3 2 4 2 2 2 3 3 2 3 2 3 1 3 2 3 2 4 1 3 2 3 2 3 1 4 0 4 1 3 0 4 1 3 1 4 1 3 1 4 1 4 0 3 0 4 0 3 0 4 0 4 0 3 -1 4 0 3 -1 4 -1 3 -1 4 0 3 -1 4 -1 3 0 4 -1 3 0 4 0 4 -1 3 0 4 -1 4 -2 3 -2 3 -2 3 -2 3 -2 3 -2 3 -2 3 -2 3 -2 3 -2 3 -2 3 -2 3 -2 3 -2 3 -2 3 -1 4 -2 3 -2 4 -2 3 -2 2 -3 3 -3 2 -3 1 -4 2 -3 2 -3 2 -3 1 -4 2 -3 1 -3 2 -3 1 -3 3 -3 3 -2 3 -2 3 -3 3 -3 2 -3 2 -4 0 -4 1 -3 1 -4 1 -3 2 -3 1 -4 1 -4 1 -3-1 -4 0 -4-1 -4 0 -3 1 -3 0 -4 1 -3 1 -4 1 -3 0 -4-1 -3 1 -4 0 -4 1 -3 2 -4 1 -4 0 -3 0 -4 0 -3-1 -4-1 -3-1 -4 1 -4 0 -4 0 -3 0 -4-1 -3-1 -4-2 -3-1 -3-1 -4 0 -4-1 -3 0 -4-1 -3-2 -3-2 -3-1 -4-2 -3-1 -4 0 -4-1 -3 0 -4-1 -3-2 -3-2 -3-1 -4-2 -3-2 -3-2 -3-1 -3-2 -3-2 -3-3 -2-2 -3-3 -2-3 -3-2 -3-2 -3-2 -3-2 -3-2 -3-2 -3-2 -3-2 -3-3 -3-2 -3-2 -3-2 -3-2 -3-2 -2-2 -3-3 -2-2 -1-3 -2-2 -2-3 -1-3 -2-4 -1-3 0-4 -1-4 1-4 1-4 1-4 2-4 1-3 2-4 1-4 1-3 1-4 1-3 0-3 0-4 0-3 -2-3 -2-3 -2-2 -3-2 -4-2 -3-2 -3-2 -3-2 -3-3 -3-3 -3-3 -3-2 -4-3 -3-2 -3-3 -3-2 -2-3 -2-2 -2-2 -2-2 -2-2 -2-4 0-4 0-4 2-4 2-3z" fill="#ffa523"/><path d="M256 265l1 3 0 3 0 2 -1 3 -1 2 -1 2 -1 3 -1 2 -1 2 -2 2 -1 2 -3 2 -2 1 -3 0 -2 2 -2 2 -2 1 -3 1 -2 0 -3 0 -3 0 -2 0 -3 0 -3 0 -2 0 -3-2 -2-2 -1-2 -2-2 -1-2 -1-2 0-3 -1-2 0-3 1-2 1-3 1-2 2-2 1-2 2-2 1-2 2-2 3-2 2-1 3 0 2-1 3-1 2-1 2-1 3 0 3 0 2 0 3-1 3 0 2 1 3 2 2 2 2 1 2 2z" fill="#ff8228"/><path d="M232 278l1 2 -1 3 -2 2 -2 2 -2 1 -3 1 -3 0 -2 0 -3 0 -2-1 -2-3 0-2 1-3 2-2 2-2 2-1 3-1 2-1 3 1 3 0 2 2z" fill="#ff5a2d"/><path d="M209 217l0-3 0-3 2-2 1-3 2-3 2-3 3-3 3-3 3-3 4-2 3-2 4-2 4-2 3-2 3-1 4-1 3-2 3-1 4 0 3-1 4-1 3 0 3-2 3-1 3-2 3-2 3-2 4-2 3-2 3-1 4-1 4 0 3 1 4 0 4 0 4 0 4 0 3-1 3-2 4-1 3-2 3-2 3-2 3-2 3-2 3-1 4-1 3-1 4-1 3-2 3-1 3-2 4-2 3-1 3-2 4-1 3-1 4 0 4 0 3 0 4 1 4 0 3 1 4 0 3-1 4 0 3-1 4-1 3-1 4-1 4 0 3 0 4 0 3 1 4 1 3 1 4 1 3 0 4 1 3 1 4 0 4 1 3 1 4 2 3 1 3 2 3 2 3 2 3 2 3 2 3 2 3 3 3 2 3 2 2 2 3 3 3 2 3 2 2 3 2 3 2 3 1 3 1 4 1 3 1 4 1 3 2 3 1 3 2 4 1 3 2 3 1 4 2 3 1 4 1 4 1 3 0 4 0 4 -1 3 -1 4 -2 4 -1 3 -2 3 -1 4 -1 3 -1 4 0 3 -1 4 -1 3 -1 3 -2 4 -1 3 -1 3 -1 4 -1 3 -2 4 -1 3 -2 3 -2 3 -2 3 -2 3 -3 2 -2 3 -3 3 -2 2 -3 2 -3 2 -3 2 -3 2 -3 2 -3 2 -3 3 -2 2 -2 3 -3 3 -2 3 -3 3 -3 2 -4 1 -3 1 -4 1 -4 0 -4 0 -4 0 -3 0 -4 0 -3 1 -4 1 -3 1 -3 2 -4 1 -3 1 -4 0 -3 0 -4 0 -4 0 -3 0 -4 0 -3 0 -4 0 -4 0 -3 0 -4 0 -4 0 -3-1 -4-1 -3-2 -3-1 -3-2 -4-3 -3-2 -3-1 -3-2 -3-1 -4-1 -4 0 -3 0 -4-1 -4 0 -3-1 -3-1 -4-1 -3-1 -4-1 -3-1 -4-1 -3 0 -4 0 -4-1 -3-1 -4 0 -3-2 -4-1 -3-2 -3-2 -2-3 -3-3 -2-3 -3-3 -1-4 -1-3 -1-4 -1-3 0-3 0-4 1-3 2-3 2-4 2-3 2-2 3-3 1-4 1-4 0-4 -2-3 -2-4 -3-3 -3-2 -4-2 -3-1 -4-1 -3-1 -4 0 -3-1 -3 0 -4-1 -3-2 -4-2 -3-3 -3-3 -3-3 -2-3 -3-3 -2-3 -2-2 -1-3z" fill="#ffc814"/><path d="M346 235l0-4 0-3 0-4 1-4 1-3 1-4 1-4 1-3 1-4 2-3 2-4 2-3 2-3 2-3 3-2 2-3 3-3 2-2 3-3 3-2 3-2 4-1 3-1 4-2 3-1 3-2 3-1 4-2 3-1 3-2 4-1 3-1 4 0 3-1 4 0 3 0 4 0 4 0 3 0 4 1 3 0 4 0 4 1 3 1 4 1 3 1 3 2 3 1 4 2 3 2 3 2 3 2 3 1 3 3 3 2 3 2 2 3 2 3 3 3 1 3 2 3 2 3 2 4 1 3 2 3 1 4 2 3 0 4 1 3 0 4 0 4 -1 3 0 4 -1 4 -1 3 -1 4 0 3 -1 4 0 3 0 4 -1 4 -1 3 -1 4 -1 3 -2 4 -2 3 -3 2 -2 3 -3 3 -3 2 -2 3 -3 2 -2 3 -3 3 -2 3 -3 2 -4 2 -3 1 -4 1 -4 0 -3 0 -4 0 -4 0 -3 0 -4 0 -4 0 -3 0 -4 0 -3 0 -4-1 -3-1 -3-1 -4-1 -3 0 -4-1 -3-1 -4-1 -3-1 -4 0 -3-1 -4-1 -4 0 -3-1 -4 0 -4-1 -4-1 -3-1 -4-2 -3-3 -2-2 -3-3 -2-4 -2-3 -1-3 -2-4 -1-4 -1-3 0-4 -1-4 0-4 0-3 0-4 0-3 0-4z" fill="#fff200"/><path d="M501 227l0 3 0 4 -1 3 -1 4 -2 3 -1 3 -1 4 -2 3 -1 4 -2 3 -2 3 -2 3 -3 2 -3 3 -2 2 -3 3 -3 2 -3 2 -3 1 -4 2 -3 1 -4 0 -4 1 -3 0 -4 1 -3 0 -4-1 -3 0 -4 1 -4-1 -4 0 -3-1 -4-1 -3-2 -3-2 -3-3 -2-2 -3-3 -2-2 -3-3 -3-2 -2-3 -3-2 -2-3 -2-4 -1-3 -2-3 -1-4 0-4 0-3 0-4 0-4 0-3 0-4 0-3 0-4 1-4 1-3 1-4 2-3 2-3 1-3 2-3 2-3 3-3 3-2 2-3 3-2 3-2 3-2 4-1 3-2 3-1 4-1 3-1 4-2 3-1 4 0 3 0 4 0 4 1 3 1 4 1 3 1 4 2 3 1 3 2 3 1 3 2 4 2 3 1 3 3 3 2 2 4 1 3 1 4 2 3 1 3 2 4 2 3 1 3 1 4 0 3 1 4z" fill="#dcff2d"/><path d="M493 227l0 3 0 4 -1 3 -1 4 -2 3 -1 3 -2 4 -1 3 -2 3 -2 3 -2 3 -3 3 -3 2 -3 2 -3 2 -3 2 -3 1 -4 2 -3 1 -4 0 -3 1 -4 0 -4 1 -3 0 -4 0 -4-1 -3-1 -4-1 -3-2 -3-1 -3-2 -3-3 -3-2 -3-2 -2-3 -3-2 -2-3 -2-3 -2-3 -1-3 -1-4 -1-3 -1-4 -1-3 -1-4 0-3 1-4 0-4 1-3 1-4 1-3 1-4 2-3 1-3 2-3 3-3 2-3 2-3 3-2 3-2 4-2 3-1 3-2 3-1 4-2 3-1 4-1 3 0 4 1 3 0 4 0 4 1 3 0 4 1 3 2 3 2 4 2 3 2 3 2 3 2 2 3 2 3 2 3 2 3 2 3 2 3 1 3 1 4 1 3 0 3 1 4z" fill="#a0ff5a"/><path d="M486 227l0 3 0 4 -1 4 -1 3 -1 4 -2 3 -2 3 -2 3 -2 3 -2 3 -3 2 -3 3 -2 2 -3 2 -4 1 -3 2 -3 1 -4 0 -3 0 -4 0 -3 0 -4 1 -4-1 -3 0 -4-2 -3-1 -3-2 -3-2 -3-3 -3-2 -2-3 -3-2 -2-3 -2-3 -2-4 -1-3 -1-4 -1-3 -1-4 0-4 0-3 1-4 0-4 1-3 1-4 1-3 2-3 2-4 2-2 2-3 3-3 2-2 3-2 4-2 3-2 3-1 3-2 4-1 3-1 4 0 3 0 4 0 3 1 4 1 3 1 4 1 3 1 3 2 3 2 3 3 3 2 2 3 2 3 2 3 2 3 2 3 1 4 1 3 1 4 0 4z" fill="#64ff82"/><path d="M482 227l0 3 -1 4 -1 4 -1 3 -2 3 -2 3 -1 4 -2 3 -3 3 -2 2 -3 2 -3 2 -4 2 -3 1 -4 1 -4 0 -3 1 -4 0 -3 0 -4 0 -4 0 -3-1 -3-2 -3-3 -3-2 -3-2 -3-2 -2-3 -3-2 -2-4 -2-3 -2-3 0-4 0-4 0-3 0-4 0-3 0-4 0-4 1-3 1-4 2-3 2-3 3-2 3-2 2-3 3-3 3-2 3-2 3-1 4-1 3-1 4 0 4 0 3 1 4 0 4 0 3 1 4 2 3 1 3 2 3 2 3 3 2 3 1 3 2 3 2 3 2 3 1 4 1 3 1 4z" fill="#00ffa0"/><path d="M479 227l0 2 0 3 -1 2 0 3 -1 2 -2 2 -1 3 -1 2 -1 2 -1 3 -1 2 -2 2 -2 1 -3 2 -2 1 -2 1 -2 2 -3 1 -2 1 -3 0 -2 1 -3 0 -3 1 -2 0 -3 0 -2 0 -3-1 -2-1 -3-1 -2-1 -3-1 -2-1 -2-1 -2-2 -2-2 -2-2 -2-2 -1-2 -2-2 -1-2 -1-2 -1-3 0-2 -1-3 -1-2 -1-3 0-2 0-3 1-2 0-3 1-2 1-3 0-2 1-3 1-2 1-2 2-2 1-2 2-2 2-2 2-2 2-1 2-2 3-1 2-1 2-1 3-1 2-1 3-1 3 0 2 1 3 0 2 0 3 0 3 0 3 1 2 1 2 1 2 2 2 2 2 1 3 2 2 1 2 2 1 2 2 2 1 2 1 2 1 3 1 2 1 3 0 2 0 3 0 2z" fill="#00ffd2"/><path d="M476 227l0 2 -1 3 0 2 0 3 -1 2 -1 2 -2 3 -1 2 -1 2 -2 2 -2 2 -2 1 -2 2 -2 1 -2 2 -2 1 -2 2 -2 1 -3 0 -2 1 -3 0 -3 0 -2 0 -3-1 -2-1 -3 0 -2-1 -3 0 -2-1 -3-1 -2-2 -2-1 -2-2 -2-2 -1-2 -2-3 -1-2 -1-2 -1-3 0-3 -1-2 0-3 -1-2 -1-2 0-3 0-3 1-2 1-2 1-3 1-2 1-2 1-2 2-2 1-2 2-2 2-2 2-2 2-1 2-2 2-1 2-1 3-1 3-1 2 0 3 0 2 0 3 0 2 0 3 0 2 1 3 1 2 1 3 1 2 1 2 1 2 2 2 2 2 1 2 2 1 3 2 2 1 2 0 3 1 2 1 3 0 3 0 2z" fill="#00ffff"/><path d="M473 227l0 2 0 3 0 2 -1 3 -1 2 -1 3 -1 2 -1 3 -2 2 -1 2 -2 2 -3 1 -2 1 -3 1 -2 1 -2 1 -2 1 -2 1 -3 1 -2 0 -3 0 -2 0 -3-1 -2 0 -3-1 -2-1 -2-1 -3-1 -2-2 -2-2 -2-1 -2-2 -2-2 -1-2 -2-2 0-3 -1-2 -1-3 -1-2 0-3 0-2 0-3 0-2 1-3 0-3 0-2 1-2 2-3 1-2 2-2 1-2 2-2 2-1 2-2 2-2 2-1 3-1 2-1 3 0 2 0 3-1 2 0 3 0 3 0 2 0 3 0 2 1 2 2 3 1 2 1 2 2 1 2 2 2 2 1 1 2 2 2 2 2 1 3 1 2 0 3 0 2 0 3z" fill="#00dcff"/><path d="M471 227l1 2 0 3 -1 2 -1 3 -1 2 -2 2 -1 2 -1 2 -1 2 -2 2 -2 2 -2 2 -2 1 -2 2 -3 1 -2 1 -3 0 -2 0 -3 0 -3 0 -2 0 -3 0 -3 0 -2-1 -3-1 -2-2 -2-1 -2-2 -2-2 -2-2 -1-2 -1-2 -2-2 -1-3 -1-2 -1-3 0-2 0-3 0-3 0-2 0-3 1-2 1-3 1-2 1-2 2-2 2-2 1-2 2-2 1-2 2-2 2-1 3-1 2-1 3 0 3 0 2-1 3 0 2 0 3 0 3 0 2 1 3 1 2 1 2 2 2 1 2 2 2 2 2 2 2 2 1 2 1 3 1 2 1 3 0 2 0 3z" fill="#00b9ff"/><path d="M470 227l0 2 -1 3 0 2 -1 3 -2 2 -1 2 -1 3 -1 2 -2 2 -2 2 -2 1 -3 1 -2 2 -2 1 -3 1 -2 1 -3 0 -3 0 -2-1 -3-1 -2-1 -2 0 -3-1 -2-1 -2-1 -2-1 -3-2 -2-2 -1-2 -1-2 -1-3 -1-2 -1-2 -1-3 -1-3 0-2 0-3 1-3 1-2 0-3 1-3 2-2 1-2 2-2 2-2 2-1 2-2 2-1 2-1 3-2 2-1 2 0 3 0 3 1 2 0 3-1 2 0 3 1 2 1 3 1 2 2 2 2 2 2 1 2 2 1 2 3 1 2 1 2 0 3 1 2 0 3z" fill="#008cff"/><path d="M467 227l0 2 0 3 -1 2 -1 3 -2 2 -1 2 -1 2 -1 2 -2 2 -2 2 -2 1 -2 1 -3 1 -2 1 -3 1 -3 0 -2 0 -3 0 -2-1 -3 0 -3-2 -2-1 -2-1 -2-1 -2-2 -1-2 -1-3 -2-1 -2-3 -1-2 0-3 -1-2 0-3 0-3 1-2 1-3 1-2 0-3 1-2 2-2 2-2 2-2 2-2 2-1 2-1 3-1 2-1 2 0 3 0 2 0 3 0 3 0 2 0 3 1 2 2 2 1 2 2 2 2 2 1 2 3 1 2 1 2 1 3 0 2 1 3z" fill="#0a5aff"/><path d="M465 227l0 2 -1 3 0 3 -1 2 -1 3 -2 1 -2 2 -2 2 -3 1 -2 1 -2 2 -2 2 -2 1 -3-1 -2 0 -3 0 -3-1 -2-1 -2-1 -3 0 -2-1 -3-1 -1-3 -1-2 -2-2 -1-3 -1-2 -1-3 0-2 0-3 0-2 1-3 0-2 1-3 2-2 1-2 2-2 1-2 2-2 2-1 3-1 2-1 3-1 2 0 3 0 3 0 2 0 3 1 2 1 2 2 2 1 2 2 2 1 2 2 1 2 1 3 0 2 1 3 1 2z" fill="#284bff"/><path d="M461 226l1 3 0 3 -1 2 -2 2 -1 3 -1 2 -2 2 -2 2 -2 1 -3 1 -2 1 -3 0 -2 1 -3 0 -3 0 -2-1 -2-1 -3-2 -2-1 -2-2 -1-1 -2-2 -2-3 0-2 0-3 0-2 -1-3 -1-2 1-3 1-2 1-3 1-2 2-1 2-2 2-2 2-2 2-1 3-1 2 0 3-1 2 0 3 0 3 1 2 1 3 1 1 2 2 2 2 2 2 2 1 2 0 3 0 2 1 2z" fill="#3232fa"/><path d="M459 227l0 2 -1 3 -1 2 -1 3 -1 2 -2 2 -2 1 -3 1 -2 2 -2 1 -3 0 -2 0 -3-1 -3 0 -2-2 -2-1 -2-1 -2-2 -2-3 -1-2 -1-2 0-3 0-3 0-2 0-3 1-2 2-2 1-3 1-2 3-1 2-1 2-2 3 0 2 0 3-1 3 1 2 1 3 1 2 1 2 2 2 2 1 2 1 2 1 3 1 2z" fill="#3232cd"/><path d="M449 227l-1 2 -1 3 -2 2 -2 1 -3 0 -2 0 -3-1 -1-2 -2-1 -1-3 0-3 1-2 1-2 2-2 3-1 2 0 3 1 2 1 2 1 1 3z" fill="#3232a5"/>
<path d="M57.3 0V553.1M243.9 0V553.1M430.5 0V553.1M617.2 0V553.1M803.8 0V553.1M990.4 0V553.1M0 475.2H1034.2M0 398H1034.2M0 320.1H1034.2M0 241.2H1034.2M0 161.4H1034.2M0 80.4H1034.2" stroke="#fff" stroke-opacity="0.09" stroke-width="2" fill="none"/>
<path d="M215.9 555.4L216.4 546.1L214.5 536.7L216.7 531.9L218.5 524.6L223.1 516.3L222.1 513L218.6 506.6L218.9 502.4L216.7 497.2L216 486.1L213.9 480.7L214.8 476.4L213.8 470.5L211.9 463.9L210.8 457.7L209.4 453.6L207.9 448.1L206.5 441.5L204.1 436.3L204.6 431L201 424.6L194.6 416.3L191.4 414.5L187.6 408.1L183.6 403.6L179.8 398.5L174.6 394.6L171.5 389.8L167.6 385.6L162.2 381.7L156.3 377.5L152.5 374.9L147.6 369.8L143.3 363.5L138.3 358.2L130.1 353.5L126.7 348.3L122.9 347L118.4 340.5L115.9 333.7L112.6 327.7L111 318.3L105.1 314.1L98.4 309.5L94.2 304.9L90.3 301.8L86.9 296.6L85.7 290.1L83 284.2L80.8 277.8L82.9 271.4L85.6 266.1L86.3 260.5L89.9 254.3L90.9 246.3L94.5 242.7L101.1 240.5L105.2 237.6L109.8 235L115.8 230.2L115.7 224.4L117.9 215L119 207.8L128 206.7L131.3 204.2L136.8 202.3L140.5 198L146.9 195.8L152.5 190.3L158.7 186.3L163.7 183.5L169.6 179.8L174.2 177.4L180.6 174L187.6 171L191.1 169.9L200.2 171.6L204.5 175.6L208.9 177.6L211 184.4L215.5 183.3L221.1 181.7L227.2 174.7L231.5 177.3L240.5 185.1L241.9 184.6L238.8 189.5L233.6 197.4L234.8 207.2L237.2 215.1L239.3 222.4L244.9 227.4L248.2 233.1L256.7 230.3L264.3 226.7L267.1 218.4L261.8 211.9L256.8 206.5L258.7 196.8L260.9 188.4L264.7 186.6L269.4 183.6L273.7 186L278.3 184.2L283.7 180.7L289.3 182.7L295.5 181L298.3 178.7L304.9 177.9L310.5 175.4L320.5 174.1L330.3 173.5L333.7 170.4L340.2 171.8L347.9 167.9L354.6 163.6L359 156.3L363.2 158L367.1 156.5L371.6 153.2L377.6 152.3L382.9 150.3L387.1 145.5L391.9 152.4L396.5 159L400.5 150.2L401.2 142.4L407 139.2L413.4 135.7L416.9 134.8L421.5 136.7L427 136.6L434.3 129.3L440.3 128.2L445.2 132L450.7 132.9L456.5 131.5L460.9 131.1L466.3 127.3L473.3 125.2L477.7 125.8L483.4 123.6L489.3 116.4L491.2 111.5L492.1 106.7L500.8 104.9L507.3 101.5L514.7 95.3L519 90.4L521.7 86.6L532.3 84.5L535.6 78.1L540 71.9L544.2 70.1L539.9 67.1L535.4 63.3L540.6 62.2L546.9 58.9L552.7 59.7L556.3 58.5L561.8 56.4L568 50.6L576.2 43.1L580.9 35L589.2 29.1L597.7 25.2L602.3 18.5L608.4 11.1L601.3 6.4L606.1 -1.3M648.3 49.8L644.2 54.8L639.4 58.8L637.6 65L636.8 70.1L633.1 74.8L630.9 78.1L628.7 84.8L627 89.4L624.8 93.4L622.4 98.9L620.4 104.9L619 111.2L618.7 118.7L620.5 124.1L622.1 128.5L628.6 135.1L631.4 140.1L636.7 143.4L639.3 149.5L641.5 153.7L642.3 158.5L642.5 162.9L649.1 165.9L650.6 157.8L650.9 151.9L652.8 146.3L655 141.2L658.4 135.6L660.8 131.1L664.2 127.4L666.8 120.6L669.9 114.5L670.9 108.7L673.5 103.6L676.1 95.6L677.5 88.7L678.6 82.2L679.2 74.6L679.4 69.5L682.1 64.6L683.6 56.7L684.6 50.7L684.5 46.6L682.9 39.4L679.5 33.9L675.1 29.9L670.1 25.5L663.2 28.7L658.4 32.2L654.8 37.2L650.9 39.8L649.3 44.9ZM211 252.2L217.2 248.9L220.9 247.6L225.6 244.6L230.6 242.8L236.5 243.7L241.5 243.7L249.9 240.7L256.2 239.7L261.7 239L268.7 237.2L273 242.5L280.8 246.1L281 254.6L276.3 260.1L269.4 265.1L266.5 271L261.2 280.7L259.6 286.9L257.5 290.8L253.1 298L243.3 303.4L239.2 307L234.2 308.2L228.1 312.7L219.3 309.9L216.6 307.7L211.8 306L207.1 305.1L201.8 303.2L192.9 299.3L193.7 291.6L192.5 285.8L191.9 281.5L193.4 272.6L197.6 264.6L202.4 259.4L207.1 256.1ZM637.7 303.2L641.1 298.9L643.8 294.9L652.1 296.5L659.8 298.9L668.3 305L673.5 306.2L678.2 307.9L687 307.9L695.2 304.1L699.1 300.2L700.8 305.2L700.6 315.9L700.6 319.7L698.8 325.6L699.7 330.7L699.1 334.3L701.5 341.2L702.7 343.9L709.9 349.7L709.2 359.6L707.1 364.8L705.5 370L703.9 374.4L701.3 379L695.5 387.1L690.3 394.9L681.9 397.5L675.4 403.3L674 407.9L674.4 413L673.8 417.9L670.1 423.6L667.3 429.6L672.9 435.3L678 441.3L679.7 447.5L680.9 452.6L679.5 462.4L683.2 469.9L692.3 476.4L698.8 478.5L701.8 472.6L706.7 464.9L714.9 463.4L723.7 464.5L729.1 470.1L731.1 478.3L733.6 483.6L740.5 488L744.1 483.8L749.2 479.6L757 478.2L765.5 482.2L770.3 490.1L774.3 494L781.5 485.6L780.9 478.4L775.2 471.6L772.2 474.5L770.7 479.2L769.6 482.8L762.2 478L755.1 473.8L747.2 475.4L740.3 483.4L736.6 479.3L734.1 471L730.8 463.2L723.3 458.8L712.8 459.2L704.8 464.1L701.3 470.8L695.6 472.5L687.7 467.8L683.8 459.3L683.9 450.4L681.5 441L679.5 438.2L675.5 434.1L671.9 428.8L667.8 432.3L663.1 438.3L660.2 443.4L654.6 451.6L646.5 449.6L638.5 446.3L634.3 453.8L628 448.6L622.4 442.9L618.8 435.8L617.2 426.3L613.6 419.4L612.3 414.5L610.7 410.3L609.2 402.8L608.5 393.4L610.9 388.8L610.9 383.7L612.9 387.1L618.7 394.3L626.5 395.5L634.6 390.5L632.5 384.8L627.9 374.4L628 369.7L629.2 364.6L628.7 359.6L629 353.7L631.5 350.7L632.5 344.7L630.9 334.5L630.9 330L632.1 323.5L635.3 319.9L633.9 314.2L636.2 309.1ZM634.7 497.7L639.9 497L646.2 495.9L649.5 493.7L653.7 494.2L659.4 498.9L663.4 503.8L667.9 508.1L670.9 513.9L673.8 517.1L673 522.8L671.4 528.8L669.5 533.4L666.8 537.5L662.3 543.2L654.4 541L652 535.5L648.5 529.2L646.5 524.1L644.7 518.4L641.5 513.3L638.4 509.8L636.7 503.6ZM684.8 495.8L691.5 491.4L694.7 496.7L695 504.1L688.9 506.5L683.8 501.7ZM709.4 480L714.4 477.3L716 483.6L715.3 487.1L714 491.6L715.5 497.4L715.7 501.9L713.7 507.2L708.6 500.4L710.4 489.9ZM727.1 509.5L735.2 508L742.9 514.5L751.1 520.3L758.5 515.5L765.9 507.8L773.8 513.2L769 522L761.3 525.3L753.2 527.7L747.1 524.5L743.1 523.2L738.2 521L732.3 520.7L730 514.4ZM734.9 493.8L742.3 491.4L746.7 499.4L743.6 507.2L737.7 503.1L735.9 498.7ZM758.5 497.7L764.3 496.7L768.4 495.8L773 501.6L769.4 507.4L762.4 505.6ZM778.1 529.2L782.9 528L787.9 527.5L793 529.2L797.1 529.8L802.5 528.5L807.5 527L811.9 530.9L815.1 534.7L821.3 542L822.7 547.8L823.3 553.3L817.5 554.4L811.7 555.8L804 552.9L798.7 552L788.8 549.7L785.1 545.9L782.2 541.2L780.1 535.1ZM611.1 540.9L619.1 539.9L626.5 544.8L628.1 553.1L620.4 554.4L613.1 548.8ZM691.7 527.2L699.7 526.3L698.9 529.5L698.2 533.9L695.6 540.2L693.7 545.1L689.1 548.1L687.7 543L690 538.1L690.7 532.1ZM703.5 531.1L711.4 531.8L717.1 538.9L713.6 542.5L705.4 539.0ZM738.8 529.2L746.8 531.3L749.3 536.3L752.2 541.1L757.1 548.5L750.8 553.6L745.8 548.6L742.8 545.5L736.9 537.0ZM760.5 539L768.8 540.8L772.5 550.2L767.7 554.4L763 551.4L761.4 544.9ZM620 480L625.8 481.1L630.4 486.7L625.3 488.9L621 485.0ZM640.6 480L648.4 482.9L655 488L648.2 490.5L642.6 485.9Z" fill="none" stroke="#fff" stroke-width="1.8" stroke-linejoin="round"/><path d="M599.2 98.9h0.1M601.2 106.8h0.1M598.2 112.7h0.1M671.9 136.3h0.1M675.8 159.8h0.1M687.6 209.0h0.1M689.6 226.6h0.1M669.9 265.9h0.1M668.0 285.6h0.1M728.9 63.6h0.1M758.4 67.5h0.1M768.2 63.6h0.1M778.0 57.7h0.1M663.2 277.7h0.1M666.2 285.5h0.1M687.8 284.6h0.1M727.1 459.4h0.1M122.6 205.0h0.1M130.5 207.0h0.1M136.4 209.0h0.1M148.1 201.1h0.1M161.9 202.1h0.1M211.0 201.1h0.1M159.9 235.5h0.1M340.7 173.6h0.1M346.6 175.6h0.1M374.1 128.4h0.1M380.0 138.2h0.1M383.9 153.9h0.1M389.8 161.8h0.1M93.1 267.6h0.1M93.1 290.2h0.1M145.2 353.0h0.1M163.9 384.5h0.1M177.6 394.3h0.1M189.4 400.2h0.1M211.0 422.8h0.1M220.8 527.9h0.1M218.9 543.6h0.1" fill="none" stroke="#fff" stroke-width="4" stroke-linecap="round"/>
<g stroke="#1a0500" stroke-opacity="0.88" stroke-width="1.65" fill="none"><g marker-end="url(#a0)"><path d="M-1 16l-12 4"/><path d="M27 16l-12 6"/><path d="M54 16l-13 8"/><path d="M81 16l-11 6"/><path d="M108 16l-7 11"/><path d="M136 16l-3 15"/><path d="M163 16l-4 17"/><path d="M190 16l-4 19"/><path d="M-14 39l-12 6"/><path d="M13 39l-12 7"/><path d="M40 39l-13 5"/><path d="M68 39l-13 8"/><path d="M95 39l-8 10"/><path d="M122 39l-5 13"/><path d="M150 39l-3 16"/><path d="M-1 63l-14 5"/><path d="M27 63l-14 3"/><path d="M54 63l-11 6"/><path d="M81 63l-10 7"/><path d="M108 63l-4 12"/><path d="M136 63l-3 17"/><path d="M163 63l-1 17"/><path d="M190 63l-1 19"/><path d="M-14 86l-8 10"/><path d="M13 86l-11 6"/><path d="M40 86l-11 7"/><path d="M68 86l-8 9"/><path d="M95 86l-7 11"/><path d="M122 86l-2 13"/><path d="M150 86l0 15"/><path d="M177 86l3 17"/><path d="M231 86l4 19"/><path d="M-1 109l-4 12"/><path d="M27 109l-7 11"/><path d="M54 109l-6 11"/><path d="M81 109l-4 12"/><path d="M108 109l0 13"/><path d="M136 109l1 13"/><path d="M163 109l1 16"/><path d="M190 109l1 19"/><path d="M218 109l4 17"/><path d="M-14 132l-3 12"/><path d="M13 132l-1 13"/><path d="M40 132l-1 13"/><path d="M68 132l3 12"/><path d="M95 132l3 12"/><path d="M122 132l2 13"/><path d="M150 132l8 13"/><path d="M177 132l9 13"/><path d="M204 132l10 15"/><path d="M231 132l9 15"/><path d="M-1 156l1 13"/><path d="M27 156l2 14"/><path d="M54 156l4 13"/><path d="M81 156l5 13"/><path d="M108 156l7 12"/><path d="M136 156l5 15"/><path d="M163 156l10 15"/><path d="M190 156l11 13"/><path d="M218 156l10 14"/><path d="M245 156l13 15"/><path d="M-14 179l6 15"/><path d="M13 179l4 14"/><path d="M40 179l6 15"/><path d="M68 179l4 14"/><path d="M95 179l7 13"/><path d="M122 179l9 13"/><path d="M150 179l10 14"/><path d="M177 179l12 13"/><path d="M204 179l12 10"/><path d="M231 179l14 13"/><path d="M-1 202l4 16"/><path d="M27 202l7 16"/><path d="M54 202l5 15"/><path d="M81 202l7 15"/><path d="M108 202l8 15"/><path d="M136 202l12 12"/><path d="M163 202l11 12"/><path d="M190 202l13 11"/><path d="M218 202l15 11"/><path d="M245 202l19 6"/><path d="M-14 226l6 13"/><path d="M13 226l5 14"/><path d="M40 226l6 15"/><path d="M68 226l6 15"/><path d="M95 226l7 18"/><path d="M122 226l11 13"/><path d="M150 226l10 13"/><path d="M177 226l11 9"/><path d="M204 226l17 8"/><path d="M231 226l17 5"/><path d="M-1 249l5 13"/><path d="M27 249l5 14"/><path d="M54 249l8 13"/><path d="M81 249l10 11"/><path d="M108 249l6 14"/><path d="M136 249l9 13"/><path d="M163 249l11 11"/><path d="M190 249l14 7"/><path d="M218 249l17 8"/><path d="M-14 272l8 10"/><path d="M13 272l7 10"/><path d="M40 272l7 10"/><path d="M68 272l9 9"/><path d="M95 272l10 12"/><path d="M122 272l10 12"/><path d="M150 272l12 7"/><path d="M177 272l12 6"/><path d="M204 272l17 5"/><path d="M231 272l19 -2"/><path d="M-1 296l11 6"/><path d="M27 296l12 5"/><path d="M54 296l12 5"/><path d="M81 296l10 7"/><path d="M108 296l10 7"/><path d="M136 296l11 6"/><path d="M163 296l13 5"/><path d="M190 296l15 3"/><path d="M218 296l17 -2"/><path d="M245 296l20 -2"/><path d="M-14 319l13 -1"/><path d="M13 319l15 -3"/><path d="M40 319l16 -1"/><path d="M68 319l13 -3"/><path d="M95 319l13 2"/><path d="M122 319l13 2"/><path d="M150 319l13 0"/><path d="M177 319l14 -2"/><path d="M204 319l16 -2"/><path d="M231 319l19 -6"/><path d="M259 319l19 -5"/><path d="M-1 342l15 -4"/><path d="M27 342l18 -8"/><path d="M54 342l17 -2"/><path d="M81 342l18 -3"/><path d="M108 342l16 -4"/><path d="M136 342l15 -3"/><path d="M163 342l15 -4"/><path d="M190 342l16 -8"/><path d="M-14 366l16 -7"/><path d="M13 366l17 -8"/><path d="M68 366l20 -3"/><path d="M95 366l18 -7"/><path d="M122 366l17 -7"/><path d="M150 366l19 -5"/><path d="M177 366l18 -10"/><path d="M204 366l16 -9"/><path d="M-1 389l18 -6"/><path d="M27 389l17 -7"/><path d="M54 389l18 -8"/><path d="M81 389l17 -3"/><path d="M108 389l16 -7"/><path d="M218 389l18 -7"/><path d="M-14 412l19 -4"/><path d="M13 412l17 -8"/><path d="M68 412l17 -10"/><path d="M95 412l16 -9"/><path d="M-1 435l17 -9"/><path d="M54 435l18 -7"/><path d="M108 435l16 -11"/><path d="M-14 459l16 -8"/><path d="M27 482l17 -9"/><path d="M136 482l15 -13"/><path d="M-14 505l17 -9"/><path d="M-14 552l18 -7"/></g><g marker-end="url(#a1)"><path d="M218 16l-3 20"/><path d="M245 16l-6 24"/><path d="M272 16l-8 21"/><path d="M327 16l-8 23"/><path d="M382 16l-16 18"/><path d="M409 16l-18 15"/><path d="M436 16l-21 11"/><path d="M463 16l-22 6"/><path d="M491 16l-23 2"/><path d="M518 16l-23 -2"/><path d="M177 39l2 21"/><path d="M204 39l-4 22"/><path d="M231 39l0 21"/><path d="M259 39l-3 22"/><path d="M450 39l-21 8"/><path d="M532 39l-22 -10"/><path d="M218 63l0 21"/><path d="M245 63l3 23"/><path d="M272 63l0 25"/><path d="M204 86l4 20"/><path d="M259 86l2 21"/><path d="M245 109l12 18"/><path d="M272 109l9 22"/><path d="M300 109l5 24"/><path d="M259 132l9 20"/><path d="M286 132l13 20"/><path d="M272 156l14 17"/><path d="M259 179l20 9"/><path d="M286 179l15 19"/><path d="M272 202l20 9"/><path d="M259 226l19 7"/><path d="M286 226l22 9"/><path d="M423 226l7 22"/><path d="M832 226l-9 -23"/><path d="M245 249l20 3"/><path d="M272 249l24 4"/><path d="M300 249l21 3"/><path d="M259 272l21 -1"/><path d="M286 272l22 2"/><path d="M272 296l24 -2"/><path d="M286 319l22 -8"/><path d="M218 342l21 -5"/><path d="M245 342l20 -7"/><path d="M272 342l21 -7"/><path d="M300 342l23 -8"/><path d="M40 366l20 -6"/><path d="M231 366l22 -7"/><path d="M259 366l21 -7"/><path d="M996 366l-15 -20"/><path d="M136 389l20 -11"/><path d="M163 389l22 -9"/><path d="M190 389l19 -11"/><path d="M245 389l20 -8"/><path d="M272 389l21 -11"/><path d="M300 389l21 -13"/><path d="M40 412l20 -9"/><path d="M122 412l18 -12"/><path d="M150 412l15 -17"/><path d="M177 412l19 -10"/><path d="M204 412l19 -13"/><path d="M231 412l19 -11"/><path d="M259 412l20 -9"/><path d="M286 412l17 -18"/><path d="M27 435l21 -3"/><path d="M81 435l17 -14"/><path d="M136 435l16 -14"/><path d="M163 435l17 -14"/><path d="M190 435l17 -12"/><path d="M218 435l16 -14"/><path d="M245 435l19 -14"/><path d="M300 435l22 -10"/><path d="M13 459l18 -11"/><path d="M40 459l19 -10"/><path d="M68 459l19 -9"/><path d="M95 459l18 -11"/><path d="M122 459l14 -18"/><path d="M150 459l17 -15"/><path d="M177 459l18 -14"/><path d="M204 459l18 -12"/><path d="M231 459l17 -14"/><path d="M286 459l17 -16"/><path d="M750 459l-7 -22"/><path d="M-1 482l19 -7"/><path d="M54 482l19 -8"/><path d="M81 482l21 -9"/><path d="M108 482l18 -13"/><path d="M163 482l18 -14"/><path d="M190 482l18 -13"/><path d="M218 482l20 -14"/><path d="M327 482l17 -18"/><path d="M354 482l22 -12"/><path d="M764 482l-6 -24"/><path d="M13 505l18 -11"/><path d="M40 505l21 -13"/><path d="M68 505l17 -14"/><path d="M95 505l20 -9"/><path d="M122 505l18 -14"/><path d="M150 505l16 -15"/><path d="M177 505l19 -11"/><path d="M204 505l18 -17"/><path d="M231 505l17 -16"/><path d="M259 505l19 -15"/><path d="M313 505l18 -17"/><path d="M477 505l15 -20"/><path d="M750 505l-4 -24"/><path d="M-1 529l21 -10"/><path d="M27 529l18 -9"/><path d="M54 529l18 -9"/><path d="M81 529l19 -10"/><path d="M108 529l17 -10"/><path d="M136 529l20 -12"/><path d="M163 529l18 -14"/><path d="M190 529l17 -18"/><path d="M327 529l17 -18"/><path d="M13 552l21 -8"/><path d="M40 552l19 -14"/><path d="M68 552l19 -9"/><path d="M95 552l20 -8"/><path d="M122 552l16 -15"/><path d="M150 552l17 -14"/><path d="M177 552l16 -16"/><path d="M204 552l20 -14"/><path d="M231 552l17 -13"/><path d="M259 552l19 -14"/><path d="M286 552l21 -12"/></g><g marker-end="url(#a2)"><path d="M300 16l-8 25"/><path d="M354 16l-15 24"/><path d="M545 16l-24 -8"/><path d="M573 16l-23 -14"/><path d="M600 16l-20 -17"/><path d="M682 16l-16 -24"/><path d="M736 16l-10 -24"/><path d="M764 16l-10 -28"/><path d="M846 16l-8 -28"/><path d="M873 16l-3 -30"/><path d="M900 16l-7 -29"/><path d="M927 16l-9 -27"/><path d="M982 16l-4 -27"/><path d="M1037 16l-3 -29"/><path d="M286 39l-1 26"/><path d="M313 39l-5 25"/><path d="M341 39l-13 26"/><path d="M368 39l-16 23"/><path d="M423 39l-25 11"/><path d="M477 39l-26 5"/><path d="M504 39l-27 0"/><path d="M559 39l-24 -13"/><path d="M586 39l-19 -21"/><path d="M668 39l-23 -19"/><path d="M805 39l-8 -28"/><path d="M914 39l-6 -28"/><path d="M996 39l-6 -28"/><path d="M1023 39l-6 -29"/><path d="M300 63l-6 26"/><path d="M327 63l-6 27"/><path d="M382 63l-14 23"/><path d="M409 63l-21 20"/><path d="M463 63l-27 3"/><path d="M491 63l-28 2"/><path d="M545 63l-23 -17"/><path d="M600 63l-21 -21"/><path d="M764 63l-12 -25"/><path d="M791 63l-8 -29"/><path d="M846 63l-4 -29"/><path d="M873 63l-6 -28"/><path d="M927 63l-9 -25"/><path d="M286 86l-2 26"/><path d="M313 86l-3 27"/><path d="M341 86l-8 28"/><path d="M586 86l-22 -20"/><path d="M750 86l-13 -27"/><path d="M832 86l-8 -28"/><path d="M914 86l-6 -28"/><path d="M941 86l-3 -30"/><path d="M327 109l-5 28"/><path d="M382 109l-20 22"/><path d="M545 109l-25 -15"/><path d="M873 109l-10 -27"/><path d="M900 109l-10 -26"/><path d="M927 109l-4 -27"/><path d="M1009 109l-7 -28"/><path d="M1037 109l-1 -29"/><path d="M313 132l3 25"/><path d="M723 132l-13 -26"/><path d="M859 132l-11 -27"/><path d="M887 132l-7 -29"/><path d="M968 132l-8 -28"/><path d="M996 132l-9 -27"/><path d="M300 156l11 24"/><path d="M327 156l8 26"/><path d="M354 156l-1 30"/><path d="M818 156l-11 -26"/><path d="M846 156l-9 -29"/><path d="M873 156l-15 -25"/><path d="M900 156l-4 -29"/><path d="M1009 156l-5 -29"/><path d="M313 179l18 19"/><path d="M341 179l8 27"/><path d="M805 179l-8 -27"/><path d="M887 179l-14 -26"/><path d="M914 179l-8 -29"/><path d="M968 179l-10 -26"/><path d="M1023 179l-5 -26"/><path d="M300 202l24 16"/><path d="M327 202l14 23"/><path d="M764 202l-15 -26"/><path d="M818 202l-11 -27"/><path d="M955 202l-14 -25"/><path d="M1009 202l-13 -26"/><path d="M313 226l26 11"/><path d="M450 226l-13 -24"/><path d="M723 226l-1 -29"/><path d="M777 226l-6 -30"/><path d="M914 226l-8 -29"/><path d="M941 226l-5 -27"/><path d="M968 226l-6 -28"/><path d="M996 226l-10 -27"/><path d="M327 249l27 11"/><path d="M764 249l-5 -29"/><path d="M873 249l-9 -28"/><path d="M1009 249l-9 -28"/><path d="M1037 249l-11 -27"/><path d="M313 272l25 11"/><path d="M750 272l-2 -30"/><path d="M805 272l-6 -29"/><path d="M859 272l-11 -27"/><path d="M996 272l-10 -28"/><path d="M1023 272l-9 -27"/><path d="M300 296l26 1"/><path d="M327 296l28 -1"/><path d="M873 296l-9 -29"/><path d="M900 296l-8 -25"/><path d="M955 296l-10 -27"/><path d="M1009 296l-10 -27"/><path d="M1037 296l-10 -23"/><path d="M313 319l29 -3"/><path d="M341 319l28 -1"/><path d="M668 319l2 -29"/><path d="M723 319l-1 -29"/><path d="M777 319l-1 -29"/><path d="M832 319l-5 -26"/><path d="M914 319l-10 -27"/><path d="M941 319l-10 -28"/><path d="M996 319l-16 -25"/><path d="M1023 319l-12 -25"/><path d="M327 342l27 -6"/><path d="M354 342l28 -8"/><path d="M736 342l-2 -28"/><path d="M791 342l-6 -29"/><path d="M818 342l-8 -26"/><path d="M846 342l-11 -26"/><path d="M873 342l-12 -25"/><path d="M900 342l-14 -25"/><path d="M982 342l-12 -25"/><path d="M1009 342l-10 -27"/><path d="M1037 342l-17 -24"/><path d="M286 366l23 -10"/><path d="M313 366l25 -9"/><path d="M341 366l25 -12"/><path d="M368 366l25 -12"/><path d="M395 366l24 -15"/><path d="M641 366l-1 -30"/><path d="M750 366l2 -28"/><path d="M777 366l-9 -23"/><path d="M805 366l-11 -27"/><path d="M832 366l-13 -27"/><path d="M859 366l-11 -25"/><path d="M887 366l-15 -24"/><path d="M914 366l-11 -26"/><path d="M941 366l-17 -20"/><path d="M968 366l-13 -22"/><path d="M1023 366l-19 -22"/><path d="M327 389l23 -12"/><path d="M354 389l26 -11"/><path d="M491 389l16 -25"/><path d="M682 389l3 -30"/><path d="M764 389l-8 -24"/><path d="M791 389l-13 -24"/><path d="M818 389l-13 -23"/><path d="M846 389l-15 -26"/><path d="M873 389l-17 -25"/><path d="M955 389l-18 -21"/><path d="M982 389l-21 -18"/><path d="M1009 389l-26 -14"/><path d="M1037 389l-20 -22"/><path d="M313 412l23 -13"/><path d="M341 412l21 -19"/><path d="M368 412l22 -17"/><path d="M395 412l20 -18"/><path d="M614 412l6 -29"/><path d="M641 412l5 -29"/><path d="M723 412l-2 -27"/><path d="M750 412l0 -27"/><path d="M777 412l-8 -26"/><path d="M805 412l-14 -24"/><path d="M832 412l-13 -24"/><path d="M968 412l-17 -22"/><path d="M996 412l-18 -23"/><path d="M1023 412l-23 -19"/><path d="M272 435l21 -16"/><path d="M327 435l25 -15"/><path d="M354 435l20 -18"/><path d="M382 435l24 -16"/><path d="M409 435l21 -21"/><path d="M436 435l20 -22"/><path d="M600 435l14 -26"/><path d="M627 435l9 -29"/><path d="M682 435l5 -30"/><path d="M709 435l1 -29"/><path d="M736 435l-4 -27"/><path d="M764 435l-8 -26"/><path d="M791 435l-12 -23"/><path d="M818 435l-15 -24"/><path d="M846 435l-17 -22"/><path d="M927 435l-23 -15"/><path d="M955 435l-20 -22"/><path d="M982 435l-20 -22"/><path d="M259 459l21 -15"/><path d="M313 459l24 -12"/><path d="M341 459l23 -17"/><path d="M368 459l21 -17"/><path d="M423 459l18 -21"/><path d="M450 459l20 -20"/><path d="M477 459l13 -24"/><path d="M668 459l14 -27"/><path d="M695 459l3 -28"/><path d="M723 459l1 -25"/><path d="M777 459l-15 -24"/><path d="M805 459l-21 -20"/><path d="M832 459l-17 -21"/><path d="M914 459l-22 -19"/><path d="M996 459l-23 -19"/><path d="M245 482l26 -10"/><path d="M272 482l23 -13"/><path d="M300 482l20 -16"/><path d="M382 482l19 -20"/><path d="M409 482l21 -21"/><path d="M436 482l21 -21"/><path d="M491 482l13 -24"/><path d="M573 482l12 -26"/><path d="M682 482l3 -29"/><path d="M709 482l0 -26"/><path d="M736 482l-7 -27"/><path d="M846 482l-18 -23"/><path d="M873 482l-18 -22"/><path d="M900 482l-22 -18"/><path d="M955 482l-22 -20"/><path d="M1037 482l-20 -21"/><path d="M286 505l20 -16"/><path d="M341 505l21 -14"/><path d="M368 505l22 -19"/><path d="M395 505l22 -18"/><path d="M504 505l14 -25"/><path d="M532 505l5 -29"/><path d="M695 505l4 -29"/><path d="M723 505l-7 -28"/><path d="M777 505l-13 -25"/><path d="M805 505l-20 -20"/><path d="M914 505l-22 -20"/><path d="M941 505l-18 -24"/><path d="M968 505l-18 -22"/><path d="M996 505l-19 -23"/><path d="M218 529l20 -18"/><path d="M245 529l17 -20"/><path d="M272 529l21 -19"/><path d="M300 529l20 -15"/><path d="M382 529l17 -24"/><path d="M409 529l18 -24"/><path d="M436 529l18 -23"/><path d="M463 529l19 -21"/><path d="M491 529l13 -27"/><path d="M518 529l8 -26"/><path d="M654 529l13 -26"/><path d="M682 529l6 -29"/><path d="M709 529l3 -26"/><path d="M736 529l-5 -28"/><path d="M764 529l-8 -25"/><path d="M791 529l-12 -25"/><path d="M818 529l-15 -24"/><path d="M846 529l-19 -22"/><path d="M900 529l-16 -23"/><path d="M927 529l-21 -20"/><path d="M982 529l-20 -19"/><path d="M1009 529l-22 -19"/><path d="M313 552l23 -17"/><path d="M341 552l17 -20"/><path d="M368 552l22 -17"/><path d="M395 552l19 -23"/><path d="M450 552l13 -26"/><path d="M477 552l17 -23"/><path d="M504 552l16 -25"/><path d="M532 552l14 -26"/><path d="M614 552l8 -28"/><path d="M641 552l15 -26"/><path d="M695 552l1 -26"/><path d="M723 552l2 -27"/><path d="M750 552l-7 -25"/><path d="M777 552l-14 -25"/><path d="M832 552l-19 -22"/><path d="M859 552l-17 -22"/><path d="M887 552l-19 -19"/><path d="M914 552l-20 -21"/><path d="M968 552l-20 -22"/><path d="M1023 552l-19 -20"/></g><g marker-end="url(#a3)"><path d="M627 16l-21 -23"/><path d="M654 16l-22 -21"/><path d="M709 16l-19 -24"/><path d="M791 16l-7 -32"/><path d="M818 16l-11 -29"/><path d="M955 16l-7 -29"/><path d="M1009 16l-8 -31"/><path d="M395 39l-22 21"/><path d="M614 39l-21 -22"/><path d="M641 39l-25 -20"/><path d="M695 39l-17 -27"/><path d="M723 39l-18 -27"/><path d="M750 39l-9 -30"/><path d="M777 39l-11 -29"/><path d="M832 39l-9 -33"/><path d="M859 39l-5 -32"/><path d="M887 39l-13 -27"/><path d="M941 39l-11 -30"/><path d="M968 39l-10 -29"/><path d="M354 63l-10 30"/><path d="M436 63l-27 13"/><path d="M518 63l-30 -10"/><path d="M573 63l-24 -21"/><path d="M627 63l-22 -23"/><path d="M654 63l-21 -27"/><path d="M682 63l-19 -26"/><path d="M709 63l-16 -29"/><path d="M736 63l-13 -30"/><path d="M818 63l-9 -33"/><path d="M900 63l-13 -30"/><path d="M955 63l-4 -32"/><path d="M982 63l-14 -28"/><path d="M1009 63l-7 -30"/><path d="M1037 63l1 -30"/><path d="M368 86l-12 29"/><path d="M395 86l-24 20"/><path d="M423 86l-24 21"/><path d="M450 86l-33 9"/><path d="M477 86l-33 0"/><path d="M504 86l-30 0"/><path d="M532 86l-30 -13"/><path d="M559 86l-26 -18"/><path d="M614 86l-25 -22"/><path d="M668 86l-18 -29"/><path d="M695 86l-20 -26"/><path d="M723 86l-16 -29"/><path d="M777 86l-11 -29"/><path d="M805 86l-11 -31"/><path d="M859 86l-8 -30"/><path d="M887 86l-4 -30"/><path d="M968 86l-9 -33"/><path d="M996 86l-6 -30"/><path d="M1023 86l-3 -31"/><path d="M354 109l-2 32"/><path d="M409 109l-22 26"/><path d="M491 109l-35 1"/><path d="M573 109l-28 -18"/><path d="M654 109l-20 -24"/><path d="M709 109l-18 -27"/><path d="M736 109l-17 -28"/><path d="M764 109l-14 -27"/><path d="M791 109l-11 -29"/><path d="M818 109l-8 -32"/><path d="M846 109l-7 -30"/><path d="M955 109l-6 -32"/><path d="M982 109l1 -32"/><path d="M341 132l1 30"/><path d="M368 132l-10 30"/><path d="M641 132l-18 -25"/><path d="M695 132l-20 -24"/><path d="M750 132l-16 -27"/><path d="M777 132l-9 -31"/><path d="M805 132l-12 -28"/><path d="M832 132l-11 -29"/><path d="M914 132l-2 -34"/><path d="M941 132l-14 -30"/><path d="M1023 132l-4 -33"/><path d="M654 156l-15 -29"/><path d="M682 156l-16 -29"/><path d="M709 156l-16 -29"/><path d="M736 156l-15 -30"/><path d="M764 156l-14 -31"/><path d="M791 156l-9 -29"/><path d="M927 156l-7 -31"/><path d="M955 156l-6 -30"/><path d="M982 156l-10 -30"/><path d="M1037 156l-5 -33"/><path d="M668 179l-13 -31"/><path d="M695 179l-11 -33"/><path d="M723 179l-12 -32"/><path d="M750 179l-11 -30"/><path d="M777 179l-11 -30"/><path d="M832 179l-11 -29"/><path d="M859 179l-11 -29"/><path d="M941 179l-7 -33"/><path d="M996 179l-15 -27"/><path d="M354 202l12 28"/><path d="M682 202l-9 -29"/><path d="M736 202l-6 -31"/><path d="M791 202l-10 -31"/><path d="M846 202l-8 -30"/><path d="M873 202l-15 -30"/><path d="M900 202l-11 -31"/><path d="M927 202l-13 -29"/><path d="M982 202l-10 -33"/><path d="M1037 202l-9 -29"/><path d="M341 226l28 20"/><path d="M668 226l-10 -33"/><path d="M695 226l4 -30"/><path d="M750 226l-12 -31"/><path d="M805 226l-13 -29"/><path d="M859 226l-9 -32"/><path d="M887 226l-9 -29"/><path d="M1023 226l-12 -28"/><path d="M354 249l31 15"/><path d="M600 249l-3 -31"/><path d="M682 249l-4 -32"/><path d="M709 249l-4 -32"/><path d="M736 249l0 -31"/><path d="M791 249l-10 -30"/><path d="M818 249l-9 -31"/><path d="M846 249l-6 -32"/><path d="M900 249l-16 -27"/><path d="M927 249l-10 -30"/><path d="M955 249l-12 -29"/><path d="M982 249l-14 -30"/><path d="M341 272l32 4"/><path d="M368 272l33 11"/><path d="M641 272l3 -32"/><path d="M695 272l8 -32"/><path d="M723 272l1 -33"/><path d="M777 272l-5 -31"/><path d="M832 272l-12 -30"/><path d="M887 272l-13 -30"/><path d="M914 272l-15 -30"/><path d="M941 272l-16 -28"/><path d="M968 272l-11 -29"/><path d="M354 296l33 10"/><path d="M382 296l34 3"/><path d="M600 296l2 -35"/><path d="M654 296l2 -34"/><path d="M682 296l-1 -33"/><path d="M709 296l0 -32"/><path d="M736 296l4 -32"/><path d="M764 296l-3 -31"/><path d="M791 296l-11 -31"/><path d="M818 296l-9 -33"/><path d="M846 296l-13 -29"/><path d="M927 296l-13 -28"/><path d="M982 296l-12 -30"/><path d="M368 319l34 -2"/><path d="M586 319l6 -34"/><path d="M614 319l3 -34"/><path d="M641 319l0 -33"/><path d="M750 319l-1 -30"/><path d="M805 319l-5 -31"/><path d="M859 319l-11 -31"/><path d="M887 319l-12 -30"/><path d="M968 319l-15 -29"/><path d="M382 342l29 -9"/><path d="M436 342l23 -22"/><path d="M491 342l23 -26"/><path d="M654 342l6 -32"/><path d="M682 342l3 -31"/><path d="M709 342l1 -33"/><path d="M764 342l-4 -31"/><path d="M927 342l-11 -28"/><path d="M955 342l-14 -28"/><path d="M423 366l25 -19"/><path d="M586 366l9 -33"/><path d="M614 366l10 -31"/><path d="M668 366l6 -34"/><path d="M695 366l2 -32"/><path d="M723 366l4 -31"/><path d="M382 389l24 -18"/><path d="M409 389l23 -20"/><path d="M436 389l26 -22"/><path d="M463 389l16 -27"/><path d="M518 389l17 -30"/><path d="M545 389l12 -31"/><path d="M573 389l13 -33"/><path d="M600 389l13 -30"/><path d="M627 389l10 -32"/><path d="M654 389l8 -30"/><path d="M709 389l-1 -33"/><path d="M736 389l1 -32"/><path d="M900 389l-23 -22"/><path d="M927 389l-17 -25"/><path d="M423 412l22 -21"/><path d="M450 412l20 -25"/><path d="M477 412l24 -23"/><path d="M504 412l13 -28"/><path d="M532 412l11 -31"/><path d="M559 412l16 -29"/><path d="M586 412l8 -32"/><path d="M668 412l6 -32"/><path d="M695 412l-1 -33"/><path d="M859 412l-19 -24"/><path d="M887 412l-19 -24"/><path d="M914 412l-21 -24"/><path d="M941 412l-20 -24"/><path d="M463 435l22 -24"/><path d="M491 435l21 -25"/><path d="M518 435l13 -31"/><path d="M545 435l17 -28"/><path d="M654 435l6 -31"/><path d="M873 435l-19 -25"/><path d="M900 435l-21 -24"/><path d="M1009 435l-26 -17"/><path d="M1037 435l-22 -23"/><path d="M395 459l25 -19"/><path d="M504 459l12 -30"/><path d="M559 459l11 -31"/><path d="M586 459l10 -32"/><path d="M614 459l12 -29"/><path d="M641 459l6 -30"/><path d="M859 459l-22 -22"/><path d="M887 459l-22 -22"/><path d="M941 459l-22 -21"/><path d="M968 459l-24 -19"/><path d="M1023 459l-19 -23"/><path d="M463 482l18 -25"/><path d="M518 482l12 -32"/><path d="M545 482l12 -28"/><path d="M600 482l8 -33"/><path d="M627 482l6 -32"/><path d="M791 482l-12 -30"/><path d="M818 482l-17 -27"/><path d="M927 482l-23 -23"/><path d="M982 482l-21 -25"/><path d="M1009 482l-24 -19"/><path d="M423 505l20 -22"/><path d="M450 505l20 -25"/><path d="M559 505l9 -33"/><path d="M586 505l12 -31"/><path d="M614 505l5 -30"/><path d="M641 505l11 -32"/><path d="M668 505l13 -30"/><path d="M832 505l-23 -20"/><path d="M859 505l-20 -23"/><path d="M887 505l-22 -22"/><path d="M1023 505l-26 -20"/><path d="M354 529l21 -22"/><path d="M545 529l12 -28"/><path d="M573 529l8 -31"/><path d="M600 529l10 -32"/><path d="M627 529l8 -32"/><path d="M873 529l-19 -25"/><path d="M955 529l-21 -22"/><path d="M1037 529l-25 -20"/><path d="M423 552l23 -19"/><path d="M559 552l19 -29"/><path d="M668 552l1 -32"/><path d="M805 552l-17 -26"/><path d="M941 552l-17 -26"/><path d="M996 552l-26 -20"/></g><g marker-end="url(#a4)"><path d="M641 86l-24 -26"/><path d="M436 109l-36 10"/><path d="M463 109l-37 6"/><path d="M518 109l-33 -14"/><path d="M600 109l-23 -33"/><path d="M627 109l-20 -31"/><path d="M682 109l-21 -30"/><path d="M395 132l-29 23"/><path d="M423 132l-33 19"/><path d="M450 132l-39 9"/><path d="M477 132l-41 -1"/><path d="M504 132l-37 -13"/><path d="M532 132l-34 -18"/><path d="M559 132l-26 -24"/><path d="M586 132l-28 -23"/><path d="M614 132l-27 -27"/><path d="M668 132l-19 -31"/><path d="M382 156l-17 34"/><path d="M409 156l-32 25"/><path d="M436 156l-40 17"/><path d="M463 156l-48 -6"/><path d="M491 156l-41 -10"/><path d="M518 156l-35 -34"/><path d="M545 156l-31 -29"/><path d="M573 156l-18 -37"/><path d="M600 156l-20 -31"/><path d="M627 156l-14 -35"/><path d="M368 179l1 36"/><path d="M395 179l-12 42"/><path d="M423 179l-37 32"/><path d="M450 179l-49 5"/><path d="M477 179l-47 -13"/><path d="M504 179l-34 -35"/><path d="M532 179l-30 -38"/><path d="M559 179l-26 -39"/><path d="M586 179l-19 -36"/><path d="M614 179l-18 -31"/><path d="M641 179l-16 -32"/><path d="M382 202l4 35"/><path d="M409 202l-14 39"/><path d="M436 202l-32 25"/><path d="M463 202l-48 -9"/><path d="M491 202l-36 -33"/><path d="M518 202l-31 -38"/><path d="M545 202l-19 -35"/><path d="M573 202l-9 -40"/><path d="M600 202l-19 -34"/><path d="M627 202l-10 -36"/><path d="M654 202l-5 -35"/><path d="M709 202l-4 -35"/><path d="M368 226l22 30"/><path d="M395 226l22 42"/><path d="M477 226l-13 -47"/><path d="M504 226l-20 -44"/><path d="M532 226l-14 -47"/><path d="M559 226l-17 -42"/><path d="M586 226l-9 -39"/><path d="M614 226l-8 -37"/><path d="M641 226l-8 -35"/><path d="M382 249l32 32"/><path d="M409 249l39 20"/><path d="M436 249l36 -3"/><path d="M463 249l20 -42"/><path d="M491 249l3 -48"/><path d="M518 249l-8 -48"/><path d="M545 249l4 -43"/><path d="M573 249l2 -45"/><path d="M627 249l3 -35"/><path d="M654 249l-2 -37"/><path d="M395 272l35 7"/><path d="M423 272l49 -1"/><path d="M450 272l42 -24"/><path d="M477 272l27 -40"/><path d="M504 272l12 -47"/><path d="M532 272l3 -48"/><path d="M559 272l-3 -46"/><path d="M586 272l0 -39"/><path d="M614 272l2 -39"/><path d="M668 272l-5 -35"/><path d="M409 296l42 -6"/><path d="M436 296l40 -14"/><path d="M463 296l38 -26"/><path d="M491 296l14 -41"/><path d="M518 296l18 -46"/><path d="M545 296l8 -38"/><path d="M573 296l4 -36"/><path d="M627 296l3 -37"/><path d="M395 319l37 -1"/><path d="M423 319l33 -11"/><path d="M450 319l37 -23"/><path d="M477 319l23 -36"/><path d="M504 319l15 -34"/><path d="M532 319l15 -36"/><path d="M559 319l5 -43"/><path d="M695 319l-2 -35"/><path d="M409 342l32 -21"/><path d="M463 342l27 -24"/><path d="M518 342l15 -33"/><path d="M545 342l15 -34"/><path d="M573 342l10 -37"/><path d="M600 342l3 -35"/><path d="M627 342l18 -33"/><path d="M450 366l32 -20"/><path d="M477 366l24 -27"/><path d="M504 366l19 -32"/><path d="M532 366l12 -35"/><path d="M559 366l7 -35"/><path d="M573 435l10 -35"/><path d="M532 459l5 -36"/><path d="M654 482l14 -33"/><path d="M586 552l14 -33"/></g></g>
</g>
<rect x="0" y="0" width="82" height="70.5" fill="#c3c3c3"/>
<path d="M7.5 46.3H74" stroke="#5a5a5a" stroke-width="2.6" fill="none"/>
<path d="M60.5 39.8L76.5 46.3L60.5 52.8L66 46.3Z" stroke="#5a5a5a" stroke-width="2" fill="#c3c3c3" stroke-linejoin="miter"/>
<text x="9.5" y="24.6" font-size="24.6" fill="#333" stroke="#333" stroke-width="0.8">30 m/s</text>
<rect x="649.5" y="0" width="381.2" height="51.5" fill="#fff"/>
<text x="660.5" y="37.8" font-size="32.9" fill="#111">2012-08-16_18:00:00 UTC</text>
</g>
<path d="M0.8 0V552.2H1033.3V0" stroke="#3a1414" stroke-width="1.7" fill="none"/>
<path d="M0 1.5H1034.2" stroke="#a8484f" stroke-width="3" fill="none"/>
<path d="M1.5 0V72" stroke="#a8484f" stroke-width="3" fill="none"/>
<text x="57.9" y="624.1" font-size="38.8" text-anchor="middle">105°E</text>
<text x="244.5" y="624.1" font-size="38.8" text-anchor="middle">110°E</text>
<text x="431.1" y="624.1" font-size="38.8" text-anchor="middle">115°E</text>
<text x="617.8" y="624.1" font-size="38.8" text-anchor="middle">120°E</text>
<text x="804.4" y="624.1" font-size="38.8" text-anchor="middle">125°E</text>
<text x="991" y="624.1" font-size="38.8" text-anchor="middle">130°E</text>
<text x="-43.6" y="565" font-size="38.6" text-anchor="end">12°N</text>
<text x="-43.6" y="488.5" font-size="38.6" text-anchor="end">14°N</text>
<text x="-43.6" y="411.3" font-size="38.6" text-anchor="end">16°N</text>
<text x="-43.6" y="333.4" font-size="38.6" text-anchor="end">18°N</text>
<text x="-43.6" y="254.5" font-size="38.6" text-anchor="end">20°N</text>
<text x="-43.6" y="174.7" font-size="38.6" text-anchor="end">22°N</text>
<text x="-43.6" y="93.7" font-size="38.6" text-anchor="end">24°N</text>
<path d="M57.3 552.6v18.5M243.9 552.6v18.5M430.5 552.6v18.5M617.2 552.6v18.5M803.8 552.6v18.5M990.4 552.6v18.5M1 551.7h-18.6M1 475.2h-18.6M1 398h-18.6M1 320.1h-18.6M1 241.2h-18.6M1 161.4h-18.6M1 80.4h-18.6" stroke="#7d7d7d" stroke-width="2.5" fill="none"/>
</g>
<g transform="translate(1374.4,1346.3)">
<clipPath id="cp5"><rect x="0" y="0" width="1034.4" height="553.1"/></clipPath>
<g clip-path="url(#cp5)"><g filter="url(#bl)">
<rect x="-2" y="-2" width="1038.4" height="557.1" fill="#ff3232"/><path d="M601 -26l0 3 0 3 1 3 1 3 1 3 1 3 1 4 1 3 0 3 -1 3 -1 3 0 4 -1 3 0 3 0 4 1 3 0 3 0 4 0 3 1 4 0 3 0 4 0 3 1 3 0 4 1 3 0 3 0 4 1 3 1 3 0 4 1 3 2 3 1 3 1 3 2 3 1 3 1 3 1 3 1 4 1 3 0 3 1 3 0 3 1 4 0 3 1 3 1 3 1 3 0 3 1 3 0 4 1 3 0 3 0 3 0 3 0 4 0 3 0 3 0 3 0 4 1 3 0 3 1 3 0 3 -1 4 0 3 -1 3 -1 3 -1 4 0 3 -1 3 -1 3 0 3 -1 4 -1 3 0 3 0 3 0 4 1 3 1 3 0 4 1 3 0 3 -1 4 0 3 -1 3 0 3 0 4 -1 3 1 3 0 4 0 3 0 3 0 3 -1 4 0 3 -1 3 -1 3 -1 3 0 4 0 3 0 3 1 4 0 3 0 3 0 3 -1 4 -1 3 -1 3 -1 3 -1 3 -1 3 0 3 -1 4 -1 3 0 3 -1 3 -1 3 -1 3 -1 3 -1 4 0 3 0 3 -1 3 -1 4 -1 3 -1 3 -1 3 -1 3 0 3 0 4 0 3 0 4 0 3 -1 4 -1 3 -2 3 -2 2 -2 3 -2 3 -2 2 -1 3 -2 3 -1 3 -2 3 -2 2 -1 3 -2 3 -2 3 -2 2 -2 3 -1 3 -2 2 -2 3 -1 3 -2 3 -2 3 -1 3 -1 3 -2 3 0 3 -1 4 -1 3 -1 4 0 3 -1 3 -1 4 -2 3 -1 3 -2 3 -1 3 -1 3 -1 3 -1 4 -1 3 0 3 -1 3 -1 4 -1 3 0 3 -1 3 -1 3 -1 3 0 3 -1 3 -1 3 0 3 0 3 0 3 1 3 0 2 1 3 0 3 0 3 0 2 0 3 0 3 0 2 0 3 0 3 1 2 0 3 1 3 1 2 1 2 2 2 2 2 2 2 2 2 2 1 2 2 2 2 2 2 1 2 2 2 1 2 2 1 2 2 2 1 3 2 2 1 2 2 2 1 2 2 2 2 2 2 3 2 2 1 3 2 2 1 3 1 3 0 3 1 3 1 3 1 2 2 3 2 3 1 3 2 3 1 3 1 3 1 3 1 3 1 3 1 4 1 3 1 3 1 4 1 3 0 4 0 4 0 3 0 4 1 3 1 4 0 4 1 3 0 4-1 4-1 4-2 4-1 4 0 4 0 3 0 4 1 4 1 4 1 4 0 4 1 4 0 4 0 4 0 5 0 4 0 4 0 4 0 4 0 5 0 4 0 4 0 4-1 5 0 4 0 4 0 5-1 4-1 4-1 4-1 5-1 4-2 4-1 4-2 5-1 4-1 4-1 5-1 4 0 4-1 5-1 4-1 4-1 5-2 4-1 4-1 5-2 4-1 4-1 5-1 4-2 4-1 5-1 4-1 5-1 4-1 4-2 4-2 5-2 4-2 4-2 4-1 4-2 4-1 5-1 4-1 5-1 4-2 4-1 4-2 5-1 4-2 4-2 4-2 4-2 4-3 3-2 3-3 4-3 3-3 4-3 4-2 4-2 3-2 4-2 4-2 3-3 4-2 3-3 3-3 4-2 3-3 4-2 3-2 4-2 4-2 3-3 3-2 3-3 3-3 3-3 3-3 3-3 3-3 3-2 3-3 4-2 3-2 3-3 3-3 3-2 2-3 3-3 3-3 3-3 3-3 3-2 2-4 2-3 2-3 2-4 2-3 3-3 2-3 3-3 2-3 2-3 1-4 1-4 1-4 1-4 1-4 1-3 2-4 3-2 2-3 3-3 2-3 3-3 2-4 1-3 2-3 2-4 1-3 2-3 2-4 2-3 1-3 2-4 2-3 1-4 2-3 1-3 1-4 2-3 1-4 1-4 0-3 1-4 0-4 0-4 0-3 0-4 1-4 1-3 0-4 1-4 1-3 1-4 1-3 0-4 0-4 1-3 0-4 0-4 0-3 1-4 0-3 0-4 1-4 0-3 1-4 0-4 1-3 0-4 -1-4 0-3 -1-4 0-4 -1-3 0-4 0-3 1-4 0-4 0-4 0-3 1-4 -1-4 0-3 0-4 0-4 -1-3 0-4 -2-4 -1-3 -2-3 -2-4 -1-3 -2-4 -1-3 0-4 -1-3 -1-4 -1-4 -1-3 -1-3 -2-4 -1-3 -2-4 -1-3 -1-4 -1-3 -1-4 -1-3 -1-4 -1-3 -2-4 -2-3 -2-3 -2-3 -2-3 -2-4 -1-3 -2-4 -1-3 -1-4 -2-3 -1-4 -2-3 -2-3 -2-4 -2-3 -2-3 -2-4 -2-3 -2-3 -2-3 -3-3 -3-3 -2-3 -3-3 -2-3 -2-3 -2-3 -3-3 -3-2 -3-3 -4-2 -4-1 -4-2 -3-3 -3-2 -2-3 -2-4 -3-3 -2-3 -2-4 -3-2 -3-3 -3-3 -3-3 -3-2 -3-3 -3-3 -3-3 -3-2 -3-3 -4-3 -3-2 -3-3 -4-3 -3-2 -3-2 -4-3 -4-2 -4-2 -4-1 -4-2 -4-1 -4-2 -4-1 -4-2 -4-2 -4-2 -3-2 -4-2 -4-2 -4-2 -4-2 -4-2 -4-1 -4-2 -4-1 -4-2 -4-1 -4-2 -4-2 -4-1 -4-2 -4-2 -4-2 -4-1 -4-2 -4-1 -5-1 -4-1 -4-1 -5-1 -4-1 -4-1 -4-2 -4-2 -4-1 -4-2 -4-1 -4-2 -4-1 -4-1 -5-2 -4-1 -4 0 -4-1 -4 0 -5 0 -4 1 -4 0 -5 0 -4 0 -4-1 -4 0 -4-1 -4-1 -4 0 -4 0 -4 0 -4 0 -4 0 -4 0 -4 0 -4 0 -4-1 -3-1 -4 0 -4 0 -4 0 -4 0 -3 1 -4 1 -4 0 -3 1 -4 0 -4 0 -3 0 -4 0 -3-1 -4 1 -3 0 -4 1 -3 0 -4 1 -3 0 -3 1 -4 0 -3 1 -3 1 -3 1 -3 1 -3 2 -3 1 -3 1 -3 1 -3 1 -3 1 -2 2 -3 2 -2 2 -1 3 -2 3 -2 2 -2 2 -3 1 -2 1 -3 1 -3 1 -2 1 -3 1 -2 2 -2 2 -2 1 -2 2 -2 2 -2 2 -2 2 -2 2 -2 2 -2 2 -1 2 -2 2 -2 3 -1 2 -1 3 -2 2 -1 3 0 3 -1 2 0 3 0 3 0 3 0 3z" fill="#de3232"/><path d="M811 -25l0 3 0 3 -1 2 0 3 0 4 -1 3 0 3 -1 3 -1 3 0 4 -1 3 0 4 0 3 0 4 0 3 0 4 -1 3 0 4 -1 3 0 4 0 3 1 4 0 3 0 4 0 3 0 4 0 3 0 4 0 3 0 3 0 4 0 3 1 3 0 4 0 3 -1 4 0 3 -1 3 0 3 -1 4 0 3 -1 3 0 4 -1 3 -1 3 -1 3 -1 4 -1 3 -1 3 0 4 -1 3 -1 3 -2 3 -1 3 -2 4 -1 3 -1 3 0 3 0 4 -1 3 0 4 0 3 0 3 -1 4 0 3 0 3 0 4 0 3 0 3 0 4 0 3 0 3 0 3 -1 4 0 3 0 3 0 4 -1 3 0 4 0 3 0 4 0 3 1 3 1 4 1 3 2 3 1 3 1 4 1 3 1 3 0 4 1 3 0 3 1 4 1 3 1 3 1 4 0 3 1 3 0 4 0 3 -1 4 -1 3 -1 4 -1 3 -1 3 -1 3 -1 4 -1 3 0 3 0 4 0 3 0 3 0 4 -1 3 0 4 -1 3 -2 3 -1 3 -2 3 -1 3 -1 3 -1 4 0 3 -1 4 0 3 0 4 -1 3 0 4 -1 3 -1 3 -1 3 -1 3 0 4 -1 3 -1 3 -1 3 -1 3 -1 3 0 4 0 3 0 3 0 4 1 3 0 4 0 3 1 4 0 3 2 3 1 4 2 3 2 3 2 2 2 3 2 3 2 3 3 3 3 2 2 2 4 2 3 1 3 2 3 1 3 2 3 1 3 1 3 1 3 1 4 0 3 1 3 0 4 0 3 1 3 0 4 0 3-1 4-1 3 0 3-1 4-1 3-1 3 0 4-1 3-1 3-1 3-2 3-2 3-2 2-3 3-2 3-2 2-2 3-2 3-2 3-2 2-2 3-2 3-2 3-2 3-1 3-1 3-2 3 0 3-1 4-1 3-1 3 0 4 0 3-1 3 0 4-1 3-2 3-1 3-2 3-1 4-1 3-1 3-1 4 0 3 0 4-1 3 0 3-1 4-1 3-1 4 0 3-1 4 0 3 0 3 0 4 1 3 0 4 1 3 1 4 1 3 0 3 0 4 0 3-1 3-1 3-1 3-2 3-1 3-1 4 0 3-1 3 0 3-1 3-1 3-1 3-2 3-2 2-2 2-3 2-2 3-3 2-2 2-2 2-2 2-2 3-3 2-2 3-2 2-2 3-1 2-3 3-2 2-2 3-2 2-3 2-2 2-3 3-3 2-2 2-3 3-2 2-3 2-3 1-4 1-3 2-3 1-4 2-3 2-3 1-4 2-3 1-4 1-3 0-4 1-4 1-4 1-3 1-4 1-4 1-3 1-4 1-4 0-4 1-4 1-4 1-4 1-3 1-4 1-4 0-4 1-4 0-4 0-5 1-4 1-4 1-4 1-4 1-4 0-4 0-4 -1-5 0-4 -1-4 0-4 0-4 0-5 -1-4 0-4 -1-4 -1-5 0-4 -1-4 0-4 0-5 0-4 -1-4 0-5 0-4 0-4 0-5 -1-4 0-4 -1-5 -1-4 -1-4 -2-4 -2-4 -2-4 -2-4 -2-4 -1-4 -2-4 -1-4 -2-4 -2-4 -2-3 -2-4 -2-4 -3-3 -2-4 -2-4 -2-4 -1-3 -2-5 -1-4 -1-4 -1-4 -2-4 -1-4 -2-4 -3-4 -2-3 -3-3 -3-4 -3-3 -3-3 -3-3 -3-3 -3-3 -2-4 -3-3 -2-4 -3-3 -4-3 -3-2 -4-3 -4-2 -4-1 -4-2 -4-2 -4-2 -3-2 -4-3 -4-2 -3-2 -4-3 -4-2 -3-3 -4-2 -4-2 -3-3 -4-2 -4-2 -4-2 -4-1 -4-2 -4-3 -4-2 -4-2 -4-1 -4-2 -4-1 -5-1 -4 0 -4-1 -4-1 -5-1 -4-1 -4-1 -4-1 -4 0 -5 0 -4 0 -4 1 -4-1 -4 0 -4 0 -4 0 -4 0 -4 0 -4 0 -3 0 -4 0 -4 0 -4 0 -3 1 -4 0 -3 1 -4 0 -3 1 -4 1 -3 1 -3 0 -4 0 -3 1 -3 0 -3 2 -3 1 -3 2 -2 2 -3 2 -2 2 -3 2 -2 1 -2 2 -2 2 -2 3 -2 2 -1 2 -2 2 -2 3 -1 2 -2 2 -2 2 -1 3 -2 2zM667 94l0 3 0 3 -1 2 -1 2 -1 3 0 3 0 2 -1 3 -1 2 -1 3 -1 2 -2 2 -3 1 -2 2 -2 0 -1 0 -2 0 -2-2 -2-2 -1-2 -1-3 -1-2 0-3 0-2 0-3 1-3 0-2 0-3 -1-2 0-3 0-3 1-2 1-3 0-2 0-3 1-2 1-3 1-2 1-3 1-2 1-2 1-3 1-2 1-2 3-2 2 0 2-1 2 0 2 1 2 2 1 3 2 2 0 2 0 3 0 3 1 2 0 3 -1 3 0 2 0 3 0 2 -1 3zM668 351l0 4 0 4 -2 3 -1 4 0 3 -1 4 -1 3 0 4 -1 3 -1 4 -2 3 -2 3 -4 2 -3 2 -4 0 -3-3 -1-4 -1-3 -1-3 0-4 -1-3 0-4 -1-4 -1-3 -1-4 0-3 0-4 0-4 0-3 1-4 0-4 1-3 1-4 1-3 1-4 1-3 0-4 1-3 2-3 2-3 2-3 3-3 3 0 3 2 3 3 2 3 1 3 1 4 1 3 0 4 1 4 0 3 0 4 1 3 0 4 0 4z" fill="#ac3232"/><path d="M565 26l-1 2 0 3 -1 2 -2 2 -3 2 -2 1 -2 2 -2 1 -2 1 -3 1 -3 0 -2-1 -3 1 -2 1 -3 0 -3 0 -2-1 -2-1 -3-1 -2 0 -3-1 -2-1 -2-2 -2-2 -2-1 -2-2 -2-2 0-3 1-3 1-2 1-3 1-2 1-3 2-2 3-1 3 0 2 0 3 0 2-1 2-1 3-1 2 0 3 0 2 0 3 0 3 0 2 1 3 1 2 1 2 1 3 1 2 1 1 3 2 2 1 2 1 2z" fill="#de3232"/><path d="M513 -27l1 3 1 3 0 4 0 3 0 3 0 4 0 3 1 3 0 4 1 3 1 3 1 3 0 4 0 3 0 4 0 3 0 4 0 3 0 3 0 4 1 3 0 4 0 3 0 3 0 4 1 3 1 3 0 4 1 3 0 3 1 3 0 4 1 3 0 3 1 4 0 3 0 3 1 3 1 4 1 3 1 3 1 3 1 3 1 4 0 3 0 3 -1 4 0 3 0 3 0 4 1 3 1 3 1 3 1 4 0 3 -1 3 0 4 -1 3 -1 4 -1 3 -1 3 0 4 0 3 0 3 0 3 0 4 1 3 1 3 0 4 1 3 0 3 -1 4 -1 3 -1 3 -1 4 0 3 0 3 0 4 1 3 1 3 0 4 0 3 0 3 -1 4 0 3 0 3 -1 4 0 3 -1 3 -1 4 -1 3 -1 3 -2 3 -1 3 -1 3 0 4 -1 3 0 3 0 4 -1 3 -1 3 -2 3 -1 3 -2 3 -2 3 -1 3 -1 4 -1 3 0 3 1 4 0 3 0 4 -1 3 0 3 -2 3 -1 3 -2 3 -1 3 -2 3 -1 3 -1 4 0 3 -1 3 -1 3 0 4 -1 3 -1 3 -1 4 -1 3 -1 3 -2 3 -2 2 -3 3 -2 2 -2 3 -2 3 -1 3 -1 3 -2 3 -1 3 -2 3 -2 3 -2 3 -2 2 -2 3 -2 3 -2 3 -1 2 -2 3 -2 3 -3 2 -2 3 -1 3 -2 2 -2 3 -2 3 -2 3 -2 2 -2 3 -2 3 -2 2 -2 3 -2 2 -3 2 -2 3 -2 2 -2 3 -3 2 -1 3 -2 3 -2 3 -2 2 -3 3 -3 1 -3 2 -2 2 -3 2 -3 2 -2 3 -1 3 -2 3 -1 3 -2 2 -3 3 -2 2 -3 2 -3 2 -3 2 -2 3 -2 2 -2 3 -2 2 -2 3 -2 3 -1 3 -2 3 -1 3 -2 3 -2 3 -2 2 -3 2 -2 2 -3 2 -3 2 -2 2 -2 2 -2 3 -2 3 -2 3 -2 2 -3 2 -2 2 -3 2 -3 2 -3 2 -2 2 -3 2 -4 1 -3 1 -3 1 -4 0 -3 1 -3 1 -3 1 -3 2 -3 1 -4 1 -3 1 -3 1 -4 0 -3 1 -4-1 -3 0 -4 0 -3 1 -4 0 -3 2 -3 1 -3 2 -4 2 -3 1 -4 1 -3 0 -4 0 -4-1 -3 0 -4 0 -4 0 -3 1 -4 0 -3 1 -4 1 -4 0 -4 1 -3 0 -4 1 -4 0 -4 0 -3 0 -4-1 -4-1 -3-2 -4-1 -4 0 -4-1 -4 0 -3 0 -4 0 -4-1 -4-1 -3-1 -4-1 -4-1 -3-1 -4-1 -4-1 -4-2 -3-1 -4-1 -3-1 -4-2 -4-1 -3-1 -4-1 -4-1 -3-1 -4-2 -4-1 -3-1 -4-2 -3-1 -4-2 -3-2 -4-1 -3-2 -4-1 -4-1 -3-1 -4-1 -4-2 -3-1 -3-3 -3-2 -3-3 -3-2 -3-3 -3-1 -4-2 -4-1 -3-2 -3-2 -3-2 -3-3 -2-3 -3-3 -2-3 -2-3 -3-3 -2-2 -3-3 -3-2 -3-3 -3-2 -3-2 -3-2 -3-2 -3-2 -2-3 -3-3 -1-3 -2-3 -2-3 -3-3 -2-3 -3-2 -3-2 -3-3 -3-2 -3-3 -2-3 -2-3 -2-3 -2-3 -3-3 -2-3 -1-3 -2-3 -1-4 -1-4 -1-3 -2-4 -1-3 -2-3 -2-3 -2-3 -1-4 -2-3 -1-4 -1-3 0-4 -1-4 0-4 -1-3 -1-4 -2-3 -2-3 -2-3 -2-3 -2-3 -2-4 -1-3 -1-4 0-4 -1-3 0-4 -1-4 -1-3 -1-4 -1-3 -2-4 -1-3 -2-4 -1-3 -1-4 -2-4 0-3 -1-4 0-4 0-4 1-3 0-4 0-4 0-4 -1-4 -1-3 0-4 -1-4 0-3 0-4 1-4 0-4 0-4 0-3 0-4 1-4 0-4 0-3 1-4 0-4 0-4 1-4 0-3 0-4 0-4 0-4 1-3 0-4 1-4 0-4 1-3 1-4 0-4 1-4 1-3 0-4 0-4 0-4 0-4 1-4 1-4 1-3 2-4 2-3 1-4 1-3 1-4 0-4 1-4 0-4 1-4 2-3 2-3 3-4 2-3 2-3 2-3 2-4 2-3 1-4 2-3 1-4 1-4 1-3 1-4 2-4 1-3 2-4 3-3 2-3 3-3 2-3 2-3 1-4 1-4 2-4 1-4 2-3 2-3 2-4 2-3 3-3 2-4 2-3 3-3 2-3 3-2 4-3 3-2 3-3 3-3 2-3 3-3 3-3 2-3 3-3 3-2 4-3 3-2 4-1 4-2 3-3 3-2 3-3 3-3 2-3 3-4 3-3 2-3 4-3 3-2 4-2 4-2 3-2 4-2 3-2 4-3 3-2 3-3 4-3 3-2 3-3 3-3 4-2 3-3 4-2 4-2 4-1 4-1 5-1 4-1 4-2 3-2 4-2 4-2 4-2 4-2 4-2 4-1 4-1 4-1 4-2 4-1 4-1 5-1 4-2 4-1 4-1 4-1 4-1 4-2 4-1 4-1 4-2 5-1 4-1 4-1 4-1 4-1 4-1 4 0 5-1 4-1 4-1 4-2 4-1 4-2 4-1 4-1 4 0 4 0 5 1 4 0 4-1 4 0 4-2 4-1 4-1 4 0 4 0 4 0 4 1 4 1 5 1 3 0 4 1 4 0 4 0 4 0 4 0 4-1 4 0 4-1 4 0 3 0 4 0 4 1 4 1 3 1 4 1 4 0 3 0 4 0 4-1 4 0 3 0 4 0 3 1 4 1 4 0 3 1 3 1 4 1 3 1 3 1 3 2 3 2 3 2 3 1 3 2 4 1 3 1 3 1 3 1 3 2 2 2 3 2 2 2 2 3 2 2 3 2 2 2 3 1 3 1 3 1 3 1 3 1 3 1 2 2 2 3 2 2 2 3 2 2 2 2 2 2 2 2 3 2 2 2 2 2 3 2 2 2 2 2 2 2 2 3 1 2 1 3 1 3 1 4 0 3 1 2 1 3 2 3 1 3 2 3z" fill="#ff3e32"/><path d="M406 -25l3 3 2 2 3 2 3 2 2 2 2 3 2 2 2 3 2 3 3 2 2 3 2 2 3 3 2 2 1 3 2 3 2 3 1 3 2 3 3 2 2 3 2 2 2 3 2 3 2 2 1 4 2 3 1 3 2 3 1 3 1 3 2 3 1 3 1 3 1 3 1 4 2 3 1 3 1 3 2 3 1 3 1 3 2 3 1 3 2 3 1 3 2 3 2 3 1 3 2 3 1 3 1 3 1 3 1 4 0 3 0 4 1 3 0 3 0 4 0 3 0 3 0 4 0 3 0 4 0 3 0 3 0 4 0 3 0 3 0 4 1 3 0 4 -1 3 -1 3 -1 4 -1 3 -1 3 -2 3 -1 3 -1 4 -1 3 -1 3 -1 3 -1 3 -1 3 -1 3 0 4 -1 3 0 3 -1 4 -1 3 -1 3 -1 3 0 4 -1 3 -1 3 -1 3 -1 4 -1 3 -1 3 -2 3 -1 3 -2 3 -2 3 -1 3 -2 3 -2 3 -1 3 -2 2 -2 3 -2 3 -1 3 -2 3 -2 3 -2 2 -2 3 -2 3 -3 2 -2 3 -2 2 -2 3 -2 3 -2 2 -3 2 -2 3 -3 2 -3 2 -2 2 -2 2 -2 3 -2 3 -2 3 -2 2 -2 3 -3 2 -2 2 -3 2 -3 3 -2 2 -2 2 -3 3 -2 2 -3 1 -3 2 -3 2 -3 1 -3 2 -3 2 -2 2 -3 2 -3 2 -3 2 -3 1 -3 1 -3 1 -4 1 -3 1 -3 1 -4 1 -3 1 -3 0 -4 0 -3 1 -3 0 -3 0 -4 0 -3 1 -3 0 -4 0 -3 0 -4 1 -3 0 -3 1 -4 1 -3 1 -3 1 -3 2 -3 2 -2 1 -3 2 -3 2 -2 2 -3 2 -2 2 -3 2 -3 2 -2 3 -2 2 -2 3 -2 2 -2 3 -2 3 -2 3 -1 3 -2 3 -1 3 0 3 -1 4 0 3 0 3 -1 3 0 4 -1 3 -1 3 -1 4 -1 3 -1 4 -1 4 0 3 0 4 -1 3 0 4 0 4 1 3 0 4 1 3 0 3 1 4 0 3 1 3 0 4 1 3 0 3 0 3 1 3 0 3 0 3 -1 3 0 3 -1 3 -1 3 -1 2 -2 3 -1 2 -2 2 -1 2 -2 3 -2 2 -2 1 -2 2 -2 2 -2 2 -2 1 -3 2 -3 1 -2 1 -3 1 -3 1 -3 1 -2 1 -3 1 -4 1 -3 0 -3 0 -3 0 -4 0 -3 0 -3 1 -4 1 -3 1 -4 1 -3 1 -4 0 -4 0 -4 0 -3 0 -4 0 -4 0 -4 0 -4 0 -4 0 -4-1 -4-1 -5-1 -4 0 -4-1 -4 0 -4 0 -5 0 -4-1 -4-1 -4-1 -5-2 -4-1 -4-2 -4-1 -4-2 -4-2 -4-1 -4-2 -4-2 -4-2 -4-2 -4-2 -4-1 -4-2 -5-2 -3-2 -4-1 -4-2 -4-2 -4-1 -5-2 -4-1 -4-2 -4-1 -4-2 -4-2 -3-2 -4-2 -3-2 -4-2 -3-3 -3-3 -3-2 -3-3 -4-3 -3-2 -3-3 -3-3 -2-2 -3-3 -3-3 -3-2 -3-3 -3-2 -3-3 -3-3 -3-2 -3-3 -2-4 -2-3 -1-4 -2-3 -2-4 -1-3 -2-4 -2-3 -2-4 -2-3 -1-3 -3-3 -2-3 -2-3 -2-3 -2-4 -2-3 -2-3 -2-3 -2-3 -2-3 -3-4 -2-3 -2-3 -2-4 -1-3 -2-3 -1-4 -1-4 -1-3 -2-4 -1-4 -1-3 -1-4 -1-4 -1-3 -1-4 -1-4 -1-3 -1-4 0-4 -1-4 0-4 -1-3 0-4 0-4 -1-4 0-4 -1-3 0-4 0-4 0-4 1-4 0-4 0-4 0-4 -1-3 -1-4 -1-4 0-4 0-4 0-4 0-4 0-4 0-3 0-4 0-4 0-4 0-4 0-4 1-4 1-4 0-4 1-4 0-4 0-4 0-4 0-3 0-4 1-4 1-4 2-4 1-4 1-3 1-4 1-4 2-4 1-4 2-3 1-4 1-4 2-3 1-4 1-4 1-4 2-3 1-4 1-4 1-4 1-3 1-4 1-4 1-4 1-4 0-4 2-4 1-4 1-3 2-4 2-3 2-4 2-3 2-4 2-3 2-4 2-3 2-3 2-4 2-3 2-3 2-4 2-3 2-4 2-3 1-4 2-3 2-4 2-3 3-3 3-3 3-2 3-3 3-2 3-3 3-3 3-2 3-3 2-3 3-2 3-3 2-3 3-3 2-3 2-3 3-3 2-3 3-3 2-3 3-3 2-3 3-3 2-3 3-3 3-2 3-3 3-2 3-3 3-2 3-2 3-2 3-2 3-3 4-2 3-2 3-2 3-2 4-2 3-2 3-2 4-2 3-1 4-2 3-1 4-2 3-1 4-2 3-2 4-1 3-1 4-1 4-1 4-1 3-1 4-1 3-2 4-2 3-2 3-1 4-2 3-1 4-1 4-1 3-1 4-1 3-2 4-1 4-1 3-1 4-1 4 0 4-1 3 0 4-1 4-1 3-2 4-1 4 0 3-1 4 0 4 0 4 0 3 0 4 0 4 0 4 0 3 0 4 1 4 0 3 0 4 1 4 0 3 0 4 0 4 0 3 0 4 0 4 0 3 0 4 0 4 0 3-1 4 0 4 0 3-1 4 0 3 1 4 0 4 1 3 1 4 1 3 1 3 0 4 1 3 1 4 1 3 1 3 1 4 2 3 1 3 1 4 1 3 0 4 1 3 1 4 1 3 1 3 1 3 2 3 2 3 3 2 2 3 2 3 2 2 2 3 2 3 2 3 2 2 2 3 1 3 2 3 2 3 1 3 2 3 1 3 2 3 2 3 1 2 2 3 2 3 1 3 2 3 2 2 2 3 2 2 3z" fill="#ff5a2d"/><path d="M-26 -26l3-2 3-3 3-2 3-3 3-2 3-2 3-3 3-2 3-2 3-2 4-3 3-1 3-2 4-1 4-2 3-2 3-2 4-2 3-2 3-2 3-3 4-1 3-1 4-1 4-1 4 0 4 0 4-1 3-1 4-2 3-1 4-2 3-2 4-2 3-1 4-2 3-1 4-1 4-1 3-1 4 0 4 0 4 1 4 0 4 0 4 0 4 0 3-1 4-1 3-2 4-1 4-1 3 0 4 0 4 0 4 1 3 0 4 1 4 0 3-1 4 0 4-1 3 0 4-1 4 0 3 0 4 0 4 0 3 0 4 0 3 1 4 0 4 0 3 0 4 0 4 1 3 0 4 0 3 1 4 1 3 1 4 0 3 1 4 0 3 1 4 1 3 1 3 2 3 1 4 1 3 1 4 1 3 1 3 0 4 2 3 2 3 2 2 2 3 2 3 2 3 1 3 1 4 1 3 1 3 2 3 1 2 3 3 2 2 3 3 2 2 3 2 2 3 2 2 3 2 2 3 2 3 2 3 1 3 2 3 1 3 2 2 2 3 2 2 2 2 3 2 3 2 2 3 3 2 2 2 3 2 2 2 3 3 3 2 2 2 3 2 2 2 3 3 2 2 3 2 3 1 3 2 3 1 3 2 3 2 2 2 3 3 2 2 3 3 2 2 3 1 3 2 3 0 4 1 3 1 3 1 4 1 3 2 3 2 3 2 2 1 3 2 3 2 3 2 3 1 3 2 3 1 3 1 3 0 4 0 3 0 4 0 3 -1 4 0 3 1 4 0 3 2 3 1 3 2 3 1 4 0 3 0 3 0 4 -1 3 0 3 -1 4 0 3 0 3 0 4 1 3 0 3 0 4 1 3 0 3 0 4 0 3 -1 3 0 4 -1 3 0 3 -1 4 0 3 0 3 -1 4 0 3 -1 4 -1 3 -1 3 -1 3 -1 4 -1 3 0 3 -1 3 -1 4 -2 3 -1 3 -2 3 -1 3 -2 3 -1 3 -1 3 -1 3 -2 4 -2 2 -2 3 -2 2 -3 3 -2 2 -2 3 -2 3 -1 3 -1 3 -2 3 -2 3 -2 2 -3 2 -3 3 -3 2 -2 2 -3 2 -2 3 -3 2 -2 2 -2 3 -2 3 -2 3 -1 3 -2 3 -1 3 -2 3 -1 3 -3 2 -2 3 -3 2 -2 2 -3 2 -2 2 -3 3 -2 2 -3 2 -3 2 -2 2 -3 2 -3 2 -3 2 -2 2 -3 1 -3 2 -4 1 -3 1 -3 1 -3 1 -4 1 -3 2 -3 1 -3 2 -3 2 -3 1 -3 1 -4 0 -3 0 -4-1 -3 0 -4-1 -3 0 -3 0 -4 1 -3 1 -4 0 -3 1 -3 1 -4 1 -3 1 -3 0 -3 1 -3 1 -3 0 -4 0 -3 1 -4 0 -3 1 -4 1 -3 2 -2 2 -2 3 -2 4 -2 3 -1 3 -2 3 -2 3 -2 3 -2 2 -2 3 -2 3 -2 3 -1 4 -1 3 0 3 0 4 0 3 0 4 0 3 0 4 0 4 -1 3 0 4 0 3 0 4 0 3 1 4 0 4 1 3 0 4 0 3 1 4 0 3 0 4 0 4 0 3 0 3 1 4 0 3 0 4 -1 3 0 3 -1 3 0 3 0 4 0 3 -1 3 0 3 -1 2 -1 3 -2 2 -2 2 -2 2 -2 3 -1 2 -1 2 -2 3 -1 2 -2 2 -2 2 -3 1 -3 1 -2 0 -3 1 -3 1 -3 0 -3 1 -2 1 -3 1 -3 1 -3 1 -3 1 -3 2 -3 1 -3 2 -3 1 -4 0 -3 1 -4 0 -3 0 -4-1 -4 0 -4 1 -3 0 -4 0 -4 0 -4-1 -4 0 -4 0 -4 0 -4 0 -4-1 -4 0 -5-1 -4-1 -4-1 -4-2 -4-1 -4-1 -4 0 -5 0 -4-1 -4 0 -5-2 -4-1 -4-2 -3-3 -4-2 -4-3 -3-2 -4-2 -4-1 -5-2 -4-1 -4-1 -4-1 -4-2 -4-1 -4-2 -4-2 -3-2 -4-2 -3-3 -3-3 -3-3 -2-3 -3-3 -3-3 -3-3 -3-2 -4-2 -4-1 -3-2 -3-2 -3-3 -3-3 -2-3 -3-3 -2-4 -2-3 -3-2 -2-3 -3-3 -3-2 -3-3 -3-2 -2-3 -3-3 -2-3 -3-3 -2-3 -2-3 -2-3 -2-3 -3-3 -2-3 -2-3 -3-3 -2-4 -2-3 -1-3 -2-4 -2-3 -1-4 -2-3 -2-3 -2-4 -1-3 -1-4 -1-4 -1-3 -2-4 -1-3 -2-4 -1-3 -2-4 -1-4 -1-3 0-4 0-4 0-4 -1-4 -1-4 -1-3 -1-4 -2-4 -1-3 0-4 0-4 0-4 0-4 1-4 0-4 0-4 0-4 0-3 0-4 0-4 -1-4 0-4 -1-4 -1-4 -1-3 -1-4 0-4 0-4 0-4 0-4 1-4 0-4 0-4 0-4 0-4 1-4 0-4 0-4 0-4 1-4 0-4 0-4 0-4 1-4 1-3 1-4 1-4 1-4 1-4 0-4 1-4 0-4 0-4 1-4 1-4 1-4 2-3 3-4 2-3 2-4 1-4 1-3 1-4 1-4 1-4 1-4 0-4 1-4 2-4 1-4 1-4 2-3 2-4 2-3 3-3 3-3 3-3 2-3 2-4 2-3 1-4 1-4 1-4 2-4 2-3 2-4 2-3 3-2 3-3 3-3 2-3 2-4 2-3 2-3 2-4 2-3 2-4 2-3 2-3 2-4 3-3 2-3 3-3 3-2 2-4 2-3 3-3 2-3 3-3 2-3 3-2 3-3 3-3 3-2 2-3 3-3 3-2 3-3 3-2 3-2z" fill="#ff8228"/><path d="M64 409l1-3 2-3 2-2 3-2 3-2 3-1 3-2 4-1 3-1 4-2 4-1 3-1 4 0 4-1 4 0 4-1 4 0 3-1 4 0 4 0 4 0 3 1 4 1 3 1 4 0 3 1 4 1 3 1 3 1 4 2 3 2 3 2 2 2 3 2 4 2 3 1 4 2 3 1 3 3 3 2 3 3 2 3 1 4 1 3 1 4 1 3 1 4 1 3 2 3 1 3 1 3 2 3 1 4 1 3 0 4 0 4 -1 3 0 4 0 4 0 4 0 4 1 3 1 4 2 4 1 4 1 4 0 4 0 3 -1 4 -2 4 -1 3 -2 3 -2 2 -3 2 -2 2 -3 1 -3 1 -3 2 -3 1 -3 1 -3 2 -3 2 -4 2 -3 2 -4 1 -4 1 -4 0 -3 0 -4 0 -4 0 -3 0 -4-1 -3-1 -4-1 -3-1 -4-1 -3-1 -4-1 -4-1 -3-1 -4-1 -3-2 -3-2 -3-3 -2-2 -3-3 -3-3 -3-2 -3-2 -3-1 -3-2 -3-2 -2-3 -3-2 -2-3 -2-3 -2-2 -2-3 -2-3 -2-3 -1-4 -1-3 0-4 -1-4 -1-3 -1-4 -1-3 -2-3 -2-4 -1-3 -1-4 -1-4 0-4 0-4 0-3 0-4 0-4 0-4 0-3 1-4 1-3 1-3 2-3z" fill="#ff5a2d"/><path d="M87 428l1-3 2-3 3-3 3-2 3-2 4-1 4-1 4-1 4-1 4 0 4-1 4 0 4 0 4 0 4 1 3 1 4 2 3 2 3 2 3 2 3 1 4 1 3 1 3 2 3 3 1 3 2 3 2 3 2 3 2 2 2 3 2 3 2 3 0 4 1 4 1 3 1 4 1 3 1 4 1 4 1 3 -1 4 0 3 -1 4 0 3 0 3 0 4 0 3 -1 4 -1 3 -3 3 -3 3 -3 2 -3 2 -3 2 -3 2 -4 2 -4 1 -4 1 -4 0 -3 0 -4 0 -4-1 -4-2 -3-1 -4-1 -3-1 -4-1 -3-2 -3-2 -2-3 -2-2 -3-3 -2-2 -3-2 -2-3 -3-3 -1-3 -1-3 -1-4 -1-3 -2-4 -2-3 -2-3 -2-4 -2-3 -1-4 0-4 0-4 0-4 -1-4 0-3 -1-4 -1-3 0-3 1-3 0-3z" fill="#ff3e32"/><path d="M-25 492l3 0 3 1 2 0 3-2 3-1 4-1 3 0 3 1 4 1 3 1 4 0 4 1 4 1 3 1 4 2 3 2 3 2 3 2 2 2 3 3 2 2 2 2 3 2 3 3 1 2 2 4 0 4 2 3 2 3 2 3 3 2 2 3 2 4 1 3 2 4 1 3 2 3 2 3 0 3 -1 4 -1 3 0 2 0 3 0 3 -1 3 -2 2 -3 1 -3 1 -3 1 -3 1 -3 1 -3 1 -4 1 -3 1 -4 1 -4 1 -4 0 -4 1 -4 0 -4 0 -5 0 -4 0 -5-1 -4-1 -4-2 -3-3 -4-1 -4-2 -5-1 -4-2 -3-3 -2-4 -1-4 -2-4 -2-4 -2-3 -3-4 -2-3 -1-4 -2-4 -1-4 0-4 -1-4 0-5 0-4 0-4 0-3 1-4 1-4 3-3 2-2 2-3 2-2 2-3 1-2 3-2z" fill="#ff5a2d"/><path d="M-27 61l3-3 2-2 3-2 4-2 3 0 4-1 4 0 3-1 4 0 3 0 4 0 3 0 4 0 4 0 3-1 3-2 3-2 4-3 3-2 3-2 3-1 3 0 4-1 4 0 3 0 4 0 3-1 4 0 3-1 3-1 4-1 3-2 3-2 3-1 3-2 4-1 3 0 4-1 3 0 4-1 3-1 4-2 3-2 3-2 3-1 3-1 3-1 4 0 3-1 3-1 4-1 3-2 3-1 3-2 3-1 3-1 4-2 2-2 3-3 2-3 2-3 2-4 2-2 3-3 3-2 3-2 3-1 4-1 3-2 4-1 3-1 4-2 3-1 3-2 3-2 4-2 3-2 4-1 3-1 4 0 4 0 4 0 4-1 3-1 4-2 4-2 3-1 4-1 4 0 4 0 4 1 4 0 3 0 4 0 4 0 4 1 3 1 4 1 3 2 4 1 3 0 4 1 4 0 3 0 4 1 3 2 3 2 3 2 3 1 3 2 3 1 3 2 3 1 3 2 3 2 3 2 3 2 3 2 3 2 2 3 3 2 1 4 1 3 1 4 1 4 2 3 2 3 3 2 3 2 3 2 3 3 2 2 2 3 1 4 2 3 2 3 2 3 2 3 2 3 1 3 1 3 2 4 2 2 3 3 3 2 3 1 4 2 2 3 3 2 1 4 1 3 1 4 1 3 0 4 1 3 1 4 1 3 1 4 1 3 1 3 2 3 2 3 1 4 2 3 0 3 1 4 0 3 0 4 1 3 1 4 1 3 2 4 1 3 0 4 0 3 0 4 -1 3 -1 4 0 3 -1 4 -1 3 0 3 -2 4 -1 3 -1 3 -1 4 0 3 0 4 0 4 1 3 0 4 -1 4 0 3 -2 3 -2 4 -1 3 -2 3 -2 3 -2 3 -2 3 -1 3 -1 3 -1 4 -1 3 -1 4 -2 3 -1 3 -3 2 -2 3 -3 2 -2 3 -2 3 -1 4 -1 3 -1 3 -2 4 -2 3 -3 2 -2 3 -3 2 -2 3 -2 2 -3 3 -2 3 -3 2 -3 2 -3 1 -3 2 -2 3 -3 2 -2 3 -2 3 -3 2 -2 3 -3 1 -4 2 -3 1 -3 2 -2 2 -3 2 -3 3 -3 2 -3 2 -3 2 -3 1 -3 3 -3 2 -3 2 -3 1 -4 1 -4 0 -3-1 -4 0 -4 0 -3 1 -3 1 -4 2 -3 2 -3 2 -3 1 -4 0 -4 0 -3-1 -4 0 -3 0 -4 0 -3-1 -4-1 -3-1 -4-1 -3 0 -3 0 -4 0 -4 2 -3 1 -4 1 -4 1 -3-1 -4-1 -3-2 -3-1 -3-2 -4-1 -3-2 -3-1 -3-1 -4-2 -3 0 -3-1 -4 0 -3-1 -4-1 -3-1 -3-2 -3-1 -3-2 -3-2 -4-1 -3-1 -4 0 -4-1 -3-1 -3-2 -3-2 -3-3 -2-2 -3-2 -3-2 -3-2 -2-2 -3-3 -2-2 -3-3 -3-2 -3-2 -3-1 -4-1 -3-1 -4-1 -3-2 -3-2 -3-2 -3-3 -2-2 -3-3 -2-2 -3-2 -3-1 -4-1 -3 0 -3 0 -4 2 -3 1 -3 2 -4 1 -3 1 -4 0 -4 1 -4 1 -4 1 -3 2 -3 2 -3 3 -3 2 -4 1 -3 1 -4 1 -4 0 -3 0 -3 1 -4 1 -3 0 -3-1 -3-1 -3-1 -2-1 -3-1 -2-1 -3-1 -3-1 -2-1 -3-1 -2-3 -2-2 -2-3 -1-2 -2-3 -3-2 -2-3 -2-3 -2-3 -2-3 -2-3 -2-4 -2-3 -2-4 -1-4 -1-4 0-4 1-5 1-4 0-5 0-4 -1-5 -1-4 -2-4 -2-5 0-4 0-5 0-5 1-5 1-4 1-5 0-5 1-4 1-5 2-5 1-4 2-5 1-4 0-5 -1-5 0-4 -1-5 0-5 1-5 1-4 3-4 2-4 3-4 2-3 2-4 3-3 2-4 2-3 2-4 2-3 1-4 2-3 2-4 2-3 3-2 3-2 3-2 3-2z" fill="#ffa523"/><path d="M-24 135l2-3 2-3 3-2 2-3 2-3 3-3 3-2 3-2 3-1 3-2 4-1 3-1 4-1 3-1 3-1 4-2 3-1 3-1 4-2 3-1 3-2 4-1 3-1 4-1 3 0 4-1 3-1 4 0 3-1 4-1 3-1 3-1 4-1 3-1 4-1 3-1 4 0 3-1 3-2 4-1 3-2 3-2 3-2 3-1 3-2 4-1 3-1 3-2 4-1 3-2 3-2 3-1 3-2 3-1 4-2 3-1 4-1 3-2 3-1 3-2 3-2 3-2 3-1 4-2 3-2 3-1 3-2 3-2 3-2 3-2 3-2 3-2 4-1 3-2 3-1 4-1 4 0 3 0 4-1 3 0 4 0 3 0 4-1 4 0 3-1 4 1 3 0 4 1 3 2 4 1 3 1 4 1 3 0 4 0 4-1 3-1 4 0 4 0 3 1 4 2 3 1 3 1 4 1 3 1 4 0 4 0 4 0 4-1 3 1 4 1 3 1 3 3 3 2 3 3 3 3 2 2 3 3 3 2 3 2 2 3 3 2 3 2 3 2 3 2 2 3 3 2 2 3 2 3 3 2 2 3 3 2 2 2 3 3 3 2 2 3 3 3 1 3 2 3 1 4 2 3 1 3 1 4 1 3 1 4 1 3 0 4 1 3 1 4 1 3 0 4 1 3 0 4 0 4 0 3 -1 4 0 3 0 4 0 3 0 4 0 4 -1 3 0 4 -1 3 -1 4 -1 3 -1 4 0 3 -1 4 -1 4 0 3 -1 4 -1 3 -1 4 -2 3 -1 3 -2 3 -2 3 -2 4 -1 3 -2 3 -2 3 -2 3 -3 3 -2 2 -3 3 -2 2 -3 3 -2 3 -2 2 -3 3 -2 3 -2 2 -3 3 -2 2 -3 3 -2 2 -3 3 -2 3 -3 2 -2 3 -3 2 -3 3 -3 2 -3 1 -3 2 -3 1 -4 1 -3 2 -4 1 -3 2 -3 1 -3 2 -3 2 -4 1 -3 1 -4 1 -4 0 -3 0 -4 0 -4 0 -3 1 -3 2 -3 1 -4 2 -3 1 -4 1 -3 1 -4-1 -4 0 -3-1 -4 0 -3 0 -4 0 -4 1 -3 1 -4 1 -4 0 -4 1 -3-1 -4-1 -3-2 -3-1 -4-2 -3-2 -3-2 -4-1 -3-2 -4 0 -3-1 -3-1 -4-1 -3 0 -4-1 -3-1 -4-2 -3-1 -4-1 -3 0 -4-1 -3 0 -4 0 -4 0 -3-1 -4 0 -3-1 -4-1 -3-2 -3-1 -3-2 -3-2 -4-2 -3-1 -3-2 -3-2 -3-1 -3-2 -4-2 -3-1 -3-2 -3-2 -3-2 -3-2 -3-2 -3-2 -3-2 -3-1 -3-2 -4-1 -3-2 -3-2 -3-2 -3-2 -2-2 -3-3 -3-2 -3-2 -3-2 -4-1 -3-2 -3-1 -3-2 -3-1 -3-2 -3-1 -4-1 -3-1 -4 0 -4-1 -3 0 -4-1 -3-1 -4-1 -3-2 -3-1 -2-2 -2-2 -3-2 -2-2 -2-2 -1-3 -2-3 -1-3 -1-3 -1-3 -1-4 -1-4 -1-4 -1-4 -1-4 0-5 0-4 1-4 0-5 2-4 1-4 2-4 2-4 1-4 2-4 1-4 2-3 2-4z" fill="#ffc814"/><path d="M251 277l1 2 0 3 -2 2 -1 2 0 2 -1 3 -2 2 -2 2 -2 1 -2 1 -2 2 -2 1 -3 1 -3 0 -2 2 -2 1 -3 1 -2 0 -3 0 -3 0 -2-1 -3 0 -2 0 -3-2 -2-1 -2-2 -1-2 0-2 -1-3 0-2 0-3 2-2 1-2 2-2 3-1 2-1 1-2 1-3 3-2 2 0 3-1 2-1 3 0 2-1 3-1 2 0 3 0 3 0 2 1 3 0 2 1 3 1 2 1 1 3z" fill="#ffa523"/><path d="M21 164l1-4 1-3 1-4 2-3 2-3 2-4 3-2 2-3 3-3 3-3 2-3 3-2 3-2 3-2 3-2 4-2 3-1 3-2 4-1 3-1 4-1 3-1 4-1 3-1 4 0 3-1 4-1 3-1 4 0 3-1 4-1 4 0 3-1 4 0 3-1 4-1 3-1 4-1 3-1 4-2 3-1 3-2 3-1 4-2 3-2 3-2 3-2 3-2 3-3 3-2 3-2 3-2 3-2 3-2 3-2 3-2 3-2 3-2 3-1 4-2 3-1 3-2 4-1 3-1 4-1 3-1 4-1 4 0 3-1 4 0 3-1 4 0 4 0 3 0 4 0 4-1 3 0 4 1 4 0 3 0 4 0 4 1 3 1 4 0 3 1 4 1 3 1 3 2 4 1 3 1 4 1 3 1 3 1 4 1 3 1 4 1 3 2 3 1 3 2 3 2 4 1 3 2 3 2 2 2 3 2 3 3 3 2 2 3 3 2 2 3 3 3 2 3 2 2 2 3 2 3 2 3 2 4 1 3 2 3 1 3 2 4 1 3 1 4 1 3 0 4 1 4 0 3 1 4 0 4 0 3 0 4 -1 4 0 4 -1 3 0 4 -1 3 -1 4 0 4 -1 3 -1 4 -1 3 -1 4 -1 3 -1 3 -2 4 -2 3 -1 3 -2 3 -2 4 -2 3 -2 3 -2 3 -2 3 -2 2 -2 3 -2 3 -3 3 -2 3 -2 2 -3 3 -3 2 -3 2 -2 3 -3 2 -3 2 -3 2 -3 2 -3 2 -3 1 -3 2 -3 2 -3 1 -3 2 -3 2 -4 1 -3 2 -3 1 -4 2 -3 1 -4 1 -3 1 -4 1 -3 0 -4 1 -3 1 -4 0 -4 1 -3 0 -4 0 -4 0 -3 0 -4 0 -3 0 -4-1 -4 0 -3-1 -4 0 -4 0 -3-1 -4-1 -3 0 -4-1 -3-1 -4-1 -4-1 -3-1 -3-1 -4-2 -3-1 -3-2 -4-1 -3-2 -3-2 -3-2 -3-1 -3-2 -4-2 -3-1 -3-2 -4-1 -3-1 -4-1 -3 0 -4-1 -3-1 -4-1 -3-1 -4-1 -3-1 -4-1 -3-1 -4-1 -3-1 -4-1 -3-1 -3-1 -4-1 -3-2 -3-1 -4-1 -3-2 -3-1 -4-2 -3-1 -3-2 -3-1 -3-2 -4-2 -3-2 -3-2 -3-2 -2-3 -3-2 -3-3 -2-3 -2-2 -3-3 -2-4 -2-3 -1-3 -2-4 -1-3 -2-4 -1-4 -1-3 0-4 -1-4 0-3 0-4z" fill="#fff200"/><path d="M140 214l-2-2 -1-4 0-3 1-4 2-3 2-3 3-3 2-4 2-3 2-3 3-4 2-3 2-3 3-3 2-3 2-3 2-3 2-3 2-3 2-3 1-3 2-3 2-3 1-3 1-3 1-4 2-3 2-3 2-3 2-2 3-3 2-3 3-2 2-4 1-3 2-3 2-4 2-3 3-2 3-2 3-2 4-2 3-2 3-1 3-2 3-2 4-2 3-2 3-1 4-1 3-1 4-1 4 0 3-1 4-1 4 0 3 0 4 0 3 0 4 1 4 1 3 0 4 0 3 0 4-1 4 0 3 0 4 1 3 2 3 2 3 3 3 2 3 2 3 2 3 1 4 1 3 1 4 1 2 2 3 3 2 3 2 3 3 3 2 3 2 2 2 3 2 3 2 3 2 3 2 3 2 3 2 4 2 3 0 4 0 4 -1 4 0 3 -1 4 0 4 1 4 1 3 0 4 0 4 -1 3 -1 4 -2 3 -1 4 -1 3 -1 4 0 3 0 4 -1 4 -2 3 -3 3 -2 2 -2 3 -2 3 -1 4 -1 4 -1 3 -2 3 -3 3 -3 2 -4 1 -3 2 -3 1 -3 3 -2 3 -2 3 -3 3 -2 2 -4 2 -3 1 -4 1 -3 1 -4 2 -3 1 -3 1 -4 1 -4 1 -3 0 -4 0 -4 0 -3-1 -4 0 -4 0 -3 0 -4-1 -3-1 -3 0 -4-1 -3 0 -4 0 -4-1 -3-1 -3-1 -4-1 -3-2 -3-2 -3-2 -3-2 -4-1 -4 0 -3-1 -4-1 -4-1 -3-1 -3-2 -3-2 -3-2 -3-1 -3-2 -4 0 -3-1 -4 0 -3 0 -4-1 -4 0 -3-1 -4-1 -3-2 -3-3 -3-2 -3-3 -1-4z" fill="#dcff2d"/><path d="M163 202l-1-3 0-4 0-3 1-4 2-3 3-3 3-3 3-2 4-3 3-3 3-3 2-4 1-3 1-4 1-4 1-4 2-3 1-3 2-3 1-3 2-4 1-3 1-3 1-3 2-3 2-3 2-3 3-3 3-2 2-3 3-2 3-2 3-2 3-2 4-2 3-1 4-1 3-2 3-2 3-2 3-2 3-2 3-2 4-1 3-1 4 0 3 0 4 0 4 0 3 0 4-1 3 0 4 0 4 0 3 0 4 1 3 1 4 0 3 1 4 1 4 1 3 1 4 1 3 2 3 3 2 2 3 3 2 3 2 3 2 3 3 2 2 3 2 3 1 4 1 3 1 4 1 3 0 4 0 4 1 3 0 3 1 4 1 3 0 4 1 3 0 4 1 3 0 4 0 4 0 3 0 4 -1 4 0 3 -1 4 -1 3 0 4 -1 4 -2 3 -1 3 -2 4 -1 3 -3 3 -2 3 -3 2 -3 3 -3 2 -3 2 -2 2 -3 3 -2 2 -3 2 -2 3 -3 3 -3 2 -3 2 -3 2 -3 1 -4 1 -3 2 -4 1 -3 1 -4 2 -3 1 -4 0 -4 0 -3 0 -4-1 -4 0 -3-1 -4 0 -4 0 -3-1 -4-1 -3-2 -3-2 -3-3 -3-2 -3-3 -3-2 -3-1 -3-1 -4-1 -3-1 -4-1 -3-1 -3-1 -3-2 -3-2 -4-1 -3-2 -3-1 -4-1 -3-2 -3-2 -4-2 -3-2 -3-2 -3-3 -2-3 -2-3z" fill="#a0ff5a"/><path d="M188 154l0-3 1-3 2-4 1-3 2-3 2-3 2-3 3-2 2-3 3-3 2-2 3-3 2-3 3-2 2-3 3-3 2-2 3-3 3-2 3-3 3-2 3-1 4-1 4-1 3-1 4-1 3-1 4-1 4-1 3-1 4 0 3-1 4 0 4 1 4 0 3 1 4 1 3 0 4 1 4 1 3 1 3 1 3 2 3 2 3 2 3 2 3 2 3 2 3 2 3 2 2 3 2 3 2 3 2 3 1 3 2 4 2 3 1 3 0 4 0 3 0 4 0 4 0 3 0 4 0 3 1 4 0 3 1 4 0 4 -1 3 -1 4 -1 3 -1 4 0 3 -1 4 0 4 -1 3 0 4 -1 4 -1 3 -1 4 -2 3 -2 4 -2 3 -3 3 -3 2 -3 2 -4 2 -3 1 -4 2 -3 1 -3 2 -4 2 -3 1 -4 1 -4 0 -3 0 -4 0 -4 0 -3 0 -4 0 -4 0 -3 1 -4-1 -3-1 -4-1 -3-2 -3-2 -3-2 -4-1 -3-1 -3-1 -4-1 -3-2 -3-2 -3-2 -3-2 -3-2 -2-3 -3-2 -3-2 -2-3 -3-2 -2-3 -2-3 -2-3 -3-3 -2-3 -2-3 -2-2 -2-3 -2-4 -1-3 -1-3 -1-4 0-3 0-4 0-3 0-4 0-4z" fill="#64ff82"/><path d="M334 160l0 4 0 4 -1 3 -1 4 -1 3 -2 3 -1 3 -2 4 -2 3 -2 3 -2 3 -2 2 -2 3 -3 3 -3 2 -3 2 -3 2 -4 1 -3 1 -3 2 -4 1 -3 1 -4 1 -3 0 -4 1 -3 0 -4 0 -4-1 -3-1 -4 0 -3-1 -4-1 -3-1 -4-2 -3-1 -3-2 -3-2 -3-2 -3-2 -3-3 -2-3 -3-3 -2-3 -2-3 -2-3 -2-3 -1-3 -2-3 -1-4 -1-3 -1-4 0-3 1-4 0-4 0-3 1-4 1-3 1-3 1-4 1-3 2-3 2-3 2-3 3-2 2-3 3-2 3-2 3-2 3-2 3-2 3-1 4-2 3-1 4-1 3-1 4 0 4 0 3 0 4 0 4-1 3 1 4 0 4 0 3 1 4 2 3 1 3 1 4 2 3 2 3 2 3 2 3 2 2 3 2 3 3 2 2 3 2 3 2 3 2 4 1 3 1 3 1 4 0 3 1 4z" fill="#00ffa0"/><path d="M328 156l-1 4 0 4 -1 3 -1 4 -1 3 -2 4 -2 3 -2 3 -2 2 -3 3 -2 3 -3 2 -3 2 -3 2 -4 2 -3 1 -3 1 -4 1 -4 1 -3 0 -4 0 -4 0 -3-1 -4 0 -3-1 -4-1 -3-2 -3-1 -4-1 -3-2 -3-2 -2-3 -3-2 -2-3 -2-3 -2-3 -1-3 -1-3 -1-4 -1-3 0-4 -1-4 0-3 0-4 1-4 1-3 2-4 1-3 2-3 2-4 2-3 2-2 3-3 3-2 3-2 3-3 3-1 3-2 4-1 3-1 4-1 4 0 3-1 4 0 3 1 4 0 4 1 3 1 3 1 4 2 3 1 3 2 3 2 3 3 2 2 3 3 2 2 2 3 2 4 1 3 1 3 1 4 0 3 1 4z" fill="#00ffd2"/><path d="M321 153l0 3 0 2 -1 3 0 3 -1 2 -1 2 -2 3 -1 2 -1 2 -2 2 -1 2 -2 2 -2 2 -2 1 -2 2 -2 1 -2 1 -3 1 -2 1 -3 0 -2 1 -3 0 -3 0 -2 0 -3 0 -2 0 -3 0 -2-1 -3-1 -3-1 -2-1 -2-1 -2-2 -2-1 -2-2 -2-2 -2-2 -1-2 -2-3 -1-2 -1-2 -2-2 -1-3 0-2 -1-3 0-2 0-3 0-2 0-3 1-2 1-3 1-2 1-2 1-3 1-2 2-2 1-2 2-2 2-2 2-2 2-1 2-2 2-1 2-2 3-1 2-1 3 0 2-1 3 0 2 0 2 0 3 0 2 0 3 0 2 1 3 1 2 1 3 1 2 1 2 2 2 1 2 2 2 2 1 2 2 2 1 3 2 2 1 2 1 2 1 3 1 2 1 3 0 3z" fill="#00ffff"/><path d="M318 151l-1 3 0 2 0 3 0 2 -1 3 -1 2 -1 2 -2 3 -2 2 -2 1 -1 2 -2 2 -2 2 -2 2 -3 1 -2 0 -3 0 -2 1 -3 0 -2 1 -3 0 -3 0 -2 0 -3 0 -3-1 -2-1 -2-2 -2-1 -2-2 -2-2 -2-1 -2-2 -2-1 -1-3 -1-2 -1-2 -2-2 -1-3 0-2 -1-3 0-2 0-3 0-3 1-2 0-3 1-2 1-3 1-2 2-2 1-2 2-2 2-2 1-2 3-1 2-2 2-1 2-1 3-1 2-1 3-1 3 0 2 0 3 0 2 1 3 0 2 1 3 1 2 1 2 1 3 1 2 1 2 2 2 2 2 2 1 2 1 2 1 3 2 2 1 2 1 3 0 2 0 3z" fill="#00dcff"/><path d="M314 151l1 3 0 3 -1 2 -2 2 -1 3 -1 2 -1 2 -1 3 -2 2 -2 2 -2 1 -3 1 -2 1 -3 1 -2 1 -2 1 -3 1 -3 0 -2 0 -3 0 -2-1 -3-1 -2-1 -2-1 -2-1 -2-2 -2-2 -2-1 -2-2 -2-1 -2-2 -1-3 0-3 -1-2 0-3 0-2 0-3 0-2 -1-3 0-3 1-2 2-3 1-2 1-2 2-3 2-1 2-2 2-1 2-1 3-2 2-1 2-1 3-1 2-1 3 0 3 0 2 1 3 1 2 1 2 1 3 0 2 1 2 2 2 2 2 1 1 2 2 2 2 2 1 3 0 2 1 3 0 2 1 3z" fill="#00b9ff"/><path d="M310 151l0 3 0 3 -1 2 -1 3 -1 2 -1 2 -2 3 -2 1 -2 2 -2 1 -2 2 -2 1 -3 1 -2 0 -3 0 -3 0 -2 0 -3 0 -2 0 -3-1 -2-1 -2-2 -2-1 -2-2 -2-2 -1-2 -2-2 -1-3 -1-2 0-3 -1-2 0-3 0-2 1-3 0-3 1-2 2-3 1-2 2-2 2-2 1-2 2-2 3-1 2-1 3-1 2 0 2 0 3 0 2 0 3 0 2 1 3 0 2 1 2 2 2 1 2 2 2 2 1 2 2 3 1 2 1 2 1 3 0 3z" fill="#008cff"/><path d="M307 151l0 3 0 2 -1 3 -1 2 -1 2 -1 2 -2 3 -1 2 -3 1 -2 1 -2 2 -3 1 -2 1 -3-1 -3-1 -2 0 -3 0 -2-1 -3-1 -2-1 -2-2 -2-1 -1-2 -2-2 -1-3 -1-2 0-3 0-2 -2-3 0-3 1-2 2-2 1-3 0-2 2-2 2-2 2-2 1-1 2-2 3-1 2-1 3-1 2 0 3 0 3 0 2 1 3 1 2 1 2 1 3 2 2 2 1 2 1 2 1 3 1 2 0 2 1 3z" fill="#0a5aff"/><path d="M306 151l-1 3 -1 2 -1 3 -1 2 -1 2 -2 2 -1 3 -2 2 -3 1 -2 0 -3 1 -2 0 -3 0 -2-1 -3-1 -2 0 -3 0 -3-1 -2-2 0-3 -1-2 -2-2 -3-2 0-3 1-3 -1-2 0-3 1-2 2-3 1-2 2-2 2-2 1-2 2-2 2-1 3 0 2-1 3 0 3 0 2 0 3 0 2 2 3 1 2 2 2 2 1 2 1 3 1 2 0 2 2 3z" fill="#284bff"/><path d="M302 151l0 3 0 2 -1 3 -2 2 -1 2 -2 2 -2 2 -2 1 -3 1 -2 0 -3 1 -2 0 -3-1 -2-1 -3 0 -2-2 -2-2 -1-2 -2-2 -1-3 0-2 -1-3 0-2 1-3 0-2 2-2 1-3 1-2 2-1 2-2 3-1 2-1 3 0 2-1 3 1 2 1 3 1 2 1 2 1 2 2 2 2 1 3 0 2 1 3z" fill="#3232fa"/><path d="M298 151l0 3 -1 2 -1 3 -1 2 -2 1 -2 2 -3 1 -2 1 -3 0 -2 0 -3-1 -2-2 -2-1 -2-2 -2-2 0-3 0-3 -1-2 0-3 2-2 1-2 1-2 3-2 2-1 2-1 3-1 2 1 3 0 2 1 3 2 2 1 1 3 2 2 0 3z" fill="#3232cd"/><path d="M291 151l-1 3 -1 2 -2 2 -2 0 -3 1 -2-1 -2-2 -1-2 -1-3 1-2 1-3 2-1 2-1 3 0 3 0 2 2 1 3z" fill="#3232a5"/>
<path d="M57.3 0V553.1M243.9 0V553.1M430.5 0V553.1M617.2 0V553.1M803.8 0V553.1M990.4 0V553.1M0 475.2H1034.4M0 398H1034.4M0 320.1H1034.4M0 241.2H1034.4M0 161.4H1034.4M0 80.4H1034.4" stroke="#fff" stroke-opacity="0.09" stroke-width="2" fill="none"/>
<path d="M215.9 555.4L216.4 546.1L214.5 536.7L216.7 531.9L218.5 524.6L223.1 516.3L222.1 513L218.6 506.6L218.9 502.4L216.7 497.2L216 486.1L213.9 480.7L214.8 476.4L213.8 470.5L211.9 463.9L210.8 457.7L209.4 453.6L207.9 448.1L206.5 441.5L204.1 436.3L204.6 431L201 424.6L194.6 416.3L191.4 414.5L187.6 408.1L183.6 403.6L179.8 398.5L174.6 394.6L171.5 389.8L167.6 385.6L162.2 381.7L156.3 377.5L152.5 374.9L147.6 369.8L143.3 363.5L138.3 358.2L130.1 353.5L126.7 348.3L122.9 347L118.4 340.5L115.9 333.7L112.6 327.7L111 318.3L105.1 314.1L98.4 309.5L94.2 304.9L90.3 301.8L86.9 296.6L85.7 290.1L83 284.2L80.8 277.8L82.9 271.4L85.6 266.1L86.3 260.5L89.9 254.3L90.9 246.3L94.5 242.7L101.1 240.5L105.2 237.6L109.8 235L115.8 230.2L115.7 224.4L117.9 215L119 207.8L128 206.7L131.3 204.2L136.8 202.3L140.5 198L146.9 195.8L152.5 190.3L158.7 186.3L163.7 183.5L169.6 179.8L174.2 177.4L180.6 174L187.6 171L191.1 169.9L200.2 171.6L204.5 175.6L208.9 177.6L211 184.4L215.5 183.3L221.1 181.7L227.2 174.7L231.5 177.3L240.5 185.1L241.9 184.6L238.8 189.5L233.6 197.4L234.8 207.2L237.2 215.1L239.3 222.4L244.9 227.4L248.2 233.1L256.7 230.3L264.3 226.7L267.1 218.4L261.8 211.9L256.8 206.5L258.7 196.8L260.9 188.4L264.7 186.6L269.4 183.6L273.7 186L278.3 184.2L283.7 180.7L289.3 182.7L295.5 181L298.3 178.7L304.9 177.9L310.5 175.4L320.5 174.1L330.3 173.5L333.7 170.4L340.2 171.8L347.9 167.9L354.6 163.6L359 156.3L363.2 158L367.1 156.5L371.6 153.2L377.6 152.3L382.9 150.3L387.1 145.5L391.9 152.4L396.5 159L400.5 150.2L401.2 142.4L407 139.2L413.4 135.7L416.9 134.8L421.5 136.7L427 136.6L434.3 129.3L440.3 128.2L445.2 132L450.7 132.9L456.5 131.5L460.9 131.1L466.3 127.3L473.3 125.2L477.7 125.8L483.4 123.6L489.3 116.4L491.2 111.5L492.1 106.7L500.8 104.9L507.3 101.5L514.7 95.3L519 90.4L521.7 86.6L532.3 84.5L535.6 78.1L540 71.9L544.2 70.1L539.9 67.1L535.4 63.3L540.6 62.2L546.9 58.9L552.7 59.7L556.3 58.5L561.8 56.4L568 50.6L576.2 43.1L580.9 35L589.2 29.1L597.7 25.2L602.3 18.5L608.4 11.1L601.3 6.4L606.1 -1.3M648.3 49.8L644.2 54.8L639.4 58.8L637.6 65L636.8 70.1L633.1 74.8L630.9 78.1L628.7 84.8L627 89.4L624.8 93.4L622.4 98.9L620.4 104.9L619 111.2L618.7 118.7L620.5 124.1L622.1 128.5L628.6 135.1L631.4 140.1L636.7 143.4L639.3 149.5L641.5 153.7L642.3 158.5L642.5 162.9L649.1 165.9L650.6 157.8L650.9 151.9L652.8 146.3L655 141.2L658.4 135.6L660.8 131.1L664.2 127.4L666.8 120.6L669.9 114.5L670.9 108.7L673.5 103.6L676.1 95.6L677.5 88.7L678.6 82.2L679.2 74.6L679.4 69.5L682.1 64.6L683.6 56.7L684.6 50.7L684.5 46.6L682.9 39.4L679.5 33.9L675.1 29.9L670.1 25.5L663.2 28.7L658.4 32.2L654.8 37.2L650.9 39.8L649.3 44.9ZM211 252.2L217.2 248.9L220.9 247.6L225.6 244.6L230.6 242.8L236.5 243.7L241.5 243.7L249.9 240.7L256.2 239.7L261.7 239L268.7 237.2L273 242.5L280.8 246.1L281 254.6L276.3 260.1L269.4 265.1L266.5 271L261.2 280.7L259.6 286.9L257.5 290.8L253.1 298L243.3 303.4L239.2 307L234.2 308.2L228.1 312.7L219.3 309.9L216.6 307.7L211.8 306L207.1 305.1L201.8 303.2L192.9 299.3L193.7 291.6L192.5 285.8L191.9 281.5L193.4 272.6L197.6 264.6L202.4 259.4L207.1 256.1ZM637.7 303.2L641.1 298.9L643.8 294.9L652.1 296.5L659.8 298.9L668.3 305L673.5 306.2L678.2 307.9L687 307.9L695.2 304.1L699.1 300.2L700.8 305.2L700.6 315.9L700.6 319.7L698.8 325.6L699.7 330.7L699.1 334.3L701.5 341.2L702.7 343.9L709.9 349.7L709.2 359.6L707.1 364.8L705.5 370L703.9 374.4L701.3 379L695.5 387.1L690.3 394.9L681.9 397.5L675.4 403.3L674 407.9L674.4 413L673.8 417.9L670.1 423.6L667.3 429.6L672.9 435.3L678 441.3L679.7 447.5L680.9 452.6L679.5 462.4L683.2 469.9L692.3 476.4L698.8 478.5L701.8 472.6L706.7 464.9L714.9 463.4L723.7 464.5L729.1 470.1L731.1 478.3L733.6 483.6L740.5 488L744.1 483.8L749.2 479.6L757 478.2L765.5 482.2L770.3 490.1L774.3 494L781.5 485.6L780.9 478.4L775.2 471.6L772.2 474.5L770.7 479.2L769.6 482.8L762.2 478L755.1 473.8L747.2 475.4L740.3 483.4L736.6 479.3L734.1 471L730.8 463.2L723.3 458.8L712.8 459.2L704.8 464.1L701.3 470.8L695.6 472.5L687.7 467.8L683.8 459.3L683.9 450.4L681.5 441L679.5 438.2L675.5 434.1L671.9 428.8L667.8 432.3L663.1 438.3L660.2 443.4L654.6 451.6L646.5 449.6L638.5 446.3L634.3 453.8L628 448.6L622.4 442.9L618.8 435.8L617.2 426.3L613.6 419.4L612.3 414.5L610.7 410.3L609.2 402.8L608.5 393.4L610.9 388.8L610.9 383.7L612.9 387.1L618.7 394.3L626.5 395.5L634.6 390.5L632.5 384.8L627.9 374.4L628 369.7L629.2 364.6L628.7 359.6L629 353.7L631.5 350.7L632.5 344.7L630.9 334.5L630.9 330L632.1 323.5L635.3 319.9L633.9 314.2L636.2 309.1ZM634.7 497.7L639.9 497L646.2 495.9L649.5 493.7L653.7 494.2L659.4 498.9L663.4 503.8L667.9 508.1L670.9 513.9L673.8 517.1L673 522.8L671.4 528.8L669.5 533.4L666.8 537.5L662.3 543.2L654.4 541L652 535.5L648.5 529.2L646.5 524.1L644.7 518.4L641.5 513.3L638.4 509.8L636.7 503.6ZM684.8 495.8L691.5 491.4L694.7 496.7L695 504.1L688.9 506.5L683.8 501.7ZM709.4 480L714.4 477.3L716 483.6L715.3 487.1L714 491.6L715.5 497.4L715.7 501.9L713.7 507.2L708.6 500.4L710.4 489.9ZM727.1 509.5L735.2 508L742.9 514.5L751.1 520.3L758.5 515.5L765.9 507.8L773.8 513.2L769 522L761.3 525.3L753.2 527.7L747.1 524.5L743.1 523.2L738.2 521L732.3 520.7L730 514.4ZM734.9 493.8L742.3 491.4L746.7 499.4L743.6 507.2L737.7 503.1L735.9 498.7ZM758.5 497.7L764.3 496.7L768.4 495.8L773 501.6L769.4 507.4L762.4 505.6ZM778.1 529.2L782.9 528L787.9 527.5L793 529.2L797.1 529.8L802.5 528.5L807.5 527L811.9 530.9L815.1 534.7L821.3 542L822.7 547.8L823.3 553.3L817.5 554.4L811.7 555.8L804 552.9L798.7 552L788.8 549.7L785.1 545.9L782.2 541.2L780.1 535.1ZM611.1 540.9L619.1 539.9L626.5 544.8L628.1 553.1L620.4 554.4L613.1 548.8ZM691.7 527.2L699.7 526.3L698.9 529.5L698.2 533.9L695.6 540.2L693.7 545.1L689.1 548.1L687.7 543L690 538.1L690.7 532.1ZM703.5 531.1L711.4 531.8L717.1 538.9L713.6 542.5L705.4 539.0ZM738.8 529.2L746.8 531.3L749.3 536.3L752.2 541.1L757.1 548.5L750.8 553.6L745.8 548.6L742.8 545.5L736.9 537.0ZM760.5 539L768.8 540.8L772.5 550.2L767.7 554.4L763 551.4L761.4 544.9ZM620 480L625.8 481.1L630.4 486.7L625.3 488.9L621 485.0ZM640.6 480L648.4 482.9L655 488L648.2 490.5L642.6 485.9Z" fill="none" stroke="#fff" stroke-width="1.8" stroke-linejoin="round"/><path d="M599.2 98.9h0.1M601.2 106.8h0.1M598.2 112.7h0.1M671.9 136.3h0.1M675.8 159.8h0.1M687.6 209.0h0.1M689.6 226.6h0.1M669.9 265.9h0.1M668.0 285.6h0.1M728.9 63.6h0.1M758.4 67.5h0.1M768.2 63.6h0.1M778.0 57.7h0.1M663.2 277.7h0.1M666.2 285.5h0.1M687.8 284.6h0.1M727.1 459.4h0.1M122.6 205.0h0.1M130.5 207.0h0.1M136.4 209.0h0.1M148.1 201.1h0.1M161.9 202.1h0.1M211.0 201.1h0.1M159.9 235.5h0.1M340.7 173.6h0.1M346.6 175.6h0.1M374.1 128.4h0.1M380.0 138.2h0.1M383.9 153.9h0.1M389.8 161.8h0.1M93.1 267.6h0.1M93.1 290.2h0.1M145.2 353.0h0.1M163.9 384.5h0.1M177.6 394.3h0.1M189.4 400.2h0.1M211.0 422.8h0.1M220.8 527.9h0.1M218.9 543.6h0.1" fill="none" stroke="#fff" stroke-width="4" stroke-linecap="round"/>
<g stroke="#1a0500" stroke-opacity="0.88" stroke-width="1.65" fill="none"><g marker-end="url(#a0)"><path d="M-1 16l0 18"/><path d="M27 16l0 20"/><path d="M54 16l5 19"/><path d="M736 16l-2 -17"/><path d="M764 16l-1 -13"/><path d="M791 16l6 -11"/><path d="M818 16l10 -7"/><path d="M846 16l16 -8"/><path d="M873 16l18 -3"/><path d="M955 16l18 -2"/><path d="M982 16l17 -1"/><path d="M1009 16l14 -1"/><path d="M1037 16l12 3"/><path d="M-14 39l4 15"/><path d="M13 39l8 17"/><path d="M40 39l6 16"/><path d="M750 39l-3 -17"/><path d="M777 39l4 -12"/><path d="M805 39l9 -9"/><path d="M832 39l14 -4"/><path d="M859 39l18 -1"/><path d="M968 39l19 0"/><path d="M996 39l16 2"/><path d="M1023 39l13 1"/><path d="M-1 63l5 15"/><path d="M27 63l5 19"/><path d="M54 63l8 16"/><path d="M764 63l-1 -16"/><path d="M791 63l5 -12"/><path d="M818 63l10 -8"/><path d="M846 63l15 -4"/><path d="M982 63l17 3"/><path d="M1009 63l12 3"/><path d="M1037 63l12 5"/><path d="M-14 86l7 15"/><path d="M13 86l6 17"/><path d="M40 86l10 16"/><path d="M68 86l13 14"/><path d="M777 86l2 -16"/><path d="M805 86l5 -12"/><path d="M832 86l11 -6"/><path d="M859 86l17 -7"/><path d="M887 86l19 -2"/><path d="M968 86l17 1"/><path d="M996 86l13 2"/><path d="M1023 86l11 7"/><path d="M-1 109l7 13"/><path d="M27 109l11 12"/><path d="M54 109l14 12"/><path d="M81 109l15 11"/><path d="M764 109l-2 -19"/><path d="M791 109l1 -15"/><path d="M818 109l5 -12"/><path d="M846 109l11 -6"/><path d="M873 109l15 -3"/><path d="M900 109l16 -4"/><path d="M927 109l16 0"/><path d="M955 109l17 0"/><path d="M982 109l11 6"/><path d="M1009 109l8 9"/><path d="M1037 109l5 11"/><path d="M-14 132l12 7"/><path d="M13 132l13 9"/><path d="M40 132l17 8"/><path d="M805 132l1 -17"/><path d="M832 132l1 -13"/><path d="M859 132l9 -9"/><path d="M887 132l12 -4"/><path d="M914 132l12 2"/><path d="M941 132l13 1"/><path d="M968 132l11 6"/><path d="M996 132l5 12"/><path d="M1023 132l5 16"/><path d="M-1 156l18 5"/><path d="M27 156l18 4"/><path d="M81 156l18 7"/><path d="M791 156l-1 -19"/><path d="M818 156l0 -18"/><path d="M846 156l3 -12"/><path d="M873 156l10 -7"/><path d="M900 156l13 -1"/><path d="M927 156l12 3"/><path d="M955 156l10 8"/><path d="M982 156l3 12"/><path d="M1009 156l3 16"/><path d="M1037 156l3 18"/><path d="M859 179l5 -12"/><path d="M887 179l12 -5"/><path d="M914 179l13 -1"/><path d="M941 179l12 2"/><path d="M968 179l6 11"/><path d="M846 202l0 -13"/><path d="M873 202l10 -8"/><path d="M900 202l13 -1"/><path d="M927 202l13 1"/><path d="M955 202l10 8"/><path d="M982 202l0 13"/><path d="M832 226l-1 -18"/><path d="M859 226l4 -12"/><path d="M887 226l10 -7"/><path d="M914 226l13 0"/><path d="M941 226l12 4"/><path d="M968 226l3 12"/><path d="M996 226l2 19"/><path d="M1023 226l0 20"/><path d="M791 249l-2 -20"/><path d="M818 249l-2 -19"/><path d="M846 249l-4 -12"/><path d="M873 249l-3 -12"/><path d="M900 249l6 -11"/><path d="M927 249l12 5"/><path d="M955 249l-1 13"/><path d="M982 249l0 13"/><path d="M1009 249l1 18"/><path d="M1037 249l3 17"/><path d="M777 272l-3 -18"/><path d="M805 272l-7 -17"/><path d="M832 272l-6 -11"/><path d="M859 272l-8 -10"/><path d="M887 272l-12 -5"/><path d="M914 272l-12 -3"/><path d="M941 272l-12 3"/><path d="M968 272l-10 8"/><path d="M996 272l-3 12"/><path d="M1023 272l0 14"/><path d="M736 296l-7 -18"/><path d="M764 296l-4 -17"/><path d="M791 296l-7 -14"/><path d="M818 296l-9 -10"/><path d="M846 296l-11 -6"/><path d="M873 296l-13 -2"/><path d="M900 296l-15 1"/><path d="M927 296l-16 2"/><path d="M955 296l-14 3"/><path d="M982 296l-12 5"/><path d="M1009 296l-6 11"/><path d="M1037 296l-5 12"/><path d="M750 319l-7 -15"/><path d="M777 319l-8 -14"/><path d="M805 319l-10 -12"/><path d="M832 319l-14 -5"/><path d="M859 319l-17 -6"/><path d="M887 319l-20 2"/><path d="M941 319l-18 -4"/><path d="M968 319l-18 -1"/><path d="M996 319l-13 2"/><path d="M1023 319l-11 6"/><path d="M709 342l-7 -19"/><path d="M764 342l-10 -14"/><path d="M791 342l-10 -11"/><path d="M818 342l-12 -11"/><path d="M846 342l-17 -4"/><path d="M982 342l-16 1"/><path d="M1009 342l-14 2"/><path d="M1037 342l-12 4"/><path d="M750 366l-10 -16"/><path d="M777 366l-12 -13"/><path d="M805 366l-14 -9"/><path d="M832 366l-17 -7"/><path d="M859 366l-17 -2"/><path d="M941 366l-19 0"/><path d="M996 366l-20 1"/><path d="M1023 366l-17 4"/><path d="M736 389l-10 -17"/><path d="M818 389l-17 -9"/><path d="M873 389l-19 -5"/><path d="M1009 389l-19 1"/><path d="M1037 389l-18 6"/><path d="M750 412l-13 -14"/><path d="M859 412l-18 -8"/><path d="M887 412l-18 -4"/><path d="M941 412l-18 2"/><path d="M996 412l-20 -1"/><path d="M764 435l-15 -13"/><path d="M900 435l-19 -2"/><path d="M927 435l-19 0"/><path d="M982 435l-19 6"/><path d="M887 459l-16 -9"/><path d="M914 459l-19 -5"/><path d="M941 459l-19 1"/><path d="M-1 482l19 -3"/><path d="M791 482l-17 -10"/><path d="M927 482l-19 -2"/><path d="M955 482l-18 6"/><path d="M914 505l-18 -7"/><path d="M-1 529l16 -9"/><path d="M54 529l18 -6"/><path d="M81 529l18 -8"/><path d="M682 529l-4 -19"/><path d="M764 529l-14 -14"/><path d="M846 529l-18 -6"/><path d="M900 529l-18 -9"/><path d="M955 529l-19 3"/><path d="M982 529l-19 6"/><path d="M122 552l17 -8"/><path d="M150 552l13 -14"/><path d="M177 552l16 -12"/><path d="M750 552l-8 -17"/><path d="M777 552l-14 -13"/><path d="M832 552l-17 -9"/><path d="M887 552l-16 -5"/><path d="M914 552l-19 -2"/><path d="M941 552l-19 -3"/><path d="M996 552l-18 4"/></g><g marker-end="url(#a1)"><path d="M81 16l5 21"/><path d="M108 16l7 21"/><path d="M136 16l7 20"/><path d="M163 16l4 21"/><path d="M654 16l-6 -22"/><path d="M682 16l-5 -20"/><path d="M709 16l-5 -20"/><path d="M900 16l23 1"/><path d="M927 16l21 -1"/><path d="M68 39l7 24"/><path d="M95 39l9 21"/><path d="M122 39l4 20"/><path d="M177 39l2 24"/><path d="M668 39l-9 -21"/><path d="M695 39l-7 -21"/><path d="M723 39l-4 -20"/><path d="M887 39l22 1"/><path d="M914 39l23 2"/><path d="M941 39l23 0"/><path d="M81 63l14 20"/><path d="M108 63l9 21"/><path d="M136 63l11 22"/><path d="M163 63l3 21"/><path d="M682 63l-7 -22"/><path d="M709 63l-7 -22"/><path d="M736 63l-4 -22"/><path d="M873 63l21 1"/><path d="M900 63l22 0"/><path d="M927 63l23 -3"/><path d="M955 63l20 -1"/><path d="M95 86l11 17"/><path d="M122 86l16 16"/><path d="M695 86l-9 -23"/><path d="M723 86l-6 -22"/><path d="M750 86l-4 -20"/><path d="M914 86l22 -2"/><path d="M941 86l20 2"/><path d="M108 109l18 13"/><path d="M136 109l18 16"/><path d="M654 109l-10 -23"/><path d="M736 109l-8 -22"/><path d="M68 132l20 10"/><path d="M95 132l21 7"/><path d="M695 132l-3 -25"/><path d="M750 132l-7 -22"/><path d="M777 132l-3 -22"/><path d="M54 156l20 6"/><path d="M108 156l23 3"/><path d="M272 156l14 14"/><path d="M682 156l-9 -23"/><path d="M709 156l-7 -22"/><path d="M736 156l-6 -23"/><path d="M764 156l-2 -23"/><path d="M-14 179l21 1"/><path d="M13 179l22 4"/><path d="M40 179l24 4"/><path d="M68 179l23 2"/><path d="M95 179l23 4"/><path d="M150 179l24 6"/><path d="M695 179l-4 -22"/><path d="M750 179l-5 -22"/><path d="M777 179l2 -22"/><path d="M805 179l1 -21"/><path d="M832 179l2 -20"/><path d="M996 179l2 20"/><path d="M1023 179l3 24"/><path d="M-1 202l20 1"/><path d="M27 202l24 3"/><path d="M54 202l24 -1"/><path d="M108 202l23 -1"/><path d="M136 202l24 2"/><path d="M682 202l-7 -24"/><path d="M736 202l-6 -23"/><path d="M764 202l2 -23"/><path d="M791 202l-2 -22"/><path d="M818 202l-1 -21"/><path d="M1009 202l3 22"/><path d="M1037 202l1 22"/><path d="M-14 226l21 2"/><path d="M13 226l24 -1"/><path d="M68 226l23 -3"/><path d="M95 226l24 1"/><path d="M641 226l-4 -25"/><path d="M695 226l-1 -24"/><path d="M723 226l-4 -23"/><path d="M750 226l-1 -23"/><path d="M777 226l-6 -21"/><path d="M805 226l0 -23"/><path d="M-1 249l22 2"/><path d="M27 249l23 -4"/><path d="M108 249l24 -3"/><path d="M709 249l-2 -22"/><path d="M736 249l-4 -23"/><path d="M764 249l-1 -22"/><path d="M-14 272l25 -4"/><path d="M68 272l24 -6"/><path d="M95 272l23 -4"/><path d="M122 272l25 -3"/><path d="M668 272l-1 -23"/><path d="M695 272l1 -23"/><path d="M723 272l-4 -22"/><path d="M750 272l-6 -21"/><path d="M-1 296l25 1"/><path d="M27 296l22 -4"/><path d="M81 296l23 -1"/><path d="M108 296l23 -3"/><path d="M682 296l-4 -21"/><path d="M709 296l-6 -20"/><path d="M-14 319l24 -4"/><path d="M13 319l22 -5"/><path d="M40 319l22 -7"/><path d="M68 319l21 -4"/><path d="M95 319l22 -7"/><path d="M122 319l23 -4"/><path d="M668 319l-4 -23"/><path d="M695 319l-3 -22"/><path d="M723 319l-8 -19"/><path d="M914 319l-23 1"/><path d="M-1 342l21 -4"/><path d="M27 342l21 -6"/><path d="M54 342l21 -10"/><path d="M81 342l22 -4"/><path d="M136 342l19 -12"/><path d="M218 342l18 -13"/><path d="M654 342l-2 -22"/><path d="M682 342l-3 -23"/><path d="M736 342l-12 -16"/><path d="M873 342l-24 -1"/><path d="M900 342l-24 1"/><path d="M927 342l-21 0"/><path d="M955 342l-22 -3"/><path d="M-14 366l22 -9"/><path d="M13 366l20 -7"/><path d="M40 366l21 -8"/><path d="M68 366l20 -7"/><path d="M95 366l21 -7"/><path d="M122 366l21 -11"/><path d="M150 366l23 -7"/><path d="M177 366l22 -11"/><path d="M614 366l-1 -25"/><path d="M641 366l-9 -21"/><path d="M668 366l-4 -22"/><path d="M695 366l-8 -22"/><path d="M723 366l-13 -18"/><path d="M887 366l-23 -1"/><path d="M914 366l-22 0"/><path d="M968 366l-22 -2"/><path d="M-1 389l20 -8"/><path d="M27 389l18 -10"/><path d="M54 389l21 -10"/><path d="M81 389l19 -11"/><path d="M108 389l20 -8"/><path d="M136 389l21 -12"/><path d="M163 389l20 -10"/><path d="M190 389l18 -15"/><path d="M682 389l-6 -23"/><path d="M709 389l-9 -22"/><path d="M764 389l-16 -14"/><path d="M791 389l-21 -7"/><path d="M846 389l-20 -7"/><path d="M900 389l-20 -1"/><path d="M927 389l-24 0"/><path d="M955 389l-21 2"/><path d="M982 389l-21 4"/><path d="M-14 412l21 -8"/><path d="M13 412l20 -5"/><path d="M40 412l19 -10"/><path d="M68 412l20 -10"/><path d="M95 412l21 -9"/><path d="M122 412l18 -14"/><path d="M150 412l19 -16"/><path d="M614 412l-3 -24"/><path d="M723 412l-11 -20"/><path d="M777 412l-17 -11"/><path d="M805 412l-20 -11"/><path d="M832 412l-18 -11"/><path d="M914 412l-21 1"/><path d="M968 412l-21 3"/><path d="M1023 412l-20 5"/><path d="M-1 435l18 -9"/><path d="M27 435l21 -11"/><path d="M54 435l22 -11"/><path d="M81 435l20 -10"/><path d="M136 435l19 -16"/><path d="M218 435l17 -18"/><path d="M736 435l-12 -20"/><path d="M791 435l-19 -14"/><path d="M818 435l-17 -14"/><path d="M846 435l-22 -9"/><path d="M873 435l-21 -12"/><path d="M955 435l-20 4"/><path d="M1009 435l-22 6"/><path d="M1037 435l-21 9"/><path d="M-14 459l20 -8"/><path d="M13 459l19 -7"/><path d="M40 459l19 -11"/><path d="M68 459l18 -13"/><path d="M95 459l16 -13"/><path d="M122 459l19 -14"/><path d="M150 459l17 -16"/><path d="M177 459l19 -16"/><path d="M204 459l19 -16"/><path d="M259 459l12 -22"/><path d="M614 459l-3 -23"/><path d="M723 459l-6 -21"/><path d="M750 459l-13 -16"/><path d="M805 459l-20 -10"/><path d="M859 459l-22 -9"/><path d="M968 459l-21 2"/><path d="M996 459l-20 5"/><path d="M1023 459l-22 9"/><path d="M27 482l20 -5"/><path d="M54 482l21 -10"/><path d="M81 482l21 -7"/><path d="M108 482l19 -11"/><path d="M136 482l18 -14"/><path d="M163 482l18 -13"/><path d="M218 482l19 -15"/><path d="M627 482l-11 -21"/><path d="M682 482l-4 -24"/><path d="M709 482l-6 -21"/><path d="M736 482l-11 -17"/><path d="M764 482l-17 -13"/><path d="M818 482l-19 -11"/><path d="M846 482l-19 -13"/><path d="M873 482l-19 -12"/><path d="M900 482l-20 -9"/><path d="M982 482l-21 8"/><path d="M1009 482l-23 6"/><path d="M-14 505l21 -8"/><path d="M13 505l21 -6"/><path d="M40 505l21 -10"/><path d="M68 505l20 -8"/><path d="M95 505l16 -16"/><path d="M122 505l19 -13"/><path d="M150 505l19 -16"/><path d="M177 505l17 -17"/><path d="M231 505l17 -16"/><path d="M395 505l3 -25"/><path d="M641 505l-4 -25"/><path d="M668 505l-4 -24"/><path d="M723 505l-7 -20"/><path d="M750 505l-16 -16"/><path d="M777 505l-16 -13"/><path d="M805 505l-18 -9"/><path d="M832 505l-22 -7"/><path d="M859 505l-21 -13"/><path d="M887 505l-19 -9"/><path d="M941 505l-21 -2"/><path d="M968 505l-20 3"/><path d="M996 505l-20 7"/><path d="M1023 505l-20 5"/><path d="M27 529l20 -10"/><path d="M108 529l19 -9"/><path d="M136 529l20 -14"/><path d="M163 529l18 -16"/><path d="M190 529l18 -14"/><path d="M218 529l14 -20"/><path d="M245 529l15 -19"/><path d="M272 529l9 -22"/><path d="M463 529l1 -24"/><path d="M518 529l-1 -24"/><path d="M573 529l0 -25"/><path d="M627 529l-8 -23"/><path d="M709 529l-6 -22"/><path d="M736 529l-11 -21"/><path d="M791 529l-21 -11"/><path d="M818 529l-18 -12"/><path d="M873 529l-19 -9"/><path d="M927 529l-20 -3"/><path d="M1009 529l-19 12"/><path d="M1037 529l-21 5"/><path d="M-14 552l22 -7"/><path d="M13 552l21 -6"/><path d="M40 552l19 -7"/><path d="M68 552l22 -9"/><path d="M95 552l20 -8"/><path d="M204 552l14 -16"/><path d="M259 552l14 -18"/><path d="M286 552l6 -22"/><path d="M423 552l5 -25"/><path d="M641 552l-1 -24"/><path d="M668 552l-8 -23"/><path d="M723 552l-7 -23"/><path d="M805 552l-18 -12"/><path d="M859 552l-20 -10"/><path d="M968 552l-20 0"/><path d="M1023 552l-21 -1"/></g><g marker-end="url(#a2)"><path d="M190 16l-8 26"/><path d="M218 16l-14 24"/><path d="M245 16l-20 21"/><path d="M272 16l-27 8"/><path d="M600 16l-15 -23"/><path d="M627 16l-13 -25"/><path d="M150 39l4 26"/><path d="M204 39l-10 26"/><path d="M532 39l-19 -22"/><path d="M614 39l-11 -25"/><path d="M641 39l-13 -26"/><path d="M190 63l-5 28"/><path d="M218 63l-14 26"/><path d="M600 63l-14 -27"/><path d="M627 63l-10 -26"/><path d="M654 63l-10 -25"/><path d="M150 86l9 25"/><path d="M177 86l3 29"/><path d="M586 86l-12 -26"/><path d="M614 86l-8 -26"/><path d="M641 86l-9 -25"/><path d="M668 86l-7 -26"/><path d="M573 109l-10 -28"/><path d="M600 109l-13 -24"/><path d="M627 109l-6 -28"/><path d="M682 109l-6 -25"/><path d="M709 109l-11 -23"/><path d="M122 132l26 9"/><path d="M150 132l21 21"/><path d="M177 132l19 20"/><path d="M586 132l-10 -23"/><path d="M614 132l-9 -27"/><path d="M641 132l-8 -27"/><path d="M668 132l-10 -27"/><path d="M723 132l-10 -24"/><path d="M136 156l25 8"/><path d="M163 156l23 16"/><path d="M190 156l21 21"/><path d="M573 156l-5 -28"/><path d="M600 156l-7 -28"/><path d="M654 156l-9 -28"/><path d="M122 179l27 -1"/><path d="M532 179l-3 -30"/><path d="M614 179l-6 -28"/><path d="M641 179l-9 -29"/><path d="M668 179l-5 -26"/><path d="M723 179l-5 -25"/><path d="M81 202l25 2"/><path d="M163 202l28 8"/><path d="M600 202l4 -29"/><path d="M627 202l-10 -28"/><path d="M654 202l-1 -27"/><path d="M709 202l-10 -25"/><path d="M40 226l25 -6"/><path d="M122 226l27 2"/><path d="M150 226l29 -2"/><path d="M177 226l29 -2"/><path d="M204 226l30 -2"/><path d="M586 226l-5 -29"/><path d="M668 226l-10 -27"/><path d="M54 249l25 1"/><path d="M81 249l25 -5"/><path d="M136 249l24 -8"/><path d="M163 249l27 -3"/><path d="M573 249l-3 -27"/><path d="M627 249l-7 -27"/><path d="M654 249l-10 -27"/><path d="M682 249l-4 -27"/><path d="M13 272l25 -4"/><path d="M40 272l26 -2"/><path d="M150 272l25 -13"/><path d="M177 272l28 -9"/><path d="M614 272l-5 -28"/><path d="M641 272l-6 -27"/><path d="M54 296l28 -5"/><path d="M136 296l25 -9"/><path d="M163 296l24 -11"/><path d="M190 296l27 -12"/><path d="M218 296l27 -12"/><path d="M600 296l-2 -29"/><path d="M627 296l-2 -26"/><path d="M654 296l0 -28"/><path d="M150 319l24 -8"/><path d="M177 319l21 -15"/><path d="M204 319l24 -13"/><path d="M231 319l25 -14"/><path d="M313 319l15 -25"/><path d="M504 319l1 -30"/><path d="M532 319l0 -27"/><path d="M586 319l1 -29"/><path d="M614 319l1 -28"/><path d="M641 319l-3 -29"/><path d="M108 342l24 -13"/><path d="M163 342l24 -11"/><path d="M190 342l24 -12"/><path d="M272 342l17 -23"/><path d="M491 342l9 -29"/><path d="M573 342l4 -29"/><path d="M600 342l-5 -28"/><path d="M627 342l-4 -26"/><path d="M204 366l17 -20"/><path d="M231 366l16 -20"/><path d="M259 366l19 -19"/><path d="M313 366l14 -25"/><path d="M368 366l7 -28"/><path d="M504 366l7 -29"/><path d="M559 366l0 -27"/><path d="M586 366l-3 -27"/><path d="M218 389l19 -17"/><path d="M245 389l19 -21"/><path d="M272 389l22 -20"/><path d="M327 389l12 -25"/><path d="M354 389l10 -28"/><path d="M382 389l9 -28"/><path d="M518 389l1 -30"/><path d="M545 389l2 -27"/><path d="M600 389l0 -26"/><path d="M627 389l-1 -26"/><path d="M654 389l-7 -28"/><path d="M177 412l18 -18"/><path d="M204 412l20 -18"/><path d="M231 412l19 -20"/><path d="M259 412l19 -23"/><path d="M286 412l10 -26"/><path d="M313 412l12 -27"/><path d="M368 412l11 -28"/><path d="M450 412l4 -29"/><path d="M504 412l3 -26"/><path d="M532 412l-1 -28"/><path d="M559 412l2 -28"/><path d="M586 412l2 -27"/><path d="M641 412l-5 -27"/><path d="M668 412l-5 -27"/><path d="M695 412l-7 -27"/><path d="M108 435l23 -10"/><path d="M163 435l20 -16"/><path d="M190 435l19 -19"/><path d="M272 435l15 -24"/><path d="M300 435l12 -23"/><path d="M354 435l5 -30"/><path d="M382 435l8 -29"/><path d="M409 435l3 -29"/><path d="M463 435l5 -29"/><path d="M545 435l5 -25"/><path d="M573 435l1 -29"/><path d="M600 435l-1 -28"/><path d="M627 435l-6 -25"/><path d="M654 435l-8 -25"/><path d="M682 435l-5 -26"/><path d="M709 435l-8 -25"/><path d="M231 459l15 -20"/><path d="M286 459l13 -26"/><path d="M341 459l15 -25"/><path d="M368 459l11 -28"/><path d="M395 459l5 -29"/><path d="M450 459l1 -27"/><path d="M504 459l5 -29"/><path d="M586 459l-5 -27"/><path d="M641 459l-5 -26"/><path d="M668 459l-8 -27"/><path d="M695 459l-4 -25"/><path d="M777 459l-21 -17"/><path d="M832 459l-22 -13"/><path d="M190 482l23 -13"/><path d="M245 482l14 -24"/><path d="M327 482l11 -27"/><path d="M354 482l10 -27"/><path d="M382 482l8 -27"/><path d="M409 482l3 -29"/><path d="M436 482l4 -28"/><path d="M491 482l-1 -29"/><path d="M545 482l0 -26"/><path d="M573 482l-6 -26"/><path d="M600 482l-3 -29"/><path d="M654 482l-6 -27"/><path d="M1037 482l-25 6"/><path d="M204 505l20 -18"/><path d="M259 505l14 -21"/><path d="M286 505l9 -25"/><path d="M313 505l6 -29"/><path d="M368 505l13 -26"/><path d="M423 505l4 -27"/><path d="M450 505l4 -27"/><path d="M532 505l-2 -28"/><path d="M559 505l1 -30"/><path d="M586 505l-4 -28"/><path d="M614 505l-5 -26"/><path d="M695 505l-5 -26"/><path d="M300 529l8 -27"/><path d="M327 529l8 -28"/><path d="M354 529l9 -25"/><path d="M382 529l6 -29"/><path d="M409 529l4 -25"/><path d="M491 529l6 -29"/><path d="M600 529l-5 -26"/><path d="M654 529l-8 -24"/><path d="M231 552l15 -21"/><path d="M313 552l4 -25"/><path d="M341 552l10 -26"/><path d="M368 552l7 -26"/><path d="M395 552l8 -27"/><path d="M450 552l-1 -30"/><path d="M477 552l-2 -28"/><path d="M504 552l-1 -30"/><path d="M532 552l1 -29"/><path d="M559 552l2 -28"/><path d="M586 552l-4 -26"/><path d="M614 552l-1 -27"/><path d="M695 552l-6 -25"/></g><g marker-end="url(#a3)"><path d="M300 16l-32 6"/><path d="M327 16l-32 0"/><path d="M382 16l-32 -14"/><path d="M409 16l-27 -18"/><path d="M463 16l-27 -21"/><path d="M491 16l-19 -29"/><path d="M518 16l-15 -27"/><path d="M545 16l-16 -26"/><path d="M573 16l-19 -25"/><path d="M231 39l-23 20"/><path d="M259 39l-27 23"/><path d="M286 39l-32 12"/><path d="M423 39l-25 -23"/><path d="M450 39l-23 -22"/><path d="M477 39l-21 -28"/><path d="M559 39l-22 -22"/><path d="M586 39l-28 -18"/><path d="M245 63l-15 29"/><path d="M409 63l-27 -22"/><path d="M463 63l-24 -22"/><path d="M518 63l-20 -24"/><path d="M545 63l-15 -31"/><path d="M573 63l-13 -29"/><path d="M204 86l-3 34"/><path d="M231 86l-16 30"/><path d="M477 86l-18 -29"/><path d="M504 86l-19 -28"/><path d="M532 86l-17 -27"/><path d="M559 86l-16 -29"/><path d="M163 109l19 25"/><path d="M190 109l12 30"/><path d="M218 109l-6 34"/><path d="M463 109l-19 -29"/><path d="M491 109l-16 -27"/><path d="M518 109l-20 -29"/><path d="M545 109l-7 -32"/><path d="M204 132l15 29"/><path d="M286 132l-35 4"/><path d="M477 132l-10 -33"/><path d="M504 132l-11 -31"/><path d="M532 132l-14 -27"/><path d="M559 132l-13 -31"/><path d="M218 156l21 25"/><path d="M300 156l0 -35"/><path d="M518 156l-8 -29"/><path d="M545 156l-8 -32"/><path d="M627 156l-10 -28"/><path d="M177 179l31 12"/><path d="M204 179l28 19"/><path d="M450 179l-2 -32"/><path d="M477 179l-7 -33"/><path d="M504 179l-7 -33"/><path d="M559 179l-6 -32"/><path d="M586 179l-8 -31"/><path d="M190 202l32 3"/><path d="M218 202l34 4"/><path d="M518 202l-3 -31"/><path d="M545 202l-4 -31"/><path d="M573 202l-2 -33"/><path d="M532 226l-2 -35"/><path d="M559 226l-10 -31"/><path d="M614 226l-10 -30"/><path d="M190 249l31 0"/><path d="M218 249l33 -12"/><path d="M409 249l11 -32"/><path d="M491 249l-1 -34"/><path d="M518 249l2 -33"/><path d="M545 249l3 -30"/><path d="M600 249l0 -32"/><path d="M204 272l31 -2"/><path d="M231 272l32 -11"/><path d="M259 272l30 -14"/><path d="M477 272l5 -33"/><path d="M504 272l3 -34"/><path d="M532 272l2 -33"/><path d="M559 272l-1 -30"/><path d="M586 272l-5 -32"/><path d="M245 296l26 -17"/><path d="M272 296l25 -22"/><path d="M327 296l12 -33"/><path d="M436 296l13 -29"/><path d="M463 296l4 -33"/><path d="M491 296l1 -34"/><path d="M518 296l4 -31"/><path d="M545 296l1 -32"/><path d="M573 296l-3 -31"/><path d="M259 319l25 -23"/><path d="M286 319l21 -23"/><path d="M341 319l13 -31"/><path d="M368 319l17 -29"/><path d="M395 319l8 -33"/><path d="M450 319l5 -34"/><path d="M477 319l7 -33"/><path d="M559 319l-5 -30"/><path d="M245 342l22 -22"/><path d="M300 342l20 -27"/><path d="M327 342l16 -29"/><path d="M354 342l10 -30"/><path d="M382 342l6 -32"/><path d="M436 342l5 -32"/><path d="M518 342l1 -31"/><path d="M545 342l-3 -30"/><path d="M286 366l18 -24"/><path d="M341 366l15 -27"/><path d="M395 366l6 -30"/><path d="M423 366l7 -31"/><path d="M450 366l7 -32"/><path d="M477 366l3 -32"/><path d="M532 366l1 -32"/><path d="M300 389l19 -24"/><path d="M409 389l3 -32"/><path d="M436 389l1 -31"/><path d="M463 389l1 -31"/><path d="M491 389l4 -30"/><path d="M573 389l-2 -30"/><path d="M341 412l11 -29"/><path d="M395 412l13 -32"/><path d="M423 412l5 -31"/><path d="M477 412l1 -32"/><path d="M245 435l20 -24"/><path d="M327 435l16 -28"/><path d="M436 435l4 -30"/><path d="M491 435l-5 -32"/><path d="M518 435l2 -31"/><path d="M313 459l10 -29"/><path d="M423 459l9 -30"/><path d="M477 459l9 -30"/><path d="M532 459l0 -32"/><path d="M559 459l4 -30"/><path d="M272 482l16 -26"/><path d="M300 482l8 -30"/><path d="M463 482l-2 -31"/><path d="M518 482l-6 -30"/><path d="M341 505l6 -31"/><path d="M477 505l6 -30"/><path d="M504 505l5 -31"/><path d="M436 529l6 -30"/><path d="M545 529l-1 -30"/></g><g marker-end="url(#a4)"><path d="M354 16l-35 -10"/><path d="M436 16l-28 -22"/><path d="M313 39l-36 3"/><path d="M341 39l-34 -11"/><path d="M368 39l-39 -18"/><path d="M395 39l-29 -22"/><path d="M504 39l-23 -28"/><path d="M272 63l-28 23"/><path d="M300 63l-41 4"/><path d="M327 63l-44 0"/><path d="M354 63l-40 -17"/><path d="M382 63l-37 -16"/><path d="M436 63l-23 -31"/><path d="M491 63l-22 -29"/><path d="M259 86l-25 29"/><path d="M286 86l-45 19"/><path d="M313 86l-44 11"/><path d="M341 86l-39 -14"/><path d="M368 86l-33 -22"/><path d="M395 86l-29 -30"/><path d="M423 86l-27 -28"/><path d="M450 86l-21 -31"/><path d="M245 109l-16 37"/><path d="M272 109l-37 31"/><path d="M300 109l-49 2"/><path d="M327 109l-40 -27"/><path d="M354 109l-31 -37"/><path d="M382 109l-30 -39"/><path d="M409 109l-17 -34"/><path d="M436 109l-20 -36"/><path d="M231 132l7 41"/><path d="M259 132l-15 34"/><path d="M313 132l-33 -36"/><path d="M341 132l-27 -41"/><path d="M368 132l-26 -41"/><path d="M395 132l-19 -42"/><path d="M423 132l-11 -38"/><path d="M450 132l-14 -36"/><path d="M245 156l16 39"/><path d="M327 156l-10 -48"/><path d="M354 156l-15 -47"/><path d="M382 156l-6 -47"/><path d="M409 156l-7 -41"/><path d="M436 156l-4 -38"/><path d="M463 156l-8 -35"/><path d="M491 156l-9 -35"/><path d="M231 179l33 25"/><path d="M259 179l40 17"/><path d="M286 179l36 -19"/><path d="M313 179l24 -42"/><path d="M341 179l-1 -49"/><path d="M368 179l0 -48"/><path d="M395 179l-7 -47"/><path d="M423 179l-3 -36"/><path d="M245 202l36 8"/><path d="M272 202l46 -15"/><path d="M300 202l30 -39"/><path d="M327 202l25 -42"/><path d="M354 202l5 -49"/><path d="M382 202l11 -43"/><path d="M409 202l6 -39"/><path d="M436 202l0 -36"/><path d="M463 202l-2 -39"/><path d="M491 202l0 -37"/><path d="M231 226l39 -5"/><path d="M259 226l38 -14"/><path d="M286 226l39 -22"/><path d="M313 226l28 -40"/><path d="M341 226l16 -43"/><path d="M368 226l13 -46"/><path d="M395 226l4 -40"/><path d="M423 226l3 -41"/><path d="M450 226l6 -35"/><path d="M477 226l-2 -37"/><path d="M504 226l-1 -36"/><path d="M245 249l34 -11"/><path d="M272 249l33 -18"/><path d="M300 249l33 -24"/><path d="M327 249l22 -36"/><path d="M354 249l14 -35"/><path d="M382 249l21 -36"/><path d="M436 249l6 -37"/><path d="M463 249l10 -34"/><path d="M286 272l25 -25"/><path d="M313 272l22 -31"/><path d="M341 272l18 -36"/><path d="M368 272l13 -35"/><path d="M395 272l7 -39"/><path d="M423 272l10 -34"/><path d="M450 272l10 -34"/><path d="M300 296l30 -22"/><path d="M354 296l16 -33"/><path d="M382 296l16 -33"/><path d="M409 296l10 -35"/><path d="M423 319l14 -32"/><path d="M409 342l6 -35"/><path d="M463 342l8 -35"/></g></g>
</g>
<rect x="0" y="0" width="82" height="70.5" fill="#c3c3c3"/>
<path d="M7.5 46.3H74" stroke="#5a5a5a" stroke-width="2.6" fill="none"/>
<path d="M60.5 39.8L76.5 46.3L60.5 52.8L66 46.3Z" stroke="#5a5a5a" stroke-width="2" fill="#c3c3c3" stroke-linejoin="miter"/>
<text x="9.5" y="24.6" font-size="24.6" fill="#333" stroke="#333" stroke-width="0.8">30 m/s</text>
<rect x="649.5" y="0" width="381.4" height="51.5" fill="#fff"/>
<text x="660.5" y="37.8" font-size="32.9" fill="#111">2012-08-17_12:00:00 UTC</text>
</g>
<path d="M0.8 0V552.2H1033.5V0" stroke="#3a1414" stroke-width="1.7" fill="none"/>
<path d="M0 1.5H1034.4" stroke="#a8484f" stroke-width="3" fill="none"/>
<path d="M1.5 0V72" stroke="#a8484f" stroke-width="3" fill="none"/>
<text x="57.9" y="624.1" font-size="38.8" text-anchor="middle">105°E</text>
<text x="244.5" y="624.1" font-size="38.8" text-anchor="middle">110°E</text>
<text x="431.1" y="624.1" font-size="38.8" text-anchor="middle">115°E</text>
<text x="617.8" y="624.1" font-size="38.8" text-anchor="middle">120°E</text>
<text x="804.4" y="624.1" font-size="38.8" text-anchor="middle">125°E</text>
<text x="991" y="624.1" font-size="38.8" text-anchor="middle">130°E</text>
<text x="-43.6" y="565" font-size="38.6" text-anchor="end">12°N</text>
<text x="-43.6" y="488.5" font-size="38.6" text-anchor="end">14°N</text>
<text x="-43.6" y="411.3" font-size="38.6" text-anchor="end">16°N</text>
<text x="-43.6" y="333.4" font-size="38.6" text-anchor="end">18°N</text>
<text x="-43.6" y="254.5" font-size="38.6" text-anchor="end">20°N</text>
<text x="-43.6" y="174.7" font-size="38.6" text-anchor="end">22°N</text>
<text x="-43.6" y="93.7" font-size="38.6" text-anchor="end">24°N</text>
<path d="M57.3 552.6v18.5M243.9 552.6v18.5M430.5 552.6v18.5M617.2 552.6v18.5M803.8 552.6v18.5M990.4 552.6v18.5M1 551.7h-18.6M1 475.2h-18.6M1 398h-18.6M1 320.1h-18.6M1 241.2h-18.6M1 161.4h-18.6M1 80.4h-18.6" stroke="#7d7d7d" stroke-width="2.5" fill="none"/>
</g>
<g>
<rect x="417.3" y="2039.3" width="55.3" height="43.2" fill="#3232a5"/>
<rect x="472.3" y="2039.3" width="55.3" height="43.2" fill="#3232cd"/>
<rect x="527.3" y="2039.3" width="55.3" height="43.2" fill="#3232fa"/>
<rect x="582.2" y="2039.3" width="55.3" height="43.2" fill="#284bff"/>
<rect x="637.2" y="2039.3" width="55.3" height="43.2" fill="#0a5aff"/>
<rect x="692.2" y="2039.3" width="55.3" height="43.2" fill="#008cff"/>
<rect x="747.2" y="2039.3" width="55.3" height="43.2" fill="#00b9ff"/>
<rect x="802.1" y="2039.3" width="55.3" height="43.2" fill="#00dcff"/>
<rect x="857.1" y="2039.3" width="55.3" height="43.2" fill="#00ffff"/>
<rect x="912.1" y="2039.3" width="55.3" height="43.2" fill="#00ffd2"/>
<rect x="967.1" y="2039.3" width="55.3" height="43.2" fill="#00ffa0"/>
<rect x="1022.1" y="2039.3" width="55.3" height="43.2" fill="#64ff82"/>
<rect x="1077" y="2039.3" width="55.3" height="43.2" fill="#a0ff5a"/>
<rect x="1132" y="2039.3" width="55.3" height="43.2" fill="#dcff2d"/>
<rect x="1187" y="2039.3" width="55.3" height="43.2" fill="#fff200"/>
<rect x="1242" y="2039.3" width="55.3" height="43.2" fill="#ffc814"/>
<rect x="1297" y="2039.3" width="55.3" height="43.2" fill="#ffa523"/>
<rect x="1351.9" y="2039.3" width="55.3" height="43.2" fill="#ff8228"/>
<rect x="1406.9" y="2039.3" width="55.3" height="43.2" fill="#ff5a2d"/>
<rect x="1461.9" y="2039.3" width="55.3" height="43.2" fill="#ff3e32"/>
<rect x="1516.9" y="2039.3" width="55.3" height="43.2" fill="#ff3232"/>
<rect x="1571.8" y="2039.3" width="55.3" height="43.2" fill="#de3232"/>
<rect x="1626.8" y="2039.3" width="55.3" height="43.2" fill="#ac3232"/>
<path d="M472.3 2039.3V2082.5M527.3 2039.3V2082.5M582.2 2039.3V2082.5M637.2 2039.3V2082.5M692.2 2039.3V2082.5M747.2 2039.3V2082.5M802.1 2039.3V2082.5M857.1 2039.3V2082.5M912.1 2039.3V2082.5M967.1 2039.3V2082.5M1022.1 2039.3V2082.5M1077 2039.3V2082.5M1132 2039.3V2082.5M1187 2039.3V2082.5M1242 2039.3V2082.5M1297 2039.3V2082.5M1351.9 2039.3V2082.5M1406.9 2039.3V2082.5M1461.9 2039.3V2082.5M1516.9 2039.3V2082.5M1571.8 2039.3V2082.5M1626.8 2039.3V2082.5" stroke="#000" stroke-opacity="0.45" stroke-width="1.6" fill="none"/>
<rect x="417.3" y="2039.3" width="1264.5" height="43.2" fill="none" stroke="#000" stroke-opacity="0.3" stroke-width="1.5"/>
<text x="472.3" y="2148.5" font-size="46.5" text-anchor="middle">968</text>
<text x="582.2" y="2148.5" font-size="46.5" text-anchor="middle">972</text>
<text x="692.2" y="2148.5" font-size="46.5" text-anchor="middle">976</text>
<text x="802.1" y="2148.5" font-size="46.5" text-anchor="middle">980</text>
<text x="912.1" y="2148.5" font-size="46.5" text-anchor="middle">984</text>
<text x="1022.1" y="2148.5" font-size="46.5" text-anchor="middle">988</text>
<text x="1132" y="2148.5" font-size="46.5" text-anchor="middle">992</text>
<text x="1242" y="2148.5" font-size="46.5" text-anchor="middle">996</text>
<text x="1351.9" y="2148.5" font-size="46.5" text-anchor="middle">1000</text>
<text x="1461.9" y="2148.5" font-size="46.5" text-anchor="middle">1004</text>
<text x="1571.8" y="2148.5" font-size="46.5" text-anchor="middle">1008</text>
<text x="1715.5" y="2113" font-size="56.8">Pair(hPa)</text>
</g>
</svg></body></html>
